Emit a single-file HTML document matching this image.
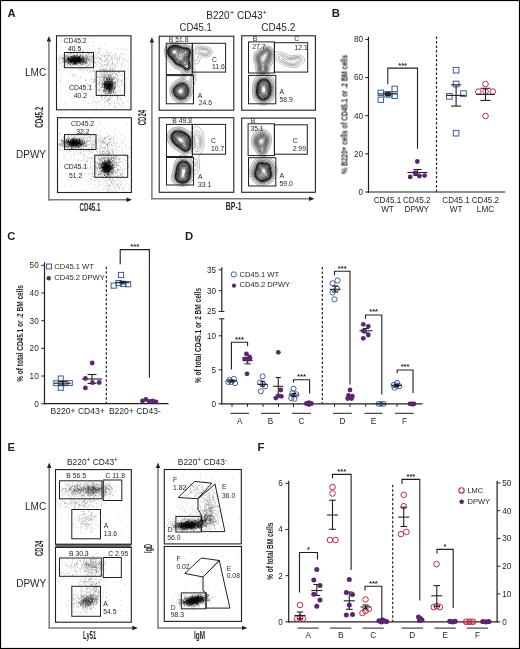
<!DOCTYPE html>
<html><head><meta charset="utf-8"><style>
html,body{margin:0;padding:0;background:#fff;}
svg{display:block;will-change:transform;}
text{font-family:"Liberation Sans", sans-serif;fill:#231f20;}
</style></head><body>
<svg width="520" height="649" viewBox="0 0 520 649"><rect x="0.5" y="0.5" width="519" height="648" fill="#fff" stroke="#000" stroke-width="1.2"/><text x="7.5" y="17.2" font-size="11.3" font-weight="bold" fill="#000">A</text><text x="331.8" y="17.0" font-size="11.3" font-weight="bold" fill="#000">B</text><text x="7.3" y="240" font-size="11.3" font-weight="bold" fill="#000">C</text><text x="185" y="240" font-size="11.3" font-weight="bold" fill="#000">D</text><text x="7.5" y="451.3" font-size="11.3" font-weight="bold" fill="#000">E</text><text x="257.4" y="451.2" font-size="11.3" font-weight="bold" fill="#000">F</text><line x1="48.9" y1="39.5" x2="48.9" y2="200.5" stroke="#7a7a7a" stroke-width="1.5"/><polygon points="46.699999999999996,41.5 48.9,36.0 51.1,41.5" fill="#231f20"/><line x1="48.15" y1="199.8" x2="128.5" y2="199.8" stroke="#7a7a7a" stroke-width="1.5"/><polygon points="126.5,197.60000000000002 132.0,199.8 126.5,202.0" fill="#231f20"/><path d="M95.0 74.2h0.55M89.5 57.5h0.55M85.9 56.1h0.55M96.2 88.8h0.55M85.2 61.3h0.55M104.8 75.0h0.55M97.1 57.0h0.55M94.4 79.7h0.55M68.1 63.6h0.55M58.2 66.7h0.55M69.7 73.8h0.55M98.1 67.4h0.55M94.0 71.6h0.55M64.4 63.3h0.55M75.4 58.7h0.55M116.2 58.7h0.55M94.3 82.4h0.55M83.3 68.4h0.55M97.2 70.9h0.55M70.5 71.1h0.55M122.2 48.3h0.55M112.2 71.7h0.55M82.2 98.0h0.55M110.2 53.2h0.55M96.5 78.1h0.55M91.2 79.6h0.55M93.7 79.3h0.55M123.8 60.5h0.55M99.1 63.5h0.55M97.5 53.4h0.55M83.4 67.3h0.55M113.0 86.0h0.55M68.5 58.9h0.55M107.9 42.1h0.55M85.7 68.6h0.55M120.1 79.7h0.55M88.5 64.8h0.55M90.0 91.3h0.55M86.4 65.7h0.55M102.1 68.3h0.55M91.1 54.4h0.55M94.8 63.8h0.55M118.3 79.1h0.55M94.5 79.4h0.55M88.2 84.7h0.55M94.9 78.2h0.55M69.2 74.9h0.55M61.2 41.5h0.55M88.9 57.4h0.55M98.3 101.4h0.55M78.4 61.3h0.55M99.1 76.9h0.55M91.5 67.1h0.55M109.0 77.3h0.55M74.3 68.9h0.55M95.7 55.2h0.55M100.2 58.0h0.55M114.4 72.7h0.55M96.8 61.7h0.55M92.6 42.0h0.55M72.4 75.1h0.55M60.1 80.6h0.55M78.1 80.9h0.55M97.6 48.5h0.55M120.0 90.2h0.55M93.7 66.2h0.55M91.8 56.3h0.55M117.0 62.4h0.55M94.0 58.9h0.55M82.5 52.1h0.55M120.1 67.8h0.55M114.3 70.2h0.55M81.1 65.4h0.55M83.8 70.1h0.55M87.5 65.8h0.55M67.4 58.7h0.55M128.1 60.6h0.55M73.9 74.7h0.55M123.1 49.6h0.55M90.8 61.2h0.55M59.8 80.3h0.55M94.5 71.0h0.55M80.0 76.4h0.55M84.2 68.0h0.55M72.8 53.0h0.55M121.7 62.9h0.55M100.8 69.5h0.55M86.2 62.9h0.55M107.6 65.8h0.55M92.0 70.3h0.55M118.5 79.5h0.55M102.7 62.1h0.55M67.4 83.3h0.55M114.3 68.0h0.55M105.8 80.9h0.55M111.6 82.9h0.55M85.9 91.2h0.55M70.1 82.1h0.55M104.9 82.2h0.55M72.1 46.4h0.55M111.3 55.8h0.55M94.8 81.8h0.55M62.1 40.5h0.55M100.2 70.6h0.55M90.1 70.5h0.55M77.8 48.8h0.55M91.7 56.4h0.55M62.1 77.1h0.55M93.8 75.7h0.55M75.2 60.8h0.55M75.0 57.6h0.55M98.9 59.0h0.55M102.1 74.8h0.55M112.8 68.7h0.55M94.7 49.7h0.55M85.8 80.4h0.55M93.4 71.1h0.55M89.2 86.2h0.55M94.6 39.2h0.55M81.2 42.4h0.55M121.7 70.7h0.55M71.5 56.8h0.55M117.6 72.2h0.55M96.0 69.3h0.55M95.8 81.3h0.55M106.1 73.0h0.55M74.1 77.2h0.55M81.3 85.3h0.55M69.6 68.1h0.55M94.9 51.5h0.55M129.4 90.4h0.55M85.7 80.8h0.55M100.0 69.1h0.55M96.7 54.9h0.55M89.6 67.5h0.55M118.8 74.7h0.55M94.9 91.4h0.55M83.9 64.5h0.55M58.7 92.0h0.55M114.3 82.8h0.55M108.4 71.5h0.55M99.3 66.5h0.55M90.9 70.8h0.55M125.2 77.8h0.55M93.8 61.9h0.55M82.3 92.4h0.55M105.1 70.9h0.55M88.1 54.5h0.55M93.7 82.2h0.55M87.1 66.8h0.55M90.6 71.5h0.55M63.1 66.7h0.55M77.9 82.4h0.55M79.6 78.1h0.55M125.5 65.6h0.55M83.0 72.7h0.55M95.0 56.1h0.55M104.2 98.2h0.55M89.8 67.2h0.55M74.1 74.5h0.55M70.1 54.5h0.55M120.6 57.3h0.55M116.6 91.3h0.55M100.2 77.7h0.55M83.1 51.1h0.55M95.8 90.7h0.55M114.2 56.8h0.55M77.9 62.9h0.55M100.8 67.1h0.55M99.3 74.2h0.55M89.0 69.4h0.55M99.1 68.8h0.55M105.1 96.2h0.55M106.8 70.8h0.55M61.3 75.4h0.55M112.1 79.9h0.55M92.0 46.1h0.55M87.6 60.5h0.55M107.7 101.6h0.55M99.3 59.1h0.55M71.6 69.2h0.55M91.5 53.9h0.55M97.3 53.9h0.55M117.2 84.9h0.55M116.7 63.4h0.55M105.3 68.2h0.55M87.2 65.3h0.55M69.0 49.8h0.55M110.9 67.3h0.55M99.3 84.0h0.55M60.3 59.0h0.55M98.5 75.5h0.55M87.5 84.4h0.55M99.2 53.0h0.55M76.4 81.3h0.55M104.3 43.4h0.55M122.0 78.4h0.55M121.9 64.6h0.55M89.1 54.2h0.55M126.8 60.9h0.55M98.3 46.6h0.55M87.3 83.8h0.55M70.0 85.0h0.55M101.7 55.4h0.55M85.0 63.6h0.55M94.0 62.5h0.55M78.5 65.7h0.55M74.5 51.9h0.55M94.0 82.4h0.55M64.4 70.0h0.55M82.0 56.3h0.55M112.1 62.7h0.55M125.0 59.1h0.55M102.7 66.8h0.55M79.9 78.2h0.55M91.9 78.4h0.55M94.1 54.8h0.55M93.0 70.7h0.55M114.2 57.3h0.55M94.2 45.9h0.55M108.0 54.9h0.55M58.9 69.2h0.55M117.1 48.7h0.55M73.2 59.6h0.55M72.4 75.3h0.55M78.9 59.9h0.55M106.7 59.4h0.55M103.7 56.4h0.55M70.8 44.3h0.55M99.9 69.6h0.55M98.2 70.7h0.55M63.9 55.8h0.55M68.3 80.5h0.55M111.4 56.5h0.55M67.2 65.0h0.55M105.5 54.9h0.55M115.8 54.9h0.55M89.3 48.9h0.55M75.5 89.4h0.55M111.4 64.4h0.55M77.6 43.5h0.55M87.1 69.6h0.55M93.3 68.7h0.55M72.6 69.1h0.55M94.2 88.1h0.55M79.7 69.1h0.55M69.5 55.5h0.55M77.2 53.7h0.55M86.5 59.4h0.55M81.5 58.9h0.55M67.8 54.3h0.55M74.7 56.7h0.55M81.3 60.0h0.55M58.9 60.4h0.55M59.2 56.3h0.55M73.9 47.5h0.55M79.3 60.9h0.55M75.8 57.5h0.55M72.8 54.1h0.55M74.2 56.7h0.55M79.3 52.8h0.55M81.3 60.9h0.55M76.0 57.4h0.55M85.7 50.0h0.55M84.4 61.5h0.55M82.0 62.3h0.55M68.8 58.4h0.55M86.9 62.6h0.55M80.9 50.9h0.55M85.5 67.0h0.55M92.1 61.4h0.55M75.9 44.8h0.55M83.3 51.0h0.55M59.8 56.2h0.55M95.8 57.8h0.55M81.8 70.5h0.55M100.3 59.4h0.55M74.6 52.4h0.55M68.3 62.6h0.55M83.5 60.7h0.55M91.9 55.4h0.55M77.2 64.4h0.55M86.2 66.4h0.55M83.6 58.1h0.55M83.1 54.0h0.55M77.2 61.9h0.55M69.6 54.8h0.55M90.6 62.3h0.55M69.6 59.9h0.55M88.6 43.4h0.55M76.3 63.3h0.55M87.5 70.2h0.55M93.9 61.9h0.55M82.2 64.7h0.55M70.4 59.8h0.55M90.7 71.7h0.55M75.8 59.7h0.55M80.8 68.1h0.55M77.6 68.8h0.55M64.5 58.9h0.55M75.2 64.7h0.55M92.6 50.9h0.55M65.2 62.0h0.55M68.8 50.9h0.55M92.5 63.0h0.55M84.9 57.1h0.55M92.4 58.6h0.55M93.4 54.5h0.55M66.0 61.2h0.55M68.2 64.1h0.55M81.6 54.5h0.55M79.0 57.9h0.55M90.8 56.2h0.55M71.9 67.3h0.55M109.3 72.0h0.55M78.9 61.3h0.55M99.5 59.3h0.55M64.3 60.7h0.55M84.3 55.0h0.55M87.3 55.4h0.55M76.0 61.3h0.55M86.7 58.0h0.55M85.0 54.7h0.55M72.9 53.9h0.55M93.8 59.8h0.55M67.6 57.9h0.55M74.9 64.2h0.55M72.7 75.2h0.55M91.4 59.3h0.55M88.0 72.3h0.55M74.7 57.8h0.55M95.0 63.0h0.55M87.4 57.0h0.55M104.9 70.3h0.55M85.9 64.1h0.55M75.3 62.6h0.55M87.6 58.0h0.55M67.6 58.0h0.55M69.5 58.0h0.55M81.5 66.7h0.55M105.7 60.1h0.55M61.1 57.0h0.55M79.1 48.0h0.55M82.8 50.9h0.55M82.2 59.3h0.55M73.6 59.6h0.55M70.4 56.3h0.55M103.8 71.9h0.55M96.5 64.2h0.55M68.5 68.7h0.55M77.2 59.6h0.55M73.9 60.6h0.55M71.9 59.5h0.55M62.8 57.8h0.55M109.9 59.6h0.55M74.7 63.2h0.55M87.9 53.3h0.55M75.1 65.5h0.55M81.8 60.7h0.55M99.8 55.9h0.55M79.2 56.9h0.55M98.9 48.3h0.55M68.6 56.8h0.55M87.3 63.6h0.55M97.5 50.6h0.55M88.5 58.2h0.55M68.7 63.2h0.55M65.1 47.5h0.55M72.8 51.0h0.55M68.9 62.2h0.55M82.4 69.5h0.55M75.2 50.8h0.55M67.4 54.5h0.55M61.0 62.6h0.55M69.0 48.1h0.55M87.8 59.3h0.55M83.0 60.6h0.55M86.8 60.2h0.55M95.3 62.5h0.55M83.5 62.5h0.55M57.6 59.0h0.55M74.4 61.2h0.55M59.0 69.8h0.55M79.5 52.7h0.55M76.7 55.7h0.55M79.3 56.2h0.55M85.7 55.7h0.55M77.5 65.9h0.55M114.0 54.0h0.55M71.5 55.0h0.55M89.0 53.1h0.55M71.2 59.8h0.55M64.3 54.3h0.55M71.3 47.4h0.55M57.8 57.5h0.55M80.1 58.9h0.55M89.2 63.3h0.55M76.9 54.7h0.55M86.8 56.5h0.55M61.6 55.2h0.55M98.3 61.3h0.55M94.2 57.1h0.55M91.1 56.4h0.55M75.8 74.9h0.55M88.7 57.0h0.55M76.8 62.0h0.55M94.9 57.1h0.55M78.2 60.7h0.55M96.4 61.9h0.55M89.4 53.4h0.55M90.2 72.6h0.55M88.8 61.5h0.55M80.2 70.7h0.55M65.0 59.3h0.55M84.4 64.5h0.55M71.9 61.8h0.55M74.1 60.7h0.55M76.2 53.2h0.55M77.7 65.3h0.55M64.5 58.6h0.55M87.3 53.6h0.55M80.6 53.6h0.55M93.9 73.9h0.55M106.3 58.7h0.55M88.4 60.7h0.55M79.4 69.3h0.55M59.5 66.3h0.55M77.3 68.5h0.55M80.6 56.0h0.55M81.9 64.4h0.55M78.5 62.9h0.55M70.7 47.2h0.55M117.9 63.5h0.55M109.6 60.3h0.55M119.4 57.7h0.55M100.2 59.1h0.55M121.1 53.1h0.55M121.1 56.8h0.55M95.9 66.3h0.55M106.9 53.5h0.55M104.1 64.7h0.55M121.1 57.9h0.55M112.5 63.6h0.55M100.9 61.8h0.55M107.6 57.3h0.55M102.6 60.3h0.55M108.3 57.2h0.55M103.3 65.6h0.55M110.4 64.4h0.55M121.2 62.9h0.55M116.9 58.4h0.55M128.4 68.5h0.55M86.5 55.2h0.55M115.3 63.9h0.55M116.1 59.6h0.55M113.0 63.3h0.55M107.1 65.1h0.55M83.1 63.2h0.55M96.6 64.8h0.55M105.5 55.6h0.55M112.1 55.4h0.55M98.0 52.2h0.55M107.7 62.5h0.55M119.3 59.3h0.55M119.5 60.1h0.55M107.0 62.9h0.55M119.6 58.3h0.55M105.3 59.2h0.55M108.9 55.5h0.55M119.3 58.0h0.55M113.1 55.9h0.55M111.9 62.0h0.55M103.4 70.1h0.55M112.1 68.9h0.55M118.6 56.7h0.55M103.8 62.2h0.55M108.7 60.2h0.55M104.9 51.0h0.55M105.5 48.9h0.55M112.1 56.4h0.55M100.1 58.9h0.55M111.0 52.8h0.55M88.8 54.7h0.55M85.5 55.2h0.55M125.5 54.7h0.55M115.2 53.1h0.55M111.3 58.4h0.55M107.3 62.8h0.55M127.3 61.0h0.55M109.4 55.1h0.55M114.4 58.8h0.55M117.2 59.8h0.55M127.1 50.1h0.55M104.7 64.4h0.55M104.1 56.0h0.55M105.1 53.1h0.55M109.3 72.2h0.55M120.6 54.5h0.55M98.4 58.0h0.55M119.0 55.9h0.55M100.4 64.4h0.55M117.5 58.1h0.55M95.7 52.3h0.55M100.3 48.8h0.55M116.2 56.8h0.55M113.3 69.3h0.55M120.9 54.2h0.55M117.6 65.8h0.55M99.8 55.2h0.55M106.8 52.0h0.55M124.2 48.0h0.55M95.8 58.7h0.55M105.5 60.8h0.55M111.0 58.9h0.55M120.5 49.3h0.55M108.0 56.4h0.55M109.5 61.1h0.55M98.0 56.8h0.55M116.7 61.7h0.55M100.5 70.2h0.55M111.3 72.5h0.55M116.6 61.1h0.55M105.7 57.3h0.55M105.7 57.2h0.55M116.2 58.0h0.55M103.1 54.0h0.55M107.5 55.5h0.55M106.0 65.2h0.55M112.0 62.5h0.55M111.9 60.3h0.55M106.6 58.5h0.55M116.4 54.6h0.55M122.7 60.2h0.55M99.8 57.6h0.55M100.6 60.8h0.55M100.1 65.7h0.55M99.4 48.6h0.55M100.0 50.0h0.55M107.6 65.3h0.55M115.1 53.3h0.55M99.6 68.9h0.55M111.5 60.0h0.55M119.6 72.3h0.55M122.3 60.7h0.55M111.9 63.1h0.55M101.3 54.7h0.55M108.6 55.3h0.55M107.3 60.5h0.55M106.7 59.2h0.55M112.8 65.2h0.55M102.6 55.9h0.55M90.0 55.4h0.55M113.9 60.2h0.55M96.8 58.1h0.55M108.3 62.5h0.55M101.5 58.7h0.55M88.0 54.2h0.55M125.8 49.1h0.55M104.3 61.1h0.55M103.9 56.0h0.55M107.3 60.0h0.55M107.1 50.6h0.55M106.4 55.7h0.55M102.0 61.1h0.55M115.0 64.5h0.55M102.5 64.6h0.55M120.9 65.7h0.55M123.3 59.3h0.55M106.1 64.1h0.55M93.0 61.0h0.55M102.2 58.2h0.55M88.8 55.5h0.55M107.8 64.4h0.55M118.9 59.6h0.55M105.9 55.8h0.55M112.4 58.8h0.55M114.7 68.8h0.55M107.6 52.5h0.55M98.5 52.7h0.55M94.8 66.5h0.55M110.5 52.4h0.55M115.2 66.3h0.55M104.0 56.6h0.55M104.3 61.4h0.55M115.0 65.9h0.55M121.3 65.9h0.55M123.0 63.3h0.55M91.2 59.3h0.55M111.5 58.1h0.55M117.1 84.4h0.55M98.7 102.4h0.55M114.7 90.2h0.55M117.3 98.6h0.55M111.4 63.4h0.55M101.2 83.4h0.55M98.2 90.0h0.55M119.9 83.2h0.55M96.7 108.3h0.55M103.5 75.7h0.55M110.4 92.3h0.55M100.9 95.9h0.55M103.1 78.8h0.55M109.8 95.7h0.55M101.7 91.3h0.55M100.9 101.8h0.55M107.5 86.7h0.55M115.2 96.9h0.55M120.7 91.3h0.55M102.0 82.6h0.55M113.1 93.8h0.55M122.0 92.2h0.55M118.6 103.2h0.55M109.6 73.1h0.55M96.2 73.6h0.55M123.9 79.5h0.55M120.3 93.9h0.55M125.2 98.0h0.55M107.0 86.0h0.55M108.9 89.8h0.55M102.7 87.7h0.55M124.1 71.0h0.55M110.6 78.9h0.55M109.9 96.4h0.55M107.4 95.7h0.55M92.1 99.1h0.55M102.0 94.2h0.55M109.8 62.1h0.55M100.4 90.2h0.55M123.5 90.9h0.55M110.6 73.9h0.55M122.3 106.1h0.55M108.3 85.8h0.55M91.8 96.8h0.55M120.6 93.4h0.55M98.1 101.4h0.55M95.7 85.9h0.55M110.8 96.8h0.55M112.2 91.9h0.55M100.4 75.1h0.55M108.6 80.9h0.55M94.9 75.3h0.55M103.1 69.5h0.55M94.5 71.6h0.55M109.8 92.1h0.55M128.1 73.0h0.55M101.2 97.1h0.55M105.8 84.7h0.55M125.1 84.6h0.55M96.4 74.8h0.55M111.4 91.1h0.55M94.3 78.1h0.55M113.3 93.8h0.55M101.6 94.2h0.55M113.7 70.2h0.55M104.9 92.2h0.55M102.3 66.6h0.55M105.2 95.5h0.55M123.8 66.1h0.55M117.6 100.3h0.55M117.8 89.5h0.55M96.4 94.3h0.55M100.8 62.8h0.55M126.2 78.9h0.55M122.7 103.9h0.55M123.5 87.8h0.55M96.0 86.2h0.55M86.0 71.0h0.55M108.9 78.1h0.55M106.4 86.9h0.55M127.3 101.0h0.55M107.6 100.1h0.55M100.2 84.6h0.55M117.1 75.6h0.55M105.2 74.8h0.55M109.2 104.3h0.55M100.5 90.3h0.55M99.0 76.5h0.55M95.6 102.5h0.55M100.8 95.0h0.55M104.7 96.0h0.55M110.9 90.8h0.55M114.1 82.2h0.55M104.0 70.8h0.55M103.6 73.8h0.55M106.6 78.4h0.55M109.0 92.5h0.55M93.8 79.9h0.55M98.6 95.5h0.55M125.1 96.5h0.55M104.5 102.7h0.55M92.9 103.0h0.55M101.4 60.2h0.55M97.7 89.7h0.55M105.9 89.0h0.55M93.2 81.2h0.55M112.7 90.2h0.55M120.0 88.8h0.55M110.6 68.8h0.55M95.5 101.3h0.55M98.6 93.3h0.55M107.4 77.6h0.55M104.5 82.9h0.55M103.1 95.5h0.55M114.5 82.2h0.55M98.9 90.8h0.55M107.0 98.3h0.55M107.7 86.3h0.55M99.4 78.9h0.55M98.0 84.0h0.55M103.7 95.4h0.55M104.0 86.0h0.55M95.8 104.4h0.55M113.1 105.9h0.55M116.0 102.9h0.55M105.5 95.2h0.55M119.8 105.0h0.55M112.2 95.7h0.55M120.8 81.3h0.55M112.2 79.1h0.55M101.1 81.7h0.55M106.5 89.5h0.55M112.6 73.5h0.55M128.3 99.8h0.55M115.4 84.3h0.55M107.1 93.6h0.55M112.2 70.8h0.55M89.1 98.2h0.55M111.8 86.9h0.55M122.1 75.9h0.55M109.7 103.0h0.55M106.0 83.7h0.55M109.2 83.4h0.55M123.9 78.7h0.55M117.0 75.1h0.55M114.9 86.9h0.55M81.4 87.9h0.55M97.0 83.4h0.55M123.8 76.5h0.55M97.1 102.8h0.55M109.2 103.8h0.55M111.3 78.9h0.55M107.3 100.6h0.55M117.7 88.0h0.55M108.5 86.8h0.55M102.1 107.9h0.55M108.1 76.4h0.55M103.1 95.5h0.55M114.6 86.6h0.55M101.1 88.2h0.55M90.8 74.6h0.55M116.2 83.1h0.55M111.9 100.5h0.55M114.7 88.2h0.55M129.9 94.9h0.55M104.4 95.5h0.55M112.2 79.2h0.55M108.8 86.3h0.55M87.8 86.2h0.55M105.1 83.5h0.55M91.1 84.4h0.55M107.6 89.0h0.55M96.3 94.5h0.55M95.5 85.7h0.55M121.4 80.9h0.55M102.7 99.0h0.55M104.1 84.9h0.55M110.3 98.8h0.55M85.4 79.5h0.55M97.7 76.9h0.55M99.2 79.4h0.55M111.1 78.9h0.55M109.3 92.1h0.55M100.5 89.3h0.55M124.8 91.3h0.55M101.5 87.3h0.55M98.6 90.8h0.55M116.8 79.6h0.55M105.9 99.4h0.55M102.9 89.9h0.55M103.6 97.8h0.55M108.7 99.4h0.55M107.5 101.2h0.55M117.2 102.9h0.55M128.5 103.1h0.55M123.6 103.4h0.55M116.8 94.8h0.55M111.0 101.7h0.55M110.1 91.2h0.55M119.0 100.1h0.55M108.5 100.7h0.55M110.2 104.0h0.55M101.8 97.3h0.55M114.3 102.7h0.55M109.0 99.1h0.55M105.3 101.7h0.55M121.4 96.7h0.55M124.2 106.2h0.55M108.4 105.9h0.55M100.3 93.3h0.55M101.7 100.0h0.55M109.4 99.4h0.55M112.8 91.3h0.55M116.0 94.9h0.55M106.7 99.9h0.55M102.8 95.1h0.55M104.0 101.9h0.55M116.7 104.8h0.55M104.0 98.0h0.55M104.6 104.2h0.55M95.7 108.2h0.55M108.1 98.1h0.55M114.7 107.2h0.55M114.7 107.3h0.55M113.1 108.1h0.55M122.0 101.5h0.55M123.5 102.8h0.55M112.7 97.4h0.55M109.7 105.9h0.55M101.5 105.2h0.55M114.8 103.4h0.55M94.3 101.5h0.55M117.2 98.2h0.55M112.7 90.1h0.55M117.4 98.7h0.55M119.0 92.8h0.55M117.5 100.8h0.55M118.5 97.4h0.55M105.4 98.5h0.55M109.8 96.9h0.55M106.4 93.4h0.55M121.4 107.5h0.55M118.6 107.8h0.55M105.1 101.2h0.55M100.9 94.9h0.55M119.8 98.6h0.55M106.9 106.0h0.55M126.4 104.4h0.55M102.3 103.9h0.55M123.0 99.5h0.55M105.8 107.1h0.55M113.1 96.5h0.55M109.0 98.2h0.55M114.4 102.5h0.55M121.2 105.5h0.55M99.5 104.0h0.55M119.2 104.3h0.55M120.2 99.3h0.55M104.4 106.7h0.55M103.5 91.2h0.55M120.2 98.4h0.55M109.6 95.0h0.55M101.4 96.2h0.55M109.1 103.8h0.55M93.6 105.8h0.55M102.5 96.7h0.55M114.5 55.6h0.55M57.8 74.2h0.55M126.7 86.7h0.55M74.9 42.2h0.55M78.3 107.0h0.55M118.5 72.7h0.55M123.1 54.0h0.55M111.4 92.1h0.55M81.3 96.2h0.55M91.0 82.5h0.55M118.7 103.6h0.55M83.1 42.4h0.55M116.5 74.8h0.55M114.8 90.8h0.55M91.4 103.6h0.55M123.3 83.3h0.55M85.1 80.4h0.55M112.4 64.5h0.55M104.2 78.1h0.55M81.2 76.9h0.55M96.1 102.8h0.55M101.6 97.0h0.55M96.5 90.4h0.55M64.7 104.2h0.55M128.5 92.8h0.55M59.3 70.1h0.55M126.8 91.4h0.55M96.1 57.7h0.55M65.9 70.4h0.55M117.6 96.8h0.55M88.8 38.4h0.55M109.6 57.3h0.55M118.1 71.9h0.55M96.6 98.8h0.55M60.2 55.8h0.55M117.8 96.7h0.55M108.2 53.9h0.55M124.3 58.2h0.55M76.6 76.8h0.55M115.0 84.2h0.55M121.5 100.9h0.55M83.0 100.9h0.55M87.1 54.3h0.55M81.4 91.0h0.55M73.8 64.4h0.55M81.2 93.2h0.55M64.6 102.2h0.55M113.5 71.3h0.55M88.3 103.6h0.55M98.8 45.2h0.55M77.7 48.1h0.55M83.3 92.4h0.55M112.6 58.4h0.55M91.5 79.1h0.55M100.9 72.6h0.55M88.0 46.6h0.55M98.0 91.6h0.55M123.4 90.7h0.55" stroke="#000" stroke-width="0.55" stroke-opacity="0.5" fill="none"/><path d="M79.6 59.7h0.55M79.4 60.9h0.55M88.3 59.9h0.55M93.8 57.4h0.55M82.6 57.0h0.55M91.5 59.0h0.55M76.5 62.8h0.55M87.0 56.7h0.55M74.2 55.8h0.55M78.1 59.7h0.55M74.2 57.9h0.55M73.9 57.8h0.55M81.2 64.5h0.55M61.6 59.7h0.55M73.7 61.5h0.55M69.4 59.6h0.55M68.7 62.1h0.55M77.8 59.5h0.55M80.0 59.3h0.55M64.6 61.8h0.55M79.3 59.5h0.55M84.9 63.7h0.55M68.3 57.7h0.55M89.4 64.3h0.55M71.1 56.5h0.55M71.9 58.5h0.55M64.3 60.1h0.55M66.8 56.4h0.55M84.3 58.0h0.55M76.4 61.9h0.55M83.5 59.0h0.55M77.4 57.5h0.55M91.0 61.9h0.55M68.2 60.0h0.55M82.7 61.4h0.55M91.6 64.1h0.55M72.7 59.7h0.55M66.7 60.7h0.55M78.2 68.1h0.55M77.8 53.7h0.55M71.6 60.3h0.55M67.0 57.4h0.55M74.1 61.0h0.55M75.7 57.3h0.55M83.3 58.4h0.55M73.0 55.9h0.55M70.7 62.0h0.55M64.1 59.8h0.55M82.7 58.9h0.55M78.9 56.6h0.55M87.5 63.3h0.55M78.9 54.7h0.55M68.6 62.9h0.55M90.7 60.9h0.55M87.0 58.2h0.55M75.5 60.0h0.55M80.4 55.4h0.55M84.5 64.0h0.55M67.8 55.9h0.55M79.8 58.0h0.55M58.0 62.4h0.55M78.2 58.6h0.55M93.9 60.4h0.55M71.0 60.3h0.55M68.7 57.7h0.55M80.1 58.3h0.55M73.4 65.0h0.55M83.9 62.4h0.55M81.2 61.5h0.55M88.7 59.9h0.55M91.8 57.1h0.55M75.0 55.9h0.55M74.2 61.6h0.55M88.6 58.0h0.55M77.0 58.9h0.55M71.1 56.4h0.55M77.5 54.8h0.55M77.9 60.1h0.55M71.7 57.0h0.55M65.9 65.6h0.55M66.3 64.7h0.55M81.8 58.9h0.55M67.7 63.1h0.55M90.8 57.2h0.55M74.6 63.2h0.55M79.7 66.0h0.55M72.4 61.6h0.55M67.0 66.3h0.55M71.2 53.4h0.55M76.0 59.6h0.55M92.3 59.0h0.55M76.9 61.8h0.55M89.7 59.8h0.55M85.3 61.6h0.55M74.6 60.2h0.55M77.2 57.3h0.55M86.7 55.8h0.55M86.4 62.9h0.55M76.3 57.7h0.55M75.2 61.4h0.55M82.9 60.9h0.55M84.9 58.3h0.55M78.9 55.3h0.55M83.1 60.5h0.55M73.7 63.5h0.55M82.5 51.6h0.55M77.3 55.6h0.55M85.5 67.5h0.55M72.9 60.2h0.55M75.0 61.1h0.55M82.2 63.9h0.55M69.1 64.7h0.55M69.5 60.8h0.55M86.3 62.1h0.55M69.5 57.9h0.55M73.3 59.8h0.55M86.2 56.1h0.55M80.7 61.8h0.55M81.5 61.4h0.55M89.1 61.5h0.55M83.9 61.7h0.55M91.3 54.3h0.55M87.3 59.2h0.55M74.8 57.1h0.55M62.1 58.9h0.55M71.5 61.5h0.55M65.2 64.3h0.55M79.2 59.3h0.55M71.3 57.6h0.55M68.0 58.4h0.55M77.0 59.5h0.55M65.7 59.2h0.55M69.9 60.5h0.55M91.9 61.9h0.55M74.5 55.1h0.55M65.7 54.9h0.55M82.8 57.7h0.55M77.5 58.1h0.55M77.7 64.2h0.55M71.5 59.0h0.55M70.5 62.6h0.55M68.8 56.6h0.55M65.9 55.8h0.55M80.8 67.7h0.55M69.0 62.9h0.55M79.0 56.7h0.55M74.8 59.3h0.55M71.5 65.8h0.55M61.8 61.1h0.55M79.7 58.3h0.55M78.2 62.6h0.55M78.2 61.3h0.55M82.5 53.9h0.55M88.8 66.8h0.55M84.8 63.0h0.55M65.7 59.6h0.55M70.5 58.2h0.55M84.7 57.6h0.55M76.0 54.3h0.55M75.7 60.3h0.55M71.4 57.8h0.55M92.1 56.4h0.55M68.6 57.6h0.55M86.6 66.3h0.55M79.7 57.8h0.55M73.6 63.2h0.55M69.7 64.4h0.55M88.3 60.2h0.55M82.2 62.2h0.55M89.4 56.8h0.55M86.4 58.9h0.55M70.9 60.3h0.55M75.3 57.0h0.55M64.2 57.2h0.55M88.6 65.9h0.55M82.2 63.6h0.55M72.9 59.8h0.55M79.3 56.8h0.55M69.1 60.3h0.55M74.4 56.8h0.55M80.1 59.2h0.55M85.2 60.0h0.55M74.6 60.4h0.55M75.6 58.0h0.55M73.8 62.2h0.55M82.2 63.9h0.55M63.5 58.8h0.55M73.7 60.5h0.55M73.4 58.5h0.55M83.3 60.5h0.55M67.7 64.0h0.55M85.0 58.3h0.55M83.7 57.8h0.55M86.0 59.3h0.55M70.6 58.9h0.55M70.9 60.6h0.55M78.4 60.1h0.55M72.5 49.0h0.55M77.7 54.3h0.55M79.0 63.4h0.55M79.2 58.8h0.55M75.6 59.6h0.55M72.6 58.2h0.55M69.6 63.6h0.55M76.9 62.9h0.55M75.0 60.2h0.55M75.6 61.4h0.55M83.6 60.7h0.55M71.6 57.7h0.55M90.3 59.2h0.55M74.7 64.4h0.55M85.7 61.6h0.55M73.8 67.1h0.55M80.1 61.6h0.55M75.6 55.8h0.55M66.3 61.2h0.55M80.1 59.3h0.55M67.6 55.7h0.55M74.4 55.6h0.55M84.2 63.5h0.55M99.6 62.6h0.55M72.3 57.4h0.55M75.6 62.9h0.55M81.9 61.8h0.55M78.7 62.0h0.55M88.6 56.8h0.55M73.3 55.8h0.55M89.9 63.9h0.55M83.0 56.4h0.55M78.4 59.3h0.55M77.6 59.4h0.55M81.2 58.8h0.55M83.8 60.7h0.55M74.7 59.7h0.55M73.5 62.4h0.55M74.8 60.9h0.55M73.9 55.5h0.55M84.2 56.8h0.55M82.4 61.3h0.55M63.8 57.2h0.55M72.9 57.5h0.55M67.5 62.2h0.55M75.1 61.2h0.55M73.6 60.9h0.55M71.0 59.9h0.55M81.7 60.1h0.55M73.3 56.7h0.55M78.3 61.0h0.55M74.9 57.7h0.55M81.3 67.4h0.55M74.6 61.0h0.55M80.0 52.3h0.55M78.0 57.9h0.55M88.1 59.2h0.55M70.8 59.3h0.55M78.3 58.3h0.55M76.6 55.9h0.55M75.2 62.3h0.55M92.8 62.1h0.55M79.2 63.6h0.55M85.2 65.0h0.55M85.7 59.6h0.55M79.1 60.5h0.55M79.4 60.6h0.55M70.7 53.7h0.55M71.6 53.9h0.55M77.5 60.0h0.55M63.6 62.1h0.55M83.9 60.3h0.55M90.3 65.6h0.55M67.4 63.1h0.55M80.5 61.3h0.55M84.5 57.8h0.55M72.3 57.5h0.55M71.0 59.7h0.55M65.4 56.9h0.55M81.6 59.8h0.55M80.1 54.3h0.55M70.7 58.3h0.55M77.3 58.2h0.55M84.5 59.8h0.55M77.1 60.0h0.55M82.7 58.6h0.55M86.0 61.4h0.55M78.2 60.1h0.55M81.2 63.0h0.55M84.6 61.1h0.55M84.0 60.4h0.55M87.0 59.9h0.55M60.4 64.0h0.55M77.9 56.5h0.55M75.4 57.3h0.55M93.8 61.5h0.55M64.5 61.6h0.55M73.8 65.8h0.55M68.6 53.3h0.55M77.5 59.0h0.55M73.7 53.6h0.55M80.4 65.0h0.55M61.7 63.5h0.55M72.5 67.0h0.55M80.5 59.4h0.55M85.8 61.6h0.55M72.3 62.1h0.55M72.9 54.6h0.55M93.3 59.0h0.55M72.1 61.0h0.55M64.5 55.9h0.55M73.0 58.4h0.55M77.6 63.4h0.55M73.2 61.5h0.55M81.8 56.7h0.55M78.8 57.2h0.55M85.5 61.4h0.55M77.1 56.0h0.55M77.9 57.7h0.55M82.6 59.6h0.55M70.5 62.8h0.55M82.8 58.2h0.55M86.3 59.1h0.55M74.5 60.4h0.55M71.0 58.7h0.55M75.7 64.6h0.55M89.0 59.2h0.55M89.9 59.9h0.55M80.0 62.7h0.55M79.3 67.2h0.55M78.9 56.4h0.55M87.4 58.8h0.55M74.6 51.0h0.55M85.0 62.5h0.55M83.4 62.9h0.55M90.5 59.9h0.55M84.5 57.8h0.55M74.2 63.2h0.55M80.1 56.0h0.55M79.9 59.5h0.55M70.5 61.3h0.55M73.8 55.3h0.55M68.1 65.3h0.55M64.9 60.7h0.55M81.9 61.9h0.55M67.2 59.0h0.55M78.1 62.4h0.55M71.8 56.5h0.55M85.0 63.3h0.55M80.0 58.2h0.55M80.3 60.3h0.55M83.7 56.3h0.55M77.9 59.5h0.55M68.1 60.6h0.55M77.3 58.8h0.55M80.2 55.7h0.55M76.6 61.3h0.55M79.3 63.2h0.55M67.4 55.5h0.55M78.9 61.4h0.55M94.0 61.8h0.55M70.0 62.4h0.55M70.2 55.5h0.55M97.9 61.0h0.55M82.7 61.7h0.55M91.5 60.9h0.55M86.7 56.9h0.55M65.9 64.3h0.55M88.8 61.5h0.55M78.8 60.5h0.55M71.5 64.6h0.55M82.3 61.5h0.55M80.0 63.1h0.55M81.0 62.2h0.55M67.6 61.5h0.55M94.5 58.4h0.55M76.0 62.7h0.55M84.7 61.9h0.55M64.1 61.5h0.55M67.5 57.5h0.55M81.4 59.1h0.55M83.5 69.4h0.55M83.2 62.2h0.55M69.8 58.1h0.55M68.5 58.4h0.55M68.3 58.0h0.55M75.3 57.0h0.55M65.6 55.9h0.55M80.6 60.2h0.55M85.2 63.1h0.55M74.3 62.0h0.55M65.5 66.8h0.55M86.6 59.4h0.55M67.7 61.1h0.55M62.0 57.7h0.55M83.0 60.2h0.55M73.1 62.9h0.55M68.7 60.9h0.55M73.0 57.5h0.55M80.7 57.0h0.55M92.2 58.2h0.55M92.9 56.7h0.55M81.8 56.4h0.55M66.3 60.5h0.55M82.4 56.2h0.55M86.5 57.6h0.55M78.0 61.1h0.55M81.8 54.6h0.55M89.9 61.7h0.55M73.6 56.9h0.55M63.4 55.9h0.55M81.4 59.0h0.55M67.9 58.4h0.55M89.5 59.0h0.55M72.3 64.1h0.55M80.7 60.1h0.55M72.1 55.3h0.55M67.6 58.6h0.55M75.2 61.1h0.55M81.4 60.7h0.55M78.8 57.0h0.55M59.8 58.4h0.55M69.4 58.0h0.55M74.8 56.3h0.55M68.1 59.7h0.55M77.9 58.0h0.55M81.0 59.3h0.55M68.8 60.1h0.55M92.1 58.0h0.55M86.3 64.1h0.55M89.0 57.5h0.55M93.1 60.3h0.55M75.0 59.3h0.55M81.8 60.2h0.55M75.6 63.9h0.55M71.2 56.9h0.55M83.3 62.1h0.55M85.8 56.8h0.55M85.7 61.4h0.55M91.1 56.3h0.55M78.7 59.2h0.55M64.3 57.9h0.55M86.0 58.6h0.55M71.2 62.6h0.55M84.9 63.0h0.55M70.7 59.8h0.55M85.2 58.0h0.55M71.0 62.5h0.55M89.5 56.5h0.55M68.9 59.6h0.55M81.9 59.6h0.55M71.4 60.5h0.55M69.3 59.9h0.55M71.9 68.0h0.55M83.5 57.5h0.55M69.0 58.7h0.55M63.8 57.8h0.55M71.1 62.7h0.55M73.6 57.6h0.55M66.3 56.5h0.55M76.5 59.4h0.55M86.1 58.1h0.55M85.5 60.8h0.55M77.0 54.0h0.55M66.7 62.2h0.55M88.2 60.6h0.55M83.1 58.8h0.55M74.0 58.0h0.55M84.8 61.0h0.55M75.1 59.0h0.55M81.5 61.0h0.55M70.3 65.1h0.55M79.1 60.0h0.55M88.8 63.1h0.55M76.3 61.6h0.55M68.4 58.1h0.55M58.9 63.7h0.55M61.8 62.0h0.55M70.4 57.1h0.55M75.4 60.8h0.55M81.9 65.3h0.55M79.9 62.6h0.55M72.2 62.1h0.55M78.2 58.6h0.55M76.2 59.8h0.55M78.5 61.2h0.55M72.9 57.8h0.55M83.0 54.9h0.55M72.1 64.7h0.55M82.5 55.0h0.55M97.8 52.2h0.55M88.5 64.7h0.55M84.3 59.3h0.55M79.9 57.3h0.55M83.5 56.6h0.55M74.8 63.0h0.55M68.1 58.9h0.55M78.3 56.0h0.55M86.3 61.0h0.55M64.9 59.9h0.55M104.2 78.6h0.55M103.9 84.5h0.55M103.9 90.8h0.55M108.2 90.9h0.55M105.0 90.0h0.55M101.0 80.5h0.55M114.6 88.0h0.55M116.9 98.8h0.55M107.1 85.7h0.55M108.3 86.7h0.55M114.6 94.2h0.55M104.0 78.1h0.55M110.5 93.6h0.55M116.2 82.4h0.55M106.7 81.3h0.55M95.7 80.8h0.55M100.6 90.0h0.55M103.7 80.0h0.55M108.1 89.1h0.55M97.6 84.1h0.55M98.9 83.4h0.55M110.9 86.2h0.55M121.8 83.9h0.55M112.4 87.7h0.55M107.2 85.0h0.55M115.7 90.8h0.55M115.4 74.9h0.55M114.7 87.6h0.55M100.4 87.3h0.55M120.4 75.8h0.55M99.3 85.8h0.55M106.1 86.4h0.55M93.6 71.1h0.55M110.3 72.8h0.55M106.9 83.7h0.55M112.4 86.0h0.55M106.5 69.3h0.55M100.5 78.2h0.55M107.7 80.2h0.55M99.0 82.1h0.55M121.6 80.6h0.55M97.5 76.6h0.55M112.4 85.9h0.55M101.2 87.2h0.55M103.4 91.0h0.55M104.5 76.1h0.55M113.1 83.2h0.55M108.4 88.4h0.55M109.0 90.5h0.55M99.4 90.3h0.55M113.5 73.0h0.55M106.5 74.3h0.55M105.3 83.3h0.55M117.6 80.8h0.55M114.2 66.3h0.55M108.7 100.1h0.55M113.2 83.9h0.55M100.8 96.8h0.55M107.3 84.6h0.55M109.5 87.9h0.55M105.8 88.6h0.55M104.1 84.3h0.55M107.6 79.3h0.55M100.9 83.0h0.55M107.6 95.0h0.55M115.7 74.3h0.55M111.8 78.8h0.55M110.1 83.9h0.55M104.8 85.2h0.55M121.7 84.3h0.55M108.9 68.3h0.55M101.7 87.0h0.55M122.5 74.4h0.55M122.0 81.4h0.55M109.0 87.8h0.55M112.6 87.3h0.55M111.3 92.3h0.55M109.6 85.0h0.55M113.8 93.5h0.55M104.4 77.0h0.55M104.5 86.3h0.55M102.3 81.4h0.55M111.3 82.2h0.55M108.6 91.0h0.55M108.0 98.5h0.55M115.0 106.4h0.55M105.3 87.5h0.55M107.5 64.2h0.55M121.0 85.2h0.55M120.9 74.3h0.55M113.2 82.2h0.55M109.4 66.2h0.55M112.9 81.6h0.55M101.1 84.6h0.55M113.0 90.6h0.55M115.1 88.2h0.55M108.4 91.7h0.55M99.5 74.5h0.55M113.1 93.4h0.55M105.7 84.7h0.55M108.7 84.2h0.55M104.0 81.6h0.55M110.0 99.2h0.55M100.0 79.8h0.55M113.2 78.9h0.55M107.1 89.3h0.55M106.5 84.4h0.55M117.0 76.2h0.55M124.6 86.6h0.55M107.6 78.7h0.55M106.9 90.2h0.55M102.3 74.3h0.55M110.7 84.7h0.55M115.0 83.3h0.55M110.6 90.9h0.55M106.9 84.2h0.55M114.5 87.9h0.55M111.4 84.4h0.55M99.3 81.7h0.55M113.5 77.0h0.55M118.8 87.1h0.55M114.1 84.4h0.55M115.0 93.3h0.55M107.3 79.7h0.55M102.1 84.9h0.55M115.2 87.3h0.55M121.3 80.6h0.55M107.2 82.0h0.55M103.9 82.3h0.55M108.6 86.9h0.55M112.4 95.6h0.55M107.1 87.8h0.55M107.9 74.1h0.55M114.7 78.0h0.55M119.3 83.8h0.55M113.9 89.1h0.55M109.9 85.6h0.55M114.5 88.6h0.55M111.7 79.0h0.55M107.9 102.3h0.55M104.0 82.2h0.55M116.2 73.9h0.55M110.4 84.4h0.55M124.8 96.9h0.55M115.4 77.8h0.55M111.1 88.4h0.55M108.4 87.4h0.55M112.5 95.1h0.55M116.6 86.4h0.55M111.5 90.3h0.55M119.9 86.3h0.55M107.9 87.6h0.55M106.3 78.0h0.55M109.2 76.7h0.55M95.2 85.8h0.55M112.7 84.1h0.55M102.3 85.2h0.55M104.0 92.9h0.55M101.5 75.4h0.55M114.9 83.9h0.55M109.9 92.2h0.55M104.2 75.7h0.55M107.4 77.7h0.55M109.2 71.6h0.55M107.5 88.5h0.55M102.4 87.2h0.55M104.4 73.8h0.55M115.2 92.1h0.55M116.3 80.8h0.55M118.3 81.7h0.55M105.6 87.4h0.55M103.5 89.6h0.55M99.1 77.5h0.55M108.2 85.8h0.55M105.8 83.5h0.55M105.7 94.1h0.55M116.6 78.9h0.55M110.7 93.9h0.55M104.6 71.8h0.55M108.6 88.3h0.55M99.6 94.9h0.55M104.4 88.7h0.55M108.0 93.3h0.55M104.3 91.2h0.55M101.3 74.1h0.55M101.8 79.8h0.55M117.2 92.4h0.55M101.8 85.9h0.55M104.0 83.2h0.55M110.6 94.2h0.55M105.9 87.4h0.55M103.5 69.9h0.55M110.9 76.2h0.55M103.3 84.7h0.55M118.7 81.3h0.55M102.5 77.3h0.55M104.0 82.4h0.55M112.0 81.0h0.55M96.9 96.1h0.55M108.8 83.9h0.55M107.3 83.4h0.55M115.0 81.6h0.55M107.7 80.7h0.55M109.2 84.0h0.55M115.0 82.8h0.55M109.6 83.9h0.55M102.0 83.6h0.55M101.7 78.2h0.55M103.9 85.3h0.55M110.0 76.6h0.55M97.1 87.7h0.55M108.7 95.8h0.55M115.4 83.3h0.55M104.6 84.5h0.55M101.5 99.4h0.55M114.0 83.3h0.55M107.8 76.5h0.55M124.1 86.7h0.55M108.2 77.8h0.55M109.0 88.6h0.55M111.2 75.6h0.55M111.4 84.8h0.55M115.1 91.9h0.55M110.5 86.9h0.55M107.6 76.3h0.55M105.9 85.5h0.55M103.1 84.7h0.55M122.5 94.7h0.55M111.1 81.3h0.55M116.7 82.4h0.55M109.0 87.0h0.55M109.3 82.4h0.55M112.9 77.0h0.55M112.0 79.0h0.55M115.6 84.9h0.55M115.1 83.9h0.55M112.5 77.5h0.55M109.8 82.4h0.55M114.6 84.5h0.55M110.6 69.9h0.55M116.3 73.5h0.55M102.0 70.2h0.55M119.2 72.3h0.55M109.2 75.0h0.55M96.8 80.2h0.55M112.8 81.6h0.55M114.6 82.7h0.55M108.5 81.5h0.55M110.7 81.3h0.55M110.9 97.3h0.55M104.5 85.4h0.55M118.0 78.7h0.55M102.6 76.2h0.55M105.7 83.3h0.55M93.1 97.7h0.55M113.1 86.5h0.55M104.3 76.2h0.55M119.1 87.0h0.55M98.2 77.6h0.55M118.4 90.8h0.55M94.1 81.7h0.55M107.2 94.2h0.55M108.2 91.9h0.55M105.6 81.4h0.55M117.8 94.3h0.55M102.4 69.0h0.55M106.1 96.4h0.55M108.5 74.5h0.55M107.9 83.2h0.55M106.5 80.6h0.55M110.7 80.8h0.55M106.6 78.3h0.55M117.0 83.0h0.55M107.8 86.6h0.55M111.1 87.8h0.55M111.8 91.6h0.55M117.2 96.6h0.55M105.8 83.7h0.55M111.9 90.2h0.55M98.9 83.3h0.55M110.8 71.2h0.55M113.7 89.4h0.55M115.2 75.0h0.55M111.0 80.3h0.55M103.3 86.9h0.55M95.0 79.9h0.55M96.8 77.6h0.55M108.9 87.1h0.55M110.8 90.4h0.55M110.8 79.6h0.55M112.5 81.3h0.55M102.1 86.2h0.55M108.9 84.0h0.55M114.3 81.8h0.55M106.1 96.0h0.55M93.9 81.5h0.55M105.7 83.1h0.55M110.4 68.9h0.55M103.7 88.1h0.55M102.2 81.4h0.55M98.6 89.3h0.55M121.2 81.8h0.55M111.5 84.4h0.55M100.9 83.0h0.55M111.1 83.8h0.55M110.7 76.8h0.55M115.5 92.7h0.55M102.2 72.9h0.55M115.5 72.7h0.55M113.1 88.3h0.55M100.9 77.9h0.55M109.2 84.5h0.55M109.4 78.0h0.55M110.0 88.5h0.55M94.8 76.7h0.55M109.6 82.2h0.55M105.7 82.2h0.55M113.2 79.2h0.55M109.3 83.6h0.55M104.5 77.2h0.55M102.0 85.1h0.55M106.4 75.2h0.55M109.7 92.4h0.55M107.6 94.2h0.55M99.5 81.8h0.55M117.8 80.0h0.55M113.3 86.3h0.55M108.4 88.9h0.55M109.3 82.6h0.55M111.5 88.7h0.55M109.5 87.4h0.55M106.8 78.6h0.55M115.0 77.4h0.55M107.1 69.3h0.55M106.3 100.7h0.55M108.4 76.1h0.55M107.5 93.0h0.55M109.1 88.3h0.55M129.0 81.4h0.55M105.0 84.5h0.55M111.0 80.6h0.55M113.5 86.9h0.55M99.2 85.0h0.55M106.5 87.7h0.55M98.9 82.0h0.55M103.8 80.0h0.55M99.1 83.7h0.55M109.3 84.4h0.55M104.4 76.2h0.55M114.4 78.0h0.55M106.6 61.4h0.55M106.3 65.7h0.55M105.5 78.2h0.55M104.6 74.7h0.55M111.7 83.7h0.55M102.7 79.6h0.55M112.3 68.5h0.55M107.0 73.0h0.55M103.0 75.7h0.55M108.1 77.9h0.55M105.3 76.4h0.55M105.2 76.6h0.55M112.5 78.8h0.55M110.1 78.6h0.55M97.2 77.2h0.55M106.9 78.2h0.55M106.9 74.5h0.55M105.8 67.0h0.55M113.7 77.3h0.55M104.4 70.9h0.55M104.5 81.3h0.55M108.2 84.4h0.55M111.9 69.6h0.55M102.3 82.5h0.55M106.9 81.8h0.55M106.5 81.4h0.55M110.0 66.1h0.55M116.4 78.6h0.55M110.8 82.6h0.55M105.9 72.8h0.55M104.7 72.5h0.55M97.8 72.6h0.55M107.9 74.9h0.55M111.0 86.8h0.55M110.3 71.6h0.55M105.6 67.9h0.55M113.7 64.7h0.55M103.3 77.0h0.55M111.8 73.7h0.55M109.5 76.5h0.55M105.5 69.7h0.55M111.7 74.5h0.55M103.5 69.9h0.55M104.3 79.7h0.55M109.0 79.4h0.55M115.0 78.4h0.55M111.1 77.4h0.55M105.2 69.4h0.55M114.1 77.2h0.55M117.3 81.0h0.55M108.8 75.6h0.55M108.1 79.0h0.55M103.8 73.7h0.55M103.7 79.0h0.55M102.3 76.6h0.55M103.9 79.5h0.55M101.6 78.2h0.55M112.7 71.8h0.55M108.3 70.0h0.55M98.8 71.6h0.55M109.7 75.5h0.55M110.3 68.5h0.55M104.0 70.0h0.55M105.3 74.0h0.55M101.8 85.5h0.55M112.0 77.7h0.55M101.1 64.1h0.55M106.1 76.8h0.55M112.6 75.9h0.55M103.7 72.1h0.55M108.8 60.4h0.55M109.3 69.4h0.55M102.5 75.2h0.55M112.3 82.6h0.55M103.3 78.2h0.55M105.8 72.0h0.55M103.5 71.9h0.55M108.9 76.2h0.55M106.0 75.8h0.55M108.8 80.5h0.55M105.4 60.3h0.55M111.9 73.7h0.55M107.0 72.5h0.55M110.7 70.7h0.55M105.6 71.8h0.55M110.2 70.3h0.55M101.3 71.3h0.55M105.2 77.1h0.55M109.5 75.8h0.55M112.2 80.0h0.55M107.3 71.1h0.55M114.7 67.5h0.55M113.6 76.2h0.55M99.8 72.4h0.55M108.4 81.7h0.55M108.2 74.7h0.55M110.1 77.2h0.55M112.3 66.0h0.55M106.1 71.4h0.55M111.7 82.6h0.55M100.6 72.3h0.55M110.2 74.8h0.55M103.0 73.6h0.55M103.0 70.0h0.55M111.3 75.1h0.55M105.1 79.1h0.55M110.2 75.2h0.55M107.4 71.4h0.55M108.8 84.6h0.55M106.3 78.4h0.55M101.1 74.2h0.55M112.8 73.9h0.55M112.8 84.5h0.55M108.2 77.4h0.55M107.4 71.0h0.55M104.9 77.1h0.55M104.1 78.7h0.55M104.0 65.1h0.55M102.5 65.7h0.55M107.2 79.7h0.55" stroke="#000" stroke-width="0.55" stroke-opacity="0.6" fill="none"/><path d="M76.1 62.3h0.6M81.3 59.0h0.6M81.6 60.8h0.6M75.0 60.9h0.6M67.9 58.4h0.6M74.5 61.2h0.6M73.1 59.7h0.6M79.8 62.8h0.6M78.8 62.5h0.6M73.0 59.4h0.6M76.6 59.4h0.6M72.5 63.3h0.6M74.0 58.1h0.6M77.4 63.7h0.6M75.4 62.5h0.6M72.8 59.0h0.6M71.6 59.7h0.6M84.2 57.7h0.6M83.2 58.0h0.6M73.8 61.7h0.6M78.2 60.6h0.6M66.8 60.7h0.6M69.9 65.1h0.6M73.9 60.4h0.6M69.3 59.0h0.6M68.5 62.0h0.6M73.7 61.1h0.6M71.6 59.0h0.6M81.4 58.1h0.6M66.0 60.8h0.6M69.3 59.1h0.6M79.6 58.4h0.6M79.4 58.6h0.6M82.5 62.7h0.6M72.6 59.6h0.6M70.8 60.4h0.6M80.7 57.1h0.6M79.6 57.4h0.6M70.7 56.4h0.6M85.5 60.1h0.6M76.2 58.6h0.6M80.3 55.8h0.6M75.1 64.4h0.6M73.1 60.0h0.6M78.4 58.4h0.6M75.1 61.9h0.6M76.0 60.7h0.6M73.3 60.6h0.6M75.3 62.9h0.6M78.6 59.5h0.6M62.8 61.4h0.6M78.8 58.2h0.6M65.0 57.7h0.6M79.6 57.9h0.6M72.7 60.4h0.6M81.1 60.0h0.6M74.5 58.9h0.6M83.2 62.1h0.6M74.5 57.2h0.6M71.0 61.2h0.6M71.4 61.8h0.6M76.8 60.6h0.6M78.3 61.0h0.6M70.7 59.3h0.6M86.7 57.6h0.6M72.6 62.1h0.6M74.2 58.4h0.6M68.4 61.1h0.6M80.1 62.8h0.6M75.3 62.1h0.6M69.8 60.3h0.6M71.6 60.3h0.6M78.8 62.1h0.6M70.1 62.5h0.6M72.6 57.9h0.6M74.1 57.1h0.6M75.0 60.6h0.6M74.0 61.1h0.6M73.4 60.0h0.6M67.8 60.1h0.6M70.7 59.1h0.6M74.5 60.4h0.6M66.8 56.9h0.6M73.5 60.9h0.6M76.8 61.8h0.6M81.5 61.0h0.6M74.9 57.9h0.6M70.3 59.1h0.6M76.3 60.4h0.6M75.0 59.7h0.6M78.2 60.4h0.6M76.5 60.6h0.6M72.3 57.9h0.6M77.5 60.8h0.6M73.9 59.2h0.6M86.4 58.5h0.6M73.9 60.5h0.6M69.2 60.2h0.6M84.0 61.9h0.6M78.2 61.2h0.6M75.6 61.9h0.6M74.2 59.2h0.6M75.5 61.8h0.6M76.7 61.3h0.6M64.9 62.4h0.6M86.7 62.7h0.6M73.4 58.3h0.6M76.4 58.0h0.6M78.6 58.9h0.6M79.8 62.7h0.6M64.8 60.6h0.6M71.5 57.2h0.6M71.9 59.6h0.6M80.2 57.0h0.6M80.3 64.0h0.6M78.0 61.1h0.6M74.9 57.6h0.6M77.7 60.8h0.6M78.7 65.1h0.6M78.6 60.9h0.6M82.8 57.3h0.6M69.3 59.2h0.6M71.7 61.4h0.6M73.4 63.5h0.6M82.6 61.5h0.6M73.1 61.2h0.6M79.1 57.9h0.6M76.7 61.4h0.6M76.1 63.1h0.6M81.1 58.3h0.6M75.6 58.3h0.6M77.9 58.3h0.6M79.6 60.8h0.6M79.9 59.7h0.6M67.7 63.5h0.6M74.1 62.8h0.6M77.2 61.3h0.6M84.1 60.7h0.6M82.0 57.0h0.6M79.4 59.5h0.6M74.3 60.0h0.6M76.7 63.3h0.6M65.7 60.1h0.6M71.4 62.3h0.6M72.9 60.9h0.6M73.0 61.3h0.6M80.1 59.2h0.6M75.2 57.2h0.6M76.5 61.7h0.6M72.2 62.2h0.6M64.6 56.3h0.6M68.1 59.0h0.6M75.1 59.8h0.6M74.7 61.4h0.6M72.6 57.5h0.6M68.8 64.2h0.6M63.2 59.6h0.6M82.3 61.0h0.6M70.9 60.0h0.6M79.3 62.4h0.6M70.5 61.5h0.6M76.3 62.2h0.6M82.0 59.3h0.6M67.8 60.8h0.6M83.9 61.4h0.6M76.2 64.8h0.6M69.8 61.8h0.6M72.1 60.1h0.6M75.4 63.0h0.6M70.3 58.9h0.6M67.0 61.0h0.6M72.7 60.8h0.6M69.6 59.3h0.6M80.2 59.7h0.6M78.1 61.1h0.6M73.2 56.9h0.6M79.9 60.3h0.6M79.9 56.0h0.6M66.7 55.7h0.6M70.6 62.1h0.6M77.8 59.9h0.6M75.7 61.5h0.6M73.5 60.8h0.6M75.7 55.6h0.6M73.1 62.7h0.6M73.0 59.7h0.6M72.0 59.0h0.6M80.6 59.5h0.6M69.9 53.8h0.6M72.1 56.1h0.6M65.9 61.6h0.6M78.5 56.2h0.6M79.3 60.9h0.6M71.1 61.5h0.6M66.9 57.6h0.6M67.8 57.8h0.6M79.4 57.3h0.6M69.2 58.1h0.6M76.0 59.3h0.6M79.3 58.6h0.6M68.6 59.0h0.6M75.2 58.1h0.6M76.4 63.6h0.6M72.1 60.1h0.6M81.7 58.7h0.6M70.7 57.8h0.6M76.9 61.0h0.6M74.2 60.1h0.6M81.3 61.7h0.6M67.9 59.9h0.6M75.4 61.4h0.6M73.8 58.7h0.6M72.6 56.4h0.6M74.7 58.8h0.6M77.2 57.9h0.6M72.7 58.0h0.6M69.5 61.3h0.6M72.5 60.8h0.6M69.2 60.1h0.6M66.4 59.0h0.6M72.3 61.1h0.6M75.7 59.6h0.6M79.0 60.3h0.6M77.5 61.4h0.6M74.5 59.3h0.6M76.4 59.1h0.6M76.7 62.1h0.6M79.0 59.1h0.6M68.4 59.8h0.6M74.1 62.1h0.6M72.9 59.5h0.6M78.4 59.0h0.6M74.0 63.3h0.6M82.2 61.2h0.6M76.1 58.0h0.6M77.6 60.0h0.6M75.9 58.9h0.6M74.7 59.5h0.6M76.3 62.8h0.6M76.6 56.6h0.6M69.9 56.7h0.6M70.8 61.0h0.6M76.8 58.7h0.6M76.1 58.4h0.6M67.7 57.1h0.6M70.5 62.7h0.6M68.1 62.4h0.6M81.4 59.5h0.6M74.5 58.7h0.6M74.6 61.2h0.6M74.8 61.9h0.6M80.7 60.6h0.6M76.4 59.8h0.6M76.5 57.7h0.6M76.8 60.3h0.6M70.4 64.2h0.6M69.9 58.2h0.6M76.1 56.0h0.6M70.8 56.9h0.6M69.9 59.6h0.6M76.3 62.1h0.6M78.8 62.3h0.6M77.7 59.0h0.6M80.3 58.9h0.6M71.7 62.9h0.6M78.7 60.3h0.6M78.5 61.6h0.6M67.9 59.7h0.6M68.8 60.1h0.6M71.4 62.6h0.6M77.3 58.3h0.6M74.6 57.5h0.6M74.9 61.0h0.6M76.0 56.0h0.6M73.0 60.9h0.6M76.2 62.2h0.6M68.3 60.9h0.6M71.5 60.3h0.6M76.7 61.3h0.6M71.8 60.3h0.6M68.9 57.1h0.6M77.5 59.8h0.6M66.6 58.2h0.6M74.8 63.0h0.6M79.9 61.5h0.6M65.8 59.7h0.6M77.1 60.7h0.6M76.8 59.4h0.6M83.5 62.8h0.6M74.2 57.9h0.6M85.0 58.8h0.6M80.7 63.7h0.6M70.0 60.5h0.6M73.0 60.9h0.6M76.3 63.8h0.6M77.7 59.9h0.6M80.3 59.3h0.6M72.9 64.4h0.6M70.6 58.9h0.6M74.9 57.8h0.6M64.2 62.0h0.6M70.8 58.8h0.6M72.8 57.9h0.6M69.3 60.2h0.6M86.7 61.4h0.6M78.4 56.9h0.6M74.6 57.5h0.6M78.6 59.4h0.6M74.9 59.7h0.6M71.8 56.8h0.6M77.6 57.1h0.6M68.8 59.3h0.6M71.2 60.4h0.6M79.8 60.4h0.6M75.7 59.9h0.6M79.0 56.2h0.6M76.5 58.0h0.6M68.5 59.9h0.6M72.8 61.0h0.6M80.2 55.2h0.6M74.3 63.8h0.6M79.0 62.8h0.6M75.2 57.0h0.6M69.1 61.3h0.6M79.5 58.4h0.6M73.4 60.4h0.6M66.0 59.2h0.6M82.8 64.3h0.6M74.2 63.5h0.6M72.1 58.3h0.6M63.5 61.8h0.6M72.8 64.6h0.6M76.4 60.3h0.6M65.7 62.9h0.6M72.9 59.6h0.6M63.7 61.7h0.6M79.7 58.7h0.6M75.2 60.7h0.6M79.5 60.1h0.6M83.3 59.4h0.6M71.7 59.0h0.6M62.0 58.3h0.6M79.8 60.4h0.6M70.6 60.6h0.6M64.6 59.3h0.6M77.3 61.3h0.6M70.9 61.7h0.6M84.1 59.0h0.6M78.4 56.8h0.6M64.9 61.1h0.6M74.9 60.3h0.6M71.8 59.3h0.6M78.8 63.3h0.6M73.7 56.6h0.6M81.1 61.1h0.6M78.2 60.3h0.6M86.4 60.0h0.6M77.3 56.2h0.6M71.8 58.5h0.6M74.6 60.6h0.6M71.0 63.4h0.6M69.4 59.0h0.6M75.9 57.4h0.6M77.6 61.2h0.6M73.3 63.7h0.6M75.2 60.5h0.6M69.9 56.5h0.6M71.6 59.3h0.6M72.5 61.4h0.6M62.8 57.6h0.6M65.6 62.6h0.6M71.9 58.9h0.6M69.2 61.7h0.6M72.7 60.3h0.6M64.6 62.2h0.6M76.7 61.0h0.6M80.9 59.5h0.6M73.9 61.3h0.6M76.9 59.4h0.6M75.0 58.9h0.6M78.3 61.8h0.6M74.8 63.7h0.6M67.1 59.4h0.6M83.3 59.1h0.6M66.7 62.7h0.6M77.5 57.5h0.6M78.6 57.9h0.6M68.0 59.6h0.6M72.4 57.7h0.6M72.9 57.9h0.6M75.1 59.9h0.6M78.5 59.0h0.6M68.1 57.3h0.6M73.5 63.0h0.6M79.0 58.6h0.6M79.5 57.6h0.6M79.8 59.1h0.6M78.6 61.2h0.6M73.4 60.6h0.6M69.4 59.8h0.6M80.2 68.1h0.6M78.3 60.1h0.6M69.7 62.0h0.6M66.5 58.3h0.6M76.6 57.5h0.6M82.5 62.1h0.6M71.9 58.8h0.6M68.2 57.1h0.6M77.0 61.2h0.6M76.5 60.4h0.6M72.0 60.6h0.6M67.4 59.9h0.6M82.2 62.6h0.6M72.4 59.2h0.6M81.7 63.5h0.6M67.3 59.1h0.6M75.9 62.4h0.6M70.6 61.2h0.6M73.3 64.7h0.6M76.9 59.6h0.6M73.1 62.0h0.6M78.2 57.7h0.6M75.9 57.2h0.6M71.0 57.3h0.6M68.1 58.5h0.6M69.9 61.0h0.6M78.8 59.4h0.6M69.2 61.5h0.6M64.6 56.0h0.6M78.4 61.2h0.6M79.7 59.5h0.6M68.4 58.9h0.6M77.6 58.4h0.6M71.3 57.1h0.6M68.9 61.6h0.6M77.1 57.6h0.6M69.4 58.8h0.6M77.5 57.6h0.6M73.9 55.6h0.6M68.5 60.8h0.6M79.3 57.6h0.6M70.9 61.5h0.6M72.8 58.8h0.6M77.4 60.3h0.6M80.4 61.5h0.6M71.9 59.7h0.6M74.5 57.2h0.6M69.9 61.9h0.6M66.8 61.9h0.6M76.2 59.6h0.6M77.5 60.9h0.6M80.9 59.1h0.6M73.6 59.4h0.6M84.2 61.8h0.6M70.2 59.2h0.6M71.2 59.9h0.6M75.9 64.5h0.6M65.6 62.0h0.6M77.0 58.5h0.6M74.0 58.9h0.6M75.1 61.9h0.6M67.2 62.6h0.6M72.9 62.9h0.6M76.9 62.4h0.6M77.6 62.1h0.6M75.1 58.3h0.6M78.2 61.4h0.6M85.3 55.9h0.6M73.8 62.1h0.6M68.5 59.5h0.6M85.4 62.8h0.6M70.4 62.8h0.6M80.8 61.5h0.6M76.7 60.4h0.6M70.5 58.9h0.6M78.5 60.2h0.6M84.1 59.3h0.6M62.8 59.3h0.6M76.2 60.7h0.6M75.2 58.3h0.6M82.3 58.6h0.6M78.4 59.4h0.6M68.9 62.8h0.6M62.3 58.2h0.6M77.0 59.2h0.6M78.6 59.7h0.6M72.6 64.3h0.6M73.8 59.6h0.6M69.5 58.5h0.6M78.1 61.1h0.6M74.9 58.6h0.6M78.3 56.5h0.6M73.2 59.5h0.6M70.7 60.3h0.6M71.6 58.4h0.6M83.9 61.4h0.6M80.9 60.1h0.6M79.8 61.5h0.6M81.0 64.7h0.6M73.8 60.5h0.6M74.7 52.9h0.6M68.0 60.0h0.6M78.1 58.8h0.6M80.6 62.6h0.6M72.9 62.8h0.6M83.7 60.9h0.6M70.1 62.9h0.6M74.2 59.2h0.6M75.6 58.9h0.6M80.4 61.6h0.6M81.1 61.2h0.6M71.0 59.7h0.6M79.4 59.2h0.6M89.6 59.5h0.6M72.1 62.3h0.6M78.7 59.9h0.6M73.8 60.9h0.6M79.2 61.5h0.6M73.5 60.9h0.6M79.2 61.5h0.6M59.6 58.2h0.6M71.1 59.5h0.6M75.9 61.8h0.6M78.1 59.7h0.6M75.1 63.5h0.6M71.9 60.6h0.6M82.8 60.7h0.6M64.8 60.7h0.6M73.1 59.8h0.6M80.3 60.9h0.6M73.7 61.8h0.6M77.2 60.2h0.6M76.5 60.5h0.6M73.3 59.1h0.6M75.1 58.1h0.6M68.7 62.6h0.6M73.8 60.0h0.6M74.3 60.0h0.6M75.1 60.1h0.6M71.0 61.9h0.6M71.5 62.1h0.6M65.4 57.9h0.6M80.0 59.7h0.6M71.6 60.8h0.6M69.8 60.2h0.6M63.9 59.1h0.6M71.8 61.1h0.6M79.4 58.3h0.6M83.0 58.8h0.6M64.7 55.2h0.6M82.7 59.8h0.6M71.8 58.5h0.6M69.5 62.7h0.6M74.6 63.6h0.6M74.0 55.3h0.6M79.2 59.3h0.6M73.8 63.1h0.6M73.7 62.3h0.6M75.0 58.5h0.6M77.5 58.8h0.6M81.1 61.9h0.6M75.3 61.2h0.6M77.8 59.4h0.6M79.5 59.5h0.6M78.1 58.1h0.6M75.5 60.8h0.6M71.1 59.2h0.6M72.3 61.5h0.6M71.4 60.9h0.6M82.6 60.7h0.6M67.0 60.3h0.6M80.2 59.4h0.6M80.6 61.2h0.6M77.1 59.5h0.6M72.5 59.5h0.6M75.4 61.1h0.6M77.1 59.4h0.6M75.4 60.8h0.6M66.9 58.5h0.6M71.1 59.6h0.6M73.7 59.5h0.6M70.7 61.4h0.6M76.5 56.7h0.6M75.1 57.8h0.6M83.6 59.1h0.6M73.1 60.2h0.6M74.1 59.9h0.6M82.8 60.5h0.6M79.3 62.3h0.6M70.2 63.4h0.6M78.5 61.9h0.6M70.8 61.7h0.6M77.2 59.0h0.6M86.5 61.2h0.6M73.9 60.4h0.6M79.6 62.3h0.6M78.0 62.5h0.6M82.4 57.6h0.6M72.7 58.2h0.6M75.6 62.9h0.6M78.4 57.9h0.6M73.6 62.1h0.6M72.4 59.8h0.6M76.6 56.4h0.6M79.0 60.7h0.6M77.9 58.1h0.6M71.3 58.8h0.6M76.4 60.2h0.6M75.7 63.6h0.6M81.6 58.6h0.6M71.8 63.5h0.6M73.5 62.8h0.6M83.1 59.0h0.6M73.8 60.2h0.6M70.8 58.1h0.6M73.1 61.7h0.6M72.9 59.6h0.6M72.8 57.3h0.6M82.5 55.4h0.6M71.8 61.2h0.6M68.1 61.2h0.6M81.4 58.3h0.6M76.1 57.8h0.6M77.6 60.2h0.6M76.2 62.8h0.6M77.5 62.7h0.6M78.3 57.6h0.6M76.4 61.0h0.6M67.9 62.7h0.6M75.4 60.8h0.6M70.6 60.2h0.6M76.6 59.4h0.6M75.5 55.8h0.6M81.9 57.8h0.6M64.2 58.1h0.6M70.9 61.1h0.6M70.5 60.6h0.6M70.3 64.5h0.6M77.8 63.9h0.6M70.0 61.4h0.6M70.3 61.2h0.6M78.5 56.8h0.6M69.4 57.7h0.6M67.6 58.6h0.6M70.3 57.1h0.6M75.6 61.1h0.6M68.5 58.9h0.6M75.1 59.6h0.6M71.6 61.6h0.6M79.3 61.4h0.6M74.0 64.0h0.6M83.8 59.2h0.6M74.5 62.4h0.6M71.1 60.8h0.6M75.3 58.6h0.6M73.9 56.9h0.6M72.3 56.0h0.6M86.4 63.0h0.6M81.2 60.6h0.6M80.0 62.6h0.6M80.1 61.9h0.6M70.5 60.9h0.6M72.4 57.7h0.6M69.3 60.9h0.6M80.3 57.3h0.6M83.8 62.9h0.6M73.1 59.1h0.6M74.7 62.0h0.6M73.1 57.8h0.6M76.7 55.9h0.6M75.7 62.3h0.6M76.5 61.6h0.6M77.5 61.5h0.6M75.7 58.3h0.6M73.9 59.9h0.6M81.3 63.3h0.6M77.1 58.5h0.6M71.4 59.6h0.6M81.9 60.7h0.6M74.7 58.5h0.6M79.4 60.6h0.6M74.7 60.2h0.6M83.4 59.7h0.6M83.4 62.5h0.6M75.3 61.8h0.6M74.4 58.3h0.6M73.7 58.2h0.6M77.6 60.0h0.6M77.8 61.7h0.6M59.4 60.6h0.6M66.0 60.3h0.6M70.6 60.2h0.6M81.8 56.6h0.6M76.0 59.8h0.6M65.5 61.3h0.6M75.2 59.0h0.6M71.4 66.4h0.6M73.0 56.4h0.6M70.3 59.3h0.6M73.1 59.8h0.6M110.0 81.8h0.6M104.7 83.8h0.6M107.4 82.6h0.6M109.9 88.5h0.6M108.6 84.3h0.6M114.2 86.3h0.6M109.8 83.3h0.6M105.8 88.0h0.6M109.0 86.2h0.6M110.1 83.9h0.6M111.7 89.1h0.6M109.0 84.8h0.6M105.4 93.7h0.6M111.0 86.3h0.6M110.3 86.0h0.6M110.6 86.1h0.6M107.9 90.0h0.6M108.3 86.2h0.6M108.4 84.1h0.6M110.6 81.5h0.6M113.3 91.5h0.6M105.8 90.0h0.6M106.5 90.8h0.6M113.7 85.3h0.6M110.9 81.7h0.6M108.1 86.5h0.6M109.7 82.4h0.6M111.4 83.9h0.6M104.6 89.8h0.6M107.6 83.7h0.6M105.4 81.4h0.6M107.9 85.8h0.6M107.0 79.7h0.6M105.1 87.3h0.6M112.9 82.3h0.6M104.0 90.1h0.6M109.6 80.8h0.6M107.8 81.3h0.6M110.1 83.9h0.6M102.3 76.6h0.6M111.3 81.2h0.6M103.7 85.0h0.6M110.5 87.2h0.6M107.6 84.6h0.6M111.9 87.0h0.6M110.0 86.0h0.6M107.4 85.3h0.6M109.2 82.3h0.6M107.8 84.4h0.6M109.9 88.8h0.6M104.1 88.5h0.6M106.8 87.5h0.6M106.1 82.7h0.6M110.8 89.7h0.6M105.3 83.0h0.6M107.2 85.5h0.6M104.4 91.3h0.6M107.8 79.1h0.6M108.9 85.5h0.6M114.3 88.1h0.6M107.0 84.3h0.6M109.2 79.3h0.6M107.8 88.5h0.6M108.6 89.6h0.6M109.4 90.8h0.6M106.7 81.8h0.6M103.6 80.1h0.6M110.9 86.4h0.6M108.3 92.3h0.6M105.4 84.7h0.6M109.6 89.0h0.6M110.4 83.4h0.6M103.3 87.5h0.6M108.9 88.1h0.6M107.3 84.1h0.6M112.8 91.6h0.6M105.3 91.9h0.6M111.0 83.2h0.6M106.5 81.3h0.6M113.7 79.2h0.6M109.8 89.2h0.6M107.3 86.3h0.6M110.2 84.1h0.6M111.9 83.0h0.6M106.1 83.8h0.6M108.1 90.0h0.6M107.3 87.4h0.6M110.0 77.6h0.6M111.5 80.8h0.6M103.3 80.1h0.6M109.7 86.6h0.6M105.1 85.9h0.6M104.4 88.6h0.6M106.3 83.9h0.6M110.9 84.2h0.6M110.1 83.3h0.6M103.7 87.9h0.6M107.4 81.4h0.6M109.4 83.4h0.6M110.5 78.7h0.6M108.0 88.1h0.6M108.5 80.7h0.6M110.1 83.6h0.6M110.5 85.2h0.6M112.5 84.0h0.6M105.7 77.4h0.6M104.3 87.2h0.6M105.1 88.1h0.6M105.9 85.8h0.6M109.0 84.0h0.6M107.4 85.1h0.6M108.5 93.0h0.6M111.1 82.1h0.6M111.9 88.4h0.6M105.9 91.8h0.6M111.7 89.2h0.6M109.2 85.5h0.6M106.9 75.0h0.6M103.5 91.8h0.6M109.3 83.6h0.6M113.1 87.5h0.6M108.6 79.3h0.6M104.8 88.5h0.6M113.8 85.4h0.6M110.0 90.1h0.6M108.1 76.4h0.6M107.6 86.9h0.6M117.1 85.3h0.6M105.8 84.7h0.6M107.6 86.4h0.6M108.3 84.4h0.6M109.2 88.2h0.6M108.1 81.3h0.6M107.2 87.2h0.6M110.7 89.5h0.6M109.4 82.0h0.6M112.9 92.4h0.6M111.0 85.3h0.6M104.4 83.1h0.6M109.2 87.4h0.6M108.4 87.3h0.6M107.1 86.6h0.6M110.8 87.2h0.6M110.8 85.3h0.6M106.3 79.3h0.6M113.4 90.6h0.6M108.2 86.4h0.6M109.5 81.1h0.6M104.4 88.2h0.6M109.9 87.5h0.6M105.3 87.0h0.6M104.3 87.4h0.6M108.9 90.7h0.6M112.3 81.4h0.6M106.7 89.5h0.6M105.7 93.2h0.6M111.8 86.6h0.6M111.3 77.6h0.6M108.5 85.3h0.6M109.4 81.7h0.6M105.8 81.6h0.6M105.1 83.9h0.6M104.8 91.0h0.6M107.6 82.9h0.6M110.7 85.5h0.6M107.7 88.4h0.6M108.6 84.2h0.6M110.5 88.4h0.6M102.7 83.7h0.6M111.2 93.0h0.6M109.5 86.4h0.6M105.7 83.7h0.6M107.9 84.3h0.6M104.4 83.3h0.6M110.1 84.4h0.6M108.6 83.8h0.6M107.9 78.3h0.6M105.1 85.1h0.6M109.7 79.4h0.6M109.9 82.7h0.6M110.2 84.0h0.6M104.3 84.3h0.6M107.6 85.2h0.6M107.2 87.8h0.6M110.9 84.1h0.6M110.6 89.6h0.6M109.8 89.1h0.6M111.0 88.2h0.6M108.7 86.9h0.6M115.2 86.0h0.6M107.8 85.5h0.6M108.4 84.2h0.6M105.3 86.4h0.6M109.3 78.6h0.6M109.2 79.9h0.6M111.7 86.0h0.6M109.5 91.3h0.6M105.2 83.6h0.6M108.6 82.7h0.6M108.7 78.3h0.6M110.3 85.5h0.6M108.8 84.3h0.6M107.2 82.9h0.6M108.8 79.3h0.6M109.0 90.9h0.6M105.8 86.8h0.6M106.4 90.5h0.6M108.8 88.3h0.6M111.4 82.1h0.6M109.0 85.6h0.6M108.4 87.1h0.6M109.8 84.2h0.6M108.7 84.1h0.6M104.3 83.2h0.6M107.1 83.1h0.6M111.8 85.6h0.6M108.9 79.6h0.6M105.6 77.8h0.6M102.2 83.7h0.6M108.9 79.0h0.6M108.2 85.8h0.6M114.5 82.7h0.6M106.1 84.9h0.6M110.2 91.4h0.6M111.8 84.2h0.6M110.3 86.0h0.6M105.6 86.3h0.6M108.9 88.9h0.6M106.4 82.0h0.6M107.5 88.8h0.6M110.3 85.7h0.6M104.2 85.9h0.6M111.1 87.7h0.6M113.0 88.5h0.6M110.7 86.8h0.6M107.7 91.1h0.6M113.4 91.6h0.6M113.7 88.2h0.6M106.0 88.5h0.6M109.4 89.5h0.6M108.9 86.9h0.6M110.0 90.3h0.6M109.9 83.1h0.6M106.5 88.1h0.6M107.4 84.0h0.6M109.5 83.4h0.6M113.8 89.1h0.6M111.4 89.7h0.6M112.2 89.5h0.6M110.4 84.2h0.6M108.1 86.6h0.6M107.1 83.9h0.6M105.0 84.6h0.6M108.4 87.3h0.6M109.4 85.9h0.6M106.8 88.0h0.6M104.0 85.1h0.6M103.1 77.7h0.6M103.4 90.9h0.6M112.6 87.2h0.6M113.1 83.9h0.6M111.1 92.0h0.6M110.2 93.8h0.6M110.0 83.0h0.6M104.9 84.0h0.6M115.0 81.0h0.6M108.4 83.6h0.6M108.9 83.2h0.6M107.4 84.7h0.6M104.6 81.3h0.6M109.4 82.9h0.6M111.5 92.8h0.6M109.9 91.9h0.6M104.8 85.2h0.6M102.5 85.6h0.6M113.1 84.5h0.6M111.7 86.7h0.6M104.7 84.2h0.6M107.4 83.9h0.6M114.1 89.8h0.6M107.6 83.0h0.6M107.6 85.1h0.6M108.8 81.2h0.6M109.6 86.9h0.6M108.3 81.4h0.6M111.1 79.5h0.6M107.8 82.0h0.6M106.9 84.0h0.6M103.6 81.9h0.6M109.3 91.7h0.6M114.5 86.5h0.6M110.1 85.3h0.6M111.9 85.7h0.6M109.5 87.4h0.6M109.4 84.7h0.6M102.8 89.7h0.6M107.4 85.2h0.6M103.1 84.6h0.6M106.2 88.2h0.6M107.2 84.8h0.6M107.3 79.8h0.6M106.0 79.2h0.6M108.6 84.5h0.6M108.2 85.8h0.6M109.8 93.1h0.6M106.9 81.3h0.6M108.1 83.3h0.6M106.2 83.5h0.6M108.7 91.4h0.6M107.9 84.4h0.6M112.5 84.9h0.6M111.7 87.3h0.6M109.5 74.7h0.6M114.1 89.3h0.6M103.8 85.7h0.6M106.9 87.7h0.6M106.9 79.4h0.6M112.0 89.3h0.6M105.7 88.1h0.6M105.3 94.4h0.6M104.6 85.4h0.6M109.9 90.2h0.6M108.9 88.7h0.6M109.1 85.4h0.6M111.4 79.0h0.6M107.5 88.8h0.6M109.5 85.6h0.6M109.8 91.1h0.6M107.2 85.8h0.6M106.9 80.4h0.6M107.9 85.9h0.6M110.7 85.9h0.6M109.4 87.2h0.6M109.1 88.0h0.6M109.9 85.5h0.6M112.1 79.6h0.6M111.0 81.1h0.6M111.7 85.7h0.6M106.0 85.8h0.6M109.2 89.4h0.6M108.9 86.1h0.6M110.9 89.2h0.6M104.3 86.5h0.6M108.9 84.3h0.6M109.7 92.0h0.6M112.0 85.4h0.6M108.6 85.3h0.6M104.5 86.2h0.6M109.8 89.0h0.6M105.5 84.7h0.6M112.6 86.4h0.6M105.7 83.4h0.6M104.2 87.2h0.6M107.4 77.9h0.6M107.9 83.3h0.6M109.6 83.8h0.6M107.0 84.9h0.6M110.4 84.1h0.6M111.2 89.1h0.6M99.4 88.1h0.6M107.8 82.2h0.6M104.1 86.4h0.6M109.5 90.7h0.6M109.1 83.5h0.6M106.5 84.5h0.6M107.4 87.5h0.6M106.9 80.8h0.6M105.6 85.3h0.6M105.6 90.1h0.6M111.2 91.9h0.6M109.0 82.4h0.6M108.1 89.9h0.6M109.0 81.5h0.6M104.5 92.7h0.6M108.7 87.7h0.6M107.6 85.3h0.6M111.6 84.6h0.6M105.9 87.8h0.6M105.1 91.2h0.6M109.2 88.1h0.6M109.7 89.9h0.6M108.6 89.4h0.6M109.7 89.2h0.6M106.8 93.3h0.6M110.0 89.9h0.6M107.1 86.4h0.6M104.6 87.3h0.6M110.7 81.0h0.6M112.7 80.3h0.6M109.4 84.8h0.6M109.9 86.0h0.6M107.7 84.8h0.6M111.6 85.3h0.6M112.3 89.7h0.6M108.1 87.0h0.6M110.5 79.9h0.6M107.6 88.7h0.6M112.3 88.6h0.6M111.7 86.1h0.6M103.9 86.8h0.6M107.6 84.1h0.6M106.3 87.6h0.6M106.0 84.2h0.6M108.9 85.6h0.6M110.9 89.2h0.6M109.4 86.3h0.6M109.0 86.1h0.6M101.8 91.2h0.6M109.6 85.2h0.6M105.7 89.7h0.6M111.1 87.0h0.6M103.4 84.2h0.6M105.4 84.5h0.6M106.3 88.0h0.6M109.1 92.0h0.6M107.3 83.0h0.6M109.8 81.9h0.6M108.1 91.0h0.6M106.1 89.0h0.6M115.2 86.8h0.6M112.2 80.9h0.6M103.5 89.9h0.6M106.0 80.7h0.6M107.5 89.2h0.6M110.7 85.2h0.6M109.3 86.2h0.6M111.9 84.6h0.6M113.4 83.0h0.6M106.5 84.6h0.6M110.0 88.0h0.6M109.3 78.8h0.6M106.4 81.0h0.6M106.3 88.5h0.6M107.6 87.0h0.6M108.4 92.5h0.6M105.6 81.6h0.6M109.1 82.6h0.6M111.4 85.7h0.6M109.1 86.3h0.6M108.3 86.9h0.6M110.9 86.8h0.6M107.2 88.5h0.6M106.4 79.5h0.6M101.7 86.7h0.6M109.9 84.1h0.6M105.5 83.7h0.6M112.6 91.9h0.6M112.4 84.8h0.6M105.5 90.3h0.6M106.0 95.1h0.6M105.6 84.8h0.6M105.0 86.0h0.6M111.7 85.7h0.6M107.9 86.4h0.6M106.1 91.1h0.6M107.8 89.1h0.6M108.7 86.4h0.6M108.5 86.1h0.6M107.1 82.9h0.6M108.3 87.2h0.6M106.7 81.6h0.6M108.5 83.2h0.6M108.9 86.3h0.6M108.7 83.4h0.6M100.5 80.9h0.6M104.0 85.5h0.6M105.2 82.3h0.6M105.2 87.8h0.6M107.2 86.6h0.6M104.2 81.3h0.6M109.7 87.2h0.6M113.7 88.3h0.6M109.4 86.5h0.6M108.9 85.2h0.6M106.1 84.4h0.6M103.3 92.5h0.6M109.8 86.5h0.6M105.9 86.1h0.6M107.2 84.9h0.6M108.4 81.8h0.6M107.0 84.1h0.6M105.6 87.9h0.6M106.8 87.1h0.6M108.7 87.0h0.6M105.8 86.3h0.6M106.1 82.8h0.6M110.6 86.1h0.6M107.1 89.3h0.6M104.0 85.8h0.6M106.1 77.7h0.6M104.1 83.1h0.6M110.0 79.3h0.6M103.8 82.7h0.6M108.9 93.6h0.6M110.4 84.3h0.6M112.9 82.8h0.6M104.8 80.1h0.6M106.3 85.0h0.6M104.0 90.3h0.6M109.1 82.9h0.6M111.2 87.4h0.6M114.6 86.6h0.6M108.9 83.7h0.6M107.5 88.4h0.6M107.1 84.4h0.6M105.3 83.1h0.6M104.1 83.4h0.6M104.0 86.7h0.6M113.1 92.6h0.6M107.8 89.2h0.6M111.8 83.3h0.6M109.9 86.0h0.6M111.4 82.8h0.6M108.7 82.6h0.6M106.5 79.3h0.6M107.1 87.1h0.6M110.6 83.8h0.6M111.8 85.1h0.6M109.9 76.9h0.6M104.1 87.1h0.6M110.8 80.8h0.6M106.6 81.6h0.6M107.4 87.4h0.6M105.9 87.0h0.6M111.4 86.4h0.6M102.2 86.4h0.6M108.5 87.6h0.6M112.2 82.2h0.6M113.6 79.2h0.6M112.7 83.1h0.6M104.6 85.2h0.6M109.3 85.6h0.6M111.3 87.2h0.6M109.7 82.2h0.6M107.6 87.9h0.6M105.7 82.0h0.6M110.6 87.9h0.6M104.6 82.4h0.6M104.0 89.6h0.6M106.1 85.9h0.6M108.7 79.2h0.6M112.4 84.6h0.6M107.8 93.2h0.6M111.3 88.9h0.6M105.9 83.5h0.6M107.3 90.9h0.6M107.5 85.2h0.6M106.7 84.8h0.6M111.8 87.9h0.6M104.5 84.0h0.6M104.2 85.5h0.6M111.8 83.1h0.6M109.4 93.4h0.6M110.5 81.6h0.6M106.4 77.5h0.6M110.4 90.6h0.6M103.7 80.5h0.6M108.2 88.3h0.6M109.5 83.2h0.6M103.0 83.3h0.6M106.5 88.1h0.6M104.6 81.8h0.6M106.1 86.2h0.6M107.6 87.5h0.6M107.3 89.1h0.6M102.9 83.0h0.6M110.4 81.5h0.6M104.9 95.9h0.6M109.3 81.7h0.6M106.5 87.0h0.6M103.9 85.6h0.6M110.9 84.3h0.6M107.9 91.0h0.6M109.6 84.4h0.6M109.7 89.2h0.6M109.3 82.7h0.6M106.4 88.7h0.6M109.8 80.7h0.6M111.0 86.6h0.6M106.6 85.6h0.6M105.5 83.8h0.6M106.8 82.0h0.6M111.5 83.6h0.6M108.2 81.0h0.6M112.5 83.3h0.6M107.3 86.2h0.6M108.5 88.2h0.6M112.6 83.7h0.6M113.2 87.8h0.6M110.5 89.4h0.6M105.3 85.8h0.6M108.6 87.8h0.6M108.3 87.7h0.6M105.6 82.9h0.6M112.0 87.8h0.6M109.6 84.3h0.6M106.1 90.2h0.6M105.3 84.2h0.6M109.1 89.4h0.6M103.8 83.7h0.6" stroke="#000" stroke-width="0.6" stroke-opacity="0.85" fill="none"/><path d="M90.6 168.3h0.55M88.3 148.5h0.55M106.9 137.3h0.55M95.2 162.8h0.55M78.7 142.9h0.55M99.1 153.1h0.55M89.5 157.3h0.55M98.6 141.6h0.55M81.0 160.7h0.55M116.5 173.3h0.55M77.4 169.7h0.55M109.3 154.1h0.55M104.0 166.0h0.55M129.8 139.8h0.55M106.2 152.6h0.55M90.2 170.4h0.55M110.6 140.4h0.55M88.7 157.7h0.55M66.3 166.5h0.55M92.9 156.8h0.55M101.0 179.6h0.55M95.1 149.6h0.55M128.8 147.6h0.55M84.0 135.3h0.55M115.8 158.3h0.55M103.7 156.9h0.55M91.7 143.7h0.55M78.9 160.6h0.55M96.9 177.2h0.55M79.4 147.8h0.55M74.2 173.7h0.55M70.0 165.3h0.55M122.9 152.7h0.55M108.8 125.1h0.55M86.8 131.6h0.55M97.8 154.7h0.55M79.2 167.7h0.55M101.5 147.4h0.55M84.3 134.3h0.55M90.8 184.0h0.55M80.4 160.5h0.55M83.6 165.8h0.55M103.2 151.4h0.55M59.2 147.5h0.55M118.2 151.3h0.55M106.9 148.0h0.55M100.8 146.6h0.55M87.2 158.7h0.55M82.8 159.4h0.55M90.5 122.0h0.55M91.7 146.4h0.55M78.0 160.2h0.55M84.9 162.1h0.55M116.1 156.7h0.55M63.9 144.6h0.55M112.6 151.1h0.55M78.6 153.4h0.55M104.5 158.3h0.55M107.3 143.3h0.55M89.1 151.2h0.55M94.1 125.7h0.55M89.9 136.1h0.55M122.1 176.2h0.55M127.8 165.9h0.55M85.0 168.0h0.55M90.6 163.2h0.55M76.8 146.6h0.55M103.8 179.3h0.55M94.1 185.9h0.55M94.1 141.6h0.55M91.9 147.4h0.55M93.3 168.1h0.55M113.2 158.4h0.55M94.7 156.4h0.55M97.2 162.7h0.55M94.8 161.7h0.55M68.8 165.8h0.55M129.2 157.3h0.55M66.7 173.5h0.55M90.4 163.2h0.55M102.3 172.0h0.55M107.0 156.5h0.55M98.3 164.2h0.55M74.4 146.3h0.55M104.0 128.4h0.55M99.7 148.2h0.55M68.5 163.9h0.55M92.7 158.5h0.55M107.4 147.5h0.55M111.1 172.1h0.55M102.6 173.3h0.55M82.4 167.5h0.55M100.1 141.2h0.55M93.2 147.5h0.55M83.8 156.0h0.55M115.8 150.4h0.55M97.2 134.5h0.55M96.9 170.8h0.55M110.8 161.4h0.55M84.3 141.3h0.55M92.9 136.3h0.55M70.3 167.9h0.55M76.6 179.7h0.55M66.5 160.8h0.55M71.6 157.3h0.55M74.2 155.4h0.55M91.7 148.6h0.55M104.9 175.8h0.55M83.1 167.1h0.55M96.4 154.4h0.55M81.3 129.7h0.55M88.6 151.7h0.55M130.3 172.8h0.55M86.0 161.5h0.55M127.8 157.2h0.55M98.9 161.8h0.55M65.0 143.6h0.55M101.4 162.4h0.55M76.6 150.3h0.55M92.3 152.7h0.55M108.5 156.3h0.55M98.0 135.2h0.55M73.9 159.3h0.55M63.1 158.6h0.55M81.6 143.5h0.55M107.6 145.4h0.55M77.7 145.4h0.55M89.9 168.0h0.55M87.3 120.4h0.55M120.9 139.6h0.55M93.4 135.7h0.55M72.8 147.8h0.55M111.6 166.4h0.55M82.7 161.7h0.55M87.1 156.2h0.55M97.6 163.3h0.55M82.3 152.8h0.55M98.8 155.9h0.55M78.6 178.6h0.55M85.3 165.2h0.55M98.5 171.6h0.55M90.2 137.5h0.55M97.0 186.0h0.55M104.5 137.5h0.55M85.2 173.2h0.55M66.5 152.1h0.55M88.6 184.7h0.55M88.6 172.9h0.55M80.9 143.4h0.55M114.4 163.2h0.55M60.1 163.5h0.55M107.2 146.0h0.55M98.8 158.3h0.55M84.7 146.4h0.55M81.0 150.8h0.55M68.0 154.0h0.55M64.7 155.6h0.55M92.7 140.1h0.55M111.3 181.5h0.55M120.7 135.5h0.55M119.6 157.6h0.55M93.3 146.3h0.55M94.2 173.8h0.55M105.1 148.8h0.55M81.0 148.7h0.55M106.0 180.5h0.55M73.3 154.5h0.55M86.7 144.1h0.55M102.2 162.2h0.55M66.2 140.1h0.55M118.0 158.9h0.55M104.7 147.6h0.55M86.8 160.9h0.55M84.5 139.1h0.55M94.3 167.1h0.55M73.9 169.2h0.55M108.2 142.5h0.55M94.5 153.9h0.55M106.9 163.8h0.55M68.5 135.8h0.55M114.7 156.1h0.55M102.6 159.2h0.55M124.7 137.8h0.55M115.9 143.2h0.55M108.7 173.1h0.55M66.9 160.1h0.55M88.8 150.5h0.55M95.2 140.0h0.55M75.3 163.6h0.55M111.0 146.7h0.55M65.5 186.6h0.55M116.1 159.5h0.55M74.0 146.5h0.55M99.1 141.2h0.55M126.0 156.4h0.55M102.1 140.3h0.55M76.4 143.6h0.55M99.8 150.9h0.55M88.6 158.9h0.55M98.8 175.0h0.55M90.4 140.5h0.55M94.1 174.7h0.55M83.4 155.2h0.55M87.3 160.1h0.55M99.4 143.3h0.55M89.8 167.5h0.55M115.9 167.2h0.55M111.3 149.9h0.55M87.2 167.3h0.55M71.3 153.7h0.55M80.4 137.9h0.55M105.7 144.4h0.55M87.1 151.0h0.55M79.9 174.1h0.55M84.6 157.2h0.55M68.7 148.0h0.55M88.0 150.3h0.55M82.9 156.5h0.55M125.0 152.7h0.55M91.6 149.2h0.55M105.3 164.2h0.55M80.4 152.5h0.55M98.5 156.2h0.55M77.5 143.8h0.55M104.5 158.9h0.55M119.3 145.7h0.55M79.9 134.3h0.55M88.0 136.3h0.55M59.4 140.9h0.55M109.1 139.2h0.55M59.2 145.5h0.55M79.7 152.6h0.55M59.2 133.4h0.55M72.2 145.0h0.55M81.5 149.2h0.55M74.8 147.8h0.55M83.1 140.3h0.55M62.6 148.0h0.55M89.6 158.8h0.55M74.1 152.4h0.55M60.0 139.6h0.55M67.3 140.1h0.55M64.6 139.6h0.55M75.8 140.2h0.55M85.6 142.3h0.55M76.6 151.5h0.55M80.9 143.7h0.55M76.3 143.2h0.55M84.5 138.1h0.55M92.3 152.1h0.55M92.4 139.9h0.55M78.7 147.7h0.55M74.1 141.0h0.55M97.5 138.9h0.55M91.2 148.1h0.55M58.4 144.5h0.55M68.9 137.3h0.55M82.3 140.5h0.55M80.3 136.6h0.55M72.2 141.2h0.55M82.6 143.7h0.55M63.8 142.2h0.55M85.7 153.6h0.55M64.4 146.5h0.55M105.6 143.2h0.55M96.7 127.6h0.55M96.5 142.8h0.55M91.0 149.9h0.55M93.0 142.6h0.55M66.3 140.1h0.55M76.1 145.2h0.55M70.0 143.1h0.55M88.6 144.7h0.55M108.1 155.5h0.55M60.8 139.5h0.55M58.6 136.0h0.55M84.1 137.0h0.55M62.2 141.2h0.55M87.6 140.7h0.55M71.7 148.2h0.55M83.1 145.5h0.55M89.6 136.9h0.55M79.6 139.1h0.55M90.7 147.6h0.55M62.2 150.7h0.55M60.5 149.7h0.55M79.4 137.7h0.55M61.2 141.0h0.55M76.3 138.6h0.55M84.3 134.6h0.55M76.5 142.8h0.55M59.2 128.1h0.55M68.1 141.5h0.55M89.0 140.0h0.55M96.9 151.3h0.55M91.6 150.6h0.55M81.4 139.5h0.55M85.5 148.5h0.55M79.9 141.4h0.55M81.4 135.1h0.55M78.0 147.1h0.55M75.1 147.5h0.55M87.0 134.1h0.55M72.4 145.7h0.55M89.2 151.2h0.55M86.5 150.1h0.55M99.9 137.3h0.55M71.4 136.6h0.55M87.9 135.0h0.55M92.9 148.4h0.55M83.3 130.0h0.55M67.2 147.3h0.55M75.1 148.1h0.55M80.5 144.4h0.55M70.5 142.8h0.55M74.7 147.1h0.55M74.1 148.9h0.55M74.2 149.5h0.55M77.7 147.9h0.55M97.2 139.5h0.55M77.7 141.8h0.55M79.4 133.2h0.55M74.2 141.3h0.55M65.7 141.7h0.55M82.7 154.0h0.55M64.5 135.9h0.55M80.4 132.9h0.55M79.7 138.6h0.55M71.9 144.3h0.55M77.2 153.8h0.55M85.3 135.1h0.55M90.1 134.9h0.55M77.7 135.4h0.55M65.1 150.6h0.55M68.8 139.0h0.55M68.7 140.9h0.55M96.4 135.8h0.55M59.4 146.2h0.55M92.1 142.8h0.55M69.8 138.6h0.55M63.8 139.3h0.55M78.3 150.1h0.55M89.8 139.4h0.55M66.3 146.9h0.55M71.9 136.1h0.55M62.6 144.8h0.55M67.3 143.2h0.55M72.0 141.1h0.55M71.2 138.7h0.55M62.6 149.5h0.55M79.0 142.0h0.55M89.9 138.4h0.55M84.8 142.8h0.55M63.8 147.1h0.55M63.9 145.0h0.55M95.1 145.9h0.55M67.7 142.4h0.55M70.9 135.6h0.55M60.7 142.8h0.55M83.4 132.1h0.55M74.9 145.5h0.55M77.4 136.6h0.55M90.2 135.3h0.55M84.8 152.0h0.55M80.1 143.8h0.55M65.2 140.6h0.55M83.2 138.5h0.55M63.0 139.7h0.55M75.6 142.8h0.55M74.3 142.9h0.55M84.2 150.8h0.55M79.8 148.0h0.55M84.6 150.0h0.55M74.9 144.9h0.55M81.3 139.9h0.55M92.2 146.1h0.55M89.1 140.1h0.55M89.8 136.2h0.55M81.0 127.0h0.55M61.8 146.7h0.55M69.4 143.4h0.55M83.8 142.3h0.55M81.3 144.3h0.55M95.0 143.7h0.55M93.2 145.7h0.55M69.8 146.0h0.55M77.2 146.0h0.55M84.7 141.1h0.55M80.4 153.9h0.55M71.3 143.8h0.55M68.0 138.7h0.55M74.6 133.9h0.55M74.2 149.0h0.55M77.3 143.3h0.55M84.8 146.6h0.55M59.1 149.5h0.55M62.3 143.6h0.55M110.6 142.9h0.55M98.4 140.4h0.55M84.0 142.7h0.55M81.3 137.4h0.55M63.1 144.4h0.55M87.1 137.4h0.55M110.8 138.5h0.55M94.4 136.1h0.55M105.5 139.7h0.55M105.5 140.6h0.55M123.8 139.4h0.55M82.9 142.1h0.55M103.9 142.3h0.55M86.7 147.0h0.55M103.6 141.3h0.55M86.9 143.8h0.55M103.2 148.1h0.55M99.5 135.5h0.55M105.3 137.1h0.55M108.4 136.2h0.55M102.5 140.4h0.55M103.6 139.0h0.55M95.2 141.2h0.55M97.7 142.3h0.55M101.0 130.6h0.55M103.3 148.3h0.55M107.2 144.4h0.55M108.8 139.2h0.55M89.7 145.4h0.55M115.2 144.3h0.55M108.5 143.4h0.55M103.6 142.8h0.55M104.1 143.1h0.55M93.9 138.5h0.55M110.0 139.9h0.55M78.2 142.1h0.55M79.6 150.7h0.55M111.6 144.8h0.55M96.9 136.1h0.55M101.7 141.6h0.55M95.8 142.3h0.55M111.2 144.4h0.55M93.0 131.1h0.55M104.0 138.4h0.55M108.7 149.4h0.55M121.3 142.9h0.55M115.7 149.4h0.55M104.5 142.9h0.55M113.0 141.4h0.55M98.8 138.0h0.55M104.1 138.6h0.55M112.5 140.0h0.55M119.5 147.4h0.55M91.0 146.8h0.55M99.9 148.1h0.55M109.5 141.4h0.55M111.2 138.9h0.55M107.6 143.5h0.55M102.6 143.5h0.55M93.7 144.3h0.55M91.5 144.6h0.55M109.1 145.0h0.55M98.4 156.1h0.55M101.9 142.4h0.55M96.4 148.5h0.55M99.3 146.4h0.55M94.4 143.2h0.55M100.4 146.1h0.55M101.3 137.6h0.55M109.1 136.0h0.55M94.4 145.4h0.55M84.8 145.3h0.55M100.2 137.4h0.55M107.0 144.7h0.55M98.3 140.9h0.55M112.8 145.3h0.55M103.9 138.1h0.55M94.6 139.0h0.55M111.6 144.5h0.55M107.7 148.4h0.55M101.4 140.0h0.55M100.6 150.8h0.55M83.2 143.2h0.55M109.2 142.1h0.55M128.9 147.4h0.55M112.7 137.6h0.55M109.8 140.1h0.55M105.1 142.8h0.55M99.7 144.8h0.55M121.6 146.8h0.55M107.0 132.8h0.55M116.0 147.0h0.55M102.8 139.7h0.55M111.6 138.1h0.55M113.1 136.8h0.55M95.3 142.0h0.55M89.8 141.9h0.55M110.3 135.7h0.55M114.4 139.3h0.55M110.5 142.9h0.55M100.2 139.5h0.55M87.2 138.7h0.55M96.9 149.7h0.55M115.4 135.5h0.55M113.2 143.0h0.55M101.0 144.1h0.55M113.1 139.3h0.55M102.1 142.7h0.55M94.8 142.8h0.55M104.1 138.8h0.55M96.3 143.4h0.55M114.0 143.5h0.55M96.1 145.5h0.55M106.7 144.8h0.55M116.9 137.8h0.55M103.5 139.2h0.55M96.0 151.4h0.55M114.6 133.7h0.55M109.4 139.4h0.55M116.8 142.4h0.55M103.2 142.7h0.55M108.9 142.1h0.55M102.7 141.3h0.55M110.2 136.7h0.55M105.0 141.4h0.55M100.0 145.4h0.55M91.7 140.3h0.55M96.2 144.5h0.55M100.2 142.2h0.55M108.9 134.5h0.55M109.6 138.5h0.55M102.4 141.5h0.55M113.3 145.4h0.55M123.1 142.8h0.55M100.1 139.7h0.55M111.7 149.5h0.55M108.5 139.3h0.55M107.8 143.2h0.55M105.3 138.5h0.55M78.9 139.5h0.55M115.8 143.0h0.55M82.3 142.0h0.55M86.0 151.3h0.55M107.0 136.4h0.55M113.2 138.3h0.55M110.8 142.1h0.55M92.9 145.1h0.55M91.2 148.3h0.55M105.6 137.2h0.55M86.4 149.5h0.55M119.9 136.1h0.55M121.9 142.8h0.55M102.7 141.6h0.55M102.2 148.7h0.55M106.5 133.4h0.55M126.5 146.1h0.55M93.8 140.3h0.55M95.7 142.2h0.55M109.1 143.1h0.55M98.9 138.3h0.55M113.7 141.5h0.55M128.1 138.2h0.55M113.1 142.2h0.55M97.2 148.4h0.55M106.3 137.8h0.55M103.7 177.5h0.55M94.4 180.9h0.55M114.0 165.4h0.55M120.9 184.3h0.55M113.2 169.6h0.55M126.0 182.0h0.55M97.5 166.1h0.55M104.8 164.2h0.55M91.6 176.4h0.55M107.9 168.9h0.55M121.5 162.7h0.55M106.4 170.6h0.55M102.5 167.0h0.55M114.9 167.9h0.55M120.7 161.0h0.55M109.1 154.6h0.55M105.8 161.4h0.55M121.1 175.0h0.55M112.3 185.3h0.55M121.9 174.8h0.55M99.9 154.4h0.55M106.7 164.7h0.55M100.3 165.3h0.55M89.9 182.0h0.55M95.2 161.7h0.55M112.9 152.7h0.55M116.5 176.8h0.55M103.8 157.8h0.55M102.1 150.5h0.55M121.4 168.5h0.55M99.4 159.4h0.55M113.0 182.2h0.55M93.8 162.6h0.55M88.7 174.4h0.55M108.6 189.4h0.55M105.7 163.9h0.55M99.6 176.1h0.55M90.1 175.1h0.55M109.6 163.2h0.55M97.6 178.0h0.55M126.4 163.8h0.55M112.5 184.5h0.55M100.5 165.6h0.55M94.3 166.6h0.55M106.1 164.0h0.55M99.3 153.0h0.55M93.0 158.7h0.55M113.7 163.2h0.55M98.1 174.2h0.55M112.9 160.8h0.55M100.5 174.3h0.55M110.8 160.1h0.55M109.5 167.7h0.55M118.7 159.7h0.55M116.2 172.1h0.55M96.4 178.0h0.55M116.5 155.4h0.55M127.8 157.1h0.55M97.4 164.9h0.55M115.1 173.6h0.55M106.0 181.0h0.55M111.3 181.3h0.55M79.9 163.7h0.55M95.7 168.9h0.55M108.0 156.2h0.55M94.8 165.5h0.55M104.9 143.0h0.55M117.3 168.3h0.55M106.9 170.9h0.55M96.2 167.5h0.55M118.0 178.4h0.55M111.9 165.3h0.55M98.3 180.8h0.55M112.6 163.9h0.55M83.9 159.6h0.55M86.4 180.1h0.55M109.0 160.8h0.55M120.0 154.9h0.55M105.6 156.0h0.55M88.5 169.7h0.55M107.5 164.3h0.55M109.2 178.1h0.55M91.3 149.7h0.55M127.3 170.7h0.55M124.3 170.3h0.55M123.0 162.0h0.55M112.4 183.3h0.55M118.1 163.5h0.55M116.7 161.4h0.55M91.5 173.2h0.55M122.2 176.4h0.55M93.3 176.6h0.55M114.4 163.5h0.55M80.0 178.0h0.55M116.6 172.9h0.55M88.1 153.2h0.55M118.0 176.0h0.55M112.4 165.6h0.55M111.3 162.6h0.55M103.6 159.4h0.55M109.8 163.8h0.55M117.4 175.2h0.55M98.1 186.3h0.55M94.7 172.5h0.55M118.9 180.8h0.55M82.8 178.0h0.55M120.4 182.3h0.55M82.6 161.3h0.55M105.9 163.6h0.55M121.7 161.2h0.55M120.5 173.6h0.55M91.0 158.1h0.55M101.8 169.0h0.55M117.9 166.2h0.55M117.0 152.3h0.55M73.5 164.6h0.55M112.0 164.4h0.55M95.9 172.2h0.55M128.3 167.0h0.55M99.0 159.5h0.55M128.6 167.6h0.55M113.7 180.2h0.55M118.8 158.8h0.55M117.5 176.4h0.55M112.4 178.1h0.55M100.8 167.3h0.55M101.2 175.6h0.55M99.8 171.9h0.55M95.0 166.8h0.55M103.0 166.9h0.55M108.5 166.2h0.55M104.6 147.3h0.55M119.2 161.8h0.55M104.3 159.7h0.55M118.0 159.0h0.55M112.5 179.8h0.55M125.1 179.9h0.55M113.8 156.0h0.55M121.2 179.9h0.55M116.2 176.0h0.55M107.9 162.9h0.55M118.9 180.8h0.55M95.6 177.2h0.55M109.8 176.9h0.55M110.1 179.2h0.55M118.3 176.9h0.55M92.0 176.3h0.55M107.7 156.9h0.55M114.9 154.5h0.55M117.0 185.0h0.55M101.7 177.3h0.55M112.1 174.6h0.55M92.4 174.2h0.55M108.7 175.5h0.55M107.3 179.1h0.55M110.2 175.0h0.55M122.2 170.0h0.55M118.1 170.5h0.55M113.0 163.0h0.55M115.7 180.4h0.55M106.4 176.1h0.55M112.0 157.4h0.55M111.2 181.3h0.55M102.1 150.7h0.55M109.6 162.0h0.55M127.9 167.9h0.55M107.3 162.1h0.55M110.1 162.8h0.55M97.6 167.7h0.55M98.6 181.3h0.55M94.8 167.6h0.55M99.9 154.8h0.55M125.4 147.7h0.55M123.1 154.5h0.55M108.4 190.6h0.55M84.4 154.9h0.55M121.5 170.1h0.55M101.5 168.0h0.55M97.0 169.6h0.55M123.5 164.6h0.55M108.9 180.2h0.55M128.8 162.6h0.55M110.6 162.8h0.55M100.4 164.4h0.55M100.6 151.4h0.55M85.9 161.2h0.55M108.8 180.3h0.55M101.7 166.7h0.55M114.5 175.6h0.55M106.2 167.8h0.55M127.6 165.1h0.55M102.1 152.4h0.55M112.1 165.8h0.55M128.0 165.1h0.55M116.1 177.5h0.55M125.1 155.5h0.55M124.2 168.5h0.55M106.3 165.3h0.55M103.1 165.0h0.55M82.3 173.3h0.55M108.1 159.0h0.55M106.7 190.8h0.55M111.5 164.6h0.55M125.8 160.6h0.55M105.7 162.9h0.55M104.8 175.5h0.55M113.6 161.2h0.55M106.0 169.2h0.55M103.0 168.0h0.55M99.6 161.2h0.55M107.8 158.3h0.55M111.8 166.4h0.55M97.5 162.4h0.55M102.2 166.8h0.55M108.6 166.3h0.55M98.0 182.3h0.55M117.0 169.4h0.55M119.7 187.7h0.55M110.2 186.6h0.55M120.3 184.2h0.55M115.6 191.4h0.55M122.0 189.3h0.55M124.5 187.3h0.55M116.1 183.1h0.55M108.5 186.1h0.55M106.2 186.3h0.55M109.2 188.8h0.55M111.2 183.2h0.55M109.9 185.6h0.55M108.3 190.7h0.55M117.4 186.8h0.55M103.0 188.6h0.55M102.3 187.0h0.55M112.6 183.3h0.55M105.8 182.8h0.55M128.1 184.9h0.55M110.6 190.8h0.55M115.5 191.2h0.55M102.7 180.9h0.55M110.0 186.9h0.55M119.9 180.4h0.55M114.4 186.0h0.55M117.4 187.0h0.55M108.1 182.0h0.55M93.4 190.9h0.55M100.9 184.2h0.55M125.0 184.1h0.55M116.9 185.1h0.55M117.6 186.3h0.55M110.2 179.7h0.55M109.7 188.7h0.55M103.6 189.9h0.55M107.3 189.3h0.55M99.4 184.1h0.55M113.0 188.1h0.55M111.8 185.7h0.55M107.5 184.0h0.55M114.6 188.8h0.55M117.1 190.9h0.55M121.3 177.5h0.55M108.2 185.4h0.55M107.3 191.2h0.55M118.0 185.6h0.55M109.5 184.6h0.55M119.2 188.4h0.55M123.1 187.9h0.55M118.0 183.5h0.55M105.0 186.1h0.55M91.9 188.1h0.55M119.7 186.5h0.55M110.5 191.3h0.55M111.9 190.8h0.55M129.0 189.6h0.55M119.4 188.5h0.55M114.1 187.5h0.55M112.7 191.3h0.55M99.9 184.9h0.55M117.2 182.1h0.55M111.4 182.8h0.55M115.6 190.3h0.55M123.3 188.5h0.55M106.7 187.3h0.55M95.8 187.9h0.55M98.2 189.6h0.55M115.6 188.5h0.55M119.0 188.0h0.55M107.3 187.8h0.55M121.4 185.6h0.55M112.4 180.3h0.55M121.1 183.7h0.55M106.5 184.0h0.55M105.6 184.9h0.55M122.0 189.9h0.55M105.4 188.4h0.55M101.4 179.3h0.55M115.8 184.5h0.55M93.9 184.4h0.55M60.5 143.7h0.55M80.4 150.7h0.55M121.8 150.5h0.55M103.7 182.5h0.55M100.6 136.0h0.55M58.8 150.6h0.55M89.1 173.9h0.55M66.5 147.0h0.55M86.1 181.7h0.55M86.2 157.9h0.55M88.9 125.1h0.55M80.9 145.1h0.55M115.2 128.6h0.55M91.7 150.6h0.55M124.6 144.9h0.55M82.9 143.1h0.55M68.1 179.7h0.55M83.7 184.8h0.55M121.9 174.2h0.55M84.0 175.0h0.55M118.1 184.5h0.55M108.7 186.3h0.55M76.6 130.7h0.55M71.6 184.8h0.55M65.8 129.7h0.55M90.7 138.0h0.55M108.8 176.9h0.55M79.2 128.4h0.55M128.0 189.8h0.55M58.6 187.4h0.55M70.1 165.3h0.55M64.8 158.1h0.55M125.6 157.9h0.55M87.2 161.6h0.55M78.7 159.1h0.55M60.5 161.2h0.55M73.7 168.6h0.55M85.8 189.2h0.55M126.7 123.9h0.55M129.0 135.2h0.55M99.0 122.7h0.55M59.9 132.8h0.55M65.2 185.2h0.55M103.0 141.3h0.55M96.4 162.7h0.55M124.0 141.1h0.55M124.3 191.6h0.55M69.3 132.1h0.55M104.3 147.2h0.55M117.1 145.4h0.55M114.6 133.7h0.55M99.4 123.2h0.55M95.4 146.9h0.55M99.7 132.8h0.55M88.0 119.5h0.55M99.3 184.0h0.55" stroke="#000" stroke-width="0.55" stroke-opacity="0.5" fill="none"/><path d="M80.6 143.3h0.55M63.8 140.7h0.55M85.8 146.3h0.55M73.8 142.6h0.55M73.7 143.1h0.55M62.2 145.6h0.55M70.0 143.4h0.55M85.2 136.6h0.55M86.6 144.4h0.55M69.4 138.5h0.55M83.9 143.7h0.55M79.5 142.2h0.55M68.9 145.5h0.55M67.7 145.6h0.55M62.2 140.3h0.55M63.9 146.8h0.55M61.6 139.7h0.55M80.0 143.7h0.55M91.8 148.3h0.55M79.7 145.0h0.55M61.0 140.5h0.55M72.5 142.5h0.55M64.5 140.3h0.55M68.5 146.0h0.55M78.3 142.0h0.55M72.9 143.8h0.55M69.7 142.2h0.55M61.8 144.9h0.55M82.4 144.0h0.55M78.7 144.0h0.55M90.6 143.6h0.55M64.9 140.0h0.55M80.4 146.1h0.55M80.9 145.4h0.55M76.4 138.7h0.55M69.6 137.8h0.55M72.0 139.1h0.55M75.7 142.5h0.55M60.0 145.1h0.55M80.8 139.0h0.55M76.1 145.1h0.55M72.7 145.4h0.55M76.4 146.1h0.55M76.4 142.5h0.55M78.9 145.2h0.55M76.9 141.7h0.55M68.9 141.9h0.55M70.5 143.6h0.55M76.2 142.7h0.55M74.9 143.5h0.55M87.0 146.4h0.55M70.5 144.2h0.55M72.4 142.7h0.55M73.0 141.2h0.55M64.4 135.8h0.55M76.4 146.4h0.55M67.9 144.4h0.55M71.9 143.8h0.55M68.6 142.3h0.55M74.0 136.1h0.55M76.5 142.5h0.55M74.6 143.5h0.55M77.6 141.7h0.55M66.5 141.6h0.55M71.5 149.4h0.55M89.1 141.5h0.55M71.6 143.9h0.55M79.2 140.9h0.55M67.1 148.5h0.55M83.0 138.4h0.55M61.1 140.5h0.55M76.5 144.5h0.55M72.1 138.2h0.55M76.5 144.7h0.55M74.8 141.5h0.55M79.2 142.8h0.55M66.1 143.2h0.55M64.7 145.7h0.55M78.4 140.0h0.55M76.4 146.6h0.55M87.6 138.4h0.55M73.5 138.8h0.55M74.2 135.9h0.55M62.1 141.3h0.55M75.8 144.0h0.55M78.1 146.3h0.55M80.2 145.1h0.55M67.1 142.5h0.55M99.6 149.6h0.55M81.2 145.1h0.55M82.5 141.7h0.55M90.1 141.8h0.55M74.1 149.3h0.55M58.5 144.0h0.55M61.2 141.0h0.55M74.0 141.9h0.55M76.1 140.6h0.55M73.9 139.4h0.55M71.7 138.8h0.55M79.9 139.1h0.55M80.2 141.7h0.55M72.4 146.4h0.55M75.6 137.3h0.55M78.7 134.3h0.55M76.9 141.7h0.55M63.7 143.1h0.55M72.3 148.9h0.55M71.3 148.7h0.55M85.7 141.1h0.55M68.3 146.8h0.55M73.7 143.4h0.55M72.7 139.3h0.55M71.8 140.1h0.55M62.6 142.0h0.55M88.9 147.7h0.55M74.3 143.3h0.55M78.8 147.0h0.55M77.3 141.5h0.55M71.7 146.3h0.55M95.5 141.0h0.55M58.5 145.3h0.55M74.2 143.3h0.55M84.6 143.1h0.55M64.2 137.1h0.55M74.4 139.5h0.55M77.1 139.1h0.55M72.0 138.5h0.55M71.9 141.6h0.55M79.5 146.9h0.55M73.3 140.3h0.55M90.4 144.0h0.55M79.6 144.7h0.55M86.4 145.9h0.55M80.2 145.2h0.55M67.9 141.1h0.55M73.9 143.2h0.55M74.9 143.8h0.55M75.0 141.6h0.55M61.8 145.4h0.55M79.5 140.3h0.55M78.8 144.1h0.55M75.4 137.4h0.55M65.2 141.1h0.55M87.7 140.4h0.55M72.0 139.6h0.55M70.9 143.9h0.55M80.1 143.0h0.55M70.0 145.8h0.55M82.5 136.6h0.55M73.5 146.2h0.55M69.4 142.0h0.55M82.4 142.1h0.55M65.2 140.9h0.55M64.2 144.6h0.55M61.0 145.9h0.55M61.6 143.1h0.55M63.1 142.0h0.55M83.0 146.3h0.55M85.2 142.7h0.55M75.6 143.6h0.55M79.7 141.7h0.55M83.6 143.9h0.55M83.9 144.4h0.55M80.2 140.7h0.55M71.5 139.0h0.55M72.4 142.4h0.55M81.5 139.1h0.55M100.7 142.6h0.55M84.9 146.0h0.55M86.6 135.6h0.55M80.9 140.2h0.55M71.1 143.6h0.55M59.9 143.5h0.55M69.6 140.7h0.55M80.4 153.4h0.55M77.5 144.6h0.55M74.4 140.7h0.55M76.8 147.5h0.55M76.3 145.6h0.55M73.0 150.5h0.55M61.6 144.7h0.55M79.1 143.7h0.55M65.8 139.5h0.55M72.9 143.2h0.55M65.0 139.7h0.55M79.2 146.0h0.55M70.2 140.8h0.55M68.9 150.3h0.55M78.6 142.7h0.55M82.8 149.8h0.55M84.1 138.6h0.55M74.0 141.7h0.55M72.0 139.2h0.55M71.6 139.6h0.55M77.4 143.0h0.55M63.4 137.8h0.55M70.8 144.8h0.55M78.7 142.7h0.55M68.8 141.9h0.55M64.9 141.6h0.55M69.4 151.0h0.55M80.3 142.3h0.55M74.3 142.5h0.55M76.2 141.7h0.55M74.5 146.0h0.55M81.3 143.8h0.55M85.4 143.6h0.55M66.8 137.6h0.55M69.1 142.7h0.55M77.9 146.1h0.55M70.1 140.5h0.55M80.9 146.4h0.55M70.8 143.9h0.55M85.7 143.8h0.55M74.2 136.6h0.55M85.3 144.8h0.55M75.7 141.5h0.55M64.7 142.6h0.55M73.8 146.2h0.55M65.0 147.2h0.55M75.0 146.5h0.55M66.9 143.9h0.55M84.5 143.2h0.55M62.9 141.9h0.55M79.0 138.7h0.55M63.1 143.6h0.55M67.1 144.9h0.55M65.3 137.4h0.55M68.5 147.4h0.55M67.8 142.9h0.55M76.7 140.0h0.55M83.4 143.4h0.55M78.3 137.8h0.55M60.7 134.6h0.55M73.2 142.2h0.55M80.5 147.3h0.55M72.7 142.1h0.55M78.3 147.5h0.55M68.1 144.8h0.55M72.7 141.9h0.55M81.2 140.5h0.55M66.1 144.9h0.55M74.5 142.1h0.55M73.6 144.4h0.55M71.7 145.2h0.55M78.0 147.3h0.55M84.8 145.5h0.55M73.1 143.2h0.55M70.0 151.5h0.55M72.9 144.6h0.55M85.6 138.8h0.55M68.1 141.7h0.55M66.8 139.1h0.55M70.6 146.8h0.55M80.5 143.0h0.55M75.0 137.9h0.55M80.3 144.2h0.55M66.1 143.5h0.55M73.2 141.3h0.55M66.8 140.9h0.55M67.2 144.3h0.55M77.7 143.9h0.55M73.3 141.7h0.55M91.1 137.3h0.55M84.3 144.0h0.55M75.3 141.4h0.55M73.0 139.4h0.55M63.7 142.6h0.55M61.5 145.4h0.55M83.7 132.6h0.55M62.3 143.7h0.55M76.5 143.2h0.55M78.1 145.2h0.55M81.7 148.3h0.55M75.0 145.5h0.55M61.8 142.5h0.55M65.0 147.1h0.55M93.5 144.5h0.55M64.4 142.6h0.55M75.0 143.5h0.55M83.5 145.8h0.55M70.8 141.2h0.55M86.1 142.1h0.55M63.8 139.0h0.55M75.3 145.7h0.55M86.8 142.4h0.55M71.1 147.8h0.55M71.2 147.3h0.55M76.7 143.6h0.55M72.9 143.8h0.55M71.1 140.9h0.55M73.7 141.0h0.55M77.3 143.2h0.55M72.7 142.3h0.55M73.0 148.1h0.55M74.7 141.1h0.55M72.5 144.9h0.55M73.2 142.5h0.55M72.8 143.4h0.55M77.9 144.3h0.55M61.7 139.7h0.55M83.7 146.8h0.55M76.0 146.4h0.55M74.5 142.6h0.55M62.5 140.6h0.55M70.1 145.7h0.55M88.1 141.5h0.55M77.8 143.8h0.55M68.6 137.8h0.55M68.8 138.6h0.55M72.3 142.5h0.55M73.4 142.4h0.55M78.7 140.1h0.55M81.9 137.9h0.55M75.3 144.1h0.55M68.5 138.1h0.55M79.9 140.9h0.55M81.0 145.2h0.55M74.7 142.9h0.55M82.7 144.0h0.55M67.3 143.4h0.55M79.2 143.5h0.55M76.3 142.5h0.55M73.8 140.1h0.55M63.4 146.3h0.55M69.7 143.6h0.55M62.8 143.4h0.55M68.2 151.8h0.55M66.7 140.0h0.55M82.3 146.3h0.55M81.8 139.3h0.55M80.2 141.3h0.55M66.8 141.9h0.55M71.1 138.8h0.55M92.6 141.6h0.55M68.8 145.5h0.55M74.2 146.9h0.55M72.6 144.0h0.55M75.5 143.4h0.55M73.1 142.6h0.55M88.1 140.9h0.55M70.4 141.9h0.55M79.3 144.1h0.55M82.2 138.9h0.55M76.8 142.4h0.55M72.5 143.4h0.55M59.1 143.7h0.55M75.9 138.7h0.55M74.0 147.5h0.55M71.7 144.7h0.55M73.0 140.5h0.55M67.5 141.7h0.55M85.1 145.3h0.55M69.2 145.9h0.55M73.8 140.9h0.55M78.2 140.2h0.55M62.3 146.8h0.55M60.3 144.5h0.55M62.7 142.8h0.55M73.2 141.6h0.55M74.5 140.3h0.55M74.2 145.9h0.55M69.1 143.7h0.55M65.7 144.1h0.55M79.8 150.3h0.55M81.9 144.2h0.55M85.9 140.0h0.55M83.3 141.3h0.55M69.9 146.2h0.55M76.7 146.9h0.55M63.4 143.7h0.55M70.7 142.1h0.55M59.8 145.7h0.55M76.5 140.0h0.55M64.2 140.4h0.55M85.8 142.6h0.55M72.2 144.4h0.55M74.9 143.6h0.55M80.7 143.9h0.55M81.8 139.4h0.55M75.4 141.9h0.55M75.7 142.8h0.55M69.9 141.9h0.55M82.3 141.3h0.55M65.1 144.7h0.55M82.6 142.2h0.55M75.9 140.5h0.55M73.3 146.2h0.55M81.2 143.4h0.55M72.8 138.2h0.55M77.4 144.3h0.55M83.2 148.9h0.55M77.9 145.8h0.55M66.2 146.5h0.55M81.8 147.0h0.55M80.3 144.3h0.55M86.6 141.1h0.55M80.0 146.2h0.55M68.9 139.6h0.55M78.4 143.4h0.55M79.8 144.9h0.55M69.1 144.0h0.55M83.9 142.0h0.55M72.8 139.7h0.55M81.4 148.7h0.55M64.4 145.3h0.55M82.1 141.4h0.55M72.2 140.0h0.55M69.0 143.5h0.55M80.2 143.4h0.55M81.8 143.6h0.55M66.0 147.3h0.55M84.4 141.0h0.55M89.0 144.4h0.55M76.2 148.7h0.55M80.7 142.3h0.55M67.8 147.5h0.55M79.0 139.3h0.55M70.0 145.5h0.55M89.1 137.2h0.55M77.1 142.0h0.55M61.6 142.6h0.55M62.7 141.5h0.55M87.8 144.6h0.55M81.3 144.8h0.55M78.0 145.9h0.55M66.1 142.0h0.55M81.9 141.0h0.55M71.8 146.6h0.55M87.2 141.3h0.55M68.9 144.8h0.55M77.4 141.1h0.55M79.9 144.7h0.55M75.9 151.7h0.55M85.9 145.5h0.55M83.3 151.8h0.55M83.9 141.0h0.55M77.8 143.3h0.55M70.9 143.9h0.55M108.5 166.9h0.55M103.5 173.0h0.55M95.9 172.9h0.55M106.9 169.2h0.55M90.5 178.8h0.55M95.0 161.4h0.55M111.2 163.1h0.55M104.0 152.0h0.55M103.8 168.8h0.55M111.4 165.3h0.55M108.3 170.3h0.55M102.2 162.2h0.55M120.2 161.5h0.55M115.3 167.8h0.55M116.9 162.9h0.55M110.4 169.6h0.55M105.3 169.4h0.55M101.5 166.8h0.55M104.1 172.5h0.55M106.2 157.8h0.55M104.3 166.6h0.55M100.6 176.4h0.55M109.6 173.1h0.55M101.6 164.6h0.55M113.7 157.5h0.55M109.3 167.9h0.55M103.4 167.9h0.55M99.4 168.9h0.55M98.5 158.6h0.55M116.4 162.5h0.55M92.3 174.0h0.55M101.5 143.1h0.55M106.4 173.7h0.55M109.2 179.1h0.55M106.0 171.4h0.55M99.9 168.4h0.55M117.4 170.8h0.55M107.9 153.7h0.55M104.2 158.5h0.55M112.2 162.2h0.55M109.3 160.4h0.55M119.8 159.3h0.55M107.8 185.4h0.55M108.3 161.3h0.55M111.1 174.2h0.55M112.8 153.8h0.55M108.3 152.7h0.55M119.9 167.8h0.55M103.7 172.0h0.55M110.2 159.2h0.55M118.0 165.7h0.55M94.7 177.0h0.55M117.4 176.0h0.55M110.6 161.2h0.55M113.3 180.2h0.55M112.5 178.4h0.55M101.5 174.4h0.55M113.3 157.0h0.55M95.6 162.4h0.55M107.4 170.5h0.55M105.3 166.9h0.55M106.1 168.0h0.55M110.9 170.8h0.55M106.5 169.2h0.55M103.7 172.9h0.55M103.4 178.8h0.55M106.7 169.3h0.55M101.6 165.0h0.55M108.0 167.5h0.55M102.6 159.3h0.55M107.2 168.4h0.55M110.7 176.0h0.55M104.7 153.5h0.55M105.9 154.5h0.55M97.9 174.5h0.55M110.8 162.9h0.55M102.5 166.8h0.55M94.7 170.7h0.55M104.5 180.2h0.55M99.5 174.4h0.55M102.1 174.5h0.55M100.1 172.5h0.55M103.8 161.6h0.55M105.8 170.7h0.55M109.7 178.4h0.55M112.6 149.0h0.55M104.1 153.5h0.55M104.2 171.7h0.55M97.6 159.2h0.55M107.9 165.4h0.55M117.9 169.6h0.55M110.6 179.6h0.55M103.4 167.4h0.55M100.0 169.2h0.55M114.1 176.9h0.55M106.6 162.4h0.55M101.6 157.7h0.55M107.8 176.9h0.55M90.4 152.2h0.55M116.7 156.2h0.55M109.2 158.6h0.55M112.4 172.9h0.55M108.1 173.2h0.55M107.3 171.4h0.55M119.7 175.1h0.55M102.3 161.8h0.55M105.3 165.8h0.55M107.5 163.2h0.55M111.5 167.7h0.55M109.5 167.5h0.55M111.3 159.1h0.55M118.0 169.9h0.55M110.1 171.8h0.55M114.6 172.6h0.55M108.7 166.2h0.55M95.5 169.0h0.55M104.8 165.3h0.55M123.8 154.5h0.55M107.4 176.0h0.55M113.7 176.2h0.55M98.2 160.8h0.55M111.4 165.5h0.55M119.0 169.1h0.55M108.4 170.6h0.55M105.1 168.4h0.55M102.3 167.3h0.55M103.7 169.4h0.55M97.2 157.1h0.55M110.3 169.2h0.55M100.3 166.0h0.55M99.7 181.9h0.55M96.2 179.6h0.55M101.3 170.5h0.55M105.3 164.9h0.55M113.7 173.3h0.55M105.1 161.2h0.55M121.6 177.4h0.55M108.1 165.5h0.55M109.2 168.2h0.55M115.5 160.9h0.55M107.3 162.1h0.55M116.3 180.2h0.55M106.5 171.4h0.55M117.0 165.5h0.55M100.6 174.9h0.55M110.7 166.2h0.55M117.4 169.3h0.55M94.7 170.1h0.55M106.7 180.8h0.55M107.0 166.2h0.55M110.2 169.4h0.55M97.3 168.5h0.55M104.8 177.5h0.55M123.9 159.8h0.55M100.4 161.7h0.55M102.5 162.8h0.55M107.5 175.3h0.55M98.0 156.9h0.55M94.3 175.4h0.55M116.4 156.9h0.55M95.7 168.6h0.55M114.8 174.8h0.55M108.5 172.4h0.55M109.4 163.8h0.55M120.5 167.6h0.55M99.4 164.4h0.55M96.4 167.8h0.55M114.8 158.8h0.55M115.1 182.3h0.55M109.8 159.6h0.55M101.2 165.3h0.55M98.2 158.9h0.55M105.3 166.4h0.55M111.4 159.3h0.55M120.3 175.1h0.55M113.4 163.1h0.55M119.3 165.3h0.55M119.9 175.2h0.55M100.9 164.5h0.55M120.3 174.7h0.55M106.1 169.1h0.55M108.6 162.3h0.55M105.8 163.0h0.55M104.2 170.9h0.55M100.5 172.8h0.55M107.9 173.0h0.55M113.4 176.4h0.55M111.6 172.6h0.55M105.9 171.7h0.55M100.9 165.9h0.55M112.4 167.3h0.55M110.3 160.3h0.55M116.8 163.6h0.55M109.9 167.5h0.55M113.7 165.0h0.55M100.2 154.4h0.55M105.0 159.3h0.55M110.9 177.8h0.55M91.6 158.6h0.55M109.3 176.3h0.55M109.3 169.9h0.55M110.7 171.7h0.55M118.7 172.0h0.55M98.5 164.3h0.55M108.6 162.0h0.55M105.3 164.0h0.55M102.2 172.5h0.55M104.4 160.0h0.55M102.1 167.9h0.55M122.0 169.5h0.55M117.6 171.1h0.55M92.0 170.3h0.55M101.2 158.1h0.55M99.6 180.2h0.55M96.0 163.3h0.55M115.3 172.3h0.55M95.1 166.9h0.55M103.5 166.3h0.55M112.4 163.6h0.55M104.9 177.9h0.55M94.2 165.0h0.55M110.5 158.9h0.55M102.7 158.4h0.55M108.2 163.3h0.55M112.7 174.8h0.55M107.5 165.0h0.55M109.0 168.0h0.55M98.6 175.2h0.55M108.7 173.2h0.55M97.5 173.8h0.55M122.0 172.0h0.55M96.9 167.9h0.55M106.7 169.2h0.55M105.5 171.1h0.55M103.8 169.2h0.55M102.3 168.3h0.55M114.1 164.2h0.55M111.8 161.4h0.55M104.5 165.9h0.55M115.9 162.2h0.55M115.7 157.3h0.55M106.0 174.1h0.55M112.0 160.5h0.55M98.5 173.8h0.55M98.2 171.7h0.55M103.4 167.5h0.55M123.5 178.6h0.55M113.0 157.9h0.55M109.4 168.0h0.55M106.4 177.0h0.55M94.9 169.8h0.55M108.0 162.3h0.55M119.3 158.6h0.55M107.3 168.1h0.55M91.6 157.5h0.55M100.2 173.2h0.55M113.8 171.8h0.55M108.8 152.0h0.55M108.6 163.9h0.55M115.4 177.1h0.55M122.9 172.6h0.55M112.8 160.3h0.55M107.6 158.8h0.55M113.4 159.1h0.55M105.5 161.7h0.55M103.7 170.8h0.55M103.0 169.1h0.55M99.9 177.4h0.55M102.5 174.7h0.55M122.2 150.2h0.55M100.0 166.1h0.55M115.3 164.1h0.55M109.7 162.3h0.55M111.0 158.9h0.55M113.0 146.3h0.55M93.6 180.5h0.55M108.2 161.1h0.55M122.7 175.0h0.55M115.0 164.5h0.55M111.4 171.1h0.55M95.2 171.7h0.55M105.7 176.7h0.55M116.3 162.9h0.55M102.7 168.9h0.55M111.7 164.6h0.55M106.2 171.9h0.55M110.0 175.8h0.55M108.7 161.2h0.55M94.4 173.3h0.55M104.6 165.0h0.55M104.9 156.2h0.55M104.2 148.9h0.55M104.1 161.1h0.55M120.1 170.7h0.55M105.4 168.6h0.55M112.2 162.1h0.55M105.3 164.9h0.55M124.8 168.0h0.55M92.9 173.2h0.55M125.5 160.6h0.55M114.1 163.4h0.55M105.0 158.6h0.55M99.4 152.0h0.55M115.2 159.2h0.55M109.6 169.8h0.55M102.3 167.8h0.55M106.3 163.9h0.55M107.3 167.8h0.55M99.6 158.1h0.55M100.8 168.3h0.55M116.9 178.0h0.55M109.2 174.3h0.55M107.8 175.4h0.55M107.8 170.3h0.55M104.9 167.4h0.55M120.6 158.8h0.55M106.9 163.1h0.55M113.8 180.5h0.55M104.7 147.4h0.55M111.4 171.9h0.55M94.7 165.7h0.55M106.4 150.7h0.55M111.8 170.6h0.55M108.6 159.7h0.55M101.7 162.8h0.55M110.4 160.3h0.55M117.5 170.1h0.55M91.1 179.6h0.55M108.0 163.4h0.55M107.6 154.1h0.55M108.2 149.5h0.55M99.4 177.2h0.55M116.0 164.9h0.55M99.8 174.1h0.55M106.5 168.9h0.55M111.4 159.5h0.55M112.6 151.9h0.55M117.5 155.9h0.55M102.3 162.5h0.55M112.1 172.7h0.55M109.4 171.3h0.55M110.2 166.8h0.55M92.9 150.5h0.55M90.0 166.9h0.55M105.1 166.3h0.55M108.4 165.6h0.55M99.5 156.3h0.55M92.9 176.1h0.55M113.4 157.4h0.55M104.8 170.5h0.55M118.4 162.9h0.55M108.0 175.7h0.55M94.1 161.9h0.55M106.5 162.0h0.55M122.2 173.6h0.55M108.2 160.2h0.55M113.1 171.9h0.55M103.0 164.0h0.55M96.0 166.7h0.55M113.1 174.5h0.55M111.0 173.2h0.55M102.4 163.8h0.55M115.5 170.5h0.55M100.9 170.9h0.55M112.8 172.4h0.55M107.5 163.4h0.55M109.6 179.6h0.55M107.8 162.3h0.55M109.2 158.2h0.55M108.4 165.0h0.55M113.7 167.9h0.55M114.3 184.0h0.55M105.1 161.1h0.55M110.0 166.5h0.55M107.7 162.8h0.55M110.7 167.7h0.55M90.9 165.4h0.55M109.1 175.8h0.55M102.5 161.3h0.55M115.0 162.7h0.55M107.4 170.6h0.55M112.0 167.2h0.55M98.6 174.5h0.55M103.5 163.4h0.55M121.3 173.5h0.55M98.9 163.6h0.55M104.9 161.7h0.55M92.7 173.0h0.55M112.3 168.9h0.55M103.7 168.7h0.55M111.3 159.6h0.55M104.2 163.1h0.55M111.7 169.0h0.55M97.2 162.7h0.55M119.5 160.1h0.55M107.7 162.6h0.55M115.7 166.7h0.55M103.5 158.6h0.55M104.8 173.1h0.55M111.5 157.5h0.55M117.9 165.3h0.55M99.0 168.0h0.55M102.1 162.9h0.55M102.0 166.4h0.55M103.0 154.7h0.55M110.4 163.3h0.55M115.3 171.0h0.55M111.1 168.4h0.55M116.0 164.7h0.55M99.4 169.6h0.55M86.9 164.4h0.55M108.1 164.1h0.55M115.7 172.2h0.55M107.4 164.2h0.55M114.5 162.2h0.55M103.6 172.5h0.55M110.9 181.8h0.55M105.0 153.5h0.55M111.3 176.2h0.55M105.4 178.3h0.55M119.4 162.2h0.55M103.1 158.0h0.55M110.5 172.2h0.55M110.9 158.1h0.55M101.0 156.7h0.55M94.9 157.3h0.55M95.1 165.7h0.55M109.6 171.5h0.55M106.4 162.2h0.55M106.5 171.1h0.55M104.4 167.4h0.55M104.3 163.2h0.55M106.8 159.0h0.55M114.1 155.7h0.55M109.8 157.2h0.55M117.4 173.3h0.55M100.7 163.8h0.55M98.4 166.6h0.55M109.5 185.4h0.55M96.7 175.9h0.55M102.3 169.0h0.55M112.8 170.9h0.55M109.5 165.6h0.55M106.4 168.1h0.55M115.1 156.4h0.55M103.0 158.0h0.55M99.6 161.3h0.55M114.4 182.4h0.55M116.3 158.5h0.55M102.3 155.4h0.55M112.2 157.3h0.55M110.6 158.0h0.55M98.9 154.2h0.55M106.6 144.8h0.55M112.2 158.0h0.55M107.3 153.2h0.55M111.4 156.3h0.55M102.5 154.6h0.55M108.7 160.6h0.55M101.8 157.0h0.55M99.9 155.0h0.55M106.0 144.7h0.55M109.3 152.8h0.55M106.9 162.4h0.55M104.6 164.2h0.55M101.8 158.9h0.55M105.7 155.6h0.55M109.4 153.9h0.55M107.5 145.3h0.55M107.5 150.8h0.55M105.5 157.0h0.55M102.3 153.1h0.55M104.2 157.8h0.55M101.1 157.3h0.55M102.8 162.0h0.55M105.2 160.9h0.55M106.4 157.8h0.55M107.0 158.5h0.55M109.8 161.5h0.55M113.9 158.5h0.55M112.3 151.4h0.55M100.9 155.4h0.55M106.2 157.5h0.55M105.0 163.7h0.55M108.0 155.3h0.55M109.1 145.2h0.55M112.8 149.9h0.55M107.0 163.5h0.55M107.7 146.9h0.55M110.0 155.9h0.55M102.1 153.5h0.55M103.2 154.3h0.55M104.1 164.1h0.55M106.8 151.7h0.55M105.2 148.6h0.55M105.0 154.3h0.55M112.1 153.7h0.55M101.5 157.2h0.55M110.1 152.8h0.55M107.3 151.7h0.55M109.2 154.9h0.55M106.4 154.1h0.55M108.5 150.6h0.55M114.1 150.2h0.55M106.1 154.9h0.55M106.7 159.0h0.55M106.8 155.5h0.55M103.2 151.3h0.55M111.6 151.4h0.55M105.3 151.8h0.55M109.9 152.7h0.55M103.2 165.1h0.55M107.5 157.8h0.55M109.1 153.4h0.55M110.4 148.5h0.55M102.9 156.1h0.55M110.5 163.2h0.55M101.0 161.0h0.55M104.9 153.6h0.55M112.5 158.2h0.55M107.1 145.2h0.55M111.1 154.4h0.55M101.8 154.8h0.55M102.8 154.0h0.55M107.2 151.0h0.55M108.1 152.5h0.55M116.5 147.2h0.55M109.9 161.4h0.55M98.2 148.4h0.55M106.0 150.6h0.55M112.3 166.4h0.55M111.9 152.3h0.55M107.1 161.3h0.55M108.3 161.2h0.55M102.2 151.7h0.55M111.1 154.4h0.55M100.4 148.1h0.55M95.9 157.8h0.55M105.2 164.3h0.55M114.6 158.7h0.55M102.7 147.6h0.55M105.8 166.5h0.55M107.9 154.3h0.55M112.4 160.4h0.55M105.6 155.6h0.55M108.2 154.8h0.55M107.6 161.7h0.55M103.5 164.3h0.55M114.2 157.7h0.55M108.4 161.6h0.55M104.1 150.5h0.55M108.3 154.2h0.55M101.0 153.7h0.55M109.1 151.2h0.55M101.3 159.3h0.55M100.2 153.1h0.55M121.5 152.1h0.55M105.6 155.3h0.55M102.1 152.0h0.55M106.8 145.5h0.55M113.0 153.6h0.55M108.8 146.6h0.55M99.0 161.9h0.55M100.4 158.4h0.55M113.0 157.7h0.55M108.2 155.0h0.55M108.2 151.5h0.55M106.3 160.8h0.55M108.6 154.3h0.55" stroke="#000" stroke-width="0.55" stroke-opacity="0.6" fill="none"/><path d="M77.9 139.7h0.6M74.3 141.6h0.6M76.3 145.1h0.6M75.5 145.6h0.6M69.3 142.2h0.6M69.3 143.1h0.6M74.5 142.6h0.6M68.3 142.8h0.6M71.9 144.2h0.6M72.7 145.4h0.6M75.1 139.2h0.6M73.2 140.1h0.6M78.6 145.9h0.6M73.9 143.9h0.6M67.2 138.4h0.6M71.4 142.5h0.6M66.9 143.2h0.6M75.5 144.3h0.6M81.3 144.7h0.6M72.3 143.2h0.6M76.8 140.9h0.6M80.3 144.8h0.6M72.9 141.7h0.6M91.9 144.7h0.6M78.4 146.7h0.6M78.6 143.4h0.6M77.3 141.1h0.6M77.4 139.9h0.6M76.0 144.2h0.6M66.7 146.9h0.6M68.6 145.2h0.6M71.5 143.7h0.6M70.9 148.1h0.6M78.9 146.7h0.6M77.7 144.5h0.6M74.8 142.5h0.6M76.9 143.4h0.6M73.4 140.2h0.6M72.6 144.3h0.6M71.9 143.8h0.6M73.4 140.9h0.6M69.8 141.5h0.6M72.7 142.5h0.6M79.4 140.8h0.6M64.5 144.5h0.6M72.0 142.8h0.6M86.1 146.1h0.6M76.9 145.0h0.6M74.7 145.0h0.6M71.2 141.6h0.6M71.9 146.3h0.6M81.5 141.8h0.6M79.6 142.7h0.6M79.2 142.4h0.6M78.7 142.8h0.6M72.8 143.0h0.6M74.9 141.9h0.6M67.7 146.5h0.6M72.3 139.3h0.6M63.4 137.3h0.6M71.3 145.9h0.6M66.4 142.4h0.6M65.5 145.3h0.6M75.9 143.7h0.6M80.6 146.5h0.6M79.0 141.9h0.6M67.9 140.9h0.6M65.9 146.8h0.6M73.3 143.3h0.6M75.1 147.2h0.6M71.5 145.5h0.6M75.6 142.8h0.6M65.1 145.0h0.6M70.7 142.1h0.6M75.3 143.3h0.6M79.5 141.7h0.6M75.0 143.7h0.6M74.3 144.5h0.6M73.0 145.6h0.6M70.8 140.1h0.6M74.0 145.5h0.6M71.8 141.8h0.6M72.6 143.4h0.6M73.4 143.7h0.6M66.1 146.2h0.6M77.0 141.3h0.6M80.7 144.0h0.6M81.2 140.7h0.6M82.1 143.2h0.6M64.5 144.6h0.6M72.8 141.0h0.6M73.2 139.1h0.6M77.0 142.6h0.6M72.9 146.0h0.6M74.4 141.7h0.6M69.7 143.0h0.6M79.2 141.9h0.6M69.3 145.0h0.6M74.5 143.0h0.6M84.1 140.6h0.6M75.1 139.4h0.6M72.8 144.3h0.6M79.5 140.5h0.6M78.2 144.7h0.6M73.6 148.2h0.6M74.2 141.3h0.6M76.2 139.2h0.6M81.6 145.1h0.6M72.3 144.3h0.6M76.7 147.1h0.6M71.3 140.4h0.6M64.6 142.5h0.6M66.8 142.7h0.6M76.1 142.2h0.6M69.7 145.5h0.6M73.2 143.6h0.6M78.7 140.4h0.6M69.8 148.2h0.6M73.4 140.9h0.6M73.0 141.9h0.6M68.4 142.2h0.6M74.1 143.1h0.6M76.7 139.5h0.6M67.1 144.7h0.6M72.1 145.6h0.6M75.6 140.2h0.6M76.7 141.0h0.6M75.4 145.6h0.6M84.2 142.9h0.6M77.5 143.7h0.6M77.9 137.8h0.6M72.3 143.7h0.6M76.4 141.5h0.6M78.1 145.4h0.6M74.5 142.6h0.6M72.5 143.4h0.6M79.8 146.2h0.6M72.0 141.2h0.6M70.4 145.1h0.6M75.2 143.7h0.6M76.5 143.9h0.6M73.6 140.9h0.6M71.3 143.3h0.6M76.0 142.3h0.6M72.2 145.9h0.6M72.0 143.5h0.6M72.7 141.3h0.6M67.0 142.0h0.6M70.3 144.8h0.6M68.8 142.2h0.6M77.3 142.9h0.6M76.5 144.8h0.6M66.4 142.2h0.6M69.7 145.8h0.6M73.6 144.1h0.6M82.2 142.4h0.6M74.5 143.9h0.6M72.9 145.6h0.6M78.0 145.1h0.6M74.4 142.4h0.6M72.5 142.3h0.6M66.5 143.8h0.6M78.0 143.1h0.6M71.9 143.2h0.6M75.2 143.7h0.6M82.6 141.3h0.6M75.9 144.5h0.6M74.5 142.6h0.6M69.4 141.9h0.6M77.5 146.0h0.6M71.1 144.0h0.6M76.6 145.1h0.6M75.3 144.0h0.6M78.4 140.7h0.6M74.4 139.5h0.6M65.0 141.4h0.6M67.0 144.1h0.6M78.8 142.5h0.6M73.5 142.6h0.6M73.0 143.3h0.6M75.8 142.1h0.6M70.5 142.0h0.6M77.9 142.2h0.6M80.9 142.6h0.6M80.5 140.7h0.6M70.9 144.0h0.6M76.4 142.8h0.6M83.6 143.2h0.6M75.5 141.9h0.6M81.8 144.8h0.6M76.1 139.8h0.6M75.8 142.1h0.6M76.0 144.9h0.6M70.7 143.5h0.6M78.2 143.4h0.6M72.6 140.9h0.6M71.1 140.5h0.6M78.7 143.3h0.6M68.5 143.1h0.6M68.2 136.5h0.6M79.7 145.4h0.6M67.3 141.6h0.6M75.1 142.3h0.6M70.2 142.0h0.6M73.0 142.0h0.6M75.1 142.6h0.6M70.6 143.1h0.6M66.5 146.0h0.6M66.1 142.9h0.6M75.7 143.9h0.6M75.3 145.6h0.6M68.9 142.9h0.6M74.8 142.1h0.6M71.4 145.6h0.6M70.8 142.1h0.6M72.9 142.6h0.6M74.9 142.6h0.6M75.8 143.3h0.6M76.3 145.8h0.6M70.2 146.4h0.6M72.1 144.4h0.6M74.9 142.5h0.6M65.1 146.3h0.6M70.6 141.5h0.6M79.0 143.2h0.6M82.8 146.4h0.6M77.4 143.6h0.6M77.6 140.4h0.6M74.9 143.3h0.6M71.9 143.6h0.6M67.4 144.8h0.6M80.0 140.5h0.6M74.8 146.1h0.6M76.0 141.0h0.6M69.6 144.7h0.6M82.5 140.9h0.6M74.3 141.5h0.6M72.8 143.7h0.6M73.9 141.7h0.6M83.7 142.7h0.6M73.3 145.2h0.6M74.1 142.6h0.6M78.4 141.0h0.6M77.5 145.1h0.6M77.1 142.7h0.6M74.1 139.6h0.6M73.5 143.6h0.6M78.0 143.3h0.6M72.3 141.4h0.6M73.9 143.3h0.6M79.6 143.1h0.6M71.8 142.8h0.6M71.9 142.6h0.6M64.0 139.9h0.6M68.6 144.0h0.6M73.7 143.3h0.6M79.4 141.0h0.6M79.3 143.8h0.6M70.8 146.0h0.6M67.6 140.8h0.6M73.1 143.8h0.6M73.2 138.8h0.6M72.7 142.9h0.6M85.7 145.8h0.6M74.6 140.9h0.6M75.6 140.7h0.6M75.0 143.8h0.6M72.3 143.5h0.6M72.6 141.9h0.6M81.0 144.2h0.6M72.7 141.5h0.6M74.9 144.2h0.6M77.9 145.9h0.6M76.2 140.8h0.6M83.3 145.3h0.6M77.8 145.7h0.6M67.3 142.3h0.6M71.7 145.4h0.6M68.7 142.4h0.6M81.0 144.3h0.6M72.3 146.7h0.6M68.0 143.9h0.6M73.0 144.0h0.6M72.8 141.4h0.6M75.0 140.4h0.6M76.5 142.4h0.6M78.2 142.1h0.6M71.0 143.8h0.6M79.7 138.9h0.6M74.6 144.3h0.6M67.6 141.3h0.6M77.0 141.4h0.6M71.2 146.4h0.6M69.8 141.3h0.6M63.6 140.9h0.6M68.5 146.4h0.6M79.6 140.5h0.6M83.0 144.5h0.6M73.2 144.6h0.6M75.8 141.5h0.6M66.1 141.2h0.6M74.0 142.3h0.6M70.7 144.9h0.6M69.2 144.8h0.6M71.9 143.2h0.6M69.0 143.0h0.6M70.5 139.6h0.6M73.9 142.9h0.6M77.8 143.6h0.6M69.4 141.8h0.6M62.8 140.8h0.6M79.9 146.0h0.6M77.5 143.6h0.6M76.7 144.0h0.6M66.2 141.3h0.6M79.4 145.3h0.6M75.1 142.4h0.6M72.3 141.9h0.6M69.8 139.2h0.6M74.7 142.1h0.6M73.1 146.4h0.6M76.7 141.6h0.6M76.7 140.0h0.6M78.8 143.5h0.6M73.1 144.1h0.6M80.6 142.1h0.6M69.5 147.2h0.6M74.1 146.0h0.6M71.0 143.8h0.6M71.1 144.3h0.6M72.8 141.7h0.6M81.1 143.7h0.6M64.8 142.5h0.6M69.8 140.6h0.6M71.4 142.1h0.6M74.2 141.4h0.6M65.5 141.9h0.6M78.0 140.3h0.6M76.8 143.9h0.6M72.0 143.6h0.6M70.6 142.2h0.6M69.4 143.9h0.6M80.3 141.7h0.6M79.5 138.8h0.6M70.0 141.0h0.6M81.9 141.8h0.6M77.6 138.9h0.6M74.5 144.1h0.6M73.8 137.6h0.6M74.8 144.6h0.6M80.0 143.8h0.6M66.3 142.6h0.6M78.1 141.4h0.6M76.6 142.0h0.6M74.4 144.5h0.6M70.8 148.7h0.6M74.7 143.7h0.6M70.6 143.1h0.6M72.8 140.1h0.6M67.0 143.6h0.6M73.6 137.8h0.6M64.2 142.4h0.6M73.7 144.2h0.6M68.3 144.2h0.6M72.6 142.0h0.6M73.3 145.0h0.6M76.6 144.8h0.6M70.8 142.4h0.6M68.7 141.9h0.6M72.2 142.1h0.6M77.3 143.9h0.6M77.5 143.3h0.6M78.9 143.2h0.6M78.4 144.0h0.6M77.4 142.9h0.6M68.3 140.1h0.6M83.0 143.8h0.6M76.0 142.7h0.6M71.9 148.7h0.6M68.8 142.9h0.6M73.8 140.7h0.6M68.2 141.6h0.6M72.4 142.0h0.6M77.7 140.6h0.6M75.9 145.9h0.6M78.1 140.7h0.6M60.4 144.7h0.6M76.3 141.8h0.6M79.9 142.2h0.6M74.5 140.9h0.6M75.5 142.1h0.6M71.7 145.2h0.6M75.0 140.0h0.6M77.2 144.7h0.6M70.2 142.2h0.6M74.2 142.5h0.6M74.6 144.3h0.6M71.7 147.2h0.6M70.7 141.9h0.6M83.1 147.8h0.6M74.2 142.6h0.6M69.1 145.3h0.6M74.8 141.3h0.6M75.9 145.7h0.6M77.2 147.4h0.6M79.3 143.9h0.6M73.8 144.1h0.6M79.6 144.7h0.6M78.9 143.4h0.6M77.5 145.4h0.6M73.2 140.4h0.6M81.9 144.2h0.6M72.0 143.5h0.6M72.9 139.6h0.6M73.2 140.2h0.6M74.9 142.8h0.6M79.2 142.8h0.6M75.7 142.4h0.6M72.3 140.2h0.6M78.6 143.3h0.6M71.3 143.4h0.6M72.1 141.6h0.6M75.1 145.4h0.6M72.8 140.2h0.6M71.2 146.6h0.6M70.3 145.4h0.6M72.9 144.5h0.6M73.5 139.8h0.6M72.1 147.2h0.6M73.4 144.1h0.6M72.5 142.7h0.6M75.5 143.9h0.6M84.2 143.0h0.6M73.2 141.7h0.6M68.0 139.8h0.6M77.1 139.3h0.6M80.5 144.7h0.6M72.7 140.7h0.6M74.1 143.0h0.6M79.2 141.5h0.6M72.3 142.9h0.6M72.7 141.8h0.6M66.1 139.7h0.6M70.9 142.6h0.6M78.6 147.6h0.6M81.9 143.8h0.6M82.7 142.8h0.6M71.6 147.6h0.6M69.1 142.2h0.6M72.8 145.9h0.6M71.3 144.6h0.6M72.1 140.6h0.6M75.1 143.3h0.6M68.7 141.3h0.6M70.4 144.9h0.6M76.1 143.5h0.6M76.3 142.1h0.6M76.2 141.8h0.6M67.9 141.6h0.6M75.0 143.2h0.6M78.9 139.6h0.6M73.0 143.8h0.6M69.6 143.5h0.6M72.1 140.8h0.6M79.2 140.2h0.6M78.6 142.2h0.6M69.7 141.2h0.6M70.6 141.3h0.6M75.3 139.3h0.6M79.7 144.7h0.6M80.4 141.1h0.6M63.4 141.8h0.6M73.3 143.6h0.6M71.7 142.8h0.6M74.7 139.9h0.6M82.3 140.8h0.6M75.3 145.2h0.6M70.4 143.0h0.6M81.6 142.5h0.6M78.9 143.6h0.6M75.1 144.5h0.6M73.0 142.6h0.6M78.5 143.5h0.6M76.3 140.6h0.6M74.1 145.4h0.6M78.2 143.7h0.6M71.7 141.8h0.6M76.1 145.9h0.6M74.3 145.6h0.6M72.7 145.4h0.6M69.5 143.4h0.6M69.2 144.3h0.6M76.7 141.1h0.6M70.6 142.1h0.6M67.2 141.2h0.6M70.1 144.6h0.6M80.4 142.1h0.6M72.7 143.5h0.6M71.7 142.5h0.6M77.9 143.5h0.6M73.7 141.9h0.6M80.8 141.8h0.6M74.6 141.0h0.6M71.3 143.2h0.6M72.3 144.1h0.6M74.4 140.3h0.6M63.5 145.0h0.6M71.4 146.0h0.6M74.1 141.5h0.6M76.6 142.5h0.6M74.1 141.2h0.6M77.0 145.2h0.6M71.7 146.6h0.6M71.5 143.5h0.6M66.5 139.2h0.6M83.7 145.9h0.6M79.3 139.6h0.6M75.1 143.9h0.6M74.4 143.6h0.6M69.8 142.7h0.6M68.8 142.3h0.6M75.8 141.5h0.6M72.8 142.2h0.6M74.1 144.9h0.6M75.1 143.8h0.6M67.4 142.3h0.6M77.8 141.3h0.6M72.1 141.1h0.6M80.2 142.1h0.6M70.7 144.3h0.6M79.1 144.0h0.6M78.6 143.4h0.6M73.5 142.1h0.6M71.7 141.8h0.6M75.7 142.8h0.6M74.4 144.2h0.6M73.8 140.3h0.6M70.4 140.8h0.6M65.3 143.2h0.6M68.5 140.5h0.6M69.1 144.8h0.6M72.6 145.0h0.6M73.6 142.1h0.6M76.6 144.2h0.6M74.6 140.9h0.6M71.9 140.7h0.6M72.8 143.2h0.6M80.8 145.8h0.6M77.1 144.9h0.6M75.1 148.5h0.6M81.0 148.3h0.6M75.8 143.8h0.6M78.9 143.4h0.6M75.4 141.0h0.6M78.3 143.3h0.6M77.7 142.6h0.6M65.8 144.0h0.6M79.4 140.4h0.6M69.5 142.4h0.6M72.9 139.6h0.6M82.1 145.0h0.6M71.2 139.4h0.6M75.7 147.0h0.6M77.8 145.3h0.6M69.7 143.5h0.6M67.1 147.0h0.6M76.6 138.8h0.6M65.5 144.0h0.6M74.6 142.4h0.6M76.8 147.0h0.6M75.7 139.4h0.6M73.3 140.4h0.6M70.3 143.6h0.6M73.2 140.9h0.6M73.9 141.4h0.6M76.4 142.5h0.6M75.8 142.5h0.6M77.4 142.7h0.6M73.9 141.9h0.6M74.6 139.4h0.6M86.2 141.6h0.6M74.4 142.0h0.6M71.7 143.8h0.6M71.6 142.1h0.6M67.6 141.1h0.6M68.6 146.6h0.6M67.8 140.8h0.6M74.8 145.8h0.6M66.1 139.9h0.6M74.5 143.6h0.6M67.4 139.4h0.6M69.5 144.5h0.6M73.7 144.5h0.6M73.4 142.9h0.6M76.7 142.7h0.6M75.0 141.1h0.6M71.2 143.9h0.6M72.8 141.5h0.6M76.9 144.1h0.6M73.9 141.4h0.6M78.0 148.0h0.6M70.1 139.9h0.6M70.3 141.1h0.6M68.1 140.6h0.6M77.8 144.7h0.6M80.7 144.4h0.6M71.7 145.1h0.6M71.1 142.3h0.6M68.5 145.4h0.6M78.5 142.0h0.6M72.5 143.0h0.6M74.8 144.6h0.6M74.2 143.7h0.6M67.0 142.3h0.6M65.6 146.5h0.6M80.3 144.4h0.6M79.0 147.0h0.6M78.2 139.8h0.6M72.9 138.2h0.6M70.1 140.5h0.6M73.8 143.7h0.6M69.6 142.4h0.6M75.1 142.6h0.6M73.0 138.1h0.6M71.8 144.5h0.6M75.0 140.0h0.6M72.6 143.5h0.6M69.4 144.3h0.6M70.2 142.3h0.6M73.3 147.4h0.6M72.4 141.8h0.6M77.1 142.0h0.6M74.7 138.4h0.6M75.2 142.9h0.6M67.9 145.6h0.6M72.7 142.5h0.6M67.8 139.7h0.6M71.2 139.9h0.6M76.1 144.7h0.6M70.9 139.7h0.6M72.0 140.8h0.6M74.6 143.3h0.6M71.9 143.1h0.6M78.6 146.3h0.6M71.4 144.4h0.6M72.7 140.8h0.6M79.7 143.7h0.6M74.5 143.6h0.6M73.1 140.8h0.6M82.0 144.7h0.6M109.5 168.3h0.6M105.7 171.9h0.6M105.3 169.4h0.6M105.6 169.6h0.6M105.2 175.9h0.6M107.8 169.2h0.6M109.4 166.2h0.6M105.0 167.1h0.6M104.0 167.4h0.6M108.4 171.5h0.6M102.0 170.8h0.6M103.9 168.3h0.6M110.4 167.7h0.6M105.8 168.3h0.6M109.6 171.3h0.6M100.4 173.8h0.6M105.0 168.5h0.6M106.7 164.3h0.6M99.2 163.3h0.6M105.5 164.2h0.6M104.1 173.9h0.6M100.0 163.3h0.6M105.6 166.1h0.6M101.7 167.9h0.6M99.1 164.7h0.6M101.3 167.9h0.6M110.1 157.7h0.6M107.5 169.1h0.6M103.1 168.6h0.6M103.0 171.1h0.6M107.1 174.0h0.6M109.1 160.9h0.6M105.6 174.3h0.6M105.7 171.1h0.6M98.1 165.2h0.6M104.9 171.7h0.6M102.7 168.7h0.6M109.9 164.2h0.6M105.1 166.0h0.6M107.0 162.9h0.6M104.9 170.1h0.6M102.5 166.7h0.6M104.4 172.3h0.6M111.8 166.8h0.6M101.4 166.6h0.6M105.2 164.1h0.6M107.1 173.6h0.6M109.0 166.6h0.6M104.0 172.0h0.6M109.1 172.4h0.6M98.8 169.0h0.6M110.9 168.1h0.6M113.8 166.4h0.6M103.1 167.7h0.6M107.4 169.5h0.6M105.7 170.3h0.6M104.6 172.0h0.6M102.4 167.9h0.6M107.1 164.6h0.6M105.0 165.1h0.6M107.2 166.7h0.6M108.9 170.1h0.6M107.1 171.0h0.6M101.3 165.5h0.6M103.9 166.2h0.6M111.7 161.0h0.6M107.6 160.9h0.6M105.7 169.4h0.6M106.5 176.6h0.6M112.1 164.7h0.6M101.8 164.6h0.6M104.3 163.9h0.6M107.5 167.6h0.6M107.6 162.0h0.6M104.1 175.3h0.6M108.7 167.0h0.6M104.3 171.7h0.6M103.2 164.0h0.6M109.3 171.3h0.6M99.5 159.7h0.6M101.6 163.0h0.6M107.1 168.9h0.6M109.0 174.4h0.6M110.3 167.9h0.6M101.9 164.3h0.6M109.5 167.5h0.6M109.3 161.7h0.6M104.8 170.5h0.6M105.5 168.0h0.6M109.1 167.7h0.6M109.8 164.6h0.6M109.4 170.5h0.6M100.4 160.4h0.6M104.5 169.9h0.6M103.9 165.0h0.6M105.5 162.7h0.6M104.3 164.9h0.6M102.6 169.1h0.6M99.2 171.4h0.6M102.0 176.3h0.6M109.4 169.5h0.6M108.8 167.4h0.6M100.7 167.0h0.6M110.2 168.6h0.6M100.9 165.5h0.6M107.5 165.3h0.6M110.0 168.5h0.6M108.1 169.4h0.6M113.7 160.3h0.6M109.2 167.6h0.6M105.9 166.2h0.6M111.6 167.6h0.6M108.4 172.8h0.6M105.1 174.5h0.6M104.9 169.3h0.6M106.6 172.1h0.6M112.1 170.9h0.6M113.5 160.0h0.6M105.4 168.6h0.6M105.5 160.6h0.6M106.7 159.2h0.6M112.4 166.8h0.6M110.0 166.3h0.6M113.2 171.6h0.6M108.9 166.6h0.6M102.8 162.0h0.6M106.4 166.5h0.6M105.1 163.1h0.6M105.0 170.0h0.6M103.6 166.9h0.6M112.3 172.4h0.6M106.1 168.2h0.6M108.0 173.4h0.6M102.1 165.1h0.6M113.7 165.4h0.6M116.0 165.3h0.6M105.8 167.5h0.6M105.7 172.2h0.6M103.1 168.8h0.6M104.1 163.0h0.6M104.3 168.3h0.6M108.0 160.4h0.6M105.6 166.9h0.6M99.1 165.3h0.6M104.9 173.2h0.6M111.1 169.4h0.6M107.2 171.5h0.6M107.5 167.5h0.6M108.4 170.7h0.6M108.0 165.9h0.6M108.8 168.8h0.6M111.0 168.2h0.6M109.4 168.2h0.6M104.6 167.7h0.6M106.0 164.1h0.6M110.7 169.4h0.6M104.8 167.2h0.6M110.7 165.7h0.6M104.9 167.9h0.6M102.2 170.2h0.6M106.4 167.9h0.6M102.7 167.0h0.6M112.0 171.0h0.6M106.9 162.7h0.6M113.9 169.8h0.6M103.4 166.0h0.6M113.1 167.5h0.6M107.4 167.7h0.6M99.5 173.9h0.6M109.5 159.7h0.6M101.9 170.3h0.6M106.6 169.4h0.6M103.9 168.3h0.6M103.6 165.9h0.6M105.7 167.7h0.6M108.6 173.5h0.6M107.9 161.9h0.6M107.4 172.6h0.6M106.4 171.4h0.6M103.4 170.0h0.6M102.0 170.3h0.6M101.5 172.1h0.6M108.2 159.9h0.6M106.9 166.9h0.6M106.4 169.0h0.6M107.2 164.3h0.6M108.1 168.7h0.6M104.1 174.6h0.6M108.3 167.7h0.6M102.6 165.9h0.6M110.0 165.5h0.6M108.5 166.5h0.6M108.0 164.9h0.6M103.7 165.1h0.6M106.7 167.9h0.6M101.2 172.8h0.6M111.8 169.3h0.6M105.2 172.4h0.6M104.9 165.1h0.6M107.1 168.6h0.6M108.5 168.8h0.6M102.8 163.7h0.6M102.1 163.1h0.6M107.5 167.1h0.6M108.3 176.6h0.6M111.2 167.6h0.6M107.6 164.9h0.6M109.1 171.0h0.6M105.4 168.9h0.6M106.0 163.0h0.6M108.8 165.4h0.6M108.3 167.0h0.6M109.7 161.7h0.6M101.4 164.4h0.6M104.4 162.6h0.6M108.8 171.5h0.6M106.8 163.3h0.6M101.4 167.1h0.6M99.8 163.9h0.6M97.8 164.4h0.6M103.4 164.6h0.6M103.8 164.6h0.6M105.4 171.6h0.6M109.0 168.4h0.6M108.7 170.7h0.6M102.9 165.5h0.6M105.0 164.7h0.6M106.2 167.5h0.6M106.2 171.4h0.6M109.9 173.9h0.6M109.3 165.8h0.6M111.0 157.2h0.6M107.8 169.0h0.6M114.8 161.5h0.6M106.0 166.6h0.6M105.9 171.5h0.6M108.7 164.5h0.6M108.9 163.9h0.6M110.2 168.0h0.6M110.6 163.2h0.6M113.0 168.6h0.6M112.6 165.2h0.6M109.1 170.0h0.6M108.3 164.9h0.6M103.8 169.9h0.6M104.0 163.4h0.6M107.0 172.7h0.6M107.4 170.9h0.6M107.2 167.9h0.6M110.5 166.0h0.6M107.2 168.1h0.6M107.5 162.5h0.6M104.9 165.1h0.6M102.9 171.2h0.6M108.6 166.8h0.6M104.8 171.6h0.6M107.4 168.6h0.6M99.5 163.5h0.6M108.5 160.6h0.6M102.1 167.9h0.6M105.2 165.2h0.6M106.4 166.2h0.6M103.9 175.4h0.6M104.0 168.0h0.6M103.6 165.2h0.6M104.7 166.7h0.6M107.2 168.7h0.6M112.8 164.3h0.6M107.7 163.3h0.6M104.2 175.3h0.6M111.1 172.2h0.6M100.5 168.7h0.6M106.8 172.6h0.6M110.7 165.5h0.6M110.0 164.9h0.6M108.2 165.5h0.6M105.2 163.6h0.6M104.2 164.2h0.6M105.9 168.2h0.6M110.7 168.2h0.6M100.4 167.1h0.6M106.8 166.5h0.6M109.9 171.1h0.6M105.8 170.9h0.6M101.8 169.8h0.6M107.9 172.1h0.6M105.3 169.3h0.6M104.3 167.7h0.6M102.2 169.5h0.6M108.3 171.0h0.6M106.4 174.7h0.6M107.1 167.2h0.6M106.1 167.6h0.6M102.9 163.6h0.6M105.5 165.5h0.6M102.7 163.3h0.6M108.9 166.5h0.6M108.7 166.8h0.6M109.0 171.0h0.6M105.2 166.0h0.6M104.3 160.8h0.6M102.9 169.2h0.6M111.2 172.3h0.6M109.5 166.2h0.6M103.1 162.4h0.6M106.5 166.2h0.6M103.7 166.8h0.6M107.5 174.5h0.6M108.7 168.5h0.6M105.7 168.1h0.6M101.1 165.5h0.6M103.5 172.8h0.6M103.9 161.6h0.6M113.0 161.8h0.6M111.1 168.8h0.6M108.4 172.7h0.6M104.1 169.5h0.6M104.5 167.2h0.6M104.2 167.7h0.6M109.0 172.0h0.6M101.0 167.1h0.6M109.4 169.9h0.6M102.4 167.3h0.6M109.9 169.0h0.6M108.3 160.7h0.6M106.8 161.0h0.6M106.8 173.7h0.6M105.5 169.2h0.6M114.2 167.5h0.6M105.5 172.3h0.6M106.6 166.1h0.6M107.2 175.3h0.6M105.3 171.5h0.6M110.8 163.0h0.6M103.9 167.2h0.6M104.3 165.0h0.6M101.5 165.3h0.6M107.7 171.8h0.6M105.4 171.0h0.6M107.0 168.7h0.6M109.2 171.7h0.6M104.4 168.8h0.6M103.9 163.2h0.6M104.7 165.2h0.6M111.9 163.1h0.6M99.9 168.5h0.6M102.1 163.6h0.6M110.0 168.3h0.6M108.5 164.0h0.6M110.2 166.5h0.6M107.5 172.4h0.6M106.5 170.1h0.6M102.7 166.2h0.6M106.3 168.7h0.6M106.3 166.1h0.6M103.1 166.8h0.6M110.2 165.6h0.6M111.0 166.7h0.6M102.1 163.4h0.6M109.0 168.0h0.6M108.5 165.2h0.6M110.0 170.8h0.6M106.3 167.1h0.6M106.6 161.6h0.6M111.1 168.5h0.6M103.8 163.0h0.6M109.4 163.9h0.6M103.0 158.5h0.6M108.6 174.8h0.6M106.3 162.8h0.6M108.3 170.5h0.6M103.9 166.7h0.6M106.5 170.4h0.6M107.8 170.4h0.6M111.2 165.8h0.6M107.9 165.7h0.6M105.8 165.3h0.6M104.4 166.6h0.6M110.7 168.3h0.6M111.1 174.1h0.6M111.2 166.9h0.6M112.3 169.0h0.6M111.3 163.1h0.6M110.2 165.4h0.6M109.4 165.9h0.6M100.4 166.5h0.6M105.7 164.1h0.6M99.3 167.6h0.6M104.1 163.3h0.6M107.2 166.8h0.6M101.6 164.6h0.6M105.4 168.6h0.6M104.8 170.6h0.6M103.6 169.8h0.6M106.8 168.4h0.6M103.5 169.1h0.6M103.8 167.1h0.6M108.5 166.9h0.6M106.6 178.0h0.6M106.9 170.0h0.6M108.0 171.5h0.6M107.6 171.2h0.6M110.9 176.0h0.6M107.5 161.5h0.6M99.4 167.8h0.6M105.0 164.5h0.6M106.9 164.9h0.6M108.9 161.2h0.6M107.6 170.2h0.6M106.5 166.4h0.6M110.2 165.9h0.6M112.9 169.3h0.6M111.2 166.2h0.6M106.0 165.5h0.6M108.2 163.8h0.6M108.5 167.3h0.6M106.3 172.8h0.6M109.4 168.9h0.6M104.8 167.3h0.6M108.1 168.8h0.6M109.2 170.3h0.6M107.9 165.2h0.6M105.0 171.8h0.6M104.5 168.8h0.6M112.1 168.1h0.6M103.4 168.1h0.6M107.2 168.7h0.6M102.1 171.4h0.6M106.3 164.3h0.6M110.2 162.1h0.6M103.9 160.4h0.6M104.4 162.3h0.6M108.5 170.3h0.6M108.5 170.8h0.6M107.5 160.4h0.6M104.9 161.0h0.6M104.8 166.1h0.6M103.9 169.3h0.6M108.4 173.6h0.6M109.0 171.7h0.6M106.4 170.7h0.6M103.1 174.4h0.6M106.5 169.1h0.6M107.5 166.7h0.6M109.3 164.9h0.6M106.8 170.3h0.6M103.2 170.1h0.6M104.7 161.2h0.6M114.5 166.7h0.6M109.8 166.7h0.6M113.3 170.5h0.6M108.6 167.9h0.6M103.8 166.9h0.6M104.0 164.0h0.6M107.4 172.5h0.6M106.6 167.0h0.6M106.4 165.6h0.6M108.6 167.4h0.6M101.3 170.7h0.6M110.9 168.3h0.6M105.7 164.0h0.6M110.1 168.1h0.6M105.8 169.6h0.6M109.9 169.3h0.6M112.5 168.9h0.6M103.2 169.0h0.6M106.1 164.8h0.6M108.5 166.8h0.6M112.0 168.8h0.6M111.3 170.4h0.6M105.2 164.9h0.6M106.8 169.9h0.6M107.3 169.7h0.6M112.0 165.4h0.6M101.6 171.5h0.6M106.6 165.4h0.6M106.3 169.9h0.6M109.2 162.8h0.6M110.4 166.8h0.6M109.8 168.6h0.6M109.4 170.5h0.6M109.8 165.8h0.6M102.6 168.3h0.6M105.5 166.2h0.6M108.8 169.2h0.6M108.9 163.7h0.6M103.2 167.3h0.6M104.1 170.5h0.6M109.0 163.4h0.6M104.5 170.7h0.6M109.8 171.3h0.6M113.0 165.8h0.6M107.3 167.4h0.6M108.6 159.2h0.6M108.0 165.4h0.6M110.3 161.6h0.6M112.6 172.7h0.6M108.5 157.3h0.6M96.9 168.8h0.6M106.3 165.0h0.6M103.9 172.6h0.6M106.4 168.3h0.6M105.3 168.9h0.6M109.7 170.7h0.6M110.2 162.9h0.6M105.7 165.0h0.6M106.9 171.6h0.6M109.1 169.6h0.6M104.9 169.7h0.6M108.8 164.3h0.6M107.8 170.3h0.6M109.4 167.0h0.6M102.3 167.6h0.6M108.3 168.6h0.6M103.8 170.4h0.6M107.7 165.1h0.6M106.5 166.1h0.6M107.9 171.0h0.6M107.6 174.1h0.6M110.1 173.7h0.6M106.8 176.6h0.6M110.9 167.4h0.6M105.2 165.9h0.6M107.9 168.6h0.6M107.5 162.9h0.6M106.7 166.7h0.6M106.1 168.4h0.6M108.3 171.5h0.6M107.0 167.1h0.6M109.3 171.4h0.6M106.3 172.2h0.6M113.2 168.3h0.6M112.1 167.7h0.6M105.4 170.8h0.6M108.8 163.0h0.6M104.6 165.4h0.6M110.6 161.8h0.6M106.9 168.2h0.6M107.6 169.2h0.6M108.5 168.2h0.6M98.6 166.9h0.6M108.2 170.4h0.6M111.9 167.9h0.6M97.6 163.0h0.6M108.2 173.0h0.6M105.5 162.2h0.6M103.0 170.0h0.6M113.6 169.8h0.6M106.7 172.7h0.6M103.8 169.0h0.6M105.8 168.3h0.6M102.6 164.4h0.6M107.1 174.6h0.6M105.5 164.3h0.6M112.0 173.0h0.6M107.5 165.7h0.6M105.7 171.0h0.6M103.7 163.8h0.6M104.4 167.9h0.6M106.1 163.4h0.6M109.0 171.1h0.6M112.9 167.1h0.6M106.6 165.1h0.6M109.3 163.1h0.6M101.5 167.4h0.6M112.5 165.0h0.6M107.2 170.4h0.6M101.7 170.9h0.6M102.6 165.0h0.6M105.6 165.0h0.6M110.0 169.7h0.6M115.3 171.2h0.6M106.7 166.1h0.6M104.2 169.6h0.6M108.1 166.8h0.6M108.3 164.8h0.6M103.3 172.1h0.6M107.1 159.9h0.6M107.3 164.2h0.6M107.8 166.3h0.6M109.4 171.8h0.6M103.1 166.6h0.6M99.9 159.2h0.6M107.1 165.0h0.6M104.9 165.4h0.6M101.5 162.2h0.6M108.7 161.8h0.6M108.9 160.9h0.6M108.4 164.6h0.6M109.1 168.5h0.6M104.1 171.8h0.6M105.2 164.3h0.6M108.7 164.9h0.6M106.6 167.2h0.6M105.1 169.0h0.6M100.7 171.4h0.6M108.1 168.4h0.6M104.3 164.9h0.6M105.5 170.7h0.6M102.2 160.8h0.6M103.7 171.0h0.6M110.9 172.1h0.6M108.2 166.8h0.6M105.2 164.6h0.6M108.4 165.1h0.6M106.1 163.0h0.6M108.1 167.7h0.6M100.8 160.1h0.6M105.8 164.4h0.6M107.1 168.0h0.6M108.6 174.5h0.6M104.9 169.5h0.6M108.7 170.2h0.6M106.1 169.8h0.6M111.3 169.6h0.6M99.6 164.7h0.6M108.8 170.3h0.6M105.0 166.7h0.6M105.0 177.0h0.6M104.9 163.2h0.6M104.5 169.2h0.6M107.4 166.1h0.6M106.9 166.0h0.6M103.1 167.3h0.6M102.8 167.7h0.6M103.5 170.7h0.6M100.7 166.6h0.6M102.5 165.9h0.6M106.1 172.6h0.6M100.9 169.2h0.6M105.9 163.1h0.6M110.1 162.7h0.6M106.9 166.0h0.6M106.0 168.5h0.6M104.3 170.1h0.6M110.2 168.7h0.6M106.8 168.2h0.6M106.6 166.3h0.6M105.6 169.8h0.6M106.9 161.6h0.6M107.9 166.9h0.6M111.4 167.6h0.6M103.4 163.3h0.6M103.2 169.7h0.6M106.4 168.5h0.6M108.5 160.6h0.6M107.1 172.1h0.6M108.9 162.6h0.6M106.0 163.8h0.6M104.0 168.8h0.6M106.0 161.6h0.6M103.7 167.3h0.6M108.7 164.7h0.6M104.9 167.1h0.6M106.9 165.3h0.6M105.9 167.7h0.6M105.2 162.6h0.6M106.6 165.2h0.6M109.4 171.3h0.6M106.7 169.6h0.6M107.4 166.3h0.6M105.3 165.8h0.6M106.2 164.5h0.6M112.1 167.1h0.6M105.2 169.3h0.6M104.9 170.0h0.6M108.8 170.8h0.6M103.0 177.2h0.6M106.0 167.1h0.6M108.6 168.4h0.6M104.1 164.1h0.6M109.4 168.4h0.6M101.6 163.6h0.6M109.0 171.3h0.6M103.4 171.1h0.6M107.1 166.7h0.6M106.0 168.9h0.6M109.5 167.2h0.6M104.7 165.9h0.6M104.8 165.9h0.6M105.7 167.8h0.6M110.8 165.9h0.6M105.4 168.4h0.6M104.7 171.6h0.6M106.1 167.4h0.6M105.2 165.4h0.6M102.0 167.7h0.6M107.2 166.1h0.6M107.3 168.3h0.6M108.4 175.2h0.6M106.0 166.9h0.6M107.7 167.4h0.6M111.0 166.4h0.6M108.3 163.7h0.6M102.9 169.1h0.6M108.1 169.5h0.6M113.5 165.2h0.6M105.4 169.7h0.6M104.1 165.8h0.6M106.6 168.2h0.6M103.2 162.7h0.6M105.2 165.0h0.6M104.3 166.2h0.6M109.3 169.5h0.6M99.7 167.6h0.6M108.1 166.8h0.6M107.2 167.1h0.6M101.8 167.7h0.6M108.3 158.9h0.6M107.6 165.6h0.6M105.9 166.4h0.6M102.7 171.9h0.6M103.1 167.3h0.6M107.8 167.6h0.6M106.8 169.5h0.6M107.1 162.8h0.6M109.4 170.3h0.6M108.1 174.5h0.6M104.8 164.0h0.6M109.6 167.6h0.6M109.2 163.6h0.6M103.7 169.5h0.6M104.1 169.4h0.6M105.5 167.4h0.6M102.8 168.2h0.6M99.8 169.1h0.6M104.7 166.0h0.6M108.0 172.6h0.6M103.7 165.7h0.6M104.5 167.5h0.6M97.9 174.8h0.6M98.9 167.6h0.6M103.9 170.8h0.6M104.7 172.7h0.6M107.0 171.0h0.6M106.4 171.3h0.6M104.2 157.5h0.6M109.3 162.2h0.6M106.4 169.2h0.6M107.0 168.9h0.6M112.3 165.5h0.6M105.8 168.2h0.6M104.5 162.5h0.6M105.8 167.4h0.6M106.2 165.8h0.6M106.4 163.6h0.6M103.8 162.2h0.6M109.0 164.9h0.6M106.6 169.0h0.6M105.2 163.5h0.6M110.2 170.0h0.6M105.1 162.5h0.6M107.4 167.7h0.6M108.4 167.4h0.6M111.1 162.6h0.6M106.6 163.6h0.6M109.9 169.1h0.6M109.0 170.4h0.6M105.9 171.6h0.6M111.1 169.9h0.6M102.1 164.9h0.6M110.7 164.0h0.6M105.3 171.5h0.6M107.9 168.2h0.6M100.7 170.9h0.6M105.6 165.5h0.6M106.7 168.5h0.6M107.3 166.4h0.6M115.8 158.8h0.6M109.1 170.2h0.6M107.7 165.2h0.6M112.0 174.3h0.6M102.6 167.7h0.6M105.5 168.0h0.6M102.5 170.3h0.6M107.3 166.8h0.6M109.7 165.9h0.6M102.7 163.6h0.6M109.0 166.3h0.6M104.6 166.4h0.6M107.1 170.1h0.6M106.8 165.7h0.6M108.3 166.6h0.6M104.0 167.9h0.6M105.2 165.8h0.6M107.6 168.7h0.6M105.9 164.7h0.6M109.8 168.5h0.6M112.4 168.3h0.6M108.7 167.5h0.6M103.4 166.3h0.6M107.9 167.8h0.6M106.9 168.5h0.6M103.9 166.3h0.6M107.9 166.4h0.6M96.4 170.6h0.6M109.8 169.5h0.6M107.6 171.7h0.6M105.1 169.7h0.6M108.1 167.1h0.6" stroke="#000" stroke-width="0.6" stroke-opacity="0.85" fill="none"/><rect x="56.5" y="35.8" width="74.50" height="74.00" fill="none" stroke="#231f20" stroke-width="1.1"/><rect x="57.5" y="117.7" width="73.90" height="74.80" fill="none" stroke="#231f20" stroke-width="1.1"/><rect x="64.4" y="52.5" width="29.10" height="15.20" fill="none" stroke="#231f20" stroke-width="1.0"/><rect x="96.2" y="71.2" width="28.40" height="24.20" fill="none" stroke="#231f20" stroke-width="1.0"/><rect x="64.5" y="134.6" width="31.50" height="14.90" fill="none" stroke="#231f20" stroke-width="1.0"/><rect x="94.8" y="155.2" width="32.90" height="22.10" fill="none" stroke="#231f20" stroke-width="1.0"/><text x="63.6" y="42.8" font-size="6.8">CD45.2</text><text x="68.1" y="51.2" font-size="6.8">40.5</text><text x="69" y="90.4" font-size="6.8">CD45.1</text><text x="73.8" y="98.2" font-size="6.8">40.2</text><text x="71.1" y="126" font-size="6.8">CD45.2</text><text x="76.3" y="134.0" font-size="6.8">32.2</text><text x="63.9" y="169" font-size="6.8">CD45.1</text><text x="69.1" y="177.7" font-size="6.8">51.2</text><text x="25" y="75.6" font-size="10">LMC</text><text x="16" y="158.2" font-size="10">DPWY</text><text transform="translate(43.4 127.8) rotate(-90)" x="0" y="0" font-size="10.3" font-weight="bold" textLength="21" lengthAdjust="spacingAndGlyphs">CD45.2</text><text x="79.6" y="211.3" font-size="10.3" font-weight="bold" textLength="20.8" lengthAdjust="spacingAndGlyphs">CD45.1</text><text x="206.3" y="18.7" font-size="10">B220<tspan font-size="7.8" dy="-3.6">+</tspan><tspan dy="3.6"> CD43</tspan><tspan font-size="7.8" dy="-3.6">+</tspan></text><text x="179.6" y="31.3" font-size="10" textLength="32.2" lengthAdjust="spacingAndGlyphs">CD45.1</text><text x="261.3" y="31.3" font-size="10" textLength="34" lengthAdjust="spacingAndGlyphs">CD45.2</text><line x1="151.9" y1="40.5" x2="151.9" y2="199" stroke="#7a7a7a" stroke-width="1.5"/><polygon points="149.70000000000002,42.5 151.9,37.0 154.1,42.5" fill="#231f20"/><line x1="151.15" y1="198.8" x2="311" y2="198.8" stroke="#7a7a7a" stroke-width="1.5"/><polygon points="309,196.60000000000002 314.5,198.8 309,201.0" fill="#231f20"/><text transform="translate(146.4 125.3) rotate(-90)" x="0" y="0" font-size="10.3" font-weight="bold" textLength="15.4" lengthAdjust="spacingAndGlyphs">CD24</text><text x="225.8" y="209.8" font-size="10.3" font-weight="bold" textLength="15.8" lengthAdjust="spacingAndGlyphs">BP-1</text><clipPath id="cp1"><rect x="159.2" y="36.2" width="74.60" height="74.00"/></clipPath><g clip-path="url(#cp1)"><path d="M196.4 64.0 194.9 63.8 193.7 63.1 192.7 62.0 192.1 60.5 191.8 58.7 191.7 55.2 190.9 52.2 190.8 51.2 191.1 49.7 191.9 48.5 193.4 47.3 195.2 46.5 197.7 45.9 199.9 45.8 202.9 46.1 206.9 46.8 208.9 47.6 210.6 48.7 211.8 50.2 212.3 51.7 212.3 52.5 212.0 53.5 211.1 55.0 209.7 56.1 207.7 56.9 205.7 57.1 202.2 56.8 201.2 57.0 200.7 57.4 200.4 57.8 199.5 61.0 198.8 62.5 197.7 63.5 196.4 64.0Z" fill="none" fill-rule="nonzero" stroke="#8c8c8c" stroke-width="0.56"/><path d="M196.4 60.7 195.7 60.9 194.8 60.5 194.2 59.5 193.9 58.5 193.9 55.0 193.4 52.5 193.4 51.5 193.7 50.2 194.8 49.0 196.2 48.1 197.9 47.6 199.7 47.4 201.7 47.5 205.2 47.9 206.9 48.3 208.7 49.1 209.9 50.2 210.4 51.2 210.5 52.5 210.1 53.7 209.2 54.7 207.9 55.4 206.2 55.8 204.7 55.7 201.2 55.0 200.2 55.1 199.4 55.3 198.9 55.7 198.5 56.2 197.5 59.5 197.1 60.2 196.4 60.7Z" fill="none" fill-rule="nonzero" stroke="#797979" stroke-width="0.56"/><path d="M206.9 54.7 205.9 54.9 204.9 54.8 201.7 53.9 200.4 53.7 197.4 53.9 196.7 53.9 196.0 53.5 195.6 52.7 195.4 51.7 195.5 51.0 195.9 50.2 196.7 49.5 197.7 49.0 198.7 48.8 200.2 48.6 203.9 48.7 206.4 49.1 207.4 49.5 208.4 50.3 209.0 51.0 209.3 52.0 209.2 53.0 208.7 53.7 207.9 54.3 206.9 54.7Z" fill="none" fill-rule="nonzero" stroke="#6e6e6e" stroke-width="0.56"/><path d="M206.4 54.0 205.4 54.1 204.4 53.9 200.9 52.5 198.4 52.0 197.9 51.7 197.8 51.5 197.9 51.0 198.7 50.3 199.9 49.9 204.2 49.6 206.2 49.9 206.9 50.2 207.6 50.7 208.0 51.2 208.2 52.0 208.1 52.7 207.8 53.2 207.2 53.7 206.4 54.0Z" fill="none" fill-rule="nonzero" stroke="#787878" stroke-width="0.56"/><path d="M205.7 53.2 204.4 53.0 203.4 52.5 202.8 52.0 202.6 51.5 202.7 51.2 203.4 50.7 204.4 50.5 205.4 50.6 206.4 51.0 207.0 51.7 207.0 52.5 206.6 53.0 205.7 53.2Z" fill="none" fill-rule="nonzero" stroke="#aaaaaa" stroke-width="0.56"/></g><clipPath id="cp2"><rect x="159.2" y="36.2" width="74.60" height="74.00"/></clipPath><g clip-path="url(#cp2)"><path d="M188.9 89.2 187.2 89.3 185.2 88.9 183.4 88.1 182.1 87.2 180.9 86.0 180.0 84.5 179.5 83.0 179.3 81.2 179.5 79.7 179.8 78.0 182.5 68.7 183.3 66.7 184.2 65.2 185.4 64.1 186.9 63.4 188.4 63.1 189.7 63.2 190.9 63.8 192.2 64.9 193.3 66.5 194.6 68.7 195.4 70.7 195.8 73.0 196.0 75.2 195.9 77.7 195.5 80.2 194.8 82.7 193.8 85.2 192.9 86.7 191.7 88.0 190.4 88.8 188.9 89.2Z" fill="none" fill-rule="nonzero" stroke="#8c8c8c" stroke-width="0.58"/><path d="M188.7 87.0 187.4 87.1 185.9 87.0 184.4 86.6 183.2 85.8 182.3 85.0 181.5 83.7 181.1 82.5 181.0 81.2 181.0 80.0 181.3 78.5 184.5 68.7 185.2 67.5 186.0 66.7 186.9 66.1 188.2 65.9 189.2 66.0 190.2 66.5 191.2 67.3 192.3 68.7 193.2 70.2 193.8 71.7 194.2 73.5 194.4 75.0 194.3 76.7 193.9 78.7 193.1 81.7 192.3 83.7 191.6 85.0 190.7 85.9 189.7 86.6 188.7 87.0Z" fill="none" fill-rule="nonzero" stroke="#737373" stroke-width="0.58"/><path d="M187.4 85.7 186.4 85.7 185.4 85.5 184.4 85.1 183.6 84.5 182.9 83.7 182.4 82.7 182.2 81.7 182.1 80.5 182.6 78.5 185.5 70.0 186.2 69.0 186.7 68.4 187.4 68.0 188.4 67.9 189.2 68.1 190.2 68.7 191.2 69.7 192.0 70.7 192.6 72.0 193.0 73.2 193.2 74.5 193.2 75.7 192.9 77.2 192.5 78.7 191.5 82.0 190.8 83.5 190.2 84.3 189.4 85.0 188.4 85.5 187.4 85.7Z" fill="none" fill-rule="nonzero" stroke="#646464" stroke-width="0.58"/><path d="M187.4 84.5 186.7 84.5 185.9 84.5 185.2 84.2 184.4 83.7 183.8 83.0 183.4 82.2 183.2 81.5 183.2 80.5 183.5 79.0 185.0 75.5 186.4 71.3 186.9 70.5 187.4 70.0 188.4 69.7 189.2 69.9 189.9 70.3 191.1 71.7 191.9 73.5 192.1 75.5 191.6 77.7 189.9 82.4 188.9 83.7 188.2 84.2 187.4 84.5Z" fill="none" fill-rule="nonzero" stroke="#6e6e6e" stroke-width="0.58"/><path d="M186.7 83.2 185.7 83.0 184.9 82.5 184.4 81.5 184.4 80.2 184.8 79.0 186.3 76.2 187.5 73.0 188.2 72.2 188.9 72.0 189.7 72.4 190.4 73.5 190.7 74.7 190.6 76.0 189.3 80.5 188.8 81.7 187.9 82.8 187.4 83.0 186.7 83.2Z" fill="none" fill-rule="nonzero" stroke="#a0a0a0" stroke-width="0.58"/></g><clipPath id="cp3"><rect x="159.2" y="36.2" width="74.60" height="74.00"/></clipPath><g clip-path="url(#cp3)"><path d="M182.2 102.7 179.9 102.9 177.9 102.6 176.2 101.8 174.7 100.7 172.9 98.7 171.2 96.2 170.3 94.2 169.9 91.7 169.9 89.5 170.3 87.5 171.0 85.7 172.1 84.2 174.2 82.1 176.4 80.4 178.4 79.4 180.4 79.0 182.7 79.1 185.2 79.8 187.2 80.7 188.9 82.1 190.1 83.5 191.2 85.5 192.0 88.2 192.4 90.5 192.3 92.7 191.8 95.0 190.8 97.2 189.7 98.9 188.4 100.1 186.7 101.2 184.7 102.1 182.2 102.7Z" fill="#e6e6e6" fill-rule="nonzero" stroke="#8c8c8c" stroke-width="0.70"/><path d="M181.2 101.2 179.4 101.1 177.7 100.6 176.2 99.7 174.7 98.3 173.0 96.2 172.0 94.5 171.4 92.5 171.3 90.5 171.5 88.7 172.1 87.2 173.0 85.7 174.4 84.2 176.4 82.6 178.2 81.6 179.9 81.0 181.9 80.8 183.9 81.1 185.7 81.8 187.2 82.7 188.4 84.0 189.4 85.5 190.2 87.5 190.7 89.7 190.8 91.7 190.5 93.5 190.0 95.2 189.0 97.0 187.9 98.3 186.7 99.3 184.9 100.3 183.2 100.9 181.2 101.2Z" fill="#d9d9d9" fill-rule="nonzero" stroke="#777777" stroke-width="0.70"/><path d="M182.7 100.0 180.9 100.2 179.4 100.0 177.9 99.5 176.4 98.5 174.7 96.8 173.4 95.0 172.6 93.2 172.2 91.5 172.3 90.0 172.6 88.5 173.3 87.2 174.2 86.0 175.9 84.4 177.9 83.0 179.4 82.4 181.2 82.0 182.9 82.0 184.4 82.4 185.9 83.1 187.0 84.0 188.0 85.2 188.8 86.7 189.4 88.5 189.7 90.2 189.7 92.0 189.5 93.5 188.9 95.0 188.1 96.5 187.0 97.7 185.8 98.7 184.2 99.5 182.7 100.0Z" fill="#cfcfcf" fill-rule="nonzero" stroke="#626262" stroke-width="0.70"/><path d="M182.4 99.2 180.9 99.4 179.4 99.2 177.9 98.6 176.7 97.7 175.2 96.2 173.9 94.5 173.2 93.0 172.9 91.2 173.1 89.7 173.5 88.5 174.2 87.2 175.2 86.1 176.9 84.7 178.7 83.6 180.2 83.1 181.7 82.8 183.2 82.9 184.4 83.3 185.7 83.9 186.7 84.8 187.6 86.0 188.3 87.5 188.7 89.0 188.9 90.7 188.8 92.2 188.5 93.7 188.0 95.0 187.3 96.2 186.4 97.2 185.2 98.1 183.9 98.8 182.4 99.2Z" fill="none" fill-rule="nonzero" stroke="#4d4d4d" stroke-width="0.70"/><path d="M182.7 98.5 181.2 98.7 179.9 98.6 178.4 98.0 177.2 97.2 175.8 96.0 174.6 94.5 173.9 93.0 173.6 91.5 173.6 90.2 174.0 89.0 174.7 87.7 175.5 86.7 176.9 85.5 178.7 84.4 180.2 83.8 181.7 83.5 182.9 83.6 184.2 83.9 185.2 84.5 186.2 85.3 186.9 86.2 187.5 87.5 188.0 89.0 188.2 90.5 188.1 92.0 187.9 93.2 187.5 94.5 186.8 95.7 185.9 96.7 184.9 97.5 183.9 98.0 182.7 98.5Z" fill="none" fill-rule="nonzero" stroke="#1a1a1a" stroke-width="1.15"/><path d="M182.2 98.0 180.9 98.0 179.7 97.9 178.4 97.3 177.2 96.5 175.9 95.3 175.0 94.0 174.4 92.7 174.1 91.2 174.3 90.0 174.6 89.0 175.2 88.0 176.2 86.9 177.7 85.7 179.2 84.9 180.7 84.4 181.9 84.2 183.2 84.3 184.2 84.6 185.2 85.2 185.9 86.0 186.6 87.0 187.1 88.2 187.4 89.5 187.5 91.0 187.4 92.2 187.2 93.5 186.8 94.5 186.2 95.5 185.4 96.3 184.4 97.1 183.4 97.6 182.2 98.0Z" fill="none" fill-rule="nonzero" stroke="#282828" stroke-width="0.70"/><path d="M181.4 97.5 180.2 97.4 178.9 96.9 177.7 96.2 176.7 95.3 175.8 94.2 175.1 93.0 174.8 92.0 174.7 90.7 174.9 89.7 175.4 88.7 176.1 87.7 177.2 86.7 178.7 85.8 179.9 85.2 181.2 84.9 182.4 84.8 183.4 85.0 184.4 85.5 185.2 86.1 185.9 87.0 186.4 88.0 186.8 89.2 186.9 90.5 186.9 91.7 186.7 93.0 186.3 94.0 185.8 95.0 185.2 95.7 184.3 96.5 183.4 97.0 182.4 97.3 181.4 97.5Z" fill="none" fill-rule="nonzero" stroke="#282828" stroke-width="0.70"/><path d="M182.4 96.7 181.4 96.9 180.2 96.8 178.9 96.3 177.9 95.7 176.8 94.7 176.0 93.7 175.5 92.7 175.2 91.5 175.2 90.5 175.6 89.5 176.2 88.5 176.9 87.7 177.9 86.8 179.2 86.1 180.4 85.6 181.7 85.4 182.7 85.4 183.4 85.6 184.2 86.0 184.9 86.7 185.9 88.2 186.2 89.2 186.3 90.5 186.1 92.7 185.4 94.5 184.2 95.8 183.4 96.3 182.4 96.7Z" fill="none" fill-rule="nonzero" stroke="#282828" stroke-width="0.70"/><path d="M181.9 96.3 180.9 96.3 179.9 96.2 178.9 95.7 177.9 95.1 177.0 94.2 176.3 93.2 175.9 92.2 175.7 91.2 175.8 90.2 176.1 89.5 176.7 88.6 177.4 87.8 178.4 87.1 179.7 86.5 180.9 86.1 181.9 86.0 183.4 86.3 184.1 86.7 184.7 87.3 185.2 88.1 185.5 89.0 185.7 91.0 185.4 93.0 184.7 94.5 183.4 95.6 181.9 96.3Z" fill="none" fill-rule="nonzero" stroke="#282828" stroke-width="0.70"/><path d="M181.4 95.7 180.4 95.7 179.4 95.4 178.4 94.8 177.7 94.2 176.6 92.7 176.3 92.0 176.2 91.0 176.4 90.2 176.7 89.5 177.9 88.1 179.9 86.9 180.9 86.6 181.9 86.6 183.3 87.0 183.9 87.4 184.4 88.0 185.0 89.5 185.1 91.2 184.8 93.0 183.9 94.4 182.7 95.4 181.4 95.7Z" fill="#e6e6e6" fill-rule="nonzero" stroke="#323232" stroke-width="0.70"/><path d="M181.9 95.0 181.2 95.1 180.4 95.1 179.4 94.8 178.7 94.3 177.9 93.7 177.3 93.0 177.0 92.2 176.8 91.5 176.8 90.7 177.1 90.0 177.9 88.8 179.4 87.8 181.2 87.2 182.4 87.3 183.4 87.9 184.2 89.0 184.5 90.2 184.4 91.7 183.9 93.2 183.2 94.3 181.9 95.0Z" fill="none" fill-rule="nonzero" stroke="#424242" stroke-width="0.70"/><path d="M181.9 94.2 180.7 94.4 179.9 94.3 179.2 94.0 178.0 93.0 177.4 91.7 177.5 90.5 178.1 89.5 179.2 88.6 180.7 88.0 181.7 87.9 182.7 88.3 183.3 89.0 183.7 90.0 183.8 91.5 183.4 92.6 182.7 93.7 181.9 94.2Z" fill="#f6f6f6" fill-rule="nonzero" stroke="#535353" stroke-width="0.70"/><path d="M181.4 93.5 180.4 93.6 179.3 93.2 178.5 92.5 178.1 91.5 178.3 90.5 178.8 89.7 179.7 89.1 180.7 88.8 181.4 88.8 182.2 89.1 182.7 89.7 182.9 90.5 182.9 91.5 182.7 92.3 182.2 93.0 181.4 93.5Z" fill="none" fill-rule="nonzero" stroke="#646464" stroke-width="0.70"/></g><clipPath id="cp4"><rect x="159.2" y="36.2" width="74.60" height="74.00"/></clipPath><g clip-path="url(#cp4)"><path d="M187.9 74.5 186.4 74.3 184.9 73.8 183.7 73.1 180.1 70.5 175.7 68.4 173.9 67.3 172.0 65.5 166.8 59.2 165.8 57.5 165.0 55.2 164.5 52.7 164.3 50.2 164.6 48.5 165.3 47.0 166.3 45.7 167.7 44.5 169.9 43.3 172.2 42.6 174.4 42.4 177.2 42.7 182.9 44.0 186.9 44.8 188.7 45.4 189.9 45.9 190.9 46.6 191.8 47.5 192.6 48.5 193.4 50.0 193.8 52.0 193.5 57.5 194.2 63.7 194.0 66.2 193.7 67.7 193.1 69.2 192.3 71.0 191.3 72.5 190.4 73.4 189.7 73.9 188.9 74.3 187.9 74.5Z" fill="#e6e6e6" fill-rule="nonzero" stroke="#8c8c8c" stroke-width="0.70"/><path d="M188.2 72.5 186.7 72.6 185.2 72.0 183.9 71.2 180.9 68.7 176.7 66.7 175.2 65.8 173.4 64.3 171.0 61.2 168.2 58.0 167.2 56.5 166.5 54.7 166.0 52.7 165.9 50.7 166.1 49.2 166.6 48.0 167.3 47.0 168.4 45.9 170.2 44.9 172.2 44.2 174.2 43.9 176.4 44.0 178.2 44.4 182.4 45.6 186.2 46.2 187.7 46.5 189.7 47.5 190.6 48.2 191.2 49.0 192.0 50.5 192.2 52.0 192.1 53.5 191.5 56.7 191.4 58.2 191.6 60.2 192.3 64.0 192.3 66.2 191.8 68.2 190.7 70.5 189.4 71.8 188.2 72.5Z" fill="#d9d9d9" fill-rule="nonzero" stroke="#777777" stroke-width="0.70"/><path d="M187.7 71.2 186.7 71.2 185.4 70.8 184.4 70.1 182.5 68.2 181.5 67.5 177.4 65.8 175.7 64.7 174.4 63.5 171.9 60.4 168.8 57.0 168.0 55.7 167.4 54.2 167.0 52.7 166.9 51.0 167.0 49.7 167.5 48.5 168.2 47.5 169.1 46.7 170.7 45.7 172.4 45.1 174.2 44.9 176.2 44.9 178.2 45.3 182.2 46.6 185.9 47.1 187.4 47.5 189.2 48.3 190.3 49.5 191.0 50.7 191.2 52.0 191.1 53.5 190.2 56.7 190.1 58.5 190.2 60.7 191.0 64.5 191.0 66.5 190.6 68.2 189.8 69.7 188.8 70.7 187.7 71.2Z" fill="#cfcfcf" fill-rule="nonzero" stroke="#626262" stroke-width="0.70"/><path d="M187.4 70.0 186.7 70.0 185.7 69.7 184.8 69.0 183.1 67.2 182.2 66.6 178.2 65.1 176.2 64.0 174.9 62.7 172.4 59.5 169.4 56.5 168.6 55.2 168.0 54.0 167.7 52.7 167.6 51.2 167.8 50.0 168.2 49.0 168.9 48.0 169.7 47.2 171.2 46.3 172.7 45.8 174.4 45.6 176.2 45.6 178.2 46.1 182.2 47.5 186.9 48.2 188.4 48.8 189.4 49.7 190.0 50.7 190.3 52.0 190.2 53.5 189.2 57.0 189.0 59.0 189.0 61.0 189.9 64.7 189.9 66.5 189.6 67.7 189.1 68.7 188.4 69.5 187.4 70.0Z" fill="none" fill-rule="nonzero" stroke="#1a1a1a" stroke-width="1.15"/><path d="M187.4 68.5 186.7 68.6 185.9 68.3 183.9 66.4 182.9 65.7 178.7 64.4 176.9 63.5 175.5 62.2 173.0 59.0 169.9 56.1 169.2 55.0 168.7 54.0 168.3 52.7 168.2 51.5 168.3 50.5 168.7 49.5 169.2 48.6 169.9 47.8 171.2 47.0 172.7 46.4 174.2 46.2 175.9 46.2 177.9 46.6 181.9 48.2 186.7 48.9 187.9 49.4 188.8 50.2 189.4 51.5 189.5 52.7 188.2 57.2 187.9 60.7 188.0 62.2 188.7 65.0 188.8 66.2 188.7 67.0 188.3 67.7 187.9 68.2 187.4 68.5Z" fill="none" fill-rule="nonzero" stroke="#1a1a1a" stroke-width="1.15"/><path d="M186.2 65.3 183.9 64.6 180.7 64.2 179.2 63.8 177.7 63.1 176.3 62.0 173.7 58.7 170.4 55.8 169.4 54.2 168.8 52.5 168.8 51.0 169.2 49.7 170.1 48.5 171.2 47.6 172.7 47.0 174.2 46.7 175.7 46.7 177.9 47.2 181.7 49.0 182.9 49.2 186.2 49.5 187.2 49.9 188.0 50.5 188.6 51.5 188.7 52.7 187.3 57.5 186.6 62.2 186.4 65.0 186.2 65.3Z" fill="none" fill-rule="nonzero" stroke="#282828" stroke-width="0.70"/><path d="M183.4 63.2 181.9 63.4 180.4 63.3 179.2 63.1 177.9 62.5 176.7 61.4 174.1 58.2 171.7 56.2 170.7 55.3 170.1 54.5 169.6 53.5 169.3 51.7 169.4 50.7 169.7 50.0 170.1 49.2 170.7 48.6 171.9 47.8 173.2 47.3 174.4 47.1 175.9 47.2 177.9 47.8 181.7 49.9 182.7 50.1 185.9 50.3 186.9 50.7 187.4 51.2 187.8 52.0 187.8 53.0 186.7 56.2 185.7 60.6 185.3 61.7 184.8 62.5 184.2 62.9 183.4 63.2Z" fill="none" fill-rule="nonzero" stroke="#282828" stroke-width="0.70"/><path d="M182.2 62.5 181.2 62.6 180.2 62.6 179.2 62.3 178.2 61.8 177.0 60.7 174.8 58.0 171.9 55.8 170.9 54.7 170.0 53.2 169.8 52.2 169.8 51.5 170.2 50.0 171.2 48.8 172.2 48.2 173.4 47.7 174.7 47.6 176.2 47.7 177.2 48.0 178.2 48.5 180.9 50.5 181.7 50.9 182.7 51.2 185.3 51.2 185.9 51.4 186.4 51.8 186.8 52.5 186.7 53.2 185.9 55.7 184.9 60.0 184.4 61.0 183.8 61.7 183.0 62.2 182.2 62.5Z" fill="none" fill-rule="nonzero" stroke="#282828" stroke-width="0.70"/><path d="M181.7 61.7 180.9 61.8 179.9 61.8 178.4 61.1 177.5 60.2 175.4 57.5 172.4 55.5 171.3 54.5 170.5 53.2 170.2 51.7 170.3 51.0 170.6 50.2 171.4 49.2 172.4 48.5 173.7 48.1 175.2 48.0 176.4 48.2 177.5 48.7 178.6 49.5 180.7 51.8 181.4 52.4 182.4 52.7 184.2 52.9 184.7 53.2 184.9 53.7 184.9 54.5 184.6 57.7 184.2 59.2 183.7 60.2 183.2 60.9 182.4 61.4 181.7 61.7Z" fill="none" fill-rule="nonzero" stroke="#282828" stroke-width="0.70"/><path d="M181.4 60.8 180.2 60.9 178.9 60.4 178.2 59.7 176.8 57.7 176.2 57.0 172.9 55.3 171.7 54.2 170.9 53.0 170.7 51.7 171.0 50.5 171.8 49.5 172.9 48.8 174.2 48.5 175.7 48.5 176.9 49.0 177.9 49.7 178.6 50.5 180.3 53.7 180.9 54.2 182.4 55.0 182.9 55.4 183.3 56.2 183.5 57.0 183.3 58.7 182.7 60.0 182.1 60.5 181.4 60.8Z" fill="#e6e6e6" fill-rule="nonzero" stroke="#323232" stroke-width="0.70"/><path d="M181.2 59.5 180.7 59.7 180.2 59.7 179.7 59.5 179.2 59.1 178.6 58.2 178.1 56.5 177.9 56.2 173.9 55.2 172.9 54.7 172.1 54.0 171.4 53.0 171.2 52.0 171.4 51.0 172.0 50.0 173.2 49.2 174.7 48.9 176.2 49.2 177.4 50.0 178.1 51.0 178.4 52.0 178.5 55.2 178.6 55.7 180.9 56.5 181.6 57.0 181.9 57.5 182.0 58.0 181.9 58.7 181.2 59.5Z" fill="none" fill-rule="nonzero" stroke="#424242" stroke-width="0.70"/><path d="M175.7 54.7 174.7 54.7 173.4 54.3 172.6 53.7 172.0 53.0 171.7 52.0 171.8 51.2 172.3 50.5 172.9 49.9 174.2 49.4 175.4 49.5 176.4 50.0 177.2 50.8 177.4 51.5 177.5 52.2 177.3 53.5 176.7 54.3 175.7 54.7Z" fill="#f6f6f6" fill-rule="nonzero" stroke="#535353" stroke-width="0.70"/><path d="M175.4 53.8 174.7 53.9 173.9 53.8 173.2 53.4 172.7 52.9 172.4 52.2 172.4 51.5 172.7 50.9 173.2 50.4 173.9 50.1 174.9 50.0 175.7 50.3 176.4 51.0 176.6 51.7 176.5 52.7 176.0 53.5 175.4 53.8Z" fill="none" fill-rule="nonzero" stroke="#646464" stroke-width="0.70"/></g><clipPath id="cp5"><rect x="241.7" y="35.8" width="73.70" height="74.40"/></clipPath><g clip-path="url(#cp5)"><path d="M295.7 67.3 294.2 67.5 292.7 67.5 289.2 66.9 286.9 66.2 284.2 65.2 280.2 63.2 278.4 62.0 276.7 60.6 275.3 59.3 274.3 58.0 273.6 56.8 273.3 55.8 273.3 54.8 273.7 53.8 274.4 53.0 275.7 52.3 277.2 52.0 278.9 52.0 281.4 52.4 283.7 53.0 285.4 53.7 288.8 55.3 290.4 55.8 292.2 55.8 296.2 55.1 298.2 55.1 300.4 55.4 302.4 56.3 303.9 57.5 304.7 58.8 304.8 59.5 304.8 60.3 304.3 61.5 303.0 63.0 299.4 65.7 297.7 66.7 295.7 67.3Z" fill="none" fill-rule="nonzero" stroke="#8c8c8c" stroke-width="0.56"/><path d="M294.9 65.8 292.4 66.0 289.7 65.5 285.9 64.2 281.7 62.2 279.2 60.4 277.1 58.3 276.5 57.3 276.3 56.5 276.3 55.8 276.5 55.3 276.9 54.8 277.9 54.3 278.9 54.1 280.2 54.2 281.9 54.4 283.4 54.8 287.8 56.8 289.7 57.3 291.9 57.3 295.9 56.6 297.7 56.4 299.7 56.8 301.2 57.5 302.0 58.3 302.4 59.3 302.4 60.3 301.9 61.3 300.9 62.3 297.7 64.7 296.2 65.4 294.9 65.8Z" fill="none" fill-rule="nonzero" stroke="#797979" stroke-width="0.56"/><path d="M294.4 64.8 292.4 65.0 290.2 64.6 288.1 63.8 282.7 61.3 280.8 60.0 279.5 58.8 278.9 57.5 278.8 57.0 279.0 56.5 279.4 56.1 280.2 55.9 282.2 56.0 283.9 56.5 287.2 58.0 289.2 58.5 291.9 58.4 295.7 57.6 297.2 57.4 298.7 57.6 300.0 58.3 300.5 58.8 300.8 59.5 300.7 60.3 300.2 61.0 299.4 61.8 296.7 63.8 295.7 64.4 294.4 64.8Z" fill="none" fill-rule="nonzero" stroke="#6e6e6e" stroke-width="0.56"/><path d="M293.4 64.1 291.4 64.0 289.2 63.2 285.9 61.2 283.0 59.8 282.1 59.0 281.9 58.3 282.2 58.0 283.2 58.0 286.2 59.4 287.7 59.6 291.7 59.3 296.7 58.4 297.9 58.5 298.9 59.0 299.2 59.5 299.2 60.0 298.5 61.0 295.6 63.3 294.6 63.8 293.4 64.1Z" fill="none" fill-rule="nonzero" stroke="#787878" stroke-width="0.56"/><path d="M293.4 63.1 292.2 63.2 290.9 62.8 289.8 62.0 289.6 61.5 289.6 61.3 289.8 61.0 290.4 60.7 292.2 60.2 295.4 59.8 296.2 59.8 296.7 60.0 296.8 60.3 296.6 60.8 295.7 61.8 294.7 62.6 293.4 63.1Z" fill="none" fill-rule="nonzero" stroke="#aaaaaa" stroke-width="0.56"/></g><clipPath id="cp6"><rect x="241.7" y="35.8" width="73.70" height="74.40"/></clipPath><g clip-path="url(#cp6)"><path d="M264.2 105.1 262.9 105.1 261.7 105.0 259.4 104.2 257.2 102.6 255.0 100.3 253.7 98.3 252.9 96.0 252.4 93.3 252.2 89.8 252.4 86.5 253.0 83.3 254.0 80.3 255.4 77.8 257.2 75.8 259.4 74.1 261.7 73.1 262.9 72.8 264.2 72.7 266.4 73.0 268.4 73.8 270.2 75.1 271.8 77.0 273.7 80.0 274.7 82.5 275.3 85.3 275.6 88.8 275.3 92.0 274.8 94.8 273.9 97.5 272.8 99.5 271.0 101.5 268.7 103.3 266.4 104.5 264.2 105.1Z" fill="#e6e6e6" fill-rule="nonzero" stroke="#8c8c8c" stroke-width="0.70"/><path d="M264.2 103.1 262.2 103.1 260.2 102.5 258.2 101.1 256.4 99.3 255.2 97.5 254.5 95.8 254.1 93.5 253.9 90.8 254.1 87.3 254.6 84.3 255.4 81.8 256.6 79.5 258.2 77.7 260.2 76.3 262.4 75.4 264.4 75.1 266.2 75.4 267.9 76.2 269.3 77.3 270.8 79.0 272.2 81.3 273.1 83.5 273.6 85.8 273.7 88.3 273.6 91.0 273.1 94.0 272.4 96.3 271.5 98.0 270.2 99.7 268.4 101.1 266.2 102.4 264.2 103.1Z" fill="#d9d9d9" fill-rule="nonzero" stroke="#777777" stroke-width="0.70"/><path d="M263.7 101.8 261.9 101.7 260.4 101.2 258.7 100.0 257.1 98.3 256.1 96.8 255.4 95.0 255.1 93.0 255.0 90.8 255.3 87.3 255.8 84.5 256.5 82.3 257.4 80.5 258.7 79.1 260.4 77.8 262.4 77.0 264.4 76.7 265.9 76.9 267.4 77.6 268.9 78.8 270.2 80.5 271.4 82.5 272.1 84.5 272.5 86.5 272.6 88.8 272.3 91.5 271.9 94.0 271.3 96.0 270.4 97.5 269.2 99.0 267.4 100.3 265.4 101.4 263.7 101.8Z" fill="#cfcfcf" fill-rule="nonzero" stroke="#626262" stroke-width="0.70"/><path d="M264.4 100.6 262.9 100.8 261.4 100.5 259.9 99.8 258.4 98.5 257.3 97.0 256.5 95.5 256.0 93.8 255.9 91.8 256.0 88.8 256.4 85.8 257.0 83.5 257.8 81.8 258.9 80.3 260.4 79.1 262.4 78.3 264.2 78.0 265.7 78.2 266.9 78.7 268.2 79.7 269.3 81.0 270.4 82.8 271.1 84.5 271.5 86.3 271.6 88.3 271.5 90.8 271.2 93.3 270.7 95.0 270.0 96.5 268.9 97.9 267.7 99.0 266.2 99.9 264.4 100.6Z" fill="none" fill-rule="nonzero" stroke="#4d4d4d" stroke-width="0.70"/><path d="M263.7 99.8 262.2 99.8 260.9 99.3 259.4 98.3 258.2 97.0 257.5 95.8 256.9 94.3 256.6 92.8 256.6 90.8 256.9 87.8 257.3 85.3 257.9 83.5 258.7 82.0 259.8 80.8 261.2 79.8 262.9 79.2 264.4 79.1 265.7 79.3 266.9 80.0 268.1 81.0 269.2 82.5 270.0 84.0 270.5 85.8 270.8 87.5 270.8 89.5 270.7 91.8 270.3 93.8 269.8 95.3 269.0 96.5 267.9 97.8 266.7 98.7 265.2 99.4 263.7 99.8Z" fill="none" fill-rule="nonzero" stroke="#1a1a1a" stroke-width="1.15"/><path d="M264.2 98.9 262.9 99.0 261.7 98.7 260.4 98.1 259.3 97.0 258.3 95.8 257.7 94.5 257.4 93.0 257.2 91.5 257.4 89.0 257.8 86.3 258.2 84.5 258.9 83.0 259.9 81.8 260.9 81.0 262.4 80.3 263.9 80.1 265.2 80.2 266.2 80.7 267.2 81.4 268.2 82.6 269.1 84.0 269.7 85.5 270.0 87.3 270.1 89.0 270.1 91.0 269.8 92.8 269.4 94.3 268.8 95.5 267.9 96.7 266.9 97.6 265.7 98.3 264.2 98.9Z" fill="none" fill-rule="nonzero" stroke="#1a1a1a" stroke-width="1.15"/><path d="M263.9 98.1 262.7 98.1 261.7 97.8 260.7 97.3 259.6 96.3 258.8 95.3 258.3 94.0 258.0 92.8 257.9 91.3 258.0 89.0 258.3 86.8 258.7 85.0 259.3 83.8 260.2 82.6 261.2 81.8 262.4 81.2 263.7 81.0 264.9 81.1 265.9 81.6 266.9 82.3 267.7 83.3 268.4 84.6 269.0 86.0 269.4 87.8 269.5 89.5 269.4 91.3 269.2 92.8 268.8 94.0 268.2 95.3 267.4 96.3 266.4 97.1 265.2 97.7 263.9 98.1Z" fill="none" fill-rule="nonzero" stroke="#282828" stroke-width="0.70"/><path d="M264.7 97.1 263.4 97.3 262.4 97.2 261.4 96.8 260.4 96.1 259.7 95.3 259.1 94.3 258.7 93.1 258.5 91.8 258.5 89.8 258.7 87.8 259.0 86.0 259.6 84.5 260.3 83.5 261.2 82.7 262.2 82.1 263.4 81.9 264.4 81.9 265.4 82.3 266.2 82.8 266.9 83.6 267.7 84.7 268.3 86.0 268.6 87.3 268.9 88.8 268.8 91.8 268.5 93.0 268.1 94.3 267.4 95.3 266.7 96.0 265.7 96.7 264.7 97.1Z" fill="none" fill-rule="nonzero" stroke="#282828" stroke-width="0.70"/><path d="M264.7 96.3 263.7 96.5 262.7 96.3 261.7 96.0 260.9 95.5 260.2 94.7 259.7 93.8 259.3 92.8 259.1 91.5 259.0 89.8 259.2 88.0 259.5 86.5 259.9 85.3 260.5 84.3 261.3 83.5 262.2 83.0 263.2 82.7 264.2 82.8 264.9 83.0 265.7 83.5 266.4 84.2 267.1 85.0 267.7 86.3 268.3 88.8 268.3 91.5 268.0 92.8 267.6 93.8 267.2 94.5 266.4 95.4 265.7 95.9 264.7 96.3Z" fill="none" fill-rule="nonzero" stroke="#282828" stroke-width="0.70"/><path d="M264.2 95.6 263.2 95.6 262.4 95.4 261.7 95.0 260.9 94.3 260.0 92.8 259.6 90.8 259.7 88.0 260.0 86.8 260.4 85.6 261.0 84.8 261.7 84.1 262.4 83.7 263.2 83.5 263.9 83.6 264.7 83.8 265.4 84.3 266.2 85.0 266.8 86.0 267.3 87.0 267.7 89.3 267.7 91.5 267.4 92.6 267.0 93.5 266.5 94.3 265.9 94.9 265.2 95.3 264.2 95.6Z" fill="#e6e6e6" fill-rule="nonzero" stroke="#323232" stroke-width="0.70"/><path d="M264.7 94.6 263.9 94.8 263.2 94.7 261.9 94.0 260.8 92.8 260.2 91.0 260.2 88.8 260.7 86.5 261.2 85.6 261.7 85.1 262.2 84.7 262.9 84.4 264.2 84.5 265.4 85.3 266.4 86.8 267.1 88.8 267.2 90.8 266.8 92.5 265.9 93.9 265.4 94.3 264.7 94.6Z" fill="none" fill-rule="nonzero" stroke="#424242" stroke-width="0.70"/><path d="M264.2 93.8 262.9 93.6 261.9 93.0 261.2 91.8 260.8 90.3 260.8 88.5 261.3 86.8 262.2 85.7 263.2 85.3 264.2 85.4 265.3 86.3 266.0 87.5 266.5 89.3 266.5 91.0 266.1 92.3 265.3 93.3 264.2 93.8Z" fill="#f6f6f6" fill-rule="nonzero" stroke="#535353" stroke-width="0.70"/><path d="M264.4 92.6 263.4 92.7 262.7 92.3 261.9 91.5 261.5 90.3 261.5 89.0 261.7 87.8 262.3 86.8 263.2 86.3 263.9 86.4 264.7 86.9 265.3 87.8 265.7 89.0 265.8 90.3 265.6 91.3 265.2 92.1 264.4 92.6Z" fill="none" fill-rule="nonzero" stroke="#646464" stroke-width="0.70"/></g><clipPath id="cp7"><rect x="241.7" y="35.8" width="73.70" height="74.40"/></clipPath><g clip-path="url(#cp7)"><path d="M262.4 77.8 260.7 77.6 259.2 76.7 257.8 75.3 256.6 73.0 255.9 70.5 255.4 65.7 254.0 61.5 253.6 59.8 253.4 57.8 253.6 55.8 254.2 54.0 255.1 52.3 256.4 50.8 258.2 49.5 261.7 47.4 263.9 46.4 266.2 46.0 268.4 46.1 269.9 46.6 271.4 47.5 272.4 48.8 273.1 50.3 273.4 51.8 273.6 53.8 273.6 58.3 273.3 60.5 272.5 63.0 270.2 67.2 269.8 68.5 269.0 72.0 268.6 73.3 267.9 74.5 266.9 75.8 265.4 76.9 263.9 77.6 262.4 77.8Z" fill="#e6e6e6" fill-rule="nonzero" stroke="#8c8c8c" stroke-width="0.62"/><path d="M263.7 76.1 262.9 76.2 261.9 76.2 260.4 75.7 259.1 74.5 258.0 72.8 257.6 71.5 257.3 70.3 256.9 65.3 255.5 61.0 255.2 59.5 255.0 58.0 255.1 56.5 255.5 55.0 256.2 53.5 257.3 52.3 258.7 51.1 262.2 48.9 264.2 47.9 266.2 47.4 267.9 47.4 269.2 47.8 270.4 48.5 271.3 49.5 271.9 50.8 272.2 52.0 272.3 53.8 271.9 59.0 271.6 60.5 271.1 61.8 268.9 66.3 268.6 67.5 268.1 70.8 267.4 72.8 266.8 73.8 265.9 74.8 264.9 75.5 263.7 76.1Z" fill="#d9d9d9" fill-rule="nonzero" stroke="#7d7d7d" stroke-width="0.62"/><path d="M263.7 75.1 262.2 75.2 261.4 75.0 260.7 74.7 259.5 73.5 258.7 72.0 258.1 69.8 257.9 65.0 256.5 61.0 256.1 59.3 256.0 58.0 256.1 56.8 256.4 55.5 257.0 54.3 257.9 53.1 259.2 52.1 262.7 49.7 264.2 48.9 265.9 48.3 267.7 48.3 268.7 48.6 269.7 49.1 270.6 50.0 271.1 51.0 271.4 52.3 271.5 53.5 271.1 57.8 270.3 60.8 268.4 64.5 268.0 65.8 267.7 67.0 267.4 70.3 266.9 72.0 266.3 73.0 265.4 74.0 264.7 74.6 263.7 75.1Z" fill="#cfcfcf" fill-rule="nonzero" stroke="#6e6e6e" stroke-width="0.62"/><path d="M263.2 74.3 261.9 74.3 260.9 73.8 259.9 72.8 259.2 71.3 258.7 69.3 258.6 65.0 257.0 59.8 256.8 58.3 256.9 56.8 257.3 55.5 257.8 54.5 258.7 53.6 259.9 52.5 263.2 50.3 264.7 49.4 266.2 49.0 267.7 49.0 268.7 49.3 269.4 49.8 270.1 50.5 270.6 51.5 270.8 52.5 270.8 53.8 270.4 57.3 269.6 60.3 267.2 65.3 267.0 66.5 266.9 69.8 266.4 71.5 265.9 72.5 264.9 73.5 264.2 74.0 263.2 74.3Z" fill="none" fill-rule="nonzero" stroke="#5f5f5f" stroke-width="0.62"/><path d="M263.4 73.6 262.2 73.6 261.2 73.1 260.2 72.0 259.6 70.8 259.3 68.8 259.3 65.0 259.0 63.8 257.7 60.0 257.4 58.5 257.5 57.0 257.8 56.0 258.4 55.0 259.2 54.1 260.2 53.2 263.4 50.8 264.7 50.1 266.2 49.6 267.4 49.6 268.2 49.8 268.9 50.2 269.5 50.8 269.9 51.5 270.3 53.3 270.1 55.5 269.6 57.8 269.1 59.5 267.0 63.8 266.6 65.0 266.4 66.3 266.4 69.3 266.0 71.0 265.5 72.0 264.9 72.7 264.2 73.3 263.4 73.6Z" fill="none" fill-rule="nonzero" stroke="#505050" stroke-width="0.62"/><path d="M263.4 72.9 262.4 72.9 261.4 72.4 260.7 71.6 260.1 70.5 259.8 68.8 260.0 65.8 259.9 64.8 258.2 60.0 258.0 58.5 258.1 57.3 258.5 56.0 259.4 54.8 260.4 53.8 263.2 51.7 264.4 50.8 265.4 50.3 266.4 50.1 267.4 50.1 268.2 50.4 268.7 50.7 269.5 51.8 269.8 53.3 269.6 55.3 269.1 57.5 268.5 59.3 266.4 63.5 265.9 64.8 265.7 66.0 265.9 69.0 265.6 70.5 265.3 71.3 264.8 72.0 264.2 72.5 263.4 72.9Z" fill="none" fill-rule="nonzero" stroke="#505050" stroke-width="0.62"/><path d="M263.7 72.1 262.7 72.2 261.9 72.0 261.2 71.3 260.6 70.0 260.3 68.5 260.6 65.8 260.6 64.8 258.8 60.3 258.6 58.8 258.7 57.5 259.0 56.5 259.4 55.8 260.0 55.0 261.1 54.0 263.9 51.8 264.9 51.1 266.2 50.7 267.2 50.6 268.2 51.0 269.0 52.0 269.3 53.3 269.2 54.9 268.8 56.8 268.1 58.8 265.6 63.5 265.2 64.8 265.1 66.0 265.4 68.8 265.2 70.3 264.6 71.3 263.7 72.1Z" fill="none" fill-rule="nonzero" stroke="#505050" stroke-width="0.62"/><path d="M263.4 71.4 262.7 71.5 262.2 71.3 261.5 70.5 261.1 69.8 260.9 68.3 261.4 65.8 261.4 64.8 261.1 64.0 259.9 61.8 259.4 60.5 259.2 59.0 259.2 57.8 259.6 56.5 260.3 55.5 263.7 52.6 264.8 51.8 265.7 51.3 266.4 51.2 267.2 51.2 267.9 51.6 268.6 52.5 268.8 53.5 268.7 55.0 268.2 57.0 267.4 59.0 264.4 64.5 264.2 65.5 264.8 68.0 264.8 69.3 264.4 70.5 263.9 71.1 263.4 71.4Z" fill="none" fill-rule="nonzero" stroke="#505050" stroke-width="0.62"/><path d="M262.9 64.1 262.4 64.0 261.7 63.4 260.9 62.4 260.2 61.1 259.9 60.0 259.7 59.0 259.7 58.0 259.9 57.3 260.4 56.3 261.1 55.5 264.4 52.7 265.9 51.8 266.7 51.8 267.2 51.9 267.9 52.5 268.3 53.5 268.2 55.0 267.6 57.0 266.6 59.3 265.2 61.8 263.9 63.4 262.9 64.1ZM263.2 70.6 262.7 70.6 262.2 70.3 261.7 69.5 261.6 68.8 261.7 67.8 261.9 67.0 262.2 66.6 262.7 66.2 263.2 66.4 263.7 67.0 264.2 68.5 264.2 69.3 263.9 69.9 263.7 70.3 263.2 70.6Z" fill="none" fill-rule="nonzero" stroke="#646464" stroke-width="0.62"/><path d="M263.2 62.6 262.7 62.7 261.9 62.4 261.4 61.9 260.8 61.0 260.4 60.1 260.3 59.3 260.3 58.3 260.5 57.5 260.8 56.8 261.4 56.0 264.4 53.4 265.7 52.6 266.4 52.5 266.9 52.5 267.5 53.0 267.7 54.0 267.6 55.3 267.0 57.0 266.1 59.0 264.9 61.0 263.9 62.2 263.2 62.6Z" fill="#e6e6e6" fill-rule="nonzero" stroke="#787878" stroke-width="0.62"/><path d="M262.9 61.6 262.4 61.6 261.9 61.3 261.2 60.3 260.9 58.8 261.2 57.5 262.2 56.2 264.4 54.2 265.7 53.5 266.4 53.5 266.9 54.0 266.9 54.8 266.7 56.0 266.1 57.5 265.3 59.3 264.4 60.5 263.7 61.3 262.9 61.6Z" fill="none" fill-rule="nonzero" stroke="#8c8c8c" stroke-width="0.62"/></g><clipPath id="cp8"><rect x="159.2" y="117.7" width="74.60" height="74.60"/></clipPath><g clip-path="url(#cp8)"><path d="M195.9 174.0 195.2 174.2 194.2 174.0 193.2 173.4 192.4 172.7 191.7 171.7 191.2 170.7 190.7 169.4 190.4 167.9 190.2 164.9 190.5 161.9 191.2 159.4 192.6 155.7 192.8 154.4 192.5 152.9 191.1 148.9 190.4 146.2 190.0 143.4 189.9 140.2 190.1 137.4 190.5 134.7 191.1 132.7 191.9 130.7 192.9 129.1 194.2 127.8 195.7 126.8 196.9 126.6 198.2 126.8 199.7 127.8 201.2 129.6 202.5 131.7 203.2 133.7 203.7 135.9 204.0 138.4 204.1 141.4 203.7 145.7 203.4 147.7 202.9 149.4 201.8 151.7 199.4 155.2 198.9 156.4 198.9 157.9 199.5 161.9 199.7 164.4 199.6 166.9 199.2 169.2 198.6 170.9 197.8 172.4 196.9 173.4 195.9 174.0Z" fill="none" fill-rule="nonzero" stroke="#8c8c8c" stroke-width="0.56"/><path d="M197.7 151.5 196.7 151.6 195.7 151.2 194.7 150.4 193.9 149.2 193.1 147.7 192.5 145.9 192.1 143.9 191.8 141.7 191.8 139.4 192.0 137.4 192.3 135.7 192.9 133.9 193.6 132.7 194.4 131.7 195.4 131.0 196.4 130.7 197.4 130.8 198.4 131.3 199.4 132.2 200.4 133.5 201.1 134.7 201.6 136.2 202.0 137.9 202.2 139.9 202.1 143.9 201.8 145.7 201.3 147.4 200.6 148.9 199.7 150.2 198.7 151.0 197.7 151.5ZM195.2 170.2 194.4 170.2 193.9 170.0 192.9 168.9 192.3 167.2 192.0 164.9 192.3 162.4 193.1 160.4 193.7 159.5 194.2 159.0 194.7 158.7 195.2 158.6 195.7 158.7 196.2 159.1 197.1 160.4 197.6 162.2 197.8 164.4 197.6 166.7 197.0 168.4 196.2 169.6 195.2 170.2Z" fill="none" fill-rule="nonzero" stroke="#797979" stroke-width="0.56"/><path d="M197.7 148.7 196.9 148.7 196.2 148.5 195.4 147.9 194.7 146.9 193.7 144.7 193.2 141.7 193.2 138.4 193.8 135.9 194.3 134.9 194.9 134.1 195.7 133.6 196.4 133.4 197.2 133.5 197.9 133.8 198.7 134.4 199.4 135.3 200.0 136.2 200.5 137.4 201.0 140.2 201.0 143.2 200.7 144.7 200.3 145.9 199.8 146.9 199.2 147.8 198.4 148.4 197.7 148.7ZM194.9 166.5 194.4 166.3 194.2 166.0 193.9 164.7 193.9 163.8 194.2 163.1 194.4 162.7 194.9 162.4 195.4 162.6 195.7 163.1 195.9 164.4 195.7 165.7 195.4 166.2 194.9 166.5Z" fill="none" fill-rule="nonzero" stroke="#6e6e6e" stroke-width="0.56"/><path d="M197.9 146.5 197.4 146.6 196.7 146.4 195.7 145.6 194.8 143.9 194.3 141.9 194.2 139.7 194.6 137.7 194.9 136.8 195.4 136.2 195.9 135.7 196.4 135.6 196.9 135.6 197.7 135.8 198.7 136.7 199.5 138.2 199.9 139.9 200.0 141.9 199.7 144.1 198.9 145.6 198.4 146.2 197.9 146.5Z" fill="none" fill-rule="nonzero" stroke="#787878" stroke-width="0.56"/><path d="M197.7 144.3 196.9 144.3 196.4 143.9 195.8 142.9 195.5 141.7 195.4 140.2 195.6 138.9 196.0 138.2 196.7 137.7 197.4 137.9 198.1 138.4 198.6 139.4 198.9 140.4 198.9 141.7 198.7 142.9 198.2 143.9 197.7 144.3Z" fill="none" fill-rule="nonzero" stroke="#aaaaaa" stroke-width="0.56"/></g><clipPath id="cp9"><rect x="159.2" y="117.7" width="74.60" height="74.60"/></clipPath><g clip-path="url(#cp9)"><path d="M183.2 186.2 181.2 186.1 178.9 185.6 176.7 184.7 174.7 183.6 173.2 182.3 172.2 180.9 171.5 179.4 171.2 177.7 171.5 175.7 172.9 170.9 173.9 164.7 174.6 162.4 175.4 160.7 177.0 158.2 178.9 156.3 180.9 155.3 181.9 155.0 183.2 154.8 185.2 155.2 187.2 156.1 189.2 157.8 191.1 160.2 192.4 162.4 193.2 164.7 193.6 167.2 193.8 170.4 193.7 175.4 193.5 177.4 193.0 179.4 192.1 181.2 190.3 183.2 187.9 184.8 185.7 185.8 183.2 186.2Z" fill="#e6e6e6" fill-rule="nonzero" stroke="#8c8c8c" stroke-width="0.70"/><path d="M182.9 184.7 181.2 184.6 179.2 184.1 177.4 183.4 175.9 182.4 174.7 181.2 173.8 179.9 173.3 178.7 173.2 177.2 173.3 175.7 174.4 171.4 175.3 165.9 175.8 164.2 176.6 162.4 178.0 160.2 179.7 158.6 181.4 157.6 183.2 157.4 184.9 157.7 186.7 158.6 188.4 160.1 190.0 161.9 191.1 163.7 191.8 165.7 192.2 167.7 192.3 170.2 191.8 177.2 191.3 178.9 190.6 180.4 189.1 182.2 187.2 183.5 185.2 184.4 182.9 184.7Z" fill="#d9d9d9" fill-rule="nonzero" stroke="#777777" stroke-width="0.70"/><path d="M183.7 183.7 182.2 183.8 180.4 183.5 178.7 182.9 177.2 182.0 176.0 180.9 175.1 179.7 174.6 178.4 174.4 177.2 174.5 175.7 175.3 171.9 176.0 167.4 176.5 165.7 177.1 164.2 178.3 162.2 179.7 160.7 181.2 159.7 182.9 159.2 184.4 159.4 185.9 160.1 187.4 161.1 188.9 162.6 189.9 163.9 190.6 165.4 191.1 167.2 191.3 169.2 191.3 171.7 190.8 176.4 190.4 178.2 189.8 179.7 188.7 181.2 187.2 182.4 185.4 183.3 183.7 183.7Z" fill="#cfcfcf" fill-rule="nonzero" stroke="#626262" stroke-width="0.70"/><path d="M183.7 183.0 182.2 183.1 180.7 182.8 179.2 182.3 177.9 181.6 176.9 180.7 176.0 179.4 175.5 178.2 175.3 176.9 175.4 175.4 176.7 168.2 177.1 166.7 177.7 165.2 178.8 163.4 180.2 162.0 181.7 161.1 183.2 160.8 184.4 161.0 185.9 161.6 187.2 162.3 188.4 163.5 189.3 164.7 190.0 166.2 190.4 167.7 190.6 169.4 190.5 171.7 190.0 176.2 189.6 177.9 189.1 179.2 188.2 180.6 186.9 181.7 185.4 182.5 183.7 183.0Z" fill="none" fill-rule="nonzero" stroke="#1a1a1a" stroke-width="1.15"/><path d="M184.2 182.3 182.9 182.4 181.4 182.4 179.9 181.9 178.7 181.3 177.7 180.4 176.9 179.4 176.3 178.2 176.1 176.9 176.2 175.4 177.3 168.9 177.6 167.4 178.2 166.0 179.2 164.4 180.4 163.2 181.7 162.5 183.2 162.1 184.4 162.2 185.7 162.6 186.9 163.3 187.9 164.1 188.8 165.2 189.4 166.4 189.8 167.7 190.0 169.2 189.9 171.4 189.3 175.7 189.0 177.4 188.6 178.7 187.8 179.9 186.8 180.9 185.7 181.7 184.2 182.3Z" fill="none" fill-rule="nonzero" stroke="#1a1a1a" stroke-width="1.15"/><path d="M183.9 181.7 182.7 181.9 181.4 181.8 180.2 181.4 178.9 180.7 178.1 179.9 177.4 178.9 177.0 177.9 176.8 176.7 176.9 175.2 177.8 169.4 178.1 167.9 178.7 166.6 179.6 165.2 180.7 164.1 181.9 163.5 183.4 163.2 184.7 163.3 185.7 163.6 186.7 164.1 187.7 164.9 188.4 165.9 188.9 166.9 189.3 168.2 189.4 169.7 189.3 171.7 188.7 175.4 188.4 177.2 188.0 178.4 187.2 179.7 186.4 180.5 185.2 181.3 183.9 181.7Z" fill="none" fill-rule="nonzero" stroke="#282828" stroke-width="0.70"/><path d="M183.9 181.2 182.9 181.4 181.7 181.3 180.4 180.9 179.4 180.4 178.7 179.7 177.9 178.7 177.6 177.7 177.4 176.4 177.5 174.9 178.3 169.7 178.6 168.4 179.1 167.2 179.9 165.9 180.9 165.0 182.2 164.3 183.7 164.0 184.7 164.1 185.7 164.4 186.7 165.0 187.4 165.6 188.0 166.4 188.5 167.4 188.8 168.4 188.9 169.7 188.8 171.7 188.2 175.4 187.4 178.2 186.9 179.2 186.0 180.2 184.9 180.8 183.9 181.2Z" fill="none" fill-rule="nonzero" stroke="#282828" stroke-width="0.70"/><path d="M183.7 180.7 182.7 180.9 181.7 180.8 180.7 180.5 179.7 179.9 178.9 179.2 178.4 178.2 178.1 177.2 178.0 176.2 178.8 169.9 179.1 168.7 179.6 167.4 180.4 166.3 181.4 165.5 182.7 164.9 183.9 164.8 184.9 164.9 185.7 165.2 186.4 165.6 187.2 166.3 187.7 167.0 188.1 167.9 188.3 168.9 188.4 170.2 188.2 171.9 187.6 175.4 186.9 177.9 186.4 178.9 185.7 179.7 184.7 180.4 183.7 180.7Z" fill="none" fill-rule="nonzero" stroke="#282828" stroke-width="0.70"/><path d="M183.4 180.3 182.4 180.3 181.4 180.2 180.4 179.7 179.7 179.2 179.1 178.4 178.8 177.7 178.6 176.7 178.6 175.7 179.3 170.2 179.6 168.9 180.0 167.9 180.7 166.9 181.7 166.1 182.9 165.6 184.2 165.5 185.7 165.9 186.4 166.4 186.9 167.0 187.7 168.4 187.9 170.4 187.1 175.4 186.4 177.7 185.9 178.7 185.2 179.4 184.4 179.9 183.4 180.3Z" fill="none" fill-rule="nonzero" stroke="#282828" stroke-width="0.70"/><path d="M183.2 179.7 182.2 179.8 181.4 179.6 180.7 179.2 180.1 178.7 179.5 177.9 179.3 177.2 179.1 175.2 179.8 170.4 180.4 168.4 181.1 167.4 181.9 166.7 182.9 166.3 184.2 166.2 184.9 166.3 185.7 166.6 186.7 167.6 187.2 168.9 187.4 170.7 186.5 175.4 185.9 177.4 185.4 178.3 184.9 178.9 184.1 179.4 183.2 179.7Z" fill="#e6e6e6" fill-rule="nonzero" stroke="#323232" stroke-width="0.70"/><path d="M182.7 179.2 181.7 179.0 181.0 178.7 180.4 178.2 179.9 177.3 179.7 175.7 180.1 172.2 180.5 169.7 181.3 168.2 181.9 167.5 182.7 167.1 183.4 166.9 184.2 166.9 185.4 167.3 186.3 168.2 186.8 169.4 186.8 171.2 185.9 175.7 185.3 177.4 184.8 178.2 184.2 178.7 183.4 179.1 182.7 179.2Z" fill="none" fill-rule="nonzero" stroke="#424242" stroke-width="0.70"/><path d="M182.9 178.5 182.2 178.5 181.4 178.1 180.9 177.7 180.6 176.9 180.4 175.4 180.6 172.2 181.0 170.2 181.7 168.8 182.2 168.2 182.9 167.8 184.2 167.6 185.2 168.0 185.8 168.7 186.2 169.8 186.2 171.2 185.4 174.8 184.9 176.7 184.5 177.4 184.0 177.9 182.9 178.5Z" fill="#f6f6f6" fill-rule="nonzero" stroke="#535353" stroke-width="0.70"/><path d="M182.9 177.5 182.4 177.5 181.9 177.3 181.4 176.7 181.2 176.2 181.1 174.9 181.4 171.9 181.6 170.4 182.2 169.3 182.9 168.7 183.9 168.4 184.7 168.7 185.2 169.2 185.5 169.9 185.5 171.2 185.2 172.9 184.2 176.2 183.7 177.0 182.9 177.5Z" fill="none" fill-rule="nonzero" stroke="#646464" stroke-width="0.70"/></g><clipPath id="cp10"><rect x="159.2" y="117.7" width="74.60" height="74.60"/></clipPath><g clip-path="url(#cp10)"><path d="M187.2 154.0 185.2 154.0 183.2 153.6 181.2 152.8 178.9 151.5 174.9 149.1 172.7 147.4 170.6 145.4 168.9 143.2 167.8 141.2 167.3 139.4 167.0 137.7 167.2 135.7 167.8 133.4 168.6 131.7 169.7 130.2 171.2 128.9 172.2 128.4 173.7 127.8 176.7 127.1 179.4 127.0 182.2 127.6 184.7 128.6 187.4 130.3 190.8 132.9 191.8 133.9 192.7 135.2 193.8 137.4 194.8 141.2 195.1 143.7 194.8 145.7 194.4 146.9 193.6 148.4 191.2 151.7 190.2 152.7 189.2 153.3 188.2 153.8 187.2 154.0Z" fill="#e6e6e6" fill-rule="nonzero" stroke="#8c8c8c" stroke-width="0.70"/><path d="M186.7 152.7 185.4 152.7 183.9 152.4 182.4 151.8 181.2 151.1 173.7 145.9 172.0 144.2 170.5 142.2 169.6 140.4 169.2 138.9 169.0 137.4 169.2 135.7 169.7 133.9 170.4 132.4 171.4 131.2 172.7 130.2 174.7 129.3 177.2 128.8 179.7 128.9 181.9 129.3 184.4 130.4 186.9 132.0 189.6 134.2 191.2 136.2 192.3 138.4 192.8 140.9 193.0 143.4 192.7 145.7 191.6 148.4 190.2 150.8 188.7 152.1 187.7 152.5 186.7 152.7Z" fill="#d9d9d9" fill-rule="nonzero" stroke="#777777" stroke-width="0.70"/><path d="M187.2 151.7 186.2 151.9 184.9 151.8 183.7 151.4 182.4 150.8 174.7 145.2 173.2 143.7 172.0 142.2 171.1 140.7 170.6 139.4 170.3 137.9 170.3 136.4 170.6 134.9 171.3 133.4 172.2 132.2 173.2 131.4 174.9 130.5 177.2 130.0 179.4 130.0 181.7 130.5 183.9 131.4 186.2 132.8 188.5 134.7 190.1 136.4 191.0 138.2 191.6 140.4 191.7 142.7 191.5 145.2 190.8 147.7 189.8 149.7 188.7 150.9 187.2 151.7Z" fill="#cfcfcf" fill-rule="nonzero" stroke="#626262" stroke-width="0.70"/><path d="M186.9 151.0 185.9 151.2 184.9 151.1 183.9 150.8 182.7 150.1 179.4 147.6 175.4 144.7 174.2 143.4 172.9 141.9 172.0 140.4 171.6 139.2 171.3 137.9 171.3 136.7 171.5 135.4 172.0 134.2 172.7 133.1 173.7 132.2 175.2 131.4 177.2 131.0 179.4 131.0 181.4 131.4 183.4 132.2 185.7 133.5 187.8 135.2 189.2 136.7 190.1 138.4 190.6 140.4 190.7 142.7 190.4 145.4 189.9 147.7 189.2 149.2 188.2 150.4 186.9 151.0Z" fill="none" fill-rule="nonzero" stroke="#1a1a1a" stroke-width="1.15"/><path d="M186.4 150.5 185.7 150.5 184.7 150.4 182.9 149.6 179.9 147.1 175.9 144.2 174.7 142.9 173.7 141.7 172.9 140.4 172.4 139.2 172.1 137.9 172.1 136.7 172.3 135.4 172.8 134.4 173.4 133.5 174.2 132.8 175.7 132.1 177.4 131.8 179.4 131.8 181.4 132.2 183.4 133.0 185.4 134.2 187.3 135.7 188.6 137.2 189.5 138.9 189.8 140.7 189.8 142.7 189.4 146.4 189.0 147.9 188.4 149.2 187.4 150.1 186.4 150.5Z" fill="none" fill-rule="nonzero" stroke="#1a1a1a" stroke-width="1.15"/><path d="M186.7 149.7 185.9 149.9 185.2 149.9 184.4 149.7 183.4 149.2 180.4 146.7 176.7 143.9 175.4 142.8 174.5 141.7 173.8 140.7 173.2 139.4 172.9 138.2 172.8 137.2 173.0 135.9 173.4 134.9 173.9 134.1 174.7 133.4 175.9 132.8 177.4 132.5 179.2 132.5 181.2 132.9 182.9 133.6 184.9 134.7 186.7 136.1 187.9 137.4 188.7 138.9 189.1 140.4 189.1 141.9 188.8 145.7 188.6 147.2 188.2 148.2 187.5 149.2 186.7 149.7Z" fill="none" fill-rule="nonzero" stroke="#282828" stroke-width="0.70"/><path d="M185.9 149.2 184.7 149.1 183.4 148.5 180.7 146.2 176.9 143.5 175.0 141.4 174.4 140.4 173.8 139.2 173.6 138.2 173.5 137.2 173.6 136.2 173.9 135.4 174.4 134.6 175.2 134.0 176.3 133.4 177.7 133.2 179.4 133.2 181.2 133.6 182.9 134.3 184.7 135.3 186.2 136.5 187.3 137.7 188.1 139.2 188.4 140.7 188.1 146.2 187.8 147.4 187.4 148.2 186.7 148.9 185.9 149.2Z" fill="none" fill-rule="nonzero" stroke="#282828" stroke-width="0.70"/><path d="M185.9 148.5 184.9 148.5 183.7 148.0 181.2 145.9 177.7 143.4 176.6 142.4 175.7 141.4 174.6 139.4 174.2 137.7 174.2 136.7 174.5 135.9 174.9 135.2 175.4 134.7 176.4 134.1 177.7 133.9 179.2 133.9 180.9 134.2 182.7 134.9 184.2 135.8 185.7 136.9 186.6 137.9 187.2 138.9 187.5 139.9 187.6 142.2 187.4 145.9 187.2 146.9 186.7 147.9 185.9 148.5Z" fill="none" fill-rule="nonzero" stroke="#282828" stroke-width="0.70"/><path d="M185.2 147.7 184.7 147.6 183.9 147.3 178.7 143.6 177.3 142.4 176.1 141.2 175.2 139.4 174.8 137.7 174.9 136.9 175.1 136.2 176.0 135.2 176.9 134.7 178.2 134.5 179.4 134.6 180.9 134.9 182.3 135.4 183.7 136.2 185.0 137.2 185.9 138.2 186.6 139.4 186.9 140.7 186.7 145.4 186.5 146.4 186.2 147.2 185.7 147.6 185.2 147.7Z" fill="none" fill-rule="nonzero" stroke="#282828" stroke-width="0.70"/><path d="M184.9 146.5 184.4 146.5 183.7 146.2 179.7 143.7 178.0 142.4 176.8 141.2 175.9 139.7 175.5 138.2 175.5 137.4 175.7 136.8 176.4 135.8 177.2 135.4 178.2 135.2 179.4 135.2 180.7 135.5 181.9 136.0 183.3 136.7 184.4 137.6 185.2 138.4 186.0 139.9 186.2 141.7 185.8 145.4 185.4 146.2 184.9 146.5Z" fill="#e6e6e6" fill-rule="nonzero" stroke="#323232" stroke-width="0.70"/><path d="M184.2 145.0 183.7 145.0 182.9 144.8 180.4 143.6 178.7 142.4 177.4 141.2 176.6 139.9 176.2 138.4 176.3 137.2 176.9 136.4 177.7 136.0 178.4 135.9 179.4 135.9 180.4 136.1 182.4 137.0 183.5 137.7 184.3 138.4 185.2 139.9 185.4 141.4 185.3 142.7 185.0 143.9 184.7 144.6 184.2 145.0Z" fill="none" fill-rule="nonzero" stroke="#424242" stroke-width="0.70"/><path d="M183.2 143.7 181.9 143.6 180.4 142.9 179.0 141.9 177.9 141.0 177.3 139.9 176.9 138.9 177.0 137.9 177.4 137.1 177.9 136.8 178.7 136.6 180.2 136.7 181.9 137.5 183.5 138.7 184.0 139.4 184.4 140.2 184.5 141.7 184.4 142.4 184.1 143.2 183.7 143.6 183.2 143.7Z" fill="#f6f6f6" fill-rule="nonzero" stroke="#535353" stroke-width="0.70"/><path d="M182.7 142.5 181.9 142.6 180.9 142.4 179.7 141.7 178.8 140.9 178.2 140.2 177.8 139.2 177.8 138.4 178.2 137.8 178.9 137.4 180.2 137.5 181.4 138.1 182.6 138.9 183.3 139.9 183.5 140.9 183.3 141.9 182.7 142.5Z" fill="none" fill-rule="nonzero" stroke="#646464" stroke-width="0.70"/></g><clipPath id="cp11"><rect x="241.7" y="118.1" width="73.70" height="74.20"/></clipPath><g clip-path="url(#cp11)"><path d="M264.2 185.2 261.4 185.3 260.2 185.2 258.7 184.8 256.4 183.8 253.9 181.8 251.9 179.6 250.7 177.6 250.1 175.1 249.8 171.8 249.9 169.3 250.5 167.3 253.3 161.8 254.4 160.2 255.9 158.9 257.9 157.9 261.2 156.9 263.7 156.5 265.7 156.7 267.7 157.4 271.2 159.2 273.1 160.6 274.6 162.6 276.3 166.1 277.1 168.3 277.3 170.1 277.2 171.6 276.7 173.1 274.5 178.8 274.0 179.8 273.3 180.8 271.9 182.0 270.2 183.0 266.7 184.5 264.2 185.2Z" fill="#e6e6e6" fill-rule="nonzero" stroke="#8c8c8c" stroke-width="0.70"/><path d="M263.9 183.6 261.7 183.8 259.7 183.4 257.9 182.7 255.9 181.3 254.0 179.3 252.7 177.3 251.9 175.1 251.6 172.8 251.7 170.8 252.1 169.1 254.7 163.3 255.7 161.8 256.9 160.7 258.4 159.9 260.7 159.2 262.9 158.9 264.9 159.0 267.4 159.7 269.7 160.6 271.4 161.7 272.7 163.1 273.6 164.8 274.7 167.8 275.0 169.8 274.8 171.8 273.6 176.3 272.9 178.1 272.2 179.3 270.9 180.5 269.4 181.5 266.2 182.9 263.9 183.6Z" fill="#d9d9d9" fill-rule="nonzero" stroke="#777777" stroke-width="0.70"/><path d="M263.7 182.6 261.9 182.8 260.2 182.5 258.7 181.9 257.2 180.9 255.5 179.3 254.1 177.6 253.3 175.8 252.9 174.1 252.8 172.1 253.1 170.3 256.0 163.6 256.9 162.3 257.9 161.6 259.2 161.0 260.7 160.6 262.9 160.5 265.9 160.9 268.2 161.4 269.9 162.2 271.2 163.3 272.0 164.6 272.7 166.3 273.1 168.6 273.3 171.1 272.9 174.3 272.4 176.6 271.6 178.3 270.4 179.6 268.9 180.6 265.9 182.0 263.7 182.6Z" fill="#cfcfcf" fill-rule="nonzero" stroke="#626262" stroke-width="0.70"/><path d="M263.4 181.9 261.9 182.0 260.4 181.7 259.2 181.2 257.7 180.3 256.2 178.8 255.0 177.3 254.3 175.8 253.9 174.3 253.8 172.6 254.1 171.1 256.7 164.4 257.4 163.3 258.2 162.6 259.2 162.1 260.4 161.8 261.7 161.7 263.4 161.8 266.9 162.4 268.7 162.9 269.8 163.6 270.6 164.6 271.1 165.6 271.5 167.1 272.0 171.8 272.1 173.6 271.9 175.6 271.2 177.3 270.2 178.7 268.7 179.8 265.7 181.2 263.4 181.9Z" fill="none" fill-rule="nonzero" stroke="#4d4d4d" stroke-width="0.70"/><path d="M263.7 181.1 262.2 181.3 260.9 181.1 259.7 180.7 258.4 179.9 257.2 178.8 255.9 177.3 255.2 176.1 254.8 174.6 254.7 173.1 254.9 171.8 257.3 165.1 257.7 164.3 258.4 163.5 259.4 163.0 260.4 162.7 261.7 162.6 262.9 162.7 266.4 163.4 267.9 163.8 268.8 164.3 269.5 165.1 269.9 165.9 270.3 167.1 271.3 173.6 271.2 175.3 270.7 176.8 269.8 178.1 268.4 179.2 266.2 180.3 263.7 181.1Z" fill="none" fill-rule="nonzero" stroke="#1a1a1a" stroke-width="1.15"/><path d="M263.7 180.4 262.4 180.6 261.2 180.4 260.1 180.1 258.9 179.4 257.7 178.4 256.8 177.3 256.1 176.1 255.7 174.8 255.6 173.8 255.7 172.6 257.8 165.8 258.2 165.0 258.8 164.3 259.5 163.8 260.4 163.5 262.2 163.4 264.9 164.0 266.9 164.5 268.2 165.3 268.7 165.9 269.1 166.8 270.5 172.6 270.6 174.1 270.5 175.3 270.1 176.6 269.4 177.6 268.6 178.3 267.4 179.1 265.4 179.9 263.7 180.4Z" fill="none" fill-rule="nonzero" stroke="#1a1a1a" stroke-width="1.15"/><path d="M263.9 179.6 262.7 179.8 261.7 179.8 260.7 179.6 259.7 179.1 258.7 178.3 257.7 177.3 256.9 176.1 256.6 175.1 256.5 174.1 256.6 173.1 257.4 170.3 258.2 166.6 258.7 165.6 259.2 165.0 259.9 164.5 260.7 164.2 262.2 164.2 264.2 164.5 266.2 165.2 267.4 166.0 268.0 166.6 268.4 167.6 269.8 172.6 270.0 173.8 269.9 175.1 269.7 176.1 269.1 177.1 268.3 177.8 267.2 178.5 265.7 179.1 263.9 179.6Z" fill="none" fill-rule="nonzero" stroke="#282828" stroke-width="0.70"/><path d="M264.2 178.9 262.9 179.0 261.9 179.0 261.1 178.8 260.2 178.5 259.3 177.8 258.6 177.1 257.9 176.2 257.6 175.3 257.5 174.6 257.6 173.6 258.8 167.1 259.2 166.2 259.7 165.6 260.2 165.2 260.9 164.9 262.2 164.8 263.9 165.1 265.4 165.6 266.7 166.4 267.4 167.1 267.9 168.1 269.2 172.6 269.4 173.8 269.3 175.1 269.0 176.1 268.5 176.8 267.7 177.6 266.9 178.0 264.2 178.9Z" fill="none" fill-rule="nonzero" stroke="#282828" stroke-width="0.70"/><path d="M263.7 178.1 261.9 178.0 260.4 177.4 259.3 176.3 258.8 175.1 258.7 173.8 259.0 169.1 259.3 167.8 259.5 167.1 260.0 166.3 260.7 165.8 261.4 165.5 262.7 165.5 264.2 165.8 265.4 166.3 266.4 167.1 267.0 167.8 267.5 168.8 268.7 173.1 268.8 174.1 268.7 175.1 268.4 175.8 267.9 176.6 267.2 177.1 266.2 177.6 263.7 178.1Z" fill="none" fill-rule="nonzero" stroke="#282828" stroke-width="0.70"/><path d="M264.9 177.1 263.2 177.1 261.8 176.6 260.8 175.8 260.1 174.6 259.7 171.3 259.8 168.6 259.9 167.8 260.3 167.1 260.8 166.6 261.4 166.3 262.2 166.1 263.2 166.1 264.2 166.4 265.2 166.9 265.9 167.4 266.5 168.1 267.4 170.1 268.2 173.3 268.2 174.3 268.0 175.1 267.6 175.8 266.9 176.5 265.9 176.9 264.9 177.1Z" fill="#e6e6e6" fill-rule="nonzero" stroke="#323232" stroke-width="0.70"/><path d="M265.7 176.1 264.2 176.1 262.9 175.7 261.7 174.6 261.0 173.3 260.4 171.1 260.3 169.1 260.7 167.8 261.1 167.3 261.7 166.9 262.9 166.7 264.4 167.1 265.7 168.0 266.5 169.3 267.3 172.1 267.5 174.1 267.3 174.8 266.9 175.4 266.4 175.8 265.7 176.1Z" fill="none" fill-rule="nonzero" stroke="#424242" stroke-width="0.70"/><path d="M265.2 175.1 264.2 175.0 262.9 174.3 262.1 173.3 261.4 172.1 261.0 170.6 261.0 169.1 261.4 168.1 262.2 167.5 263.4 167.4 264.5 167.8 265.4 168.6 266.1 169.8 266.7 171.8 266.7 173.6 266.5 174.3 266.2 174.7 265.7 175.0 265.2 175.1Z" fill="#f6f6f6" fill-rule="nonzero" stroke="#535353" stroke-width="0.70"/><path d="M265.2 173.7 264.4 173.8 263.4 173.4 262.7 172.7 262.1 171.8 261.8 170.8 261.7 169.8 261.9 168.9 262.4 168.4 263.2 168.2 264.2 168.5 264.9 169.1 265.4 169.8 265.9 171.1 266.0 172.3 265.7 173.3 265.2 173.7Z" fill="none" fill-rule="nonzero" stroke="#646464" stroke-width="0.70"/></g><clipPath id="cp12"><rect x="241.7" y="118.1" width="73.70" height="74.20"/></clipPath><g clip-path="url(#cp12)"><path d="M263.2 156.7 261.7 156.8 260.4 156.5 259.2 155.8 257.9 154.6 253.0 147.8 252.1 145.8 251.6 143.3 251.5 140.6 251.8 138.1 252.3 136.1 253.3 134.1 254.7 132.1 256.4 130.4 258.4 129.2 260.2 128.8 261.9 128.8 263.7 129.3 265.9 130.3 267.9 131.7 269.3 133.1 270.3 134.6 271.0 136.3 271.4 138.1 271.4 140.3 271.1 143.3 270.5 145.8 269.8 147.8 267.5 152.6 266.5 154.3 265.7 155.2 264.9 155.9 264.2 156.3 263.2 156.7Z" fill="#e6e6e6" fill-rule="nonzero" stroke="#8c8c8c" stroke-width="0.64"/><path d="M262.2 155.4 261.2 155.2 260.2 154.8 259.3 154.1 258.5 153.1 256.7 150.0 254.2 146.3 253.5 144.6 253.1 142.3 253.2 140.3 253.5 138.3 254.1 136.6 255.1 134.8 256.2 133.3 257.7 132.1 259.2 131.3 260.7 130.9 262.2 131.0 263.9 131.5 265.7 132.4 267.2 133.4 268.3 134.6 269.0 135.8 269.5 137.3 269.8 138.8 269.6 141.6 269.0 144.6 268.4 146.6 266.2 152.1 265.4 153.6 264.4 154.5 263.4 155.1 262.2 155.4Z" fill="#d9d9d9" fill-rule="nonzero" stroke="#7a7a7a" stroke-width="0.64"/><path d="M262.2 154.4 261.4 154.3 260.5 153.8 259.9 153.3 259.2 152.5 257.6 149.3 255.0 145.6 254.4 143.8 254.2 142.1 254.2 140.3 254.6 138.6 255.2 137.1 256.1 135.6 257.2 134.3 258.4 133.2 259.7 132.6 261.2 132.4 262.4 132.4 263.9 132.8 265.4 133.6 266.5 134.3 267.4 135.3 268.1 136.3 268.5 137.6 268.7 139.1 268.6 141.3 268.1 143.8 265.3 151.8 264.7 153.0 263.9 153.7 263.2 154.1 262.2 154.4Z" fill="#cfcfcf" fill-rule="nonzero" stroke="#696969" stroke-width="0.64"/><path d="M262.7 153.4 261.9 153.4 261.2 153.2 260.4 152.7 259.9 152.1 258.3 148.8 256.3 146.1 255.7 145.1 255.2 143.6 254.9 142.1 255.0 140.6 255.3 139.1 255.9 137.6 256.7 136.3 257.7 135.2 258.9 134.3 260.2 133.7 261.4 133.5 262.7 133.6 263.9 133.9 264.9 134.4 265.9 135.1 266.7 135.8 267.3 136.8 267.7 137.8 267.9 139.1 267.9 140.8 267.5 143.1 266.9 144.8 265.7 147.9 264.8 151.1 263.9 152.6 263.4 153.1 262.7 153.4Z" fill="none" fill-rule="nonzero" stroke="#575757" stroke-width="0.64"/><path d="M262.7 152.4 262.2 152.5 261.4 152.4 260.9 152.0 260.4 151.4 258.9 148.3 257.0 145.8 256.4 144.8 255.9 143.6 255.6 142.1 255.7 140.8 256.0 139.3 256.5 138.1 257.2 137.0 258.2 136.0 259.2 135.2 260.4 134.6 261.7 134.4 262.7 134.5 263.7 134.7 264.7 135.2 265.6 135.8 266.3 136.6 266.8 137.6 267.2 139.6 267.1 141.3 266.8 143.1 265.0 147.6 264.2 150.6 263.5 151.8 262.7 152.4Z" fill="none" fill-rule="nonzero" stroke="#464646" stroke-width="0.64"/><path d="M262.7 151.1 261.9 151.3 261.2 150.8 259.8 148.1 257.1 144.8 256.5 143.6 256.2 142.1 256.3 140.8 256.6 139.6 257.0 138.6 257.7 137.6 258.4 136.8 259.4 136.0 260.4 135.5 261.7 135.3 263.4 135.5 264.4 135.8 265.1 136.3 265.7 137.0 266.2 137.8 266.6 139.6 266.5 141.3 266.1 143.3 264.1 147.6 263.3 150.3 262.7 151.1Z" fill="none" fill-rule="nonzero" stroke="#464646" stroke-width="0.64"/><path d="M262.2 148.5 261.7 148.5 261.2 148.2 258.0 145.1 257.4 144.3 257.0 143.3 256.8 141.6 256.9 140.6 257.2 139.6 257.7 138.6 258.4 137.7 259.2 137.0 260.2 136.4 261.2 136.1 262.2 136.0 263.8 136.3 264.4 136.7 265.1 137.3 265.8 138.6 266.1 140.3 265.8 142.1 265.1 144.1 263.7 146.5 262.7 148.0 262.2 148.5Z" fill="none" fill-rule="nonzero" stroke="#464646" stroke-width="0.64"/><path d="M262.2 146.6 261.4 146.7 260.7 146.5 258.9 145.2 258.2 144.4 257.8 143.6 257.5 142.8 257.3 141.8 257.6 140.1 258.1 139.1 258.7 138.3 259.4 137.6 260.2 137.2 260.9 136.9 261.9 136.7 263.2 136.9 264.4 137.6 265.2 138.8 265.5 140.3 265.3 142.1 264.6 143.8 263.4 145.6 262.2 146.6Z" fill="none" fill-rule="nonzero" stroke="#464646" stroke-width="0.64"/><path d="M261.9 145.6 261.4 145.7 260.7 145.6 259.9 145.2 259.2 144.6 258.2 143.2 257.9 141.6 258.2 140.1 259.2 138.7 259.9 138.1 260.7 137.7 262.2 137.4 263.2 137.6 264.2 138.4 264.7 139.3 264.9 140.8 264.7 142.3 264.0 143.8 262.9 145.1 261.9 145.6Z" fill="none" fill-rule="nonzero" stroke="#5a5a5a" stroke-width="0.64"/><path d="M261.4 144.9 260.2 144.6 259.2 143.7 258.6 142.6 258.5 141.3 258.9 140.1 259.7 139.0 260.9 138.3 262.2 138.1 263.2 138.5 263.9 139.1 264.3 140.1 264.3 141.3 263.9 142.7 263.2 143.8 262.4 144.5 261.4 144.9Z" fill="#e6e6e6" fill-rule="nonzero" stroke="#6e6e6e" stroke-width="0.64"/><path d="M261.9 143.9 260.9 144.0 260.2 143.7 259.4 142.9 259.1 141.8 259.3 140.8 259.8 139.8 260.7 139.2 261.7 138.9 262.4 139.0 263.0 139.3 263.4 139.9 263.7 140.8 263.6 141.8 263.2 142.8 262.7 143.4 261.9 143.9Z" fill="none" fill-rule="nonzero" stroke="#828282" stroke-width="0.64"/></g><rect x="159.2" y="36.2" width="74.60" height="74.00" fill="none" stroke="#231f20" stroke-width="1.1"/><rect x="241.7" y="35.8" width="73.70" height="74.40" fill="none" stroke="#231f20" stroke-width="1.1"/><rect x="159.2" y="117.7" width="74.60" height="74.60" fill="none" stroke="#231f20" stroke-width="1.1"/><rect x="241.7" y="118.1" width="73.70" height="74.20" fill="none" stroke="#231f20" stroke-width="1.1"/><rect x="166.3" y="43.3" width="26.00" height="31.30" fill="none" stroke="#231f20" stroke-width="1.0"/><rect x="192.3" y="43.3" width="33.30" height="28.80" fill="none" stroke="#231f20" stroke-width="1.0"/><rect x="166.3" y="75.6" width="27.20" height="28.20" fill="none" stroke="#231f20" stroke-width="1.0"/><text x="168.8" y="41.7" font-size="6.8">B 51.8</text><text x="212" y="62" font-size="6.8">C</text><text x="212" y="69.4" font-size="6.8">11.6</text><text x="197.7" y="97.7" font-size="6.8">A</text><text x="198.7" y="104.9" font-size="6.8">24.6</text><rect x="248.5" y="41.9" width="25.90" height="31.10" fill="none" stroke="#231f20" stroke-width="1.0"/><rect x="274.4" y="42.7" width="33.30" height="29.40" fill="none" stroke="#231f20" stroke-width="1.0"/><rect x="248.5" y="75.4" width="27.30" height="28.40" fill="none" stroke="#231f20" stroke-width="1.0"/><text x="252.7" y="40.8" font-size="6.8">B</text><text x="252.3" y="49" font-size="6.8">27.7</text><text x="294.2" y="41.3" font-size="6.8">C</text><text x="294.6" y="49.6" font-size="6.8">12.1</text><text x="279.6" y="94.2" font-size="6.8">A</text><text x="279.6" y="101.9" font-size="6.8">58.9</text><rect x="166.5" y="124.4" width="25.80" height="32.10" fill="none" stroke="#231f20" stroke-width="1.0"/><rect x="192.3" y="124.4" width="33.30" height="29.80" fill="none" stroke="#231f20" stroke-width="1.0"/><rect x="166.5" y="157.5" width="27.00" height="27.50" fill="none" stroke="#231f20" stroke-width="1.0"/><text x="172.3" y="123.1" font-size="6.8">B 49.8</text><text x="211" y="142.7" font-size="6.8">C</text><text x="211" y="150.8" font-size="6.8">10.7</text><text x="198" y="179.2" font-size="6.8">A</text><text x="198" y="186.5" font-size="6.8">33.1</text><rect x="248.1" y="123.8" width="26.30" height="31.80" fill="none" stroke="#231f20" stroke-width="1.0"/><rect x="274.4" y="124.8" width="32.90" height="29.40" fill="none" stroke="#231f20" stroke-width="1.0"/><rect x="248.5" y="157.7" width="27.30" height="28.30" fill="none" stroke="#231f20" stroke-width="1.0"/><text x="250.8" y="122.5" font-size="6.8">B</text><text x="250.4" y="130.8" font-size="6.8">35.1</text><text x="292.7" y="142.7" font-size="6.8">C</text><text x="292.7" y="150.8" font-size="6.8">2.99</text><text x="279.6" y="177.7" font-size="6.8">A</text><text x="279.6" y="185.6" font-size="6.8">59.0</text><line x1="368.5" y1="36.8" x2="368.5" y2="192.6" stroke="#231f20" stroke-width="1.2"/><line x1="367.9" y1="192" x2="505" y2="192" stroke="#231f20" stroke-width="1.2"/><line x1="365.3" y1="192.0" x2="368.5" y2="192.0" stroke="#231f20" stroke-width="1.0"/><text x="363.0" y="194.9" font-size="8.2" text-anchor="end">0</text><line x1="365.3" y1="153.85" x2="368.5" y2="153.85" stroke="#231f20" stroke-width="1.0"/><text x="363.0" y="156.75" font-size="8.2" text-anchor="end">20</text><line x1="365.3" y1="115.7" x2="368.5" y2="115.7" stroke="#231f20" stroke-width="1.0"/><text x="363.0" y="118.60000000000001" font-size="8.2" text-anchor="end">40</text><line x1="365.3" y1="77.55" x2="368.5" y2="77.55" stroke="#231f20" stroke-width="1.0"/><text x="363.0" y="80.45" font-size="8.2" text-anchor="end">60</text><line x1="365.3" y1="39.400000000000006" x2="368.5" y2="39.400000000000006" stroke="#231f20" stroke-width="1.0"/><text x="363.0" y="42.300000000000004" font-size="8.2" text-anchor="end">80</text><text transform="translate(347.4 173.5) rotate(-90)" x="0" y="0" font-size="9.9" font-weight="bold" textLength="118.5" lengthAdjust="spacingAndGlyphs">% B220+ cells of CD45.1 or .2 BM cells</text><line x1="436.5" y1="36.5" x2="436.5" y2="192" stroke="#231f20" stroke-width="1.2" stroke-dasharray="2.4 2.1"/><polyline points="387.8,84.3 387.8,68.1 417.5,68.1 417.5,148.7" fill="none" stroke="#231f20" stroke-width="1.1"/><text x="402.65" y="67.5" font-size="7.6" text-anchor="middle" font-weight="bold">***</text><rect x="378.10" y="90.10" width="5.4" height="5.4" fill="none" stroke="#3d5d9c" stroke-width="1.0"/><rect x="378.10" y="97.00" width="5.4" height="5.4" fill="none" stroke="#3d5d9c" stroke-width="1.0"/><rect x="383.90" y="91.60" width="5.4" height="5.4" fill="none" stroke="#3d5d9c" stroke-width="1.0"/><rect x="386.60" y="91.60" width="5.4" height="5.4" fill="none" stroke="#3d5d9c" stroke-width="1.0"/><rect x="392.00" y="86.20" width="5.4" height="5.4" fill="none" stroke="#3d5d9c" stroke-width="1.0"/><rect x="392.00" y="93.10" width="5.4" height="5.4" fill="none" stroke="#3d5d9c" stroke-width="1.0"/><rect x="385" y="92.3" width="6" height="3.6" fill="#333"/><line x1="378.3" y1="93.9" x2="397.3" y2="93.9" stroke="#231f20" stroke-width="1.1"/><line x1="387.8" y1="92.8" x2="387.8" y2="95.2" stroke="#231f20" stroke-width="1.1"/><line x1="385.3" y1="92.8" x2="390.3" y2="92.8" stroke="#231f20" stroke-width="1.1"/><line x1="385.3" y1="95.2" x2="390.3" y2="95.2" stroke="#231f20" stroke-width="1.1"/><line x1="407.5" y1="172.5" x2="427.5" y2="172.5" stroke="#231f20" stroke-width="1.1"/><line x1="417.5" y1="169.5" x2="417.5" y2="175.5" stroke="#231f20" stroke-width="1.1"/><line x1="413.5" y1="169.5" x2="421.5" y2="169.5" stroke="#231f20" stroke-width="1.1"/><line x1="413.5" y1="175.5" x2="421.5" y2="175.5" stroke="#231f20" stroke-width="1.1"/><circle cx="410.20" cy="176.90" r="2.4" fill="#5a2670"/><circle cx="415.00" cy="173.00" r="2.4" fill="#5a2670"/><circle cx="419.40" cy="176.00" r="2.4" fill="#5a2670"/><circle cx="424.60" cy="175.60" r="2.4" fill="#5a2670"/><circle cx="417.30" cy="161.50" r="2.4" fill="#5a2670"/><rect x="453.30" y="67.40" width="5.6" height="5.6" fill="none" stroke="#3d5d9c" stroke-width="1.0"/><rect x="453.30" y="81.20" width="5.6" height="5.6" fill="none" stroke="#3d5d9c" stroke-width="1.0"/><rect x="446.50" y="93.60" width="5.6" height="5.6" fill="none" stroke="#3d5d9c" stroke-width="1.0"/><rect x="460.70" y="90.80" width="5.6" height="5.6" fill="none" stroke="#3d5d9c" stroke-width="1.0"/><rect x="453.30" y="130.40" width="5.6" height="5.6" fill="none" stroke="#3d5d9c" stroke-width="1.0"/><line x1="446.6" y1="95.4" x2="465.6" y2="95.4" stroke="#231f20" stroke-width="1.1"/><line x1="456.1" y1="84.8" x2="456.1" y2="106.1" stroke="#231f20" stroke-width="1.1"/><line x1="451.1" y1="84.8" x2="461.1" y2="84.8" stroke="#231f20" stroke-width="1.1"/><line x1="451.1" y1="106.1" x2="461.1" y2="106.1" stroke="#231f20" stroke-width="1.1"/><circle cx="485.50" cy="84.00" r="2.8" fill="none" stroke="#c22a4a" stroke-width="1.0"/><circle cx="478.30" cy="91.60" r="2.8" fill="none" stroke="#c22a4a" stroke-width="1.0"/><circle cx="485.50" cy="91.60" r="2.8" fill="none" stroke="#c22a4a" stroke-width="1.0"/><circle cx="492.80" cy="91.60" r="2.8" fill="none" stroke="#c22a4a" stroke-width="1.0"/><circle cx="485.50" cy="116.00" r="2.8" fill="none" stroke="#c22a4a" stroke-width="1.0"/><line x1="476.2" y1="94.4" x2="494.8" y2="94.4" stroke="#231f20" stroke-width="1.1"/><line x1="485.5" y1="88.3" x2="485.5" y2="100.4" stroke="#231f20" stroke-width="1.1"/><line x1="480.5" y1="88.3" x2="490.5" y2="88.3" stroke="#231f20" stroke-width="1.1"/><line x1="480.5" y1="100.4" x2="490.5" y2="100.4" stroke="#231f20" stroke-width="1.1"/><text x="373.7" y="202.6" font-size="8.2" textLength="27.5" lengthAdjust="spacingAndGlyphs">CD45.1</text><text x="403" y="202.6" font-size="8.2" textLength="27.5" lengthAdjust="spacingAndGlyphs">CD45.2</text><text x="387.5" y="211.8" font-size="8.2" text-anchor="middle">WT</text><text x="416.8" y="211.8" font-size="8.2" text-anchor="middle">DPWY</text><text x="442.3" y="202.6" font-size="8.2" textLength="27.4" lengthAdjust="spacingAndGlyphs">CD45.1</text><text x="471.8" y="202.6" font-size="8.2" textLength="27.2" lengthAdjust="spacingAndGlyphs">CD45.2</text><text x="456.1" y="211.8" font-size="8.2" text-anchor="middle">WT</text><text x="485.5" y="211.8" font-size="8.2" text-anchor="middle">LMC</text><line x1="44.5" y1="262.4" x2="44.5" y2="404.3" stroke="#231f20" stroke-width="1.2"/><line x1="43.9" y1="403.7" x2="168.5" y2="403.7" stroke="#231f20" stroke-width="1.2"/><line x1="41.3" y1="403.7" x2="44.5" y2="403.7" stroke="#231f20" stroke-width="1.0"/><text x="38.7" y="406.59999999999997" font-size="8.2" text-anchor="end">0</text><line x1="41.3" y1="376.02" x2="44.5" y2="376.02" stroke="#231f20" stroke-width="1.0"/><text x="38.7" y="378.91999999999996" font-size="8.2" text-anchor="end">10</text><line x1="41.3" y1="348.34000000000003" x2="44.5" y2="348.34000000000003" stroke="#231f20" stroke-width="1.0"/><text x="38.7" y="351.24" font-size="8.2" text-anchor="end">20</text><line x1="41.3" y1="320.66" x2="44.5" y2="320.66" stroke="#231f20" stroke-width="1.0"/><text x="38.7" y="323.56" font-size="8.2" text-anchor="end">30</text><line x1="41.3" y1="292.98" x2="44.5" y2="292.98" stroke="#231f20" stroke-width="1.0"/><text x="38.7" y="295.88" font-size="8.2" text-anchor="end">40</text><line x1="41.3" y1="265.3" x2="44.5" y2="265.3" stroke="#231f20" stroke-width="1.0"/><text x="38.7" y="268.2" font-size="8.2" text-anchor="end">50</text><text transform="translate(23.0 381.7) rotate(-90)" x="0" y="0" font-size="9.9" font-weight="bold" textLength="96.5" lengthAdjust="spacingAndGlyphs">% of total CD45.1 or .2 BM cells</text><line x1="106.3" y1="266.8" x2="106.3" y2="403.7" stroke="#231f20" stroke-width="1.2" stroke-dasharray="2.4 2.1"/><rect x="46.55" y="264.05" width="4.9" height="4.9" fill="none" stroke="#3d5d9c" stroke-width="1.0"/><text x="54.2" y="268.9" font-size="7.6">CD45.1 WT</text><circle cx="48.70" cy="278.20" r="2.2" fill="#5a2670"/><text x="54.2" y="280.3" font-size="7.6">CD45.2 DPWY</text><rect x="58.30" y="376.00" width="5.0" height="5.0" fill="none" stroke="#3d5d9c" stroke-width="1.0"/><rect x="53.70" y="380.70" width="5.0" height="5.0" fill="none" stroke="#3d5d9c" stroke-width="1.0"/><rect x="58.30" y="380.70" width="5.0" height="5.0" fill="none" stroke="#3d5d9c" stroke-width="1.0"/><rect x="62.90" y="380.70" width="5.0" height="5.0" fill="none" stroke="#3d5d9c" stroke-width="1.0"/><rect x="67.30" y="380.50" width="5.0" height="5.0" fill="none" stroke="#3d5d9c" stroke-width="1.0"/><rect x="58.30" y="385.30" width="5.0" height="5.0" fill="none" stroke="#3d5d9c" stroke-width="1.0"/><line x1="54.0" y1="383.2" x2="71.0" y2="383.2" stroke="#231f20" stroke-width="1.1"/><line x1="62.5" y1="381.5" x2="62.5" y2="385" stroke="#231f20" stroke-width="1.1"/><line x1="58.5" y1="381.5" x2="66.5" y2="381.5" stroke="#231f20" stroke-width="1.1"/><line x1="58.5" y1="385" x2="66.5" y2="385" stroke="#231f20" stroke-width="1.1"/><line x1="82" y1="379" x2="102" y2="379" stroke="#231f20" stroke-width="1.1"/><line x1="92" y1="374.5" x2="92" y2="383.5" stroke="#231f20" stroke-width="1.1"/><line x1="87.5" y1="374.5" x2="96.5" y2="374.5" stroke="#231f20" stroke-width="1.1"/><line x1="87.5" y1="383.5" x2="96.5" y2="383.5" stroke="#231f20" stroke-width="1.1"/><circle cx="92.20" cy="363.00" r="2.4" fill="#5a2670"/><circle cx="85.40" cy="378.50" r="2.4" fill="#5a2670"/><circle cx="99.20" cy="382.50" r="2.4" fill="#5a2670"/><circle cx="85.40" cy="387.90" r="2.4" fill="#5a2670"/><circle cx="92.50" cy="382.70" r="2.4" fill="#5a2670"/><rect x="118.40" y="272.40" width="5.2" height="5.2" fill="none" stroke="#3d5d9c" stroke-width="1.0"/><rect x="111.10" y="283.00" width="5.2" height="5.2" fill="none" stroke="#3d5d9c" stroke-width="1.0"/><rect x="116.00" y="280.50" width="5.2" height="5.2" fill="none" stroke="#3d5d9c" stroke-width="1.0"/><rect x="120.90" y="281.30" width="5.2" height="5.2" fill="none" stroke="#3d5d9c" stroke-width="1.0"/><rect x="125.50" y="281.60" width="5.2" height="5.2" fill="none" stroke="#3d5d9c" stroke-width="1.0"/><line x1="115.5" y1="282.6" x2="129.5" y2="282.6" stroke="#231f20" stroke-width="1.1"/><line x1="122.5" y1="281.5" x2="122.5" y2="283.8" stroke="#231f20" stroke-width="1.1"/><line x1="119.5" y1="281.5" x2="125.5" y2="281.5" stroke="#231f20" stroke-width="1.1"/><line x1="119.5" y1="283.8" x2="125.5" y2="283.8" stroke="#231f20" stroke-width="1.1"/><circle cx="142.50" cy="401.00" r="2.4" fill="#5a2670"/><circle cx="145.80" cy="399.30" r="2.4" fill="#5a2670"/><circle cx="149.20" cy="401.50" r="2.4" fill="#5a2670"/><circle cx="152.70" cy="400.80" r="2.4" fill="#5a2670"/><circle cx="156.00" cy="402.00" r="2.4" fill="#5a2670"/><polyline points="120.2,264.3 120.2,249.6 149.4,249.6 149.4,377.8" fill="none" stroke="#231f20" stroke-width="1.1"/><text x="134.8" y="249.0" font-size="7.6" text-anchor="middle" font-weight="bold">***</text><text x="50.5" y="413.7" font-size="8.3" textLength="54.3" lengthAdjust="spacingAndGlyphs">B220+ CD43+</text><text x="108.9" y="413.7" font-size="8.3" textLength="52.0" lengthAdjust="spacingAndGlyphs">B220+ CD43-</text><line x1="221.8" y1="267.2" x2="221.8" y2="311.5" stroke="#231f20" stroke-width="1.2"/><line x1="219.0" y1="311.5" x2="224.4" y2="311.5" stroke="#231f20" stroke-width="1.0"/><line x1="221.8" y1="318.8" x2="221.8" y2="404.4" stroke="#231f20" stroke-width="1.2"/><line x1="219.0" y1="318.8" x2="224.4" y2="318.8" stroke="#231f20" stroke-width="1.0"/><line x1="221.20000000000002" y1="403.8" x2="422.5" y2="403.8" stroke="#231f20" stroke-width="1.2"/><line x1="218.60000000000002" y1="403.8" x2="221.8" y2="403.8" stroke="#231f20" stroke-width="1.0"/><text x="216.0" y="406.7" font-size="8.2" text-anchor="end">0</text><line x1="218.60000000000002" y1="369.8" x2="221.8" y2="369.8" stroke="#231f20" stroke-width="1.0"/><text x="216.0" y="372.7" font-size="8.2" text-anchor="end">5</text><line x1="218.60000000000002" y1="335.8" x2="221.8" y2="335.8" stroke="#231f20" stroke-width="1.0"/><text x="216.0" y="338.7" font-size="8.2" text-anchor="end">10</text><line x1="218.60000000000002" y1="311.5" x2="221.8" y2="311.5" stroke="#231f20" stroke-width="1.0"/><text x="216.0" y="314.4" font-size="8.2" text-anchor="end">25</text><line x1="218.60000000000002" y1="290.65" x2="221.8" y2="290.65" stroke="#231f20" stroke-width="1.0"/><text x="216.0" y="293.54999999999995" font-size="8.2" text-anchor="end">30</text><line x1="218.60000000000002" y1="269.8" x2="221.8" y2="269.8" stroke="#231f20" stroke-width="1.0"/><text x="216.0" y="272.7" font-size="8.2" text-anchor="end">35</text><text transform="translate(200.6 383) rotate(-90)" x="0" y="0" font-size="9.9" font-weight="bold" textLength="95" lengthAdjust="spacingAndGlyphs">% of total CD45.1 or 2 BM cells</text><line x1="322.3" y1="267" x2="322.3" y2="403.8" stroke="#231f20" stroke-width="1.2" stroke-dasharray="2.4 2.1"/><circle cx="233.80" cy="274.40" r="2.6" fill="none" stroke="#3d5d9c" stroke-width="1.0"/><text x="239.5" y="276.5" font-size="7.6">CD45.1 WT</text><circle cx="234.00" cy="285.70" r="2.1" fill="#5a2670"/><text x="239.5" y="287.3" font-size="7.6">CD45.2 DPWY</text><line x1="232" y1="403.8" x2="232" y2="406.8" stroke="#231f20" stroke-width="1.0"/><line x1="247.5" y1="403.8" x2="247.5" y2="406.8" stroke="#231f20" stroke-width="1.0"/><line x1="263" y1="403.8" x2="263" y2="406.8" stroke="#231f20" stroke-width="1.0"/><line x1="278.5" y1="403.8" x2="278.5" y2="406.8" stroke="#231f20" stroke-width="1.0"/><line x1="293.5" y1="403.8" x2="293.5" y2="406.8" stroke="#231f20" stroke-width="1.0"/><line x1="309" y1="403.8" x2="309" y2="406.8" stroke="#231f20" stroke-width="1.0"/><line x1="334.5" y1="403.8" x2="334.5" y2="406.8" stroke="#231f20" stroke-width="1.0"/><line x1="350" y1="403.8" x2="350" y2="406.8" stroke="#231f20" stroke-width="1.0"/><line x1="365.7" y1="403.8" x2="365.7" y2="406.8" stroke="#231f20" stroke-width="1.0"/><line x1="381.3" y1="403.8" x2="381.3" y2="406.8" stroke="#231f20" stroke-width="1.0"/><line x1="397" y1="403.8" x2="397" y2="406.8" stroke="#231f20" stroke-width="1.0"/><line x1="412.6" y1="403.8" x2="412.6" y2="406.8" stroke="#231f20" stroke-width="1.0"/><line x1="230.5" y1="413.3" x2="249" y2="413.3" stroke="#231f20" stroke-width="1.0"/><text x="239.75" y="424.0" font-size="8.2" text-anchor="middle">A</text><line x1="261" y1="413.3" x2="280" y2="413.3" stroke="#231f20" stroke-width="1.0"/><text x="270.5" y="424.0" font-size="8.2" text-anchor="middle">B</text><line x1="292" y1="413.3" x2="311" y2="413.3" stroke="#231f20" stroke-width="1.0"/><text x="301.5" y="424.0" font-size="8.2" text-anchor="middle">C</text><line x1="333" y1="413.3" x2="351.8" y2="413.3" stroke="#231f20" stroke-width="1.0"/><text x="342.4" y="424.0" font-size="8.2" text-anchor="middle">D</text><line x1="364.5" y1="413.3" x2="382.5" y2="413.3" stroke="#231f20" stroke-width="1.0"/><text x="373.5" y="424.0" font-size="8.2" text-anchor="middle">E</text><line x1="395" y1="413.3" x2="413.8" y2="413.3" stroke="#231f20" stroke-width="1.0"/><text x="404.4" y="424.0" font-size="8.2" text-anchor="middle">F</text><circle cx="229.50" cy="380.00" r="2.6" fill="none" stroke="#3d5d9c" stroke-width="1.0"/><circle cx="233.90" cy="378.80" r="2.6" fill="none" stroke="#3d5d9c" stroke-width="1.0"/><circle cx="228.30" cy="381.90" r="2.6" fill="none" stroke="#3d5d9c" stroke-width="1.0"/><circle cx="231.40" cy="381.90" r="2.6" fill="none" stroke="#3d5d9c" stroke-width="1.0"/><circle cx="235.10" cy="383.10" r="2.6" fill="none" stroke="#3d5d9c" stroke-width="1.0"/><line x1="227" y1="381" x2="237" y2="381" stroke="#231f20" stroke-width="1.1"/><line x1="232" y1="380" x2="232" y2="382" stroke="#231f20" stroke-width="1.1"/><line x1="229.5" y1="380" x2="234.5" y2="380" stroke="#231f20" stroke-width="1.1"/><line x1="229.5" y1="382" x2="234.5" y2="382" stroke="#231f20" stroke-width="1.1"/><line x1="242.6" y1="360.6" x2="252.6" y2="360.6" stroke="#231f20" stroke-width="1.1"/><line x1="247.6" y1="357.5" x2="247.6" y2="363.8" stroke="#231f20" stroke-width="1.1"/><line x1="244.5" y1="357.5" x2="250.7" y2="357.5" stroke="#231f20" stroke-width="1.1"/><line x1="244.5" y1="363.8" x2="250.7" y2="363.8" stroke="#231f20" stroke-width="1.1"/><circle cx="246.40" cy="353.80" r="2.4" fill="#5a2670"/><circle cx="249.50" cy="356.90" r="2.4" fill="#5a2670"/><circle cx="244.50" cy="358.80" r="2.4" fill="#5a2670"/><circle cx="247.60" cy="359.40" r="2.4" fill="#5a2670"/><circle cx="250.00" cy="358.50" r="2.4" fill="#5a2670"/><circle cx="247.00" cy="373.80" r="2.4" fill="#5a2670"/><polyline points="231.4,369.4 231.4,342.3 247.6,342.3 247.6,346.3" fill="none" stroke="#231f20" stroke-width="1.1"/><text x="239.5" y="341.7" font-size="7.6" text-anchor="middle" font-weight="bold">***</text><circle cx="262.60" cy="376.30" r="2.6" fill="none" stroke="#3d5d9c" stroke-width="1.0"/><circle cx="260.10" cy="382.50" r="2.6" fill="none" stroke="#3d5d9c" stroke-width="1.0"/><circle cx="265.10" cy="386.30" r="2.6" fill="none" stroke="#3d5d9c" stroke-width="1.0"/><circle cx="260.80" cy="391.30" r="2.6" fill="none" stroke="#3d5d9c" stroke-width="1.0"/><circle cx="263.00" cy="384.00" r="2.6" fill="none" stroke="#3d5d9c" stroke-width="1.0"/><line x1="257.6" y1="384.4" x2="267.6" y2="384.4" stroke="#231f20" stroke-width="1.1"/><line x1="262.6" y1="381.3" x2="262.6" y2="386.3" stroke="#231f20" stroke-width="1.1"/><line x1="260.40000000000003" y1="381.3" x2="264.8" y2="381.3" stroke="#231f20" stroke-width="1.1"/><line x1="260.40000000000003" y1="386.3" x2="264.8" y2="386.3" stroke="#231f20" stroke-width="1.1"/><line x1="273.3" y1="386.3" x2="283.3" y2="386.3" stroke="#231f20" stroke-width="1.1"/><line x1="278.3" y1="377.5" x2="278.3" y2="395" stroke="#231f20" stroke-width="1.1"/><line x1="275.8" y1="377.5" x2="280.8" y2="377.5" stroke="#231f20" stroke-width="1.1"/><line x1="275.8" y1="395" x2="280.8" y2="395" stroke="#231f20" stroke-width="1.1"/><circle cx="278.30" cy="352.30" r="2.4" fill="#5a2670"/><circle cx="280.80" cy="390.00" r="2.4" fill="#5a2670"/><circle cx="281.40" cy="396.30" r="2.4" fill="#5a2670"/><circle cx="275.80" cy="398.10" r="2.4" fill="#5a2670"/><circle cx="278.50" cy="396.00" r="2.4" fill="#5a2670"/><circle cx="293.50" cy="388.80" r="2.6" fill="none" stroke="#3d5d9c" stroke-width="1.0"/><circle cx="292.50" cy="393.10" r="2.6" fill="none" stroke="#3d5d9c" stroke-width="1.0"/><circle cx="296.30" cy="394.40" r="2.6" fill="none" stroke="#3d5d9c" stroke-width="1.0"/><circle cx="291.30" cy="398.10" r="2.6" fill="none" stroke="#3d5d9c" stroke-width="1.0"/><circle cx="294.40" cy="398.80" r="2.6" fill="none" stroke="#3d5d9c" stroke-width="1.0"/><line x1="288.8" y1="395" x2="298.8" y2="395" stroke="#231f20" stroke-width="1.1"/><line x1="293.8" y1="393.5" x2="293.8" y2="396.5" stroke="#231f20" stroke-width="1.1"/><line x1="291.3" y1="393.5" x2="296.3" y2="393.5" stroke="#231f20" stroke-width="1.1"/><line x1="291.3" y1="396.5" x2="296.3" y2="396.5" stroke="#231f20" stroke-width="1.1"/><circle cx="306.50" cy="403.40" r="2.5" fill="#5a2670"/><circle cx="308.80" cy="404.20" r="2.5" fill="#5a2670"/><circle cx="311.20" cy="403.40" r="2.5" fill="#5a2670"/><circle cx="309.00" cy="402.80" r="2.5" fill="#5a2670"/><polyline points="293.5,382.5 293.5,379.8 309.6,379.8 309.6,393.5" fill="none" stroke="#231f20" stroke-width="1.1"/><text x="301.55" y="379.2" font-size="7.6" text-anchor="middle" font-weight="bold">***</text><circle cx="337.50" cy="280.50" r="2.6" fill="none" stroke="#3d5d9c" stroke-width="1.0"/><circle cx="332.50" cy="283.30" r="2.6" fill="none" stroke="#3d5d9c" stroke-width="1.0"/><circle cx="337.00" cy="288.70" r="2.6" fill="none" stroke="#3d5d9c" stroke-width="1.0"/><circle cx="332.50" cy="292.50" r="2.6" fill="none" stroke="#3d5d9c" stroke-width="1.0"/><circle cx="334.50" cy="299.30" r="2.6" fill="none" stroke="#3d5d9c" stroke-width="1.0"/><line x1="329.5" y1="289.3" x2="340.5" y2="289.3" stroke="#231f20" stroke-width="1.1"/><line x1="335" y1="286" x2="335" y2="292" stroke="#231f20" stroke-width="1.1"/><line x1="332" y1="286" x2="338" y2="286" stroke="#231f20" stroke-width="1.1"/><line x1="332" y1="292" x2="338" y2="292" stroke="#231f20" stroke-width="1.1"/><circle cx="350.00" cy="390.00" r="2.4" fill="#5a2670"/><circle cx="348.50" cy="395.40" r="2.4" fill="#5a2670"/><circle cx="352.30" cy="396.20" r="2.4" fill="#5a2670"/><circle cx="347.70" cy="398.50" r="2.4" fill="#5a2670"/><circle cx="351.50" cy="398.50" r="2.4" fill="#5a2670"/><polyline points="334.5,275 334.5,271.3 350,271.3 350,384.6" fill="none" stroke="#231f20" stroke-width="1.1"/><text x="342.25" y="270.7" font-size="7.6" text-anchor="middle" font-weight="bold">***</text><line x1="359.5" y1="330.8" x2="372.5" y2="330.8" stroke="#231f20" stroke-width="1.1"/><line x1="366" y1="328.5" x2="366" y2="333" stroke="#231f20" stroke-width="1.1"/><line x1="363" y1="328.5" x2="369" y2="328.5" stroke="#231f20" stroke-width="1.1"/><line x1="363" y1="333" x2="369" y2="333" stroke="#231f20" stroke-width="1.1"/><circle cx="363.30" cy="324.30" r="2.4" fill="#5a2670"/><circle cx="368.30" cy="326.30" r="2.4" fill="#5a2670"/><circle cx="363.30" cy="330.80" r="2.4" fill="#5a2670"/><circle cx="368.30" cy="335.00" r="2.4" fill="#5a2670"/><circle cx="363.30" cy="338.30" r="2.4" fill="#5a2670"/><circle cx="378.50" cy="403.80" r="2.4" fill="none" stroke="#3d5d9c" stroke-width="1.0"/><circle cx="381.00" cy="403.80" r="2.4" fill="none" stroke="#3d5d9c" stroke-width="1.0"/><circle cx="383.70" cy="403.80" r="2.4" fill="none" stroke="#3d5d9c" stroke-width="1.0"/><line x1="375.5" y1="403.8" x2="386.5" y2="403.8" stroke="#231f20" stroke-width="1.0"/><polyline points="365.5,318.7 365.5,315 381.8,315 381.8,394.6" fill="none" stroke="#231f20" stroke-width="1.1"/><text x="373.65" y="314.4" font-size="7.6" text-anchor="middle" font-weight="bold">***</text><circle cx="397.00" cy="383.00" r="2.6" fill="none" stroke="#3d5d9c" stroke-width="1.0"/><circle cx="394.60" cy="387.70" r="2.6" fill="none" stroke="#3d5d9c" stroke-width="1.0"/><circle cx="399.20" cy="386.20" r="2.6" fill="none" stroke="#3d5d9c" stroke-width="1.0"/><circle cx="396.50" cy="385.50" r="2.6" fill="none" stroke="#3d5d9c" stroke-width="1.0"/><circle cx="393.80" cy="385.00" r="2.6" fill="none" stroke="#3d5d9c" stroke-width="1.0"/><line x1="391.5" y1="385.4" x2="401.5" y2="385.4" stroke="#231f20" stroke-width="1.1"/><line x1="396.5" y1="384.5" x2="396.5" y2="386.5" stroke="#231f20" stroke-width="1.1"/><line x1="394.0" y1="384.5" x2="399.0" y2="384.5" stroke="#231f20" stroke-width="1.1"/><line x1="394.0" y1="386.5" x2="399.0" y2="386.5" stroke="#231f20" stroke-width="1.1"/><circle cx="410.00" cy="403.80" r="2.4" fill="#5a2670"/><circle cx="412.00" cy="403.80" r="2.4" fill="#5a2670"/><circle cx="414.00" cy="403.80" r="2.4" fill="#5a2670"/><polyline points="397.2,373 397.2,370 413,370 413,393" fill="none" stroke="#231f20" stroke-width="1.1"/><text x="405.1" y="369.4" font-size="7.6" text-anchor="middle" font-weight="bold">***</text><line x1="49.2" y1="466" x2="49.2" y2="628.2" stroke="#7a7a7a" stroke-width="1.5"/><polygon points="47.0,468 49.2,462.5 51.400000000000006,468" fill="#231f20"/><line x1="48.45" y1="628" x2="134.3" y2="628" stroke="#7a7a7a" stroke-width="1.5"/><polygon points="132.3,625.8 137.8,628 132.3,630.2" fill="#231f20"/><rect x="55.5" y="544.2" width="75.8" height="3.2" fill="#6a6a6a"/><text x="67" y="465.1" font-size="8.4">B220<tspan font-size="6.5" dy="-3">+</tspan><tspan dy="3"> CD43</tspan><tspan font-size="6.5" dy="-3">+</tspan></text><text x="25" y="510.2" font-size="10">LMC</text><text x="16.2" y="587.2" font-size="10">DPWY</text><text transform="translate(43.1 556.1) rotate(-90)" x="0" y="0" font-size="10.3" font-weight="bold" textLength="15.5" lengthAdjust="spacingAndGlyphs">CD24</text><text x="83.0" y="639.3" font-size="10.3" font-weight="bold" textLength="13.2" lengthAdjust="spacingAndGlyphs">Ly51</text><path d="M76.2 486.8h0.55M89.9 485.0h0.55M88.4 484.5h0.55M89.8 489.5h0.55M81.9 486.3h0.55M82.4 481.9h0.55M83.6 489.8h0.55M100.5 487.7h0.55M85.9 494.1h0.55M106.1 487.8h0.55M98.8 493.4h0.55M93.2 486.1h0.55M77.9 491.4h0.55M112.4 488.8h0.55M104.3 495.8h0.55M74.6 487.4h0.55M103.7 492.7h0.55M93.6 489.4h0.55M94.4 487.3h0.55M114.2 485.6h0.55M68.8 489.9h0.55M103.0 487.8h0.55M87.2 486.0h0.55M87.0 486.0h0.55M77.2 484.5h0.55M82.0 495.7h0.55M87.2 490.1h0.55M111.4 487.3h0.55M77.3 491.2h0.55M74.8 490.6h0.55M100.0 485.8h0.55M82.3 495.1h0.55M76.6 487.1h0.55M90.3 488.4h0.55M78.8 494.8h0.55M81.6 490.5h0.55M83.4 488.7h0.55M73.3 492.6h0.55M83.2 493.7h0.55M75.5 487.8h0.55M92.8 489.8h0.55M80.8 489.0h0.55M74.1 489.6h0.55M59.7 490.0h0.55M102.1 492.4h0.55M96.8 488.0h0.55M93.0 488.1h0.55M86.8 489.1h0.55M92.6 492.3h0.55M77.7 491.8h0.55M92.9 481.9h0.55M69.1 489.6h0.55M80.8 489.4h0.55M81.0 494.5h0.55M67.7 484.8h0.55M77.4 484.8h0.55M81.7 489.3h0.55M73.6 490.7h0.55M101.7 493.1h0.55M109.0 493.3h0.55M87.5 495.4h0.55M95.3 495.8h0.55M85.8 482.4h0.55M75.5 490.1h0.55M93.7 488.8h0.55M98.5 485.6h0.55M80.4 492.8h0.55M88.4 489.8h0.55M102.8 493.2h0.55M79.5 490.1h0.55M69.9 489.4h0.55M92.1 483.6h0.55M104.5 496.2h0.55M93.2 492.6h0.55M103.9 488.9h0.55M99.0 490.8h0.55M71.8 486.5h0.55M82.0 493.1h0.55M89.0 492.8h0.55M83.0 485.2h0.55M109.9 498.7h0.55M92.1 488.8h0.55M100.6 485.8h0.55M85.8 484.7h0.55M93.1 490.3h0.55M83.8 487.3h0.55M71.9 486.7h0.55M101.1 488.3h0.55M101.4 486.6h0.55M87.2 488.0h0.55M85.3 492.1h0.55M66.3 492.0h0.55M95.4 489.5h0.55M88.8 488.8h0.55M95.4 489.7h0.55M79.1 490.0h0.55M98.1 490.8h0.55M88.3 490.2h0.55M82.8 488.0h0.55M68.1 488.9h0.55M98.4 488.2h0.55M78.5 492.5h0.55M89.8 490.0h0.55M93.0 491.9h0.55M87.6 486.7h0.55M106.4 489.7h0.55M79.9 490.1h0.55M100.6 484.8h0.55M101.8 489.1h0.55M109.1 491.7h0.55M86.9 493.7h0.55M101.4 488.3h0.55M90.5 487.8h0.55M97.7 484.8h0.55M86.2 482.4h0.55M94.2 482.1h0.55M76.9 490.4h0.55M84.3 488.0h0.55M77.9 488.0h0.55M69.6 490.6h0.55M96.5 492.1h0.55M87.7 493.6h0.55M92.9 492.7h0.55M92.2 489.6h0.55M80.1 480.7h0.55M94.8 489.1h0.55M108.9 482.9h0.55M96.9 486.4h0.55M88.0 486.6h0.55M91.7 489.4h0.55M97.2 490.0h0.55M93.1 493.8h0.55M93.5 489.1h0.55M101.0 489.1h0.55M92.3 488.4h0.55M81.1 479.5h0.55M95.3 485.7h0.55M95.8 495.5h0.55M74.3 492.4h0.55M87.1 491.0h0.55M75.6 489.6h0.55M89.7 494.3h0.55M110.5 490.6h0.55M84.3 496.9h0.55M87.0 489.3h0.55M89.2 491.1h0.55M95.5 487.6h0.55M87.0 495.8h0.55M104.9 491.0h0.55M91.0 488.8h0.55M98.9 487.8h0.55M89.4 488.0h0.55M81.6 489.7h0.55M88.2 487.6h0.55M87.5 489.8h0.55M83.3 487.4h0.55M86.7 491.9h0.55M99.7 490.2h0.55M85.3 489.5h0.55M108.2 492.6h0.55M78.2 489.4h0.55M82.6 488.3h0.55M70.6 489.6h0.55M74.0 487.6h0.55M104.0 492.9h0.55M79.1 486.1h0.55M78.7 483.3h0.55M77.9 488.7h0.55M77.2 492.1h0.55M87.7 487.8h0.55M106.5 491.9h0.55M88.9 495.7h0.55M102.0 487.2h0.55M91.6 488.1h0.55M73.2 495.9h0.55M103.9 485.3h0.55M93.4 484.1h0.55M99.5 489.4h0.55M85.2 493.8h0.55M88.3 488.7h0.55M97.8 488.6h0.55M97.4 489.6h0.55M96.9 491.7h0.55M96.5 486.2h0.55M108.0 489.0h0.55M106.7 487.6h0.55M85.3 488.7h0.55M100.4 488.1h0.55M92.6 484.3h0.55M83.2 490.3h0.55M87.1 483.3h0.55M93.5 486.3h0.55M108.7 488.9h0.55M112.1 491.8h0.55M93.1 488.0h0.55M87.0 491.1h0.55M67.6 492.9h0.55M75.8 488.7h0.55M59.3 491.1h0.55M96.1 490.5h0.55M91.6 488.3h0.55M89.8 493.6h0.55M83.7 491.3h0.55M95.9 488.8h0.55M90.7 490.3h0.55M82.9 497.8h0.55M83.6 495.3h0.55M99.6 482.7h0.55M90.9 493.1h0.55M96.9 486.5h0.55M91.0 485.5h0.55M77.1 488.8h0.55M90.2 495.0h0.55M92.0 493.2h0.55M75.4 485.6h0.55M83.0 495.5h0.55M73.9 484.2h0.55M87.4 493.6h0.55M70.8 488.7h0.55M73.7 494.5h0.55M95.6 490.5h0.55M87.7 488.8h0.55M89.6 487.4h0.55M78.7 485.8h0.55M88.3 486.8h0.55M97.5 482.4h0.55M94.2 491.4h0.55M101.1 488.7h0.55M72.1 486.4h0.55M100.2 488.5h0.55M83.7 487.6h0.55M87.4 488.8h0.55M71.5 487.5h0.55M98.9 494.5h0.55M86.8 487.8h0.55M102.6 488.9h0.55M75.5 489.1h0.55M95.6 494.8h0.55M82.9 491.4h0.55M84.6 493.4h0.55M90.9 490.4h0.55M77.6 488.4h0.55M84.6 477.3h0.55M97.3 489.5h0.55M85.9 488.3h0.55M88.4 490.4h0.55M74.1 490.0h0.55M89.3 489.6h0.55M72.2 489.1h0.55M74.4 490.7h0.55M102.2 492.5h0.55M84.5 487.7h0.55M82.0 490.7h0.55M81.0 487.7h0.55M61.3 486.6h0.55M79.7 487.7h0.55M101.1 484.9h0.55M73.9 491.6h0.55M77.6 489.0h0.55M89.9 489.6h0.55M79.8 492.6h0.55M104.1 486.1h0.55M85.2 492.7h0.55M85.8 486.1h0.55M83.5 492.4h0.55M77.4 490.4h0.55M92.1 487.3h0.55M94.1 491.8h0.55M98.7 492.7h0.55M72.1 492.6h0.55M94.3 492.8h0.55M79.0 492.6h0.55M92.0 485.6h0.55M101.7 486.9h0.55M77.2 490.9h0.55M81.6 490.8h0.55M85.5 490.5h0.55M96.8 489.4h0.55M97.4 492.4h0.55M79.1 492.4h0.55M94.7 490.0h0.55M100.0 495.2h0.55M96.2 484.5h0.55M92.9 489.1h0.55M85.2 490.7h0.55M84.6 495.1h0.55M91.1 489.6h0.55M96.5 492.3h0.55M100.8 491.7h0.55M87.8 490.0h0.55M65.1 484.6h0.55M99.2 488.4h0.55M107.5 495.7h0.55M74.8 490.6h0.55M119.0 486.9h0.55M92.4 488.8h0.55M85.6 488.6h0.55M88.0 492.1h0.55M79.6 491.3h0.55M80.6 491.3h0.55M91.6 486.9h0.55M89.7 487.1h0.55M79.2 493.5h0.55M68.8 491.5h0.55M95.7 487.5h0.55M99.8 492.6h0.55M74.4 491.3h0.55M93.2 487.1h0.55M94.3 492.1h0.55M80.5 482.8h0.55M92.5 487.0h0.55M69.8 488.3h0.55M62.8 488.4h0.55M104.2 479.9h0.55M93.1 486.4h0.55M83.8 486.5h0.55M95.0 489.5h0.55M79.8 485.1h0.55M83.6 493.5h0.55M75.2 491.0h0.55M91.8 482.8h0.55M100.0 489.4h0.55M112.1 495.5h0.55M85.5 489.0h0.55M77.4 484.9h0.55M96.7 488.7h0.55M83.9 489.0h0.55M95.5 492.8h0.55M88.2 488.9h0.55M89.3 496.6h0.55M65.9 485.6h0.55M93.3 490.1h0.55M101.4 494.1h0.55M109.5 486.8h0.55M94.8 488.8h0.55M98.7 490.2h0.55M97.8 487.0h0.55M90.0 487.8h0.55M85.4 488.0h0.55M77.2 493.4h0.55M91.4 493.3h0.55M77.5 482.9h0.55M81.3 489.1h0.55M96.8 493.2h0.55M101.4 494.9h0.55M96.1 490.0h0.55M80.0 491.9h0.55M82.9 486.8h0.55M94.6 490.3h0.55M97.5 487.1h0.55M100.9 490.8h0.55M86.5 487.0h0.55M76.7 484.9h0.55M103.4 484.7h0.55M95.1 488.7h0.55M82.1 488.0h0.55M87.2 492.7h0.55M94.4 489.6h0.55M73.5 483.5h0.55M108.4 486.1h0.55M71.3 493.4h0.55M72.1 492.1h0.55M98.3 490.4h0.55M98.7 484.8h0.55M75.1 488.9h0.55M88.2 489.3h0.55M93.3 487.0h0.55M65.2 491.0h0.55M85.8 492.4h0.55M110.7 489.9h0.55M94.5 486.5h0.55M98.1 490.7h0.55M90.9 492.7h0.55M76.0 491.5h0.55M93.2 495.0h0.55M68.7 489.3h0.55M111.9 488.2h0.55M83.5 495.7h0.55M115.3 490.0h0.55M80.5 487.5h0.55M84.0 486.7h0.55M79.5 490.2h0.55M88.6 491.2h0.55M88.5 485.4h0.55M96.2 490.4h0.55M81.9 488.6h0.55M91.7 489.8h0.55M86.8 492.2h0.55M99.7 488.5h0.55M88.0 485.8h0.55M86.4 491.2h0.55M97.5 490.1h0.55M87.3 487.1h0.55M90.5 485.8h0.55M89.6 489.6h0.55M78.4 490.7h0.55M85.9 491.6h0.55M83.0 491.2h0.55M105.1 490.2h0.55M96.7 487.4h0.55M84.4 483.1h0.55M86.6 485.7h0.55M89.4 482.5h0.55M78.9 489.8h0.55M92.4 483.9h0.55M83.7 498.3h0.55M96.7 490.1h0.55M58.5 486.4h0.55M93.8 490.4h0.55M93.1 492.8h0.55M89.2 492.5h0.55M68.9 498.1h0.55M85.0 487.3h0.55M104.3 491.6h0.55M98.6 487.4h0.55M91.2 492.0h0.55M75.9 488.8h0.55M85.5 488.5h0.55M80.6 485.2h0.55M92.8 490.4h0.55M100.6 489.3h0.55M80.9 484.6h0.55M89.0 488.5h0.55M109.8 497.4h0.55M105.1 486.4h0.55M73.1 488.7h0.55M78.5 494.4h0.55M89.4 488.1h0.55M88.0 493.8h0.55M77.9 491.2h0.55M73.9 488.8h0.55M81.0 490.6h0.55M89.8 493.6h0.55M95.5 487.5h0.55M73.8 486.7h0.55M83.5 488.7h0.55M79.9 493.2h0.55M98.1 488.6h0.55M82.7 488.7h0.55M87.6 489.4h0.55M70.7 488.0h0.55M67.9 489.6h0.55M95.3 485.9h0.55M89.8 487.4h0.55M80.6 496.2h0.55M97.7 491.2h0.55M83.4 490.9h0.55M86.0 491.1h0.55M78.4 489.3h0.55M83.8 484.7h0.55M106.3 492.3h0.55M79.5 484.5h0.55M80.2 486.6h0.55M81.5 484.3h0.55M79.1 489.7h0.55M92.5 482.7h0.55M88.0 486.1h0.55M76.8 488.4h0.55M80.6 491.9h0.55M95.6 488.5h0.55M81.1 495.7h0.55M108.2 490.8h0.55M86.4 493.0h0.55M103.7 487.7h0.55M107.5 489.0h0.55M99.8 487.7h0.55M88.8 487.9h0.55M88.3 493.0h0.55M78.3 488.5h0.55M93.9 487.9h0.55M110.1 484.5h0.55M115.5 487.2h0.55M98.6 495.1h0.55M93.8 484.6h0.55M84.4 489.7h0.55M94.2 492.9h0.55M100.2 494.6h0.55M77.7 492.9h0.55M69.1 490.0h0.55M76.4 483.3h0.55M98.0 489.4h0.55M98.8 484.0h0.55M74.8 489.2h0.55M80.8 489.8h0.55M81.2 488.3h0.55M75.6 494.0h0.55M84.5 485.4h0.55M95.4 491.2h0.55M90.4 490.3h0.55M83.7 489.1h0.55M63.9 484.1h0.55M74.6 490.5h0.55M101.3 488.9h0.55M85.1 493.4h0.55M84.0 491.8h0.55M92.7 484.9h0.55M91.5 490.2h0.55M75.5 485.9h0.55M74.1 494.3h0.55M111.1 492.0h0.55M105.2 484.8h0.55M103.4 496.4h0.55M105.7 486.2h0.55M99.9 489.1h0.55M99.8 487.3h0.55M88.2 487.5h0.55M93.2 489.2h0.55M100.2 492.4h0.55M92.6 489.4h0.55M84.7 489.5h0.55M96.2 490.0h0.55M91.2 489.4h0.55M87.2 487.2h0.55M67.5 491.5h0.55M94.2 486.1h0.55M109.0 485.4h0.55M99.0 490.4h0.55M91.5 493.5h0.55M98.1 489.6h0.55M76.4 485.3h0.55M90.1 495.0h0.55M97.7 489.4h0.55M91.7 491.9h0.55M106.9 486.9h0.55M96.0 490.5h0.55M79.7 486.0h0.55M102.0 490.7h0.55M85.7 489.9h0.55M98.8 489.8h0.55M105.7 488.6h0.55M79.4 489.1h0.55M77.8 488.3h0.55M101.5 495.5h0.55M95.0 490.2h0.55M78.1 486.0h0.55M92.1 490.1h0.55M81.7 488.0h0.55M105.2 493.0h0.55M88.6 490.3h0.55M102.1 490.8h0.55M90.7 484.0h0.55M69.5 482.8h0.55M63.3 489.5h0.55M91.7 486.5h0.55M92.9 491.1h0.55M87.2 484.4h0.55M103.9 494.3h0.55M81.7 496.3h0.55M88.6 486.8h0.55M83.6 483.0h0.55M84.2 483.9h0.55M100.5 490.6h0.55M72.8 491.5h0.55M69.2 490.1h0.55M93.3 489.8h0.55M75.7 489.1h0.55M86.0 489.7h0.55M104.4 495.4h0.55M105.4 487.3h0.55M79.8 489.6h0.55M92.8 482.3h0.55M81.3 495.8h0.55M74.4 486.9h0.55M80.3 491.2h0.55M87.3 488.4h0.55M71.3 491.6h0.55M88.1 487.2h0.55M88.3 492.3h0.55M71.8 484.1h0.55M76.8 486.4h0.55M100.3 488.3h0.55M99.2 479.4h0.55M86.8 494.4h0.55M105.3 487.8h0.55M78.9 490.8h0.55M74.6 488.2h0.55M69.6 489.8h0.55M88.1 495.2h0.55M91.9 487.2h0.55M87.0 485.0h0.55M88.4 488.7h0.55M92.6 492.8h0.55M66.0 490.6h0.55M96.1 485.3h0.55M108.9 487.0h0.55M115.1 492.3h0.55M98.7 490.4h0.55M99.1 485.9h0.55M79.1 482.6h0.55M94.0 487.0h0.55M96.3 491.6h0.55M73.2 492.0h0.55M90.9 490.2h0.55M93.1 489.4h0.55M88.1 493.2h0.55M77.0 485.3h0.55M79.6 493.1h0.55M84.4 496.2h0.55M77.6 487.9h0.55M90.8 490.8h0.55M99.7 489.4h0.55M87.9 492.5h0.55M100.8 482.3h0.55M95.9 490.9h0.55M88.8 488.6h0.55M94.4 490.1h0.55M91.8 486.5h0.55M94.4 488.0h0.55M93.4 488.2h0.55M94.0 492.2h0.55M94.2 492.0h0.55M86.0 491.4h0.55M94.4 488.1h0.55M92.2 481.6h0.55M93.4 488.8h0.55M81.6 491.5h0.55M89.8 490.8h0.55M91.8 491.4h0.55M93.4 489.1h0.55M95.5 492.5h0.55M81.6 490.1h0.55M90.0 486.7h0.55M99.5 492.9h0.55M87.8 486.6h0.55M97.1 488.1h0.55M91.3 484.1h0.55M92.3 493.4h0.55M90.7 489.6h0.55M101.7 492.6h0.55M100.1 491.9h0.55M99.0 485.0h0.55M88.9 485.0h0.55M104.1 490.5h0.55M92.3 487.7h0.55M87.9 481.6h0.55M104.2 489.7h0.55M93.3 485.8h0.55M92.7 491.1h0.55M92.6 491.8h0.55M88.8 490.9h0.55M97.4 491.7h0.55M94.9 489.7h0.55M88.0 491.6h0.55M91.0 487.1h0.55M96.8 485.1h0.55M90.2 492.3h0.55M97.7 488.9h0.55M93.3 491.6h0.55M92.6 487.7h0.55M95.1 490.5h0.55M93.5 493.3h0.55M94.5 488.6h0.55M93.8 495.8h0.55M89.4 489.2h0.55M89.0 491.0h0.55M86.6 491.3h0.55M96.8 487.7h0.55M88.7 485.5h0.55M93.2 486.6h0.55M89.8 488.7h0.55M89.5 492.5h0.55M100.9 483.6h0.55M88.9 490.7h0.55M87.7 488.4h0.55M94.0 494.2h0.55M98.8 489.1h0.55M93.6 488.9h0.55M92.1 486.5h0.55M84.1 488.9h0.55M97.9 492.3h0.55M83.6 489.4h0.55M89.8 490.8h0.55M87.5 492.7h0.55M91.9 491.7h0.55M97.4 484.2h0.55M91.9 494.5h0.55M93.1 493.1h0.55M95.1 488.5h0.55M94.4 493.1h0.55M99.4 494.3h0.55M87.4 492.5h0.55M86.1 489.6h0.55M91.9 491.9h0.55M94.6 493.7h0.55M89.9 492.5h0.55M94.9 490.0h0.55M87.0 491.7h0.55M94.6 492.3h0.55M92.8 489.2h0.55M94.9 491.4h0.55M96.4 495.7h0.55M89.9 496.0h0.55M78.2 492.9h0.55M88.9 496.0h0.55M88.6 493.2h0.55M88.0 486.6h0.55M97.0 492.6h0.55M89.5 497.2h0.55M91.4 494.7h0.55M87.9 487.1h0.55M93.4 487.0h0.55M95.3 483.6h0.55M93.9 488.3h0.55M88.2 490.6h0.55M91.9 488.6h0.55M97.0 490.9h0.55M94.9 494.0h0.55M92.6 492.5h0.55M90.9 491.8h0.55M95.6 488.4h0.55M85.4 486.2h0.55M88.3 491.7h0.55M92.3 489.1h0.55M95.4 492.2h0.55M99.9 488.2h0.55M95.7 492.1h0.55M88.3 490.4h0.55M88.4 489.3h0.55M95.1 484.9h0.55M88.6 487.6h0.55M93.4 487.8h0.55M94.8 487.4h0.55M90.4 491.8h0.55M94.6 490.4h0.55M92.8 493.0h0.55M99.8 488.9h0.55M89.4 486.9h0.55M101.6 487.3h0.55M86.4 490.8h0.55M98.2 486.3h0.55M92.4 485.7h0.55M89.5 494.8h0.55M93.8 489.2h0.55M93.3 490.8h0.55M92.5 486.5h0.55M87.1 496.0h0.55M89.2 493.6h0.55M89.4 493.9h0.55M96.5 489.4h0.55M103.0 487.2h0.55M91.8 487.4h0.55M89.1 488.9h0.55M88.2 489.0h0.55M100.8 484.8h0.55M86.8 487.2h0.55M90.7 493.0h0.55M96.6 491.4h0.55M94.0 497.1h0.55M87.4 486.6h0.55M92.9 490.6h0.55M91.8 487.5h0.55M86.5 489.2h0.55M89.5 488.6h0.55M87.6 494.0h0.55M95.2 495.5h0.55M90.4 490.2h0.55M91.8 490.1h0.55M91.7 489.5h0.55M83.2 489.2h0.55M96.4 484.2h0.55M91.3 491.7h0.55M99.3 489.7h0.55M95.3 495.2h0.55M99.4 488.7h0.55M90.0 493.0h0.55M94.1 488.4h0.55M91.8 490.9h0.55M92.0 489.2h0.55M91.8 485.6h0.55M101.6 493.6h0.55M100.5 489.6h0.55M93.6 491.7h0.55M97.1 484.6h0.55M94.8 487.0h0.55M92.6 488.0h0.55M101.5 491.6h0.55M92.9 494.1h0.55M92.6 487.8h0.55M92.1 488.9h0.55M93.2 492.5h0.55M92.4 489.8h0.55M98.0 490.9h0.55M97.7 490.4h0.55M86.5 486.7h0.55M84.8 493.4h0.55M95.1 488.6h0.55M88.1 491.1h0.55M92.3 491.0h0.55M88.8 486.7h0.55M100.8 487.2h0.55M92.9 494.0h0.55M83.9 492.1h0.55M93.3 489.6h0.55M94.3 486.5h0.55M82.0 495.6h0.55M91.6 492.6h0.55M98.5 490.9h0.55M95.3 492.1h0.55M100.8 491.5h0.55M99.2 489.1h0.55M90.9 490.3h0.55M95.0 491.6h0.55M102.6 492.5h0.55M93.3 495.9h0.55M94.6 491.1h0.55M95.4 489.0h0.55M87.6 490.4h0.55M91.5 487.4h0.55M93.6 489.4h0.55M90.1 484.7h0.55M92.2 495.2h0.55M97.4 493.2h0.55M92.9 493.1h0.55M89.7 488.7h0.55M95.6 485.8h0.55M93.3 490.9h0.55M101.4 487.9h0.55M95.1 488.1h0.55M90.3 482.0h0.55M88.4 493.4h0.55M95.6 490.5h0.55M105.2 491.6h0.55M86.9 489.4h0.55M92.7 494.8h0.55M88.6 491.3h0.55M97.9 487.6h0.55M93.5 484.0h0.55M93.5 483.5h0.55M91.1 495.1h0.55M95.0 490.2h0.55M93.8 496.4h0.55M95.8 493.1h0.55M90.9 488.7h0.55M87.9 489.5h0.55M89.6 492.9h0.55M96.2 489.7h0.55M90.3 481.4h0.55M90.1 490.9h0.55M96.3 480.9h0.55M81.2 490.5h0.55M87.9 489.4h0.55M90.7 491.8h0.55M83.8 488.3h0.55M97.7 490.6h0.55M88.9 491.4h0.55M94.4 487.4h0.55M96.4 492.0h0.55M92.4 492.8h0.55M87.2 492.3h0.55M92.1 487.2h0.55M90.1 493.5h0.55M90.3 489.0h0.55M89.8 487.7h0.55M97.8 496.6h0.55M99.6 491.5h0.55M96.8 489.0h0.55M90.6 486.5h0.55M100.1 489.0h0.55M89.5 488.1h0.55M94.0 488.4h0.55M93.1 490.5h0.55M99.6 486.3h0.55M94.5 488.0h0.55M90.9 494.8h0.55M96.1 488.9h0.55M95.5 490.0h0.55M98.5 488.6h0.55M95.5 489.4h0.55M93.1 489.6h0.55M90.0 490.3h0.55M97.9 488.2h0.55M91.1 491.1h0.55M89.3 492.6h0.55M96.5 483.2h0.55M89.8 486.8h0.55M97.1 492.8h0.55M87.1 488.0h0.55M92.6 488.9h0.55M96.6 492.9h0.55M96.0 493.3h0.55M97.7 489.8h0.55M90.9 487.8h0.55M97.1 492.7h0.55M98.1 489.1h0.55M91.1 490.8h0.55M99.2 491.1h0.55M94.2 487.6h0.55M95.2 491.6h0.55M88.4 495.2h0.55M88.5 492.8h0.55M92.1 490.5h0.55M89.2 488.4h0.55M96.5 489.5h0.55M91.4 492.7h0.55M96.6 490.5h0.55M94.2 495.1h0.55M92.2 491.2h0.55M95.2 485.9h0.55M83.6 490.4h0.55M97.3 490.6h0.55M90.4 488.1h0.55M97.1 489.2h0.55M85.1 492.1h0.55M94.2 491.2h0.55M98.2 494.0h0.55M95.8 489.5h0.55M82.7 490.9h0.55M92.3 493.9h0.55M99.4 491.4h0.55M99.8 489.8h0.55M92.9 487.5h0.55M91.5 490.7h0.55M98.3 487.9h0.55M97.0 497.0h0.55M86.4 489.3h0.55M93.2 493.0h0.55M102.9 493.7h0.55M92.9 487.5h0.55M92.8 489.9h0.55M94.3 487.4h0.55M100.6 487.9h0.55M96.4 490.7h0.55M87.7 490.2h0.55M93.2 489.5h0.55M97.0 488.6h0.55M105.6 493.4h0.55M88.5 482.7h0.55M99.2 490.8h0.55M93.5 487.1h0.55M85.9 484.5h0.55M105.7 494.8h0.55M90.3 495.6h0.55M83.9 492.1h0.55M96.5 487.5h0.55M90.8 486.9h0.55M93.2 493.9h0.55M98.0 491.3h0.55M98.6 484.7h0.55M103.0 489.9h0.55M86.5 488.9h0.55M89.8 490.3h0.55M94.6 483.1h0.55M99.3 495.2h0.55M87.9 494.4h0.55M99.3 493.0h0.55M101.1 485.9h0.55M96.6 487.0h0.55M104.8 487.1h0.55M65.3 493.9h0.55M80.0 490.1h0.55M76.1 492.1h0.55M88.8 487.5h0.55M70.6 488.0h0.55M74.4 490.1h0.55M64.8 491.1h0.55M64.9 488.9h0.55M73.0 489.2h0.55M86.8 495.7h0.55M83.6 495.5h0.55M72.7 494.9h0.55M74.6 490.8h0.55M77.2 485.3h0.55M70.1 489.4h0.55M77.9 489.6h0.55M68.2 486.0h0.55M75.1 485.9h0.55M65.6 489.6h0.55M76.4 487.1h0.55M60.8 491.0h0.55M81.5 488.6h0.55M72.0 481.9h0.55M82.2 486.2h0.55M80.8 487.9h0.55M73.9 489.3h0.55M60.6 499.6h0.55M62.5 490.4h0.55M68.5 489.2h0.55M86.0 483.5h0.55M73.9 491.7h0.55M76.0 491.4h0.55M69.0 484.3h0.55M64.5 488.6h0.55M80.9 490.3h0.55M87.8 490.4h0.55M76.5 490.7h0.55M61.1 492.0h0.55M66.1 488.7h0.55M93.7 485.7h0.55M75.9 491.0h0.55M76.0 490.0h0.55M70.5 497.0h0.55M59.0 486.4h0.55M86.9 491.9h0.55M68.9 486.9h0.55M73.0 499.2h0.55M78.9 486.4h0.55M76.9 487.8h0.55M87.0 491.0h0.55M85.1 490.6h0.55M91.3 491.4h0.55M77.2 486.4h0.55M71.6 491.4h0.55M71.0 498.7h0.55M74.9 487.3h0.55M82.9 488.1h0.55M78.3 489.7h0.55M69.2 494.9h0.55M75.7 493.8h0.55M72.3 485.0h0.55M65.1 488.2h0.55M73.5 490.2h0.55M79.1 485.7h0.55M76.8 485.7h0.55M69.5 499.0h0.55M85.2 488.7h0.55M89.3 495.0h0.55M82.1 495.1h0.55M73.0 489.6h0.55M68.1 492.0h0.55M65.0 488.2h0.55M78.7 488.2h0.55M77.8 496.4h0.55M67.1 494.9h0.55M69.5 486.7h0.55M76.8 493.6h0.55M69.3 487.4h0.55M71.5 487.5h0.55M76.5 487.5h0.55M73.0 491.2h0.55M71.7 494.0h0.55M69.6 487.3h0.55M91.3 495.3h0.55M75.6 492.9h0.55M77.7 488.2h0.55M80.4 491.1h0.55M85.3 483.5h0.55M81.5 490.6h0.55M69.5 488.5h0.55M71.8 485.4h0.55M70.4 492.7h0.55M62.9 488.7h0.55M78.1 489.8h0.55M75.4 486.1h0.55M79.6 486.8h0.55M82.3 490.7h0.55M71.9 495.2h0.55M71.8 493.6h0.55M75.8 490.0h0.55M83.0 491.5h0.55M74.9 489.6h0.55M76.7 490.3h0.55M72.4 486.4h0.55M73.1 494.3h0.55M78.6 494.0h0.55M88.9 489.6h0.55M68.3 492.9h0.55M70.2 489.1h0.55M86.5 491.9h0.55M83.8 485.3h0.55M75.3 493.9h0.55M64.8 490.7h0.55M78.2 481.9h0.55M87.8 487.5h0.55M73.9 495.9h0.55M60.7 491.6h0.55M71.4 490.2h0.55M68.5 494.8h0.55M66.1 491.3h0.55M79.4 489.7h0.55M72.8 489.1h0.55M83.2 491.6h0.55M74.4 486.2h0.55M76.3 491.9h0.55M74.8 495.0h0.55M59.7 498.7h0.55M73.6 486.0h0.55M61.1 493.0h0.55M79.6 489.3h0.55M74.6 490.6h0.55M71.6 494.1h0.55M80.0 489.6h0.55M61.9 494.8h0.55M71.2 486.4h0.55M85.4 491.8h0.55M58.9 484.2h0.55M71.9 485.6h0.55M73.8 499.2h0.55M98.9 489.9h0.55M81.5 493.1h0.55M74.1 484.9h0.55M83.7 489.4h0.55M78.7 492.5h0.55M68.6 495.9h0.55M75.7 490.8h0.55M71.6 492.5h0.55M83.2 488.1h0.55M79.8 488.5h0.55M65.2 488.9h0.55M80.0 492.0h0.55M83.7 487.7h0.55M72.7 490.3h0.55M80.1 489.6h0.55M67.5 484.6h0.55M84.5 493.8h0.55M69.8 495.2h0.55M74.6 491.6h0.55M85.2 488.4h0.55M68.9 484.0h0.55M77.6 491.6h0.55M82.0 492.2h0.55M76.0 494.1h0.55M66.9 491.4h0.55M79.2 489.6h0.55M89.0 491.6h0.55M85.9 493.2h0.55M73.7 496.8h0.55M84.0 490.1h0.55M74.2 486.4h0.55M73.9 489.2h0.55M76.8 488.6h0.55M79.7 489.8h0.55M62.4 488.3h0.55M67.9 485.6h0.55M73.1 493.3h0.55M66.2 483.0h0.55M73.8 500.6h0.55M70.4 491.0h0.55M71.8 493.1h0.55M86.7 489.5h0.55M84.7 486.3h0.55M76.8 485.6h0.55M76.7 487.9h0.55M77.1 486.1h0.55M77.0 490.5h0.55M70.6 487.3h0.55M65.6 488.7h0.55M78.4 489.6h0.55M76.4 494.5h0.55M72.6 491.1h0.55M81.8 491.9h0.55M78.3 490.4h0.55M90.7 489.8h0.55M72.1 492.2h0.55M88.3 495.1h0.55M75.5 493.0h0.55M79.2 490.4h0.55M80.4 492.3h0.55M76.3 496.1h0.55M72.2 495.0h0.55M92.1 497.5h0.55M77.4 489.4h0.55M62.4 489.9h0.55M94.8 484.6h0.55M62.8 493.0h0.55M80.2 483.7h0.55M74.7 491.3h0.55M63.0 493.5h0.55M64.6 494.1h0.55M76.8 487.6h0.55M62.3 488.9h0.55M74.4 489.6h0.55M70.4 489.3h0.55M82.2 486.9h0.55M73.5 491.7h0.55M75.0 493.1h0.55M87.7 488.8h0.55M76.9 479.8h0.55M72.4 492.4h0.55M66.2 494.7h0.55M60.1 494.8h0.55M71.0 486.5h0.55M71.3 489.1h0.55M67.0 485.2h0.55M71.0 493.4h0.55M78.4 494.8h0.55M70.3 488.8h0.55M72.5 490.6h0.55M78.8 496.2h0.55M80.8 490.6h0.55M86.0 487.3h0.55M64.6 492.4h0.55M76.5 490.5h0.55M82.6 488.9h0.55M74.2 491.4h0.55M80.3 493.5h0.55M76.1 491.0h0.55M62.5 489.9h0.55M95.4 488.9h0.55M62.4 495.7h0.55M70.6 489.5h0.55M73.8 492.6h0.55M81.3 489.6h0.55M84.0 486.9h0.55M80.5 487.9h0.55M80.7 487.7h0.55M111.5 488.3h0.55M103.5 485.5h0.55M106.2 492.3h0.55M106.6 488.3h0.55M103.9 498.5h0.55M107.5 488.9h0.55M106.9 486.3h0.55M104.3 492.0h0.55M103.6 494.5h0.55M108.0 489.4h0.55M101.8 502.8h0.55M114.6 491.1h0.55M110.3 487.6h0.55M102.7 490.9h0.55M104.3 491.6h0.55M102.5 490.4h0.55M99.8 492.9h0.55M110.9 489.3h0.55M106.0 492.1h0.55M105.7 489.1h0.55M106.8 500.9h0.55M104.8 490.0h0.55M108.8 488.1h0.55M104.6 487.6h0.55M105.9 487.8h0.55M105.5 490.7h0.55M104.8 489.2h0.55M107.3 495.0h0.55M107.9 488.7h0.55M102.3 489.8h0.55M112.0 489.3h0.55M110.5 492.0h0.55M102.5 487.3h0.55M111.1 487.2h0.55M104.6 486.0h0.55M106.2 494.4h0.55M108.1 489.2h0.55M106.1 490.3h0.55M104.9 491.0h0.55M109.0 489.8h0.55M106.4 485.8h0.55M109.2 485.4h0.55M109.8 492.5h0.55M110.1 494.1h0.55M104.7 492.9h0.55M104.3 493.7h0.55M107.9 499.3h0.55M103.3 492.4h0.55M110.5 494.3h0.55M105.3 483.7h0.55M105.1 488.1h0.55M113.5 495.5h0.55M110.1 485.7h0.55M111.1 488.9h0.55M105.7 480.2h0.55M104.7 494.9h0.55M105.5 494.8h0.55M108.7 494.5h0.55M104.7 488.3h0.55M110.5 489.3h0.55M105.0 490.0h0.55M102.3 503.3h0.55M108.6 489.1h0.55M107.0 485.8h0.55M102.5 488.3h0.55M103.6 491.8h0.55M110.7 487.0h0.55M108.8 485.5h0.55M110.0 494.7h0.55M106.3 491.9h0.55M107.4 484.4h0.55M105.5 491.8h0.55M109.6 486.0h0.55M108.3 485.7h0.55M101.9 488.0h0.55M108.8 496.4h0.55M102.7 492.1h0.55M107.8 489.4h0.55M111.9 487.0h0.55M109.1 481.8h0.55M102.2 482.4h0.55M108.7 484.8h0.55M104.9 487.0h0.55M102.5 486.3h0.55M103.9 486.3h0.55M105.7 488.6h0.55M104.9 480.2h0.55M105.4 494.7h0.55M104.7 489.5h0.55M106.6 487.0h0.55M106.3 484.3h0.55M107.8 483.1h0.55M108.7 483.4h0.55M101.9 493.7h0.55M105.5 492.4h0.55M105.1 494.3h0.55M105.9 488.5h0.55M100.9 494.7h0.55M107.0 492.7h0.55M106.0 487.7h0.55M109.2 493.3h0.55M104.8 496.4h0.55M105.0 482.0h0.55M105.4 488.8h0.55M113.5 494.5h0.55M101.3 491.1h0.55M104.8 493.7h0.55M109.2 489.8h0.55M106.5 491.1h0.55M109.0 490.7h0.55M90.1 531.8h0.55M68.4 514.7h0.55M82.9 524.3h0.55M87.7 524.5h0.55M77.8 518.0h0.55M90.2 519.0h0.55M84.0 521.0h0.55M96.2 506.7h0.55M95.9 521.0h0.55M81.2 523.3h0.55M86.6 526.6h0.55M81.5 525.2h0.55M80.9 521.3h0.55M90.5 518.9h0.55M90.2 515.8h0.55M92.7 516.3h0.55M82.1 518.7h0.55M86.0 514.3h0.55M91.1 518.6h0.55M90.0 510.4h0.55M78.5 517.8h0.55M80.4 518.6h0.55M89.7 526.0h0.55M95.2 524.1h0.55M82.1 522.7h0.55M83.2 522.6h0.55M80.0 527.4h0.55M88.8 517.7h0.55M78.2 521.1h0.55M83.2 520.9h0.55M82.1 516.1h0.55M90.1 528.2h0.55M78.8 518.2h0.55M88.7 518.5h0.55M83.7 532.4h0.55M81.3 521.5h0.55M83.5 518.8h0.55M72.7 524.7h0.55M85.1 513.6h0.55M96.4 517.7h0.55M82.7 514.3h0.55M92.8 519.6h0.55M84.5 511.4h0.55M81.0 521.5h0.55M86.3 507.3h0.55M81.1 520.8h0.55M102.5 514.9h0.55M73.1 524.0h0.55M83.5 511.5h0.55M89.8 518.0h0.55M80.6 511.5h0.55M85.7 519.9h0.55M75.7 525.3h0.55M78.8 527.8h0.55M88.4 518.3h0.55M88.4 515.8h0.55M86.0 529.3h0.55M83.0 524.3h0.55M81.0 519.3h0.55M92.2 512.2h0.55M88.4 506.5h0.55M79.5 516.9h0.55M91.7 523.7h0.55M80.9 518.6h0.55M87.5 510.0h0.55M88.9 527.5h0.55M93.9 515.8h0.55M83.9 513.8h0.55M83.4 517.9h0.55M90.5 519.9h0.55M80.8 524.3h0.55M91.7 515.7h0.55M84.9 518.8h0.55M76.5 520.2h0.55M90.4 531.1h0.55M87.6 517.7h0.55M85.5 523.1h0.55M91.2 514.3h0.55M87.6 523.3h0.55M74.4 527.6h0.55M85.1 524.6h0.55M86.1 517.9h0.55M86.0 521.1h0.55M91.6 517.8h0.55M79.7 515.2h0.55M80.6 524.0h0.55M80.7 528.6h0.55M87.2 518.9h0.55M94.3 517.2h0.55M84.7 524.1h0.55M90.9 513.5h0.55M101.2 522.9h0.55M78.9 518.4h0.55M92.0 520.8h0.55M91.6 533.7h0.55M92.1 531.5h0.55M90.6 515.5h0.55M95.6 515.3h0.55M92.3 523.5h0.55M81.5 515.3h0.55M85.5 522.0h0.55M94.6 520.0h0.55M98.0 524.9h0.55M82.8 515.9h0.55M87.2 516.5h0.55M86.1 524.3h0.55M88.3 525.6h0.55M82.6 514.5h0.55M78.3 509.0h0.55M84.1 520.2h0.55M85.6 519.8h0.55M99.0 513.2h0.55M85.2 516.9h0.55M81.3 527.9h0.55M86.6 527.3h0.55M80.0 531.1h0.55M100.4 514.6h0.55M86.8 519.0h0.55M90.2 512.0h0.55M89.6 524.2h0.55M83.2 506.3h0.55M82.8 517.5h0.55M91.4 516.1h0.55M80.0 523.6h0.55M89.1 524.3h0.55M87.1 526.2h0.55M89.9 509.2h0.55M88.1 524.5h0.55M87.1 528.6h0.55M84.1 524.1h0.55M79.5 519.9h0.55M83.6 513.9h0.55M79.0 521.2h0.55M89.5 516.1h0.55M79.5 514.6h0.55M91.5 512.7h0.55M93.7 509.9h0.55M88.6 523.9h0.55M94.2 517.3h0.55M82.3 511.4h0.55M92.4 519.1h0.55M84.2 517.4h0.55M88.4 520.1h0.55M94.0 507.0h0.55M92.0 516.7h0.55M86.5 518.0h0.55M86.4 524.5h0.55M88.3 511.3h0.55M86.5 519.3h0.55M89.2 520.2h0.55M86.5 526.1h0.55M80.4 533.0h0.55M83.6 513.7h0.55M91.7 526.4h0.55M94.5 528.7h0.55M89.8 520.3h0.55M89.2 519.9h0.55M83.7 529.6h0.55M97.9 520.0h0.55M85.6 517.0h0.55M76.9 515.9h0.55M83.9 519.9h0.55M81.0 508.6h0.55M90.9 530.3h0.55M74.2 519.2h0.55M92.1 513.0h0.55M78.4 520.2h0.55M85.6 516.2h0.55M96.9 529.0h0.55M91.0 519.6h0.55M85.1 525.4h0.55M85.6 529.0h0.55M94.6 516.5h0.55M91.7 529.5h0.55M91.0 514.4h0.55M85.5 518.1h0.55M87.9 520.3h0.55M85.1 525.3h0.55M95.3 516.8h0.55M78.4 522.5h0.55M87.3 522.8h0.55M83.2 522.0h0.55M81.8 526.8h0.55M97.4 514.7h0.55M71.7 517.4h0.55M84.2 521.5h0.55M87.5 523.3h0.55M103.7 517.0h0.55M85.1 523.0h0.55M76.3 525.1h0.55M83.7 511.8h0.55M82.3 523.4h0.55M92.5 527.9h0.55M90.1 516.1h0.55M90.8 520.0h0.55M101.5 508.1h0.55M97.2 525.1h0.55M89.9 519.9h0.55M84.1 514.7h0.55M78.2 532.8h0.55M91.3 505.3h0.55M85.0 497.5h0.55M78.0 503.6h0.55M93.8 500.3h0.55M84.1 502.6h0.55M81.4 501.0h0.55M85.1 503.5h0.55M60.5 506.9h0.55M105.3 500.7h0.55M93.8 500.4h0.55M75.4 508.6h0.55M83.4 507.9h0.55M84.4 506.4h0.55M79.4 507.6h0.55M100.9 505.4h0.55M75.1 502.3h0.55M70.9 505.2h0.55M87.1 501.3h0.55M91.5 501.6h0.55M101.4 505.9h0.55M98.9 501.2h0.55M70.5 497.9h0.55M88.5 500.0h0.55M96.2 503.8h0.55M89.9 499.6h0.55M75.0 504.0h0.55M89.6 499.6h0.55M85.3 500.9h0.55M90.4 502.7h0.55M78.3 504.7h0.55M94.2 502.7h0.55M95.0 500.4h0.55M84.6 500.1h0.55M83.9 500.7h0.55M81.9 505.3h0.55M70.9 498.2h0.55M79.6 505.0h0.55M84.1 500.7h0.55M90.7 502.5h0.55M89.9 500.8h0.55M86.3 506.9h0.55M74.2 502.5h0.55M88.3 505.0h0.55M85.4 503.0h0.55M64.3 503.4h0.55M67.3 503.6h0.55M102.2 504.7h0.55M72.1 502.5h0.55M91.1 505.3h0.55M73.7 507.0h0.55M89.3 505.0h0.55M77.5 503.4h0.55M73.6 503.9h0.55M74.1 506.9h0.55M81.8 504.0h0.55M84.9 504.3h0.55M65.8 507.2h0.55M82.4 501.7h0.55M70.7 501.3h0.55M74.6 503.4h0.55M71.9 503.7h0.55M82.9 501.3h0.55M105.4 503.0h0.55M84.9 503.7h0.55M79.5 505.3h0.55M96.3 503.1h0.55M71.9 505.0h0.55M57.7 503.8h0.55M79.1 504.3h0.55M64.7 502.0h0.55M69.9 501.7h0.55M87.5 502.7h0.55M74.5 506.8h0.55M81.1 497.3h0.55M69.6 504.5h0.55M85.7 503.9h0.55M83.7 500.6h0.55M79.8 499.7h0.55M71.7 500.5h0.55M71.6 502.2h0.55M78.2 500.8h0.55M92.3 501.8h0.55M97.2 506.1h0.55M67.3 505.8h0.55M65.3 507.4h0.55M84.0 500.2h0.55M56.6 501.9h0.55M65.6 506.3h0.55M66.7 502.4h0.55M85.5 503.1h0.55M83.0 502.3h0.55M87.9 500.3h0.55M86.3 499.5h0.55M82.0 499.6h0.55M77.8 504.7h0.55M93.4 497.7h0.55M71.7 500.1h0.55M93.1 500.4h0.55M87.6 501.5h0.55M64.3 503.3h0.55M67.6 505.1h0.55M88.9 506.9h0.55M68.9 507.6h0.55M90.4 497.7h0.55M103.9 508.0h0.55M68.6 503.9h0.55M65.3 502.6h0.55M81.9 504.8h0.55M70.9 502.9h0.55M69.8 504.1h0.55M87.1 503.2h0.55M92.4 505.2h0.55M83.9 506.4h0.55M66.4 502.9h0.55M60.6 502.9h0.55M74.8 505.4h0.55M75.1 501.1h0.55M78.8 502.6h0.55M85.5 500.4h0.55M63.6 498.2h0.55M92.4 499.2h0.55M74.8 499.7h0.55M89.5 501.3h0.55M93.2 500.9h0.55M83.1 505.2h0.55M90.4 499.4h0.55M75.9 502.7h0.55M60.0 505.1h0.55M84.1 504.5h0.55M64.7 503.5h0.55M84.7 506.0h0.55M74.2 505.0h0.55M101.3 501.7h0.55M75.4 502.0h0.55M63.7 501.9h0.55M97.6 500.2h0.55M77.8 506.5h0.55M86.1 503.7h0.55M76.3 502.6h0.55M80.1 505.0h0.55M80.8 505.8h0.55M59.7 505.4h0.55M74.2 503.0h0.55M75.4 504.9h0.55M78.7 504.9h0.55M71.2 503.6h0.55M93.3 506.3h0.55M76.1 503.4h0.55M76.0 502.6h0.55M80.2 506.6h0.55M86.3 507.3h0.55M96.7 499.3h0.55M83.4 501.7h0.55M62.5 499.8h0.55M74.6 508.0h0.55M81.0 502.5h0.55M79.7 500.8h0.55M81.9 502.7h0.55M62.4 501.4h0.55M116.4 504.9h0.55M79.0 505.0h0.55M69.5 503.3h0.55M89.6 498.3h0.55M72.1 501.8h0.55M77.0 501.5h0.55M83.0 506.0h0.55M83.8 506.0h0.55M91.4 501.3h0.55M83.0 501.9h0.55M87.2 502.0h0.55M78.1 508.0h0.55M78.2 498.4h0.55M81.4 503.9h0.55M74.6 503.2h0.55M91.1 501.5h0.55M78.1 500.9h0.55M83.7 502.7h0.55M70.2 502.6h0.55M99.8 498.0h0.55M99.0 533.7h0.55M126.4 478.0h0.55M120.5 471.4h0.55M73.5 488.1h0.55M119.2 471.7h0.55M130.1 484.6h0.55M126.3 506.1h0.55M121.3 531.5h0.55M64.7 503.7h0.55M88.5 511.0h0.55M105.4 478.2h0.55M121.3 495.4h0.55M118.5 518.1h0.55M86.8 505.5h0.55M82.5 539.7h0.55M108.6 500.8h0.55M76.4 538.5h0.55M87.4 485.3h0.55M120.1 520.2h0.55M76.8 527.0h0.55M119.8 541.7h0.55M59.9 482.4h0.55M62.1 515.7h0.55M83.1 539.0h0.55M107.0 506.8h0.55M72.4 542.9h0.55M128.4 537.2h0.55M100.8 491.7h0.55M61.5 505.9h0.55M73.3 493.8h0.55" stroke="#000" stroke-width="0.55" stroke-opacity="0.55" fill="none"/><path d="M95.6 567.6h0.55M85.7 565.8h0.55M87.5 563.7h0.55M99.7 562.0h0.55M88.3 568.6h0.55M92.6 566.8h0.55M83.8 566.0h0.55M90.0 562.6h0.55M88.9 564.8h0.55M97.1 574.3h0.55M92.8 572.6h0.55M92.8 559.7h0.55M92.5 571.7h0.55M100.3 562.3h0.55M105.2 562.9h0.55M88.0 563.9h0.55M100.6 567.9h0.55M97.5 556.5h0.55M91.9 565.7h0.55M96.3 564.1h0.55M99.2 563.2h0.55M84.1 559.0h0.55M99.6 569.5h0.55M87.7 571.0h0.55M91.3 565.7h0.55M83.8 563.8h0.55M92.9 567.1h0.55M89.0 570.5h0.55M100.6 562.7h0.55M94.6 559.6h0.55M94.7 562.0h0.55M91.4 567.0h0.55M90.9 570.8h0.55M87.8 564.2h0.55M94.2 566.1h0.55M93.8 565.3h0.55M87.6 569.1h0.55M92.7 570.1h0.55M100.0 564.7h0.55M88.0 564.3h0.55M88.5 557.6h0.55M101.8 568.0h0.55M105.8 563.8h0.55M95.7 567.4h0.55M91.9 570.5h0.55M92.3 565.9h0.55M93.3 556.6h0.55M88.2 563.1h0.55M101.9 568.8h0.55M96.9 569.0h0.55M91.2 573.4h0.55M91.1 560.1h0.55M96.0 571.4h0.55M92.9 567.8h0.55M97.9 572.9h0.55M95.7 573.6h0.55M94.0 575.4h0.55M84.4 570.4h0.55M94.0 566.8h0.55M85.0 570.9h0.55M91.2 562.0h0.55M88.7 565.3h0.55M93.0 562.3h0.55M87.0 568.1h0.55M92.0 574.8h0.55M89.9 569.5h0.55M102.4 565.4h0.55M98.1 567.6h0.55M92.7 573.2h0.55M86.6 563.7h0.55M82.2 565.8h0.55M98.1 565.2h0.55M97.1 563.0h0.55M99.0 565.8h0.55M89.6 573.4h0.55M92.3 568.8h0.55M93.1 569.3h0.55M93.1 561.1h0.55M94.0 568.3h0.55M94.6 565.3h0.55M102.8 563.1h0.55M93.1 567.2h0.55M86.1 561.1h0.55M96.2 569.2h0.55M93.2 559.3h0.55M90.7 567.3h0.55M95.9 571.4h0.55M95.0 570.4h0.55M101.9 556.2h0.55M98.1 564.4h0.55M95.1 567.2h0.55M86.5 562.4h0.55M94.9 565.5h0.55M96.6 564.6h0.55M104.7 565.2h0.55M104.3 563.0h0.55M95.6 571.1h0.55M84.8 562.1h0.55M94.7 571.2h0.55M100.2 568.6h0.55M98.4 561.2h0.55M89.9 572.5h0.55M89.1 565.2h0.55M82.3 565.4h0.55M83.2 567.8h0.55M100.8 567.6h0.55M93.3 564.5h0.55M95.5 561.4h0.55M89.7 575.5h0.55M84.8 563.8h0.55M84.3 571.5h0.55M90.9 560.7h0.55M85.1 571.0h0.55M96.1 569.6h0.55M91.9 570.1h0.55M99.8 569.1h0.55M83.0 557.7h0.55M83.8 567.3h0.55M83.6 561.5h0.55M92.4 562.4h0.55M84.8 570.3h0.55M95.0 569.5h0.55M97.5 572.3h0.55M91.9 565.3h0.55M82.0 565.0h0.55M88.7 570.6h0.55M96.0 572.4h0.55M98.4 571.2h0.55M95.1 566.7h0.55M89.9 566.0h0.55M86.6 567.7h0.55M91.6 557.3h0.55M76.5 562.9h0.55M89.3 564.7h0.55M99.5 563.3h0.55M84.7 567.7h0.55M97.8 573.1h0.55M86.2 564.9h0.55M89.5 572.5h0.55M96.0 566.1h0.55M96.1 564.4h0.55M90.8 565.8h0.55M89.1 564.9h0.55M94.0 567.0h0.55M100.5 569.7h0.55M91.5 556.5h0.55M83.4 563.8h0.55M89.7 560.3h0.55M89.8 566.4h0.55M88.3 565.3h0.55M91.4 562.9h0.55M86.9 565.4h0.55M93.4 561.4h0.55M80.2 561.8h0.55M94.8 559.0h0.55M97.2 563.4h0.55M92.6 562.6h0.55M95.2 566.1h0.55M93.9 557.5h0.55M96.0 558.7h0.55M89.9 568.1h0.55M90.7 568.0h0.55M92.8 566.2h0.55M87.2 570.2h0.55M98.2 563.6h0.55M86.7 566.7h0.55M87.5 566.4h0.55M96.5 568.7h0.55M100.2 567.8h0.55M85.9 562.2h0.55M94.8 574.0h0.55M89.8 561.9h0.55M99.7 565.3h0.55M95.7 570.4h0.55M86.2 564.3h0.55M88.6 568.1h0.55M95.5 563.7h0.55M94.9 558.2h0.55M93.8 567.3h0.55M91.8 559.7h0.55M91.2 561.3h0.55M100.0 564.6h0.55M90.6 565.4h0.55M94.8 566.2h0.55M94.8 561.9h0.55M98.0 563.7h0.55M96.1 566.8h0.55M97.8 565.5h0.55M83.5 561.0h0.55M90.5 571.7h0.55M89.4 566.1h0.55M98.8 563.4h0.55M93.5 567.0h0.55M88.4 566.8h0.55M97.7 570.3h0.55M89.9 578.1h0.55M93.7 564.7h0.55M87.7 561.7h0.55M96.4 553.6h0.55M90.9 560.0h0.55M90.8 565.7h0.55M84.4 561.7h0.55M98.9 563.5h0.55M91.7 564.5h0.55M96.4 571.0h0.55M96.9 568.2h0.55M94.9 560.8h0.55M99.1 563.5h0.55M86.8 564.2h0.55M87.3 567.6h0.55M95.8 571.2h0.55M91.2 563.3h0.55M90.2 560.9h0.55M87.6 574.3h0.55M87.4 563.9h0.55M95.3 566.9h0.55M96.1 562.2h0.55M85.8 571.4h0.55M88.0 565.4h0.55M93.0 558.0h0.55M90.7 563.1h0.55M94.7 564.5h0.55M79.1 569.2h0.55M77.4 564.1h0.55M87.9 563.2h0.55M91.7 569.8h0.55M86.9 563.2h0.55M95.9 568.0h0.55M95.8 567.2h0.55M90.4 563.8h0.55M89.1 569.7h0.55M100.2 574.2h0.55M85.9 564.8h0.55M91.8 565.1h0.55M85.4 575.1h0.55M100.3 565.1h0.55M89.2 565.8h0.55M85.0 564.4h0.55M96.1 572.8h0.55M96.8 571.3h0.55M85.8 552.1h0.55M99.6 566.6h0.55M91.3 572.9h0.55M86.3 561.8h0.55M87.6 572.7h0.55M97.1 558.3h0.55M101.2 565.9h0.55M94.2 562.6h0.55M102.4 567.7h0.55M99.3 561.6h0.55M95.8 566.2h0.55M90.5 562.4h0.55M87.8 560.9h0.55M88.0 565.7h0.55M95.1 559.2h0.55M85.9 563.2h0.55M82.5 564.6h0.55M90.3 565.0h0.55M94.1 569.9h0.55M96.3 567.0h0.55M95.1 562.4h0.55M86.4 568.6h0.55M95.0 575.2h0.55M90.5 561.6h0.55M93.4 563.9h0.55M86.7 571.7h0.55M102.8 567.4h0.55M88.0 566.9h0.55M91.5 559.9h0.55M96.5 567.3h0.55M99.0 563.5h0.55M91.7 565.3h0.55M81.9 576.6h0.55M79.8 560.9h0.55M89.8 559.1h0.55M94.2 563.9h0.55M92.2 566.9h0.55M92.2 566.3h0.55M91.0 567.7h0.55M96.5 564.8h0.55M89.3 564.2h0.55M93.6 564.3h0.55M89.7 559.4h0.55M102.9 560.6h0.55M101.5 569.3h0.55M97.8 567.0h0.55M94.7 567.2h0.55M95.3 569.6h0.55M100.7 561.7h0.55M94.7 572.9h0.55M100.0 561.5h0.55M93.8 567.2h0.55M93.4 556.2h0.55M97.0 559.0h0.55M104.6 568.8h0.55M91.4 568.8h0.55M92.8 563.7h0.55M91.5 567.5h0.55M87.4 569.1h0.55M98.5 570.7h0.55M98.9 571.7h0.55M96.1 571.7h0.55M92.4 567.8h0.55M100.3 574.5h0.55M90.1 559.8h0.55M104.5 571.1h0.55M102.7 570.0h0.55M93.5 563.3h0.55M86.5 572.4h0.55M97.8 567.5h0.55M85.6 563.8h0.55M88.5 564.8h0.55M75.3 567.1h0.55M101.2 563.7h0.55M92.3 567.3h0.55M86.3 568.0h0.55M87.4 564.2h0.55M93.6 565.8h0.55M92.7 562.1h0.55M96.4 561.3h0.55M97.1 564.0h0.55M85.2 565.7h0.55M86.0 563.8h0.55M91.2 569.5h0.55M96.8 568.2h0.55M90.5 559.4h0.55M90.8 564.7h0.55M91.4 563.8h0.55M89.1 569.6h0.55M84.3 566.1h0.55M99.5 562.7h0.55M86.4 565.1h0.55M90.1 567.2h0.55M100.1 565.5h0.55M95.4 563.5h0.55M89.3 567.4h0.55M88.2 571.4h0.55M89.7 565.4h0.55M86.0 564.2h0.55M86.2 563.9h0.55M81.7 566.0h0.55M102.4 557.8h0.55M102.3 565.6h0.55M97.3 561.6h0.55M104.0 561.3h0.55M91.7 572.9h0.55M84.6 555.8h0.55M91.7 562.7h0.55M86.4 562.0h0.55M83.5 572.3h0.55M85.9 560.4h0.55M74.2 564.8h0.55M84.9 562.9h0.55M89.5 567.1h0.55M68.1 566.6h0.55M69.9 578.2h0.55M76.4 564.7h0.55M76.0 574.3h0.55M66.6 558.7h0.55M86.8 570.1h0.55M71.1 566.7h0.55M85.0 553.6h0.55M86.4 566.2h0.55M81.1 566.8h0.55M102.7 564.0h0.55M84.9 554.1h0.55M75.4 571.0h0.55M61.3 557.0h0.55M75.9 572.1h0.55M85.7 563.6h0.55M78.2 560.0h0.55M90.7 564.2h0.55M86.5 565.7h0.55M72.1 575.1h0.55M67.2 573.5h0.55M71.8 562.6h0.55M67.5 572.6h0.55M74.3 565.3h0.55M61.5 572.9h0.55M84.4 568.6h0.55M82.0 550.8h0.55M70.2 567.8h0.55M76.0 564.2h0.55M77.1 563.4h0.55M69.1 560.8h0.55M76.2 563.4h0.55M70.5 573.9h0.55M74.6 566.8h0.55M61.2 564.4h0.55M83.8 569.8h0.55M75.5 566.1h0.55M75.6 569.0h0.55M72.1 554.6h0.55M92.7 572.7h0.55M73.6 574.1h0.55M63.2 573.4h0.55M76.7 571.4h0.55M71.9 567.8h0.55M80.3 572.2h0.55M79.6 569.2h0.55M69.7 575.6h0.55M76.9 565.9h0.55M72.1 561.0h0.55M68.3 559.4h0.55M76.8 566.6h0.55M77.0 560.7h0.55M71.2 563.8h0.55M83.9 559.5h0.55M61.3 573.4h0.55M78.2 559.2h0.55M87.1 574.5h0.55M85.3 556.7h0.55M76.1 562.7h0.55M72.6 559.1h0.55M90.6 563.5h0.55M77.5 571.0h0.55M80.5 569.1h0.55M71.5 568.1h0.55M73.0 555.6h0.55M84.0 563.9h0.55M70.3 564.9h0.55M62.5 560.9h0.55M58.7 569.3h0.55M85.6 567.4h0.55M64.7 573.5h0.55M72.1 559.0h0.55M58.0 567.9h0.55M88.0 565.1h0.55M69.2 565.6h0.55M67.3 564.2h0.55M77.2 563.4h0.55M83.3 562.1h0.55M81.3 568.7h0.55M71.5 565.5h0.55M72.0 575.4h0.55M67.7 572.9h0.55M84.0 565.3h0.55M89.5 555.1h0.55M77.2 567.6h0.55M75.1 571.2h0.55M71.3 566.0h0.55M85.3 566.4h0.55M65.6 569.8h0.55M74.2 564.1h0.55M79.9 563.1h0.55M66.1 565.7h0.55M73.2 567.2h0.55M64.1 575.6h0.55M81.0 567.7h0.55M77.0 554.5h0.55M83.3 561.9h0.55M79.5 561.0h0.55M83.8 564.3h0.55M73.0 574.6h0.55M83.8 560.1h0.55M68.7 567.9h0.55M72.8 571.0h0.55M68.8 557.6h0.55M66.7 566.0h0.55M79.9 570.7h0.55M86.2 568.1h0.55M73.1 570.6h0.55M74.0 564.6h0.55M70.7 571.6h0.55M88.3 573.5h0.55M60.5 572.4h0.55M64.9 565.3h0.55M80.2 560.3h0.55M63.9 563.2h0.55M90.1 572.3h0.55M83.7 581.4h0.55M90.9 581.9h0.55M85.0 585.3h0.55M87.3 583.4h0.55M78.2 582.2h0.55M91.0 585.1h0.55M71.8 582.6h0.55M95.7 580.2h0.55M99.2 587.3h0.55M96.1 583.4h0.55M99.4 582.3h0.55M98.6 582.8h0.55M85.2 577.8h0.55M98.2 582.8h0.55M85.3 581.1h0.55M100.2 575.8h0.55M83.7 583.1h0.55M95.7 577.5h0.55M83.0 581.5h0.55M99.8 581.0h0.55M73.7 584.1h0.55M89.8 579.6h0.55M81.8 584.6h0.55M91.8 582.2h0.55M92.4 582.3h0.55M95.8 586.1h0.55M82.5 580.8h0.55M86.8 586.0h0.55M88.0 576.2h0.55M89.8 578.8h0.55M84.8 579.6h0.55M80.8 575.2h0.55M103.6 580.6h0.55M83.4 582.9h0.55M99.3 575.7h0.55M86.8 581.8h0.55M84.1 582.3h0.55M81.3 579.0h0.55M89.1 582.3h0.55M90.2 578.9h0.55M87.4 574.6h0.55M104.9 579.8h0.55M87.9 581.8h0.55M94.0 582.0h0.55M85.2 576.0h0.55M88.7 578.6h0.55M86.1 581.0h0.55M91.6 584.9h0.55M88.9 575.8h0.55M94.0 583.8h0.55M78.4 582.8h0.55M91.3 579.3h0.55M91.1 582.1h0.55M94.1 584.4h0.55M89.8 581.0h0.55M106.9 577.8h0.55M88.0 579.9h0.55M95.3 584.3h0.55M80.7 584.7h0.55M81.6 588.8h0.55M85.2 584.3h0.55M88.1 583.1h0.55M84.7 581.4h0.55M90.1 581.3h0.55M95.5 579.7h0.55M87.7 577.0h0.55M89.0 579.5h0.55M96.1 583.0h0.55M84.9 582.3h0.55M99.2 580.3h0.55M81.7 588.4h0.55M93.8 583.1h0.55M107.5 578.6h0.55M92.1 575.3h0.55M93.4 582.2h0.55M84.5 578.4h0.55M88.7 580.3h0.55M101.1 580.2h0.55M88.8 580.5h0.55M78.7 579.5h0.55M80.5 581.4h0.55M74.6 577.6h0.55M91.7 574.7h0.55M79.0 584.0h0.55M80.6 580.9h0.55M92.1 577.8h0.55M78.1 585.6h0.55M86.0 582.5h0.55M84.6 582.1h0.55M80.7 576.8h0.55M82.6 579.1h0.55M85.5 580.0h0.55M93.0 579.4h0.55M96.5 579.0h0.55M94.6 584.9h0.55M102.1 575.0h0.55M102.0 575.7h0.55M99.9 580.9h0.55M92.4 578.1h0.55M96.5 583.0h0.55M90.2 598.4h0.55M84.8 605.2h0.55M83.9 601.2h0.55M88.9 603.5h0.55M84.9 605.5h0.55M86.7 599.3h0.55M87.0 602.7h0.55M91.1 601.3h0.55M92.4 600.3h0.55M93.0 605.8h0.55M82.4 603.7h0.55M93.4 595.4h0.55M84.5 601.7h0.55M85.1 597.2h0.55M95.5 598.8h0.55M87.8 597.0h0.55M92.7 601.8h0.55M90.7 601.8h0.55M80.2 604.6h0.55M86.8 599.6h0.55M80.7 599.0h0.55M93.4 599.1h0.55M96.2 601.2h0.55M91.6 601.4h0.55M89.3 599.8h0.55M86.1 595.6h0.55M92.9 597.9h0.55M77.9 606.9h0.55M83.5 599.3h0.55M84.8 605.9h0.55M86.7 609.4h0.55M93.7 595.8h0.55M88.4 597.9h0.55M88.3 602.5h0.55M88.2 601.2h0.55M86.8 603.8h0.55M90.7 598.0h0.55M81.9 602.0h0.55M92.4 600.4h0.55M89.9 600.7h0.55M88.9 602.6h0.55M82.8 600.2h0.55M95.5 603.3h0.55M90.0 595.6h0.55M97.3 597.7h0.55M89.5 594.9h0.55M91.7 596.5h0.55M83.4 603.2h0.55M86.9 597.4h0.55M89.6 602.5h0.55M88.2 604.1h0.55M88.3 603.0h0.55M85.3 600.1h0.55M81.8 604.1h0.55M83.0 599.4h0.55M93.2 598.6h0.55M92.6 601.3h0.55M87.2 605.0h0.55M84.1 598.8h0.55M82.8 600.7h0.55M91.7 599.9h0.55M89.1 603.8h0.55M74.6 606.8h0.55M80.7 602.8h0.55M85.9 600.1h0.55M91.4 603.9h0.55M86.2 602.9h0.55M93.6 604.3h0.55M88.3 598.9h0.55M88.8 602.7h0.55M85.7 606.2h0.55M92.9 598.0h0.55M82.5 609.7h0.55M91.1 599.6h0.55M94.9 596.1h0.55M92.3 599.2h0.55M94.8 601.5h0.55M88.1 600.2h0.55M83.3 601.7h0.55M94.2 599.0h0.55M77.5 604.8h0.55M85.3 601.3h0.55M89.6 602.0h0.55M99.9 593.2h0.55M90.7 599.2h0.55M83.2 610.0h0.55M85.3 603.1h0.55M86.1 606.2h0.55M92.4 598.0h0.55M87.6 602.0h0.55M97.8 599.0h0.55M96.5 600.4h0.55M81.8 596.2h0.55M85.8 602.3h0.55M92.0 602.5h0.55M78.7 605.6h0.55M92.1 595.2h0.55M92.9 596.2h0.55M82.8 603.6h0.55M89.0 603.3h0.55M88.0 601.1h0.55M91.6 597.8h0.55M86.8 597.8h0.55M80.0 604.0h0.55M91.6 602.7h0.55M94.2 602.1h0.55M89.4 606.2h0.55M90.4 598.9h0.55M91.1 596.1h0.55M85.9 598.5h0.55M85.9 599.7h0.55M80.6 595.7h0.55M86.1 601.7h0.55M87.5 599.2h0.55M79.1 602.7h0.55M85.7 600.9h0.55M89.9 600.6h0.55M83.7 599.0h0.55M89.1 596.3h0.55M85.3 599.2h0.55M92.3 601.5h0.55M88.5 602.0h0.55M89.1 601.8h0.55M86.6 598.0h0.55M86.7 600.3h0.55M89.5 601.3h0.55M89.8 597.1h0.55M84.0 607.9h0.55M90.8 603.5h0.55M85.6 599.8h0.55M91.9 598.8h0.55M89.9 599.3h0.55M87.7 597.6h0.55M82.8 599.2h0.55M94.2 601.7h0.55M85.7 606.1h0.55M86.8 599.4h0.55M82.4 602.5h0.55M87.9 598.4h0.55M83.9 595.1h0.55M83.7 596.3h0.55M82.4 598.1h0.55M87.0 608.8h0.55M88.4 597.3h0.55M78.1 602.9h0.55M94.7 602.5h0.55M100.7 592.2h0.55M93.9 596.8h0.55M98.8 599.8h0.55M83.0 602.4h0.55M88.7 595.9h0.55M85.1 599.8h0.55M86.0 604.7h0.55M85.9 595.2h0.55M93.9 603.1h0.55M88.0 605.3h0.55M99.0 596.9h0.55M87.4 596.2h0.55M92.1 602.5h0.55M84.9 600.3h0.55M87.6 604.7h0.55M93.6 599.9h0.55M82.3 600.8h0.55M81.6 602.8h0.55M83.5 605.3h0.55M86.5 600.6h0.55M91.4 600.3h0.55M88.3 605.1h0.55M88.8 601.8h0.55M80.1 604.6h0.55M87.3 606.1h0.55M88.0 602.2h0.55M84.2 601.9h0.55M92.2 595.1h0.55M90.1 603.7h0.55M84.7 607.0h0.55M83.0 600.7h0.55M94.7 597.1h0.55M88.7 598.5h0.55M82.8 600.3h0.55M85.9 604.0h0.55M96.2 596.9h0.55M82.7 605.3h0.55M86.4 598.1h0.55M91.6 600.0h0.55M82.3 604.4h0.55M88.7 601.4h0.55M82.6 597.4h0.55M93.0 599.4h0.55M83.1 605.9h0.55M91.9 599.7h0.55M91.3 598.6h0.55M87.0 600.2h0.55M89.7 596.8h0.55M95.7 597.8h0.55M87.7 602.9h0.55M91.4 597.6h0.55M82.3 604.1h0.55M83.2 600.8h0.55M90.5 596.6h0.55M82.2 599.4h0.55M95.9 596.0h0.55M81.9 603.1h0.55M87.0 601.6h0.55M88.1 600.4h0.55M96.5 603.1h0.55M89.9 604.0h0.55M96.2 599.8h0.55M92.7 595.4h0.55M87.7 604.2h0.55M82.6 606.8h0.55M90.1 602.6h0.55M90.5 598.4h0.55M86.8 601.0h0.55M82.2 597.3h0.55M82.0 601.2h0.55M81.9 606.5h0.55M93.7 598.9h0.55M84.0 599.9h0.55M91.4 598.9h0.55M85.3 604.6h0.55M90.9 602.5h0.55M81.7 605.9h0.55M90.9 597.4h0.55M87.4 603.6h0.55M85.6 600.6h0.55M93.8 602.9h0.55M90.5 605.8h0.55M93.4 598.2h0.55M92.9 604.9h0.55M81.5 601.6h0.55M98.5 600.9h0.55M86.4 598.1h0.55M95.7 599.6h0.55M89.2 601.0h0.55M85.8 600.6h0.55M90.0 602.3h0.55M88.3 600.0h0.55M83.1 596.6h0.55M82.4 604.2h0.55M91.6 599.2h0.55M82.5 604.5h0.55M95.8 595.3h0.55M88.8 606.1h0.55M84.1 601.7h0.55M85.2 602.0h0.55M89.8 601.5h0.55M99.4 600.2h0.55M85.0 600.7h0.55M91.1 596.3h0.55M86.8 601.8h0.55M88.7 605.9h0.55M98.1 595.4h0.55M92.6 602.3h0.55M88.4 598.0h0.55M87.4 602.4h0.55M80.4 604.3h0.55M89.7 598.9h0.55M92.4 601.0h0.55M83.8 601.7h0.55M89.9 604.5h0.55M88.0 602.5h0.55M92.7 597.6h0.55M97.2 593.8h0.55M87.3 605.0h0.55M88.2 597.3h0.55M88.6 604.3h0.55M89.6 603.2h0.55M87.2 597.6h0.55M92.2 598.8h0.55M77.4 606.3h0.55M89.4 601.4h0.55M86.6 600.2h0.55M88.3 600.1h0.55M85.8 606.5h0.55M81.2 602.3h0.55M84.6 599.9h0.55M93.4 599.4h0.55M85.0 601.8h0.55M84.7 604.6h0.55M84.2 601.8h0.55M96.3 603.7h0.55M91.0 602.2h0.55M85.3 600.9h0.55M79.7 605.8h0.55M87.7 599.9h0.55M91.5 596.0h0.55M84.8 600.8h0.55M90.7 601.6h0.55M90.3 602.2h0.55M90.6 598.6h0.55M82.9 600.7h0.55M85.5 603.4h0.55M86.4 596.5h0.55M93.4 595.9h0.55M95.0 601.2h0.55M91.1 596.2h0.55M90.4 599.9h0.55M96.7 599.9h0.55M83.9 600.6h0.55M82.7 598.1h0.55M90.5 599.7h0.55M88.7 604.2h0.55M88.7 597.7h0.55M87.1 601.8h0.55M85.5 600.8h0.55M86.6 599.7h0.55M84.7 600.1h0.55M92.1 603.1h0.55M91.7 599.8h0.55M85.0 601.1h0.55M83.1 600.9h0.55M81.7 598.5h0.55M94.6 599.0h0.55M82.6 607.7h0.55M92.1 599.5h0.55M88.4 594.4h0.55M84.2 601.2h0.55M81.6 604.0h0.55M90.0 598.3h0.55M89.3 601.9h0.55M92.9 607.8h0.55M86.0 598.3h0.55M88.7 604.2h0.55M85.6 600.8h0.55M90.5 597.8h0.55M93.3 597.7h0.55M86.2 599.9h0.55M80.5 604.7h0.55M90.1 600.2h0.55M79.4 598.8h0.55M89.3 608.6h0.55M82.3 600.2h0.55M87.2 600.6h0.55M73.9 603.7h0.55M89.0 599.7h0.55M91.9 589.8h0.55M89.6 602.0h0.55M90.6 601.6h0.55M85.0 604.1h0.55M97.6 602.3h0.55M84.6 604.6h0.55M88.0 601.0h0.55M91.0 601.2h0.55M83.0 601.0h0.55M83.6 601.1h0.55M85.0 601.6h0.55M85.6 607.6h0.55M86.5 600.0h0.55M90.6 602.0h0.55M91.3 602.8h0.55M87.4 603.9h0.55M89.8 597.5h0.55M92.0 600.9h0.55M92.4 601.6h0.55M97.3 595.9h0.55M87.1 595.8h0.55M89.6 596.0h0.55M88.1 600.2h0.55M83.6 599.9h0.55M95.4 596.9h0.55M87.5 601.5h0.55M88.3 604.6h0.55M89.5 599.9h0.55M91.5 598.0h0.55M83.3 603.7h0.55M101.7 600.0h0.55M97.3 596.7h0.55M83.4 603.0h0.55M86.1 604.3h0.55M85.4 598.1h0.55M85.6 599.7h0.55M99.4 596.3h0.55M85.4 602.2h0.55M89.5 605.7h0.55M87.5 603.9h0.55M87.9 606.0h0.55M90.8 603.6h0.55M78.8 603.0h0.55M81.7 599.1h0.55M87.1 603.5h0.55M90.4 594.9h0.55M87.4 600.2h0.55M87.3 602.2h0.55M85.3 606.6h0.55M84.5 597.6h0.55M85.0 603.2h0.55M88.7 605.6h0.55M86.3 600.6h0.55M84.2 597.5h0.55M83.3 602.8h0.55M80.4 605.7h0.55M86.3 602.2h0.55M93.5 599.0h0.55M87.3 604.3h0.55M86.4 603.7h0.55M84.1 600.8h0.55M86.2 601.0h0.55M92.6 595.0h0.55M85.2 606.4h0.55M80.2 601.2h0.55M82.0 607.8h0.55M92.0 601.2h0.55M79.7 604.2h0.55M81.6 601.4h0.55M90.3 603.0h0.55M88.8 601.2h0.55M86.5 598.6h0.55M80.5 603.2h0.55M89.0 599.4h0.55M86.7 598.8h0.55M83.3 601.7h0.55M83.2 600.1h0.55M91.9 597.0h0.55M85.5 598.0h0.55M83.5 601.6h0.55M83.2 601.6h0.55M83.0 599.7h0.55M93.7 601.0h0.55M91.5 603.1h0.55M91.7 601.4h0.55M90.3 595.1h0.55M80.8 602.9h0.55M83.3 603.2h0.55M96.5 599.4h0.55M83.8 606.4h0.55M80.3 604.9h0.55M88.4 601.1h0.55M94.2 601.2h0.55M84.7 603.2h0.55M92.2 601.6h0.55M91.7 603.6h0.55M90.4 598.7h0.55M88.5 597.8h0.55M92.0 598.9h0.55M101.7 602.5h0.55M86.4 602.5h0.55M92.4 600.2h0.55M88.0 601.3h0.55M95.0 598.3h0.55M96.9 597.5h0.55M91.7 598.0h0.55M90.3 602.8h0.55M82.0 603.1h0.55M94.5 603.3h0.55M94.3 597.3h0.55M88.3 598.7h0.55M81.8 604.3h0.55M82.4 602.0h0.55M83.6 602.1h0.55M88.9 601.6h0.55M86.6 603.2h0.55M87.6 596.6h0.55M87.1 593.2h0.55M88.6 598.4h0.55M81.5 595.0h0.55M77.9 603.4h0.55M96.1 599.6h0.55M86.0 603.0h0.55M76.6 602.3h0.55M86.7 601.9h0.55M91.6 600.7h0.55M81.1 600.8h0.55M86.7 604.5h0.55M83.4 597.7h0.55M86.3 600.4h0.55M81.9 602.7h0.55M77.3 600.9h0.55M84.8 599.4h0.55M80.8 608.2h0.55M93.2 601.5h0.55M86.7 596.5h0.55M93.2 599.6h0.55M85.1 600.8h0.55M86.8 602.3h0.55M85.5 598.3h0.55M87.8 602.7h0.55M96.7 602.7h0.55M81.0 603.8h0.55M77.1 602.2h0.55M92.0 597.8h0.55M93.2 604.8h0.55M87.7 600.9h0.55M87.7 605.9h0.55M86.8 600.3h0.55M87.8 604.9h0.55M90.3 604.5h0.55M86.3 601.0h0.55M87.4 607.2h0.55M90.4 604.4h0.55M85.4 602.4h0.55M88.5 603.3h0.55M85.3 603.0h0.55M84.0 599.8h0.55M90.2 597.2h0.55M89.5 599.9h0.55M90.3 601.9h0.55M92.4 598.8h0.55M85.3 607.0h0.55M88.8 604.4h0.55M80.4 600.5h0.55M85.9 598.6h0.55M90.2 601.5h0.55M94.6 600.4h0.55M88.4 600.1h0.55M84.6 599.7h0.55M96.2 598.3h0.55M91.3 599.3h0.55M92.5 596.7h0.55M91.8 595.9h0.55M91.2 597.6h0.55M90.7 609.6h0.55M89.6 595.7h0.55M84.1 598.6h0.55M92.0 598.6h0.55M87.9 601.2h0.55M86.7 601.0h0.55M83.4 605.0h0.55M90.5 599.5h0.55M95.2 600.5h0.55M90.8 605.7h0.55M92.7 603.9h0.55M91.0 594.9h0.55M92.5 600.5h0.55M82.4 600.2h0.55M82.9 601.1h0.55M90.3 599.3h0.55M80.3 604.1h0.55M85.2 597.4h0.55M87.5 601.9h0.55M79.4 601.2h0.55M90.6 597.3h0.55M91.8 601.7h0.55M93.1 603.1h0.55M87.1 598.5h0.55M90.0 596.2h0.55M96.1 601.6h0.55M83.0 599.7h0.55M91.7 604.5h0.55M91.8 600.3h0.55M85.5 601.2h0.55M88.7 599.7h0.55M86.1 596.9h0.55M88.0 601.4h0.55M94.9 599.9h0.55M90.2 592.3h0.55M97.5 598.0h0.55M85.0 600.6h0.55M95.0 598.1h0.55M83.7 602.2h0.55M97.7 597.4h0.55M88.0 598.2h0.55M88.1 602.7h0.55M85.5 594.6h0.55M88.2 600.0h0.55M76.6 597.3h0.55M85.9 594.9h0.55M84.1 597.8h0.55M109.2 594.7h0.55M88.7 592.2h0.55M94.2 589.6h0.55M95.1 594.9h0.55M86.1 599.7h0.55M82.9 596.6h0.55M83.1 601.0h0.55M85.8 604.1h0.55M92.5 604.6h0.55M81.1 600.1h0.55M80.0 613.4h0.55M91.5 583.7h0.55M92.3 600.0h0.55M82.8 605.9h0.55M89.6 604.4h0.55M81.5 599.8h0.55M88.6 605.6h0.55M89.7 594.6h0.55M96.0 604.3h0.55M84.9 606.0h0.55M89.4 598.4h0.55M78.7 602.2h0.55M79.5 603.4h0.55M88.6 602.4h0.55M85.9 611.1h0.55M93.4 607.0h0.55M89.9 593.2h0.55M103.4 597.0h0.55M74.7 598.5h0.55M88.5 597.5h0.55M97.2 595.3h0.55M84.0 598.3h0.55M93.9 597.3h0.55M79.9 594.7h0.55M89.1 602.3h0.55M105.8 592.7h0.55M73.0 598.9h0.55M78.0 602.5h0.55M82.8 600.9h0.55M90.2 587.8h0.55M68.6 600.7h0.55M92.3 606.1h0.55M85.6 601.7h0.55M98.4 590.5h0.55M91.2 586.8h0.55M86.8 605.1h0.55M90.4 594.2h0.55M86.4 605.6h0.55M96.7 602.4h0.55M81.1 602.8h0.55M95.5 599.2h0.55M86.9 610.8h0.55M94.8 605.8h0.55M90.6 601.4h0.55M88.0 599.9h0.55M76.0 601.1h0.55M81.1 601.2h0.55M85.5 596.2h0.55M80.9 590.6h0.55M91.2 604.1h0.55M77.7 594.5h0.55M93.2 594.3h0.55M74.0 603.7h0.55M86.5 598.7h0.55M82.9 596.3h0.55M86.5 603.1h0.55M78.2 598.8h0.55M85.9 612.3h0.55M83.6 605.8h0.55M106.0 598.9h0.55M77.7 612.1h0.55M85.8 605.7h0.55M65.9 605.9h0.55M92.3 604.2h0.55M80.1 590.0h0.55M86.4 602.4h0.55M94.0 598.9h0.55M81.0 591.7h0.55M89.0 612.4h0.55M72.9 599.8h0.55M95.7 596.1h0.55M81.9 594.1h0.55M95.2 604.4h0.55M88.0 605.9h0.55M89.8 605.0h0.55M89.2 595.7h0.55M88.5 587.3h0.55M86.3 591.9h0.55M90.4 599.2h0.55M86.9 602.5h0.55M89.5 598.4h0.55M79.2 602.8h0.55M80.8 587.7h0.55M96.9 601.9h0.55M90.0 591.7h0.55M77.7 596.8h0.55M80.4 602.5h0.55M86.1 587.6h0.55M73.9 594.9h0.55M97.0 599.9h0.55M96.4 598.4h0.55M86.6 598.4h0.55M92.3 593.1h0.55M82.9 595.8h0.55M83.6 603.1h0.55M84.1 602.7h0.55M84.4 603.5h0.55M82.6 604.4h0.55M82.7 596.2h0.55M98.4 594.6h0.55M78.5 598.2h0.55M96.1 592.0h0.55M86.9 605.3h0.55M86.3 592.9h0.55M89.2 603.1h0.55M89.9 604.7h0.55M92.5 602.6h0.55M74.0 600.0h0.55M94.4 600.3h0.55M68.0 612.3h0.55M90.5 606.3h0.55M83.8 591.3h0.55M96.6 603.6h0.55M94.5 587.3h0.55M82.1 603.2h0.55M76.6 598.3h0.55M91.0 595.7h0.55M94.6 594.7h0.55M90.3 603.6h0.55M86.7 597.5h0.55M86.6 607.0h0.55M81.0 604.5h0.55M88.4 596.2h0.55M95.8 596.0h0.55M91.3 608.1h0.55M87.5 604.3h0.55M73.9 594.6h0.55M90.7 596.6h0.55M83.5 594.5h0.55M83.7 607.1h0.55M85.5 604.9h0.55M97.1 602.1h0.55M86.4 588.3h0.55M87.3 602.4h0.55M87.4 589.3h0.55M94.2 595.4h0.55M106.2 596.9h0.55M80.1 602.1h0.55M79.8 602.4h0.55M96.1 599.4h0.55M81.1 596.9h0.55M93.9 590.3h0.55M78.7 602.0h0.55M67.1 605.5h0.55M83.9 603.4h0.55M90.6 603.3h0.55M92.5 596.8h0.55M89.3 585.0h0.55M83.8 594.2h0.55M97.0 598.6h0.55M89.1 601.2h0.55M76.2 606.3h0.55M81.2 595.2h0.55M83.7 606.8h0.55M95.6 599.8h0.55M84.5 599.8h0.55M92.5 612.4h0.55M90.5 596.1h0.55M86.0 599.3h0.55M100.6 597.3h0.55M85.4 611.6h0.55M87.6 591.7h0.55M80.2 596.7h0.55M86.1 597.8h0.55M84.7 598.2h0.55M80.2 597.4h0.55M73.4 611.4h0.55M88.8 593.0h0.55M87.1 596.9h0.55M95.9 604.3h0.55M78.0 597.5h0.55M83.4 601.7h0.55M80.4 599.0h0.55M73.3 607.1h0.55M72.8 603.9h0.55M78.0 603.7h0.55M75.7 604.3h0.55M91.4 591.0h0.55M92.7 600.9h0.55M84.9 601.7h0.55M84.2 611.6h0.55M96.1 601.8h0.55M70.4 604.2h0.55M91.8 600.2h0.55M84.2 597.9h0.55M91.5 607.9h0.55M79.0 598.8h0.55M95.5 588.8h0.55M83.9 596.5h0.55M94.3 600.9h0.55M87.9 597.1h0.55M89.2 608.0h0.55M86.7 604.4h0.55M90.3 608.1h0.55M92.3 590.3h0.55M95.4 608.6h0.55M74.2 599.3h0.55M91.4 601.3h0.55M88.8 604.7h0.55M86.1 590.0h0.55M86.1 608.3h0.55M92.4 585.5h0.55M85.3 589.1h0.55M81.3 595.5h0.55M81.3 600.6h0.55M87.8 603.8h0.55M85.8 594.2h0.55M77.4 595.5h0.55M76.3 601.4h0.55M91.4 600.3h0.55M85.5 603.9h0.55M94.4 590.8h0.55M85.7 603.0h0.55M90.8 606.3h0.55M90.5 604.2h0.55M80.8 605.3h0.55M90.1 603.1h0.55M85.6 604.6h0.55M93.8 599.6h0.55M75.9 603.7h0.55M85.5 599.3h0.55M76.1 592.4h0.55M77.8 607.8h0.55M89.1 600.7h0.55M80.5 605.5h0.55M85.6 608.3h0.55M87.7 604.4h0.55M78.7 607.6h0.55M92.9 602.0h0.55M72.9 605.0h0.55M85.1 603.7h0.55M80.2 600.9h0.55M91.9 609.9h0.55M80.9 599.2h0.55M82.0 603.0h0.55M72.9 596.9h0.55M88.7 605.4h0.55M93.3 592.3h0.55M83.9 601.8h0.55M89.7 600.7h0.55M93.9 591.5h0.55M74.1 602.4h0.55M84.0 601.3h0.55M82.2 604.5h0.55M87.2 607.3h0.55M80.6 592.6h0.55M94.7 605.2h0.55M79.5 602.4h0.55M95.5 591.5h0.55M76.4 612.8h0.55M75.0 595.9h0.55M94.3 592.9h0.55M96.0 596.4h0.55M95.2 599.1h0.55M87.0 596.6h0.55M83.8 604.5h0.55M85.2 598.7h0.55M82.5 590.3h0.55M97.9 590.5h0.55M90.4 609.4h0.55M81.9 596.4h0.55M87.0 592.3h0.55M87.0 599.5h0.55M87.9 601.4h0.55M81.9 606.8h0.55M96.5 600.7h0.55M94.4 598.8h0.55M90.5 608.8h0.55M87.4 599.3h0.55M90.8 603.6h0.55M84.3 599.8h0.55M86.7 613.3h0.55M80.1 612.8h0.55M90.2 598.0h0.55M81.7 592.2h0.55M72.3 598.4h0.55M81.3 595.3h0.55M88.1 604.7h0.55M81.4 597.5h0.55M93.4 602.8h0.55M87.6 600.6h0.55M74.7 590.6h0.55M100.1 591.4h0.55M97.8 598.9h0.55M98.9 586.5h0.55M92.6 599.3h0.55M94.5 586.6h0.55M87.1 588.1h0.55M90.0 578.5h0.55M96.8 587.0h0.55M95.8 587.5h0.55M106.9 596.8h0.55M91.3 594.4h0.55M95.1 595.0h0.55M98.9 591.8h0.55M89.9 593.9h0.55M96.1 584.5h0.55M103.4 593.6h0.55M93.7 593.1h0.55M92.3 587.7h0.55M90.0 583.7h0.55M95.5 587.4h0.55M95.1 586.3h0.55M94.2 588.7h0.55M96.2 588.0h0.55M84.7 590.2h0.55M95.5 591.4h0.55M95.7 587.1h0.55M95.5 586.7h0.55M97.7 585.8h0.55M89.4 591.8h0.55M97.8 586.6h0.55M95.6 592.1h0.55M92.4 584.5h0.55M96.2 590.9h0.55M91.8 590.0h0.55M93.1 588.9h0.55M90.7 584.4h0.55M89.2 586.1h0.55M98.1 592.4h0.55M92.0 594.4h0.55M96.0 586.4h0.55M93.8 587.8h0.55M88.7 588.5h0.55M89.4 596.2h0.55M98.2 582.3h0.55M99.2 584.7h0.55M96.4 591.7h0.55M89.5 588.2h0.55M95.4 584.2h0.55M90.3 589.5h0.55M91.6 584.4h0.55M96.7 589.7h0.55M93.6 594.4h0.55M97.8 597.0h0.55M91.6 597.2h0.55M99.2 592.8h0.55M98.6 581.4h0.55M98.6 592.0h0.55M99.5 590.8h0.55M93.0 588.0h0.55M97.8 593.5h0.55M99.7 583.5h0.55M99.0 595.7h0.55M99.9 586.5h0.55M98.6 592.5h0.55M93.3 589.8h0.55M92.6 586.6h0.55M92.0 594.4h0.55M96.3 587.0h0.55M87.1 588.7h0.55M93.6 586.8h0.55M97.6 597.8h0.55M90.7 585.2h0.55M95.9 587.8h0.55M96.7 586.2h0.55M96.3 583.2h0.55M84.7 595.8h0.55M96.0 589.9h0.55M95.4 592.2h0.55M96.1 589.7h0.55M95.4 590.5h0.55M81.1 581.9h0.55M61.7 562.1h0.55M128.4 560.3h0.55M58.2 581.0h0.55M118.4 569.3h0.55M120.7 600.6h0.55M117.4 582.3h0.55M120.2 590.7h0.55M88.1 573.3h0.55M121.5 605.6h0.55M83.0 585.9h0.55M127.4 611.0h0.55M59.3 582.7h0.55M121.5 610.9h0.55M84.3 608.6h0.55M99.4 568.6h0.55M58.2 569.4h0.55M56.4 621.4h0.55M63.2 577.7h0.55M72.8 594.3h0.55M78.5 615.4h0.55M104.4 587.7h0.55M87.9 552.4h0.55M102.6 578.0h0.55M76.3 587.0h0.55M63.4 618.2h0.55M113.7 617.7h0.55M100.5 567.9h0.55M122.1 555.8h0.55M125.5 584.5h0.55" stroke="#000" stroke-width="0.55" stroke-opacity="0.6" fill="none"/><rect x="55.5" y="469.6" width="75.80" height="74.60" fill="none" stroke="#231f20" stroke-width="1.1"/><rect x="55.5" y="547.4" width="75.80" height="74.80" fill="none" stroke="#231f20" stroke-width="1.1"/><rect x="59.5" y="480.8" width="42.50" height="18.00" fill="none" stroke="#231f20" stroke-width="1.0"/><rect x="103.3" y="480" width="18.50" height="20.50" fill="none" stroke="#231f20" stroke-width="1.0"/><rect x="71.8" y="509.5" width="28.70" height="29.30" fill="none" stroke="#231f20" stroke-width="1.0"/><text x="66.3" y="478.2" font-size="6.8">B 56.5</text><text x="105.5" y="478.2" font-size="6.8">C 11.8</text><text x="103.8" y="528.2" font-size="6.8">A</text><text x="103.8" y="536.4" font-size="6.8">13.6</text><rect x="59.5" y="558" width="41.80" height="18.30" fill="none" stroke="#231f20" stroke-width="1.0"/><rect x="103.3" y="557.5" width="18.00" height="20.00" fill="none" stroke="#231f20" stroke-width="1.0"/><rect x="71.8" y="586.3" width="28.70" height="30.00" fill="none" stroke="#231f20" stroke-width="1.0"/><text x="69" y="555.6" font-size="6.8">B 30.3</text><text x="108.3" y="555.6" font-size="6.8">C 2.95</text><text x="103.3" y="605.8" font-size="6.8">A</text><text x="103.3" y="613.9" font-size="6.8">54.5</text><line x1="158" y1="466" x2="158" y2="628.5" stroke="#7a7a7a" stroke-width="1.5"/><polygon points="155.8,468 158,462.5 160.2,468" fill="#231f20"/><line x1="157.25" y1="627.9" x2="244" y2="627.9" stroke="#7a7a7a" stroke-width="1.5"/><polygon points="242,625.6999999999999 247.5,627.9 242,630.1" fill="#231f20"/><text x="177.8" y="464.8" font-size="8.4">B220<tspan font-size="6.5" dy="-3">+</tspan><tspan dy="3"> CD43</tspan><tspan font-size="6.5" dy="-3">-</tspan></text><text transform="translate(152.0 552.9) rotate(-90)" x="0" y="0" font-size="10.5" font-weight="bold" textLength="9" lengthAdjust="spacingAndGlyphs">IgD</text><text x="194.0" y="639.1" font-size="10.3" font-weight="bold" textLength="11.0" lengthAdjust="spacingAndGlyphs">IgM</text><path d="M195.3 523.3h0.55M213.0 524.1h0.55M192.1 519.6h0.55M192.6 525.5h0.55M190.1 524.4h0.55M190.2 526.4h0.55M201.8 521.2h0.55M186.8 524.6h0.55M199.3 522.5h0.55M196.2 523.8h0.55M204.1 517.6h0.55M202.6 522.7h0.55M168.9 529.4h0.55M179.5 525.2h0.55M176.4 526.7h0.55M189.9 527.9h0.55M200.1 516.1h0.55M200.9 527.9h0.55M182.4 525.5h0.55M192.2 523.5h0.55M186.5 521.7h0.55M183.2 521.6h0.55M178.4 524.2h0.55M198.1 522.5h0.55M198.2 523.0h0.55M205.8 521.2h0.55M189.7 525.5h0.55M194.0 527.9h0.55M204.9 522.1h0.55M194.4 523.8h0.55M192.9 528.6h0.55M190.0 521.1h0.55M168.5 526.3h0.55M191.9 527.0h0.55M195.4 523.0h0.55M182.3 521.0h0.55M194.5 526.9h0.55M174.5 525.4h0.55M191.5 527.7h0.55M202.9 520.7h0.55M196.6 516.8h0.55M215.5 520.5h0.55M182.5 527.1h0.55M178.3 516.1h0.55M191.9 528.5h0.55M197.4 519.2h0.55M187.2 524.5h0.55M184.6 524.7h0.55M179.6 527.5h0.55M187.9 523.2h0.55M183.8 522.6h0.55M182.2 528.8h0.55M181.5 520.7h0.55M186.4 525.8h0.55M182.1 519.7h0.55M195.4 523.5h0.55M177.8 523.3h0.55M182.4 525.4h0.55M173.3 526.8h0.55M204.2 522.0h0.55M188.3 528.6h0.55M184.3 523.8h0.55M201.3 523.3h0.55M191.6 528.6h0.55M181.6 520.3h0.55M210.4 521.0h0.55M187.5 521.2h0.55M195.1 527.8h0.55M183.1 519.1h0.55M187.1 525.0h0.55M192.1 526.0h0.55M185.7 533.0h0.55M187.9 522.0h0.55M194.7 526.2h0.55M173.3 527.8h0.55M185.5 525.6h0.55M194.1 524.1h0.55M201.0 525.8h0.55M186.0 525.2h0.55M197.6 522.7h0.55M195.2 524.8h0.55M192.7 525.2h0.55M182.3 529.2h0.55M199.0 522.3h0.55M200.1 527.6h0.55M198.0 528.1h0.55M194.8 527.3h0.55M194.8 523.1h0.55M189.0 524.7h0.55M191.5 526.4h0.55M179.8 528.1h0.55M193.7 517.7h0.55M188.2 514.9h0.55M184.3 526.9h0.55M200.9 525.3h0.55M196.2 528.0h0.55M196.5 520.9h0.55M195.9 524.6h0.55M199.9 531.0h0.55M193.8 529.8h0.55M192.4 523.0h0.55M196.0 521.2h0.55M186.5 528.6h0.55M188.8 521.4h0.55M187.9 521.8h0.55M213.7 522.6h0.55M205.2 520.8h0.55M189.4 523.0h0.55M192.8 529.2h0.55M182.1 530.1h0.55M188.2 525.2h0.55M174.3 523.6h0.55M187.1 525.0h0.55M187.6 526.5h0.55M189.2 527.1h0.55M197.6 525.3h0.55M199.5 527.0h0.55M181.4 524.4h0.55M194.5 523.8h0.55M184.8 519.7h0.55M199.2 526.6h0.55M191.6 519.8h0.55M209.5 521.0h0.55M205.5 523.3h0.55M191.4 530.3h0.55M201.3 525.3h0.55M200.4 519.8h0.55M191.8 521.2h0.55M174.2 525.5h0.55M197.5 531.2h0.55M197.1 522.3h0.55M191.9 521.4h0.55M185.4 528.6h0.55M201.4 521.5h0.55M193.2 519.2h0.55M201.8 521.9h0.55M198.3 524.4h0.55M183.3 525.4h0.55M187.6 521.3h0.55M195.8 524.9h0.55M185.4 524.3h0.55M185.6 523.7h0.55M200.7 524.2h0.55M193.6 518.1h0.55M183.3 526.0h0.55M184.0 523.1h0.55M177.7 526.8h0.55M181.8 522.7h0.55M193.6 528.0h0.55M190.7 524.1h0.55M177.9 529.1h0.55M189.0 530.5h0.55M203.3 522.7h0.55M195.7 528.5h0.55M176.6 523.8h0.55M189.4 527.3h0.55M186.0 525.4h0.55M182.3 531.3h0.55M189.0 520.6h0.55M191.3 523.9h0.55M193.8 526.1h0.55M184.3 527.7h0.55M186.3 525.4h0.55M199.0 522.2h0.55M197.8 524.5h0.55M191.3 523.9h0.55M185.7 523.6h0.55M181.5 528.4h0.55M198.8 527.7h0.55M193.0 521.5h0.55M192.6 519.8h0.55M187.8 528.3h0.55M203.4 524.3h0.55M185.5 526.7h0.55M184.9 526.1h0.55M194.6 526.7h0.55M187.7 527.0h0.55M187.6 523.5h0.55M190.9 526.1h0.55M180.8 518.8h0.55M200.8 517.9h0.55M194.7 521.6h0.55M188.5 523.3h0.55M178.8 523.2h0.55M196.2 520.9h0.55M193.0 524.4h0.55M194.2 520.8h0.55M202.1 523.7h0.55M194.8 520.5h0.55M192.8 525.0h0.55M173.3 531.0h0.55M197.9 522.0h0.55M206.5 516.2h0.55M206.5 525.6h0.55M191.3 519.2h0.55M196.0 521.9h0.55M196.5 528.3h0.55M206.8 521.1h0.55M188.5 525.8h0.55M209.1 523.0h0.55M201.1 521.2h0.55M204.3 525.3h0.55M192.5 518.2h0.55M183.3 528.7h0.55M200.1 526.3h0.55M205.4 518.6h0.55M188.8 519.7h0.55M184.4 529.3h0.55M190.0 525.8h0.55M176.8 527.1h0.55M179.6 529.8h0.55M199.9 530.4h0.55M180.2 525.6h0.55M183.2 525.9h0.55M187.9 521.2h0.55M193.5 522.8h0.55M181.0 526.6h0.55M186.6 524.2h0.55M178.6 517.3h0.55M198.2 526.6h0.55M193.8 526.0h0.55M176.7 528.1h0.55M202.6 522.4h0.55M200.1 524.9h0.55M181.1 524.3h0.55M185.6 524.0h0.55M173.7 526.2h0.55M188.3 526.3h0.55M181.2 527.3h0.55M190.3 524.4h0.55M185.9 526.6h0.55M193.1 522.1h0.55M192.2 525.6h0.55M193.5 520.4h0.55M192.7 522.4h0.55M184.7 523.1h0.55M194.0 530.0h0.55M185.9 521.7h0.55M179.6 524.1h0.55M197.1 525.8h0.55M202.0 523.0h0.55M185.4 527.2h0.55M194.3 522.3h0.55M191.1 528.2h0.55M205.5 525.6h0.55M187.8 529.0h0.55M199.9 527.2h0.55M197.5 524.6h0.55M192.6 516.1h0.55M190.6 525.5h0.55M182.4 523.0h0.55M200.1 525.7h0.55M193.3 527.4h0.55M177.7 524.7h0.55M191.2 521.9h0.55M207.2 522.7h0.55M184.0 528.3h0.55M190.6 530.3h0.55M194.4 523.9h0.55M194.4 522.5h0.55M192.1 521.9h0.55M193.6 524.9h0.55M188.6 521.1h0.55M185.3 522.1h0.55M186.0 524.9h0.55M206.0 519.5h0.55M181.6 523.0h0.55M195.4 522.4h0.55M189.1 526.3h0.55M192.9 529.6h0.55M194.6 522.4h0.55M191.5 524.8h0.55M178.0 533.1h0.55M192.7 523.6h0.55M184.4 524.5h0.55M182.2 521.6h0.55M181.9 518.0h0.55M185.5 526.9h0.55M168.3 523.3h0.55M184.1 527.0h0.55M198.0 524.5h0.55M196.8 519.9h0.55M202.8 522.5h0.55M198.3 516.8h0.55M186.9 519.0h0.55M184.0 525.7h0.55M196.6 518.5h0.55M197.4 519.2h0.55M193.1 522.8h0.55M168.0 519.4h0.55M195.2 525.7h0.55M181.5 529.5h0.55M198.7 526.2h0.55M214.9 521.3h0.55M182.8 527.3h0.55M202.0 520.5h0.55M208.5 520.1h0.55M202.1 524.1h0.55M196.8 525.7h0.55M190.9 523.1h0.55M175.0 529.5h0.55M202.0 527.8h0.55M183.8 529.3h0.55M185.5 518.7h0.55M192.6 516.0h0.55M202.1 520.9h0.55M178.9 525.4h0.55M188.4 526.9h0.55M198.3 527.2h0.55M187.8 521.3h0.55M195.0 523.0h0.55M185.2 529.5h0.55M192.7 523.3h0.55M175.2 536.3h0.55M174.3 526.4h0.55M193.4 526.3h0.55M187.1 521.9h0.55M178.9 533.8h0.55M197.2 521.0h0.55M194.1 519.7h0.55M182.5 520.1h0.55M184.3 526.1h0.55M183.0 519.9h0.55M188.8 525.3h0.55M182.4 526.2h0.55M195.5 527.6h0.55M178.2 529.9h0.55M196.8 525.4h0.55M198.0 523.0h0.55M183.0 520.1h0.55M165.9 530.6h0.55M196.6 521.8h0.55M190.7 523.7h0.55M200.7 522.9h0.55M203.5 521.0h0.55M174.2 525.5h0.55M194.0 529.2h0.55M187.4 526.6h0.55M195.4 527.5h0.55M193.2 527.0h0.55M184.9 530.6h0.55M181.2 525.0h0.55M199.3 522.4h0.55M196.6 528.9h0.55M193.3 516.2h0.55M186.9 527.3h0.55M198.4 525.9h0.55M201.9 524.0h0.55M191.6 525.2h0.55M186.1 522.4h0.55M182.7 523.2h0.55M189.4 529.2h0.55M198.3 523.8h0.55M176.2 529.8h0.55M195.9 521.6h0.55M185.0 522.5h0.55M189.0 519.7h0.55M183.9 519.4h0.55M189.1 526.8h0.55M195.5 518.4h0.55M200.8 516.8h0.55M173.5 519.2h0.55M201.7 524.3h0.55M189.9 527.8h0.55M178.4 526.9h0.55M190.5 522.3h0.55M192.0 527.3h0.55M184.8 526.9h0.55M204.8 520.3h0.55M196.0 521.9h0.55M199.8 525.7h0.55M181.1 531.3h0.55M194.7 523.5h0.55M189.2 524.3h0.55M197.8 526.3h0.55M208.0 521.0h0.55M207.3 524.9h0.55M202.2 519.2h0.55M189.8 520.7h0.55M187.7 523.2h0.55M172.0 521.7h0.55M197.6 525.6h0.55M189.1 525.9h0.55M192.9 527.3h0.55M187.3 529.1h0.55M202.3 524.0h0.55M192.2 525.5h0.55M198.7 526.3h0.55M202.3 526.2h0.55M184.5 518.6h0.55M185.8 518.0h0.55M184.4 519.3h0.55M190.6 523.3h0.55M204.1 516.6h0.55M185.4 523.1h0.55M180.2 525.0h0.55M165.2 527.2h0.55M174.2 526.9h0.55M189.4 526.2h0.55M203.6 516.1h0.55M212.7 525.8h0.55M206.1 511.7h0.55M205.7 514.1h0.55M215.8 520.1h0.55M217.6 523.5h0.55M212.0 519.7h0.55M209.0 519.5h0.55M215.1 528.4h0.55M213.1 525.8h0.55M202.9 530.0h0.55M206.7 520.2h0.55M218.1 521.7h0.55M206.0 515.5h0.55M212.2 521.5h0.55M211.8 516.3h0.55M209.4 508.6h0.55M200.5 526.7h0.55M205.3 514.2h0.55M215.6 528.3h0.55M208.1 508.3h0.55M209.8 520.0h0.55M210.6 523.8h0.55M211.5 515.4h0.55M213.2 518.0h0.55M212.9 512.7h0.55M199.8 515.0h0.55M209.3 521.2h0.55M209.5 519.1h0.55M204.8 520.0h0.55M213.9 516.6h0.55M212.2 510.2h0.55M211.0 527.2h0.55M207.8 524.4h0.55M204.9 520.2h0.55M201.1 520.1h0.55M204.9 520.0h0.55M199.6 518.8h0.55M215.0 514.1h0.55M207.2 517.0h0.55M203.7 514.3h0.55M201.1 518.0h0.55M204.3 515.5h0.55M208.7 520.4h0.55M213.8 516.6h0.55M210.3 523.3h0.55M202.5 510.8h0.55M212.2 516.3h0.55M218.1 512.5h0.55M209.8 515.3h0.55M202.6 516.4h0.55M208.4 516.4h0.55M200.7 528.5h0.55M217.0 519.8h0.55M215.6 522.3h0.55M210.0 516.4h0.55M209.5 526.2h0.55M212.3 520.0h0.55M213.9 513.5h0.55M203.2 517.3h0.55M206.4 519.4h0.55M207.4 527.9h0.55M205.4 511.6h0.55M207.1 524.2h0.55M206.4 528.3h0.55M208.9 524.8h0.55M212.8 512.0h0.55M206.2 519.3h0.55M215.3 514.9h0.55M206.2 520.2h0.55M205.1 521.9h0.55M204.4 516.4h0.55M208.9 522.1h0.55M213.6 517.7h0.55M207.9 529.0h0.55M204.5 520.5h0.55M211.2 520.4h0.55M206.6 519.3h0.55M199.9 517.7h0.55M210.7 522.9h0.55M209.5 517.5h0.55M216.9 517.4h0.55M209.9 515.8h0.55M201.9 511.7h0.55M204.1 516.4h0.55M212.3 523.0h0.55M208.8 518.2h0.55M206.9 517.6h0.55M204.6 516.5h0.55M206.4 516.6h0.55M202.7 509.7h0.55M209.5 517.0h0.55M201.8 515.3h0.55M208.5 523.3h0.55M207.7 521.8h0.55M199.9 516.1h0.55M204.9 516.5h0.55M209.0 509.5h0.55M205.5 520.2h0.55M215.6 522.8h0.55M202.7 517.1h0.55M210.0 515.6h0.55M207.6 509.3h0.55M209.8 514.5h0.55M209.4 516.4h0.55M214.4 518.0h0.55M212.1 510.7h0.55M205.4 511.8h0.55M210.5 521.0h0.55M206.0 525.7h0.55M211.4 515.7h0.55M204.9 520.7h0.55M209.5 518.4h0.55M209.5 510.8h0.55M203.5 518.1h0.55M206.7 520.1h0.55M208.5 516.8h0.55M209.0 515.0h0.55M213.2 516.7h0.55M205.5 513.6h0.55M210.1 518.6h0.55M198.5 511.3h0.55M211.2 518.3h0.55M209.1 517.9h0.55M211.1 524.3h0.55M210.8 511.4h0.55M209.8 521.2h0.55M211.3 511.4h0.55M205.0 518.8h0.55M207.7 527.0h0.55M210.0 516.1h0.55M205.9 518.1h0.55M206.0 522.8h0.55M210.1 515.6h0.55M209.4 510.2h0.55M207.6 517.4h0.55M208.8 514.8h0.55M207.7 515.6h0.55M216.3 520.9h0.55M208.0 508.5h0.55M207.9 515.3h0.55M209.6 518.0h0.55M208.4 514.2h0.55M209.8 523.9h0.55M211.0 516.3h0.55M212.8 522.1h0.55M210.8 518.2h0.55M208.4 515.9h0.55M206.5 517.7h0.55M195.5 511.9h0.55M211.9 518.1h0.55M210.1 519.9h0.55M209.2 515.6h0.55M207.1 516.4h0.55M208.7 527.8h0.55M205.7 516.1h0.55M198.7 512.4h0.55M213.3 521.6h0.55M212.0 514.6h0.55M211.3 509.5h0.55M206.2 519.2h0.55M213.4 521.7h0.55M208.6 519.3h0.55M196.1 514.8h0.55M211.3 516.0h0.55M206.1 514.4h0.55M198.7 514.6h0.55M210.3 516.3h0.55M214.4 518.7h0.55M205.3 515.0h0.55M207.4 523.8h0.55M207.3 516.7h0.55M210.9 516.0h0.55M208.1 520.9h0.55M203.5 506.1h0.55M212.9 521.3h0.55M210.7 518.6h0.55M210.4 524.5h0.55M204.8 520.0h0.55M204.9 518.9h0.55M199.4 518.9h0.55M211.1 515.4h0.55M202.8 502.0h0.55M205.9 519.4h0.55M208.3 519.9h0.55M212.4 514.5h0.55M209.8 518.0h0.55M206.7 517.3h0.55M204.9 514.3h0.55M209.3 512.1h0.55M209.7 515.4h0.55M215.3 521.4h0.55M211.2 511.3h0.55M206.7 506.5h0.55M197.4 509.0h0.55M205.6 519.3h0.55M196.8 512.1h0.55M203.4 523.0h0.55M213.6 518.2h0.55M213.0 523.4h0.55M206.6 518.7h0.55M220.4 527.4h0.55M211.1 520.0h0.55M205.4 527.1h0.55M208.9 523.1h0.55M204.3 505.4h0.55M207.0 513.7h0.55M204.5 515.7h0.55M214.1 524.3h0.55M204.3 523.2h0.55M208.8 523.4h0.55M206.3 522.3h0.55M210.9 518.4h0.55M204.5 510.9h0.55M209.2 511.3h0.55M209.3 519.5h0.55M220.1 529.5h0.55M209.6 514.4h0.55M213.2 516.2h0.55M211.2 509.2h0.55M205.3 516.6h0.55M204.8 515.5h0.55M214.6 526.0h0.55M204.3 513.7h0.55M211.9 517.0h0.55M207.7 516.2h0.55M216.8 531.2h0.55M204.7 521.2h0.55M209.6 523.3h0.55M217.7 523.4h0.55M209.0 522.7h0.55M205.8 517.4h0.55M207.3 519.2h0.55M206.7 515.4h0.55M206.8 518.8h0.55M214.2 519.7h0.55M213.2 510.8h0.55M213.2 517.0h0.55M209.5 529.5h0.55M212.6 518.2h0.55M214.4 521.5h0.55M206.5 525.9h0.55M207.0 512.5h0.55M200.0 510.3h0.55M208.7 516.4h0.55M211.7 521.5h0.55M202.5 516.5h0.55M211.2 518.5h0.55M209.7 519.4h0.55M204.0 521.7h0.55M210.4 516.2h0.55M206.0 512.1h0.55M217.7 515.9h0.55M207.1 518.3h0.55M200.9 515.2h0.55M197.4 514.9h0.55M210.3 521.1h0.55M204.0 523.0h0.55M196.2 513.1h0.55M216.7 522.6h0.55M204.3 511.9h0.55M205.5 521.0h0.55M209.1 513.1h0.55M213.2 519.2h0.55M209.5 519.2h0.55M209.2 520.6h0.55M214.2 525.0h0.55M209.6 520.6h0.55M206.0 515.2h0.55M204.6 518.4h0.55M217.1 517.2h0.55M208.8 519.6h0.55M201.3 518.2h0.55M212.0 519.5h0.55M206.0 514.4h0.55M210.1 511.1h0.55M210.0 517.6h0.55M206.5 530.6h0.55M210.4 519.3h0.55M207.5 516.8h0.55M210.1 525.1h0.55M211.8 511.4h0.55M213.1 521.5h0.55M211.2 521.5h0.55M207.0 517.2h0.55M207.9 520.6h0.55M202.9 511.5h0.55M208.9 519.7h0.55M211.4 520.4h0.55M211.8 522.1h0.55M209.7 516.1h0.55M209.8 523.0h0.55M210.0 511.4h0.55M208.0 515.0h0.55M207.7 515.6h0.55M218.1 520.5h0.55M199.8 515.7h0.55M199.9 502.2h0.55M214.1 524.4h0.55M210.1 515.0h0.55M207.6 512.6h0.55M216.5 521.3h0.55M209.0 522.4h0.55M204.5 518.8h0.55M218.1 523.5h0.55M208.0 518.0h0.55M207.1 520.7h0.55M211.6 519.3h0.55M209.9 519.9h0.55M200.0 507.6h0.55M198.7 515.7h0.55M213.8 529.0h0.55M206.8 518.0h0.55M210.8 510.8h0.55M204.1 509.0h0.55M210.5 512.7h0.55M211.2 521.6h0.55M206.1 509.8h0.55M213.4 520.9h0.55M209.4 515.4h0.55M206.7 514.2h0.55M208.7 520.2h0.55M204.5 514.3h0.55M201.8 516.9h0.55M211.0 523.0h0.55M205.0 517.0h0.55M208.6 520.7h0.55M206.9 514.4h0.55M205.8 520.7h0.55M209.0 510.5h0.55M211.2 514.2h0.55M209.9 520.9h0.55M212.6 513.4h0.55M205.0 516.1h0.55M205.2 514.8h0.55M205.7 513.7h0.55M206.0 511.4h0.55M209.9 519.1h0.55M210.4 512.6h0.55M214.0 527.2h0.55M207.8 513.2h0.55M208.0 516.8h0.55M205.9 523.9h0.55M207.1 523.6h0.55M203.1 513.5h0.55M210.7 525.9h0.55M206.7 522.2h0.55M211.1 520.1h0.55M212.3 522.7h0.55M202.3 522.3h0.55M214.2 510.5h0.55M211.2 509.4h0.55M214.7 513.1h0.55M209.2 497.6h0.55M211.7 511.9h0.55M199.9 497.4h0.55M213.8 510.5h0.55M213.2 525.3h0.55M211.8 497.7h0.55M206.7 506.2h0.55M200.3 492.2h0.55M207.6 499.8h0.55M210.2 507.9h0.55M219.6 509.2h0.55M216.8 506.1h0.55M206.1 499.0h0.55M201.0 502.0h0.55M212.4 525.1h0.55M219.0 514.5h0.55M218.4 511.6h0.55M214.9 481.2h0.55M207.6 510.6h0.55M210.9 519.0h0.55M200.1 500.1h0.55M198.4 527.3h0.55M218.0 507.5h0.55M207.4 514.5h0.55M206.9 504.4h0.55M209.9 509.9h0.55M202.1 493.5h0.55M204.5 519.9h0.55M220.8 494.1h0.55M203.0 498.3h0.55M213.2 496.2h0.55M208.9 498.9h0.55M205.5 482.0h0.55M210.2 507.4h0.55M213.4 522.9h0.55M200.1 475.8h0.55M207.9 497.3h0.55M213.1 507.2h0.55M197.8 489.0h0.55M205.4 515.8h0.55M203.7 481.2h0.55M203.6 502.2h0.55M214.1 493.5h0.55M210.7 494.5h0.55M208.2 509.2h0.55M204.6 533.0h0.55M206.7 535.3h0.55M211.2 503.6h0.55M214.0 518.7h0.55M207.9 503.0h0.55M218.2 519.2h0.55M215.6 500.5h0.55M211.5 512.9h0.55M202.9 495.0h0.55M196.4 512.3h0.55M211.7 501.2h0.55M216.9 488.0h0.55M205.7 525.4h0.55M209.2 505.6h0.55M207.2 501.0h0.55M218.5 511.7h0.55M210.5 507.8h0.55M206.6 508.6h0.55M207.9 513.9h0.55M212.6 495.9h0.55M206.3 486.6h0.55M209.0 502.6h0.55M204.3 490.3h0.55M212.9 505.2h0.55M208.9 505.7h0.55M209.5 497.7h0.55M211.4 476.2h0.55M210.5 517.6h0.55M216.0 495.9h0.55M216.2 499.1h0.55M206.0 504.2h0.55M206.5 504.8h0.55M212.3 505.0h0.55M207.6 504.3h0.55M211.9 506.6h0.55M212.7 506.9h0.55M211.8 513.3h0.55M210.5 514.8h0.55M212.7 519.3h0.55M209.6 516.2h0.55M206.9 491.7h0.55M211.8 507.3h0.55M217.2 506.2h0.55M200.5 493.4h0.55M206.6 505.2h0.55M213.2 507.2h0.55M205.2 536.8h0.55M209.1 495.4h0.55M205.4 491.2h0.55M210.5 520.9h0.55M215.4 506.4h0.55M209.5 488.4h0.55M211.3 506.4h0.55M207.3 496.4h0.55M213.5 505.7h0.55M212.6 499.0h0.55M210.8 483.9h0.55M206.1 515.6h0.55M209.8 503.8h0.55M216.0 509.8h0.55M209.0 509.1h0.55M211.2 504.8h0.55M211.7 515.3h0.55M208.0 501.2h0.55M205.3 498.8h0.55M206.9 501.9h0.55M204.7 515.6h0.55M204.4 508.1h0.55M212.0 515.4h0.55M213.4 520.4h0.55M209.6 496.0h0.55M207.1 500.4h0.55M207.9 496.2h0.55M211.1 507.9h0.55M210.7 533.6h0.55M209.6 508.0h0.55M208.4 504.4h0.55M209.1 507.7h0.55M212.5 514.7h0.55M209.5 497.6h0.55M208.9 510.4h0.55M209.4 504.6h0.55M211.2 513.5h0.55M209.5 501.3h0.55M206.2 520.4h0.55M209.2 514.0h0.55M209.5 507.6h0.55M206.7 491.1h0.55M212.9 528.1h0.55M209.8 504.0h0.55M205.5 507.8h0.55M212.5 508.0h0.55M208.0 491.5h0.55M200.4 478.7h0.55M216.4 515.5h0.55M205.0 527.0h0.55M208.4 506.2h0.55M212.2 518.2h0.55M212.9 507.8h0.55M214.4 502.0h0.55M215.0 503.2h0.55M211.2 508.9h0.55M202.1 495.5h0.55M211.4 490.5h0.55M215.2 484.2h0.55M203.5 504.0h0.55M204.4 511.0h0.55M208.8 507.5h0.55M215.0 519.4h0.55M208.4 517.0h0.55M210.4 520.1h0.55M212.2 508.2h0.55M203.9 510.3h0.55M202.9 514.2h0.55M210.0 512.0h0.55M204.9 508.1h0.55M209.9 517.5h0.55M207.1 516.1h0.55M209.9 499.5h0.55M204.4 518.1h0.55M207.3 501.1h0.55M207.7 504.3h0.55M214.0 518.1h0.55M214.0 507.1h0.55M207.7 518.0h0.55M212.9 499.3h0.55M200.1 529.9h0.55M213.3 500.3h0.55M213.6 498.4h0.55M204.2 509.7h0.55M211.5 502.1h0.55M212.3 497.5h0.55M208.8 510.4h0.55M208.6 511.2h0.55M205.4 509.6h0.55M209.6 521.9h0.55M220.8 518.6h0.55M210.9 523.6h0.55M209.9 508.7h0.55M206.3 510.5h0.55M210.5 488.0h0.55M217.3 507.1h0.55M204.6 526.4h0.55M213.1 497.1h0.55M211.3 519.4h0.55M201.3 508.2h0.55M208.1 531.3h0.55M212.0 512.9h0.55M213.5 497.4h0.55M210.7 522.4h0.55M213.2 508.4h0.55M214.7 517.1h0.55M205.1 498.0h0.55M196.9 502.0h0.55M208.3 493.2h0.55M205.6 500.3h0.55M212.2 516.2h0.55M209.7 515.7h0.55M205.7 502.9h0.55M201.6 510.1h0.55M212.3 497.7h0.55M210.2 516.0h0.55M212.0 494.8h0.55M209.0 499.4h0.55M218.1 496.4h0.55M206.9 522.9h0.55M209.1 494.8h0.55M216.3 513.3h0.55M204.1 506.8h0.55M211.5 510.1h0.55M207.8 490.4h0.55M205.2 504.2h0.55M215.1 509.1h0.55M206.4 517.9h0.55M212.9 500.7h0.55M208.2 503.6h0.55M199.2 530.8h0.55M205.6 500.4h0.55M218.1 506.0h0.55M208.6 505.6h0.55M208.7 508.8h0.55M222.3 510.3h0.55M208.6 499.8h0.55M200.0 506.8h0.55M210.1 513.4h0.55M207.6 486.5h0.55M205.9 509.0h0.55M207.8 518.6h0.55M212.9 491.1h0.55M210.6 505.5h0.55M202.5 490.5h0.55M208.7 496.4h0.55M216.5 505.2h0.55M211.5 523.1h0.55M218.9 505.5h0.55M214.8 507.3h0.55M209.2 501.9h0.55M206.5 504.3h0.55M206.3 511.1h0.55M211.9 505.7h0.55M202.2 529.7h0.55M213.2 507.6h0.55M213.9 503.1h0.55M212.6 512.4h0.55M208.7 502.7h0.55M205.2 504.9h0.55M205.1 509.2h0.55M202.9 497.6h0.55M208.0 518.7h0.55M213.2 497.5h0.55M211.3 502.5h0.55M211.6 505.0h0.55M199.9 509.6h0.55M215.6 522.1h0.55M213.3 491.5h0.55M210.4 504.6h0.55M215.5 520.2h0.55M220.1 516.7h0.55M207.8 518.6h0.55M213.2 493.4h0.55M207.3 489.2h0.55M206.5 503.4h0.55M212.3 521.1h0.55M214.1 504.4h0.55M215.4 502.4h0.55M210.6 528.4h0.55M215.3 505.0h0.55M202.9 486.8h0.55M201.7 496.7h0.55M211.4 506.9h0.55M209.8 506.7h0.55M215.6 516.3h0.55M210.1 520.0h0.55M217.0 506.8h0.55M216.5 510.9h0.55M209.5 502.0h0.55M209.5 500.3h0.55M208.1 511.6h0.55M204.1 527.9h0.55M205.4 516.3h0.55M206.5 510.3h0.55M210.4 507.7h0.55M203.7 498.9h0.55M209.7 499.5h0.55M218.0 515.0h0.55M211.1 488.8h0.55M209.8 502.0h0.55M213.9 510.1h0.55M210.1 511.2h0.55M212.2 523.2h0.55M215.3 506.6h0.55M204.9 495.3h0.55M209.9 522.2h0.55M212.7 488.1h0.55M207.0 519.7h0.55M208.9 493.3h0.55M207.3 510.8h0.55M211.9 497.2h0.55M202.8 512.9h0.55M207.7 495.3h0.55M210.6 500.3h0.55M218.9 511.7h0.55M214.5 510.4h0.55M205.7 490.8h0.55M203.7 518.2h0.55M213.3 520.6h0.55M209.4 508.3h0.55M204.1 495.0h0.55M207.6 501.4h0.55M205.8 519.9h0.55M201.3 500.7h0.55M210.0 508.5h0.55M219.5 517.7h0.55M206.2 512.6h0.55M211.4 509.0h0.55M204.8 506.5h0.55M204.4 510.7h0.55M208.4 506.0h0.55M211.2 479.7h0.55M209.4 529.0h0.55M213.9 500.1h0.55M209.2 493.1h0.55M207.4 509.4h0.55M205.9 506.2h0.55M212.7 500.6h0.55M206.7 497.8h0.55M211.9 499.4h0.55M205.7 503.1h0.55M200.6 510.7h0.55M210.1 486.9h0.55M208.7 526.3h0.55M203.6 510.7h0.55M210.9 508.0h0.55M206.7 512.9h0.55M206.5 527.1h0.55M205.7 522.9h0.55M216.6 514.6h0.55M210.6 529.4h0.55M212.9 489.4h0.55M204.4 499.7h0.55M205.3 500.9h0.55M199.2 490.6h0.55M198.8 493.2h0.55M192.7 492.6h0.55M201.8 497.0h0.55M195.9 489.0h0.55M189.6 488.5h0.55M195.0 490.9h0.55M187.3 488.4h0.55M193.8 487.7h0.55M191.5 491.3h0.55M189.4 491.7h0.55M188.8 490.8h0.55M188.6 494.4h0.55M199.1 495.0h0.55M190.2 485.0h0.55M187.4 489.1h0.55M201.0 492.6h0.55M198.8 485.3h0.55M201.1 492.7h0.55M191.8 480.3h0.55M190.4 489.5h0.55M203.9 490.8h0.55M194.6 496.0h0.55M203.8 491.4h0.55M198.5 494.7h0.55M190.8 491.5h0.55M192.5 486.3h0.55M197.8 494.2h0.55M205.6 492.9h0.55M201.5 489.3h0.55M186.4 487.6h0.55M197.3 487.7h0.55M205.9 494.6h0.55M193.9 496.6h0.55M198.7 496.3h0.55M194.0 493.0h0.55M193.7 490.1h0.55M201.6 497.3h0.55M195.7 491.1h0.55M190.0 489.2h0.55M197.9 485.2h0.55M192.5 485.8h0.55M196.2 493.4h0.55M197.0 489.0h0.55M189.3 483.9h0.55M195.1 495.8h0.55M193.5 489.8h0.55M192.5 485.7h0.55M201.1 492.7h0.55M186.6 485.3h0.55M202.7 486.7h0.55M194.8 486.1h0.55M196.9 487.0h0.55M191.6 485.8h0.55M205.9 500.0h0.55M196.3 492.6h0.55M198.3 490.1h0.55M194.5 488.7h0.55M199.6 485.3h0.55M190.3 492.7h0.55M187.0 496.2h0.55M193.5 490.8h0.55M202.7 489.9h0.55M195.8 487.8h0.55M198.0 492.7h0.55M190.0 492.6h0.55M200.6 491.8h0.55M190.7 493.6h0.55M202.9 488.2h0.55M184.5 487.3h0.55M195.2 495.0h0.55M201.9 492.7h0.55M191.4 493.0h0.55M195.0 486.1h0.55M184.8 493.9h0.55M185.7 494.8h0.55M208.0 490.2h0.55M190.2 487.6h0.55M191.1 491.5h0.55M200.8 487.1h0.55M193.1 487.5h0.55M201.7 493.8h0.55M190.2 488.9h0.55M196.0 483.2h0.55M191.9 490.6h0.55M187.0 490.9h0.55M195.3 487.9h0.55M201.0 486.4h0.55M197.5 489.1h0.55M201.4 487.0h0.55M198.5 492.4h0.55M201.6 496.2h0.55M186.3 489.7h0.55M188.8 493.8h0.55M202.9 488.9h0.55M196.4 495.1h0.55M196.2 489.5h0.55M185.6 487.3h0.55M200.8 484.4h0.55M196.7 490.9h0.55M190.0 514.6h0.55M184.3 518.1h0.55M186.7 515.9h0.55M185.6 511.6h0.55M187.5 519.8h0.55M182.0 506.4h0.55M201.3 514.7h0.55M189.8 508.5h0.55M180.2 508.5h0.55M192.8 517.0h0.55M197.3 518.4h0.55M193.0 505.9h0.55M187.4 518.9h0.55M190.9 518.2h0.55M177.8 507.2h0.55M183.9 511.6h0.55M184.0 502.4h0.55M189.5 496.8h0.55M185.5 512.5h0.55M181.2 509.7h0.55M183.2 508.0h0.55M191.9 512.8h0.55M193.4 505.7h0.55M201.9 512.0h0.55M185.0 517.8h0.55M187.0 521.5h0.55M196.7 509.5h0.55M186.4 505.2h0.55M184.0 508.5h0.55M200.6 511.2h0.55M189.5 512.6h0.55M187.7 502.8h0.55M178.6 518.4h0.55M188.0 519.5h0.55M205.0 511.8h0.55M196.2 508.0h0.55M189.2 510.6h0.55M190.2 519.0h0.55M189.5 515.4h0.55M191.2 513.9h0.55M204.6 501.1h0.55M199.4 506.5h0.55M191.8 508.2h0.55M186.5 502.2h0.55M169.3 522.8h0.55M197.1 508.8h0.55M175.6 514.2h0.55M202.7 512.8h0.55M176.7 507.1h0.55M192.3 509.8h0.55M199.0 504.4h0.55M185.2 495.4h0.55M199.2 514.0h0.55M186.8 499.5h0.55M197.1 501.7h0.55M180.0 498.6h0.55M178.8 504.5h0.55M181.5 516.6h0.55M195.8 510.5h0.55M185.5 509.8h0.55M227.3 516.0h0.55M200.3 506.4h0.55M199.4 485.2h0.55M219.1 496.3h0.55M205.6 495.7h0.55M197.8 526.7h0.55M170.6 480.7h0.55M199.8 474.5h0.55M230.9 532.8h0.55M239.1 518.7h0.55M230.0 511.4h0.55M172.5 480.5h0.55M232.3 478.9h0.55M202.5 519.2h0.55M217.8 480.9h0.55" stroke="#000" stroke-width="0.55" stroke-opacity="0.6" fill="none"/><path d="M181.0 524.8h0.6M199.3 525.8h0.6M182.4 524.0h0.6M186.6 526.8h0.6M205.3 529.5h0.6M183.1 525.1h0.6M195.1 521.8h0.6M167.1 525.5h0.6M183.6 524.2h0.6M190.1 526.5h0.6M193.9 524.9h0.6M189.3 526.2h0.6M182.6 525.2h0.6M179.2 524.7h0.6M190.5 525.4h0.6M189.7 526.8h0.6M205.8 521.0h0.6M201.8 527.5h0.6M182.8 524.1h0.6M185.4 521.8h0.6M190.1 528.2h0.6M184.1 529.8h0.6M191.2 527.5h0.6M187.3 526.0h0.6M186.4 526.9h0.6M179.6 525.8h0.6M185.6 525.2h0.6M186.1 523.8h0.6M181.7 527.0h0.6M185.9 525.4h0.6M192.0 523.2h0.6M194.9 523.4h0.6M182.2 526.4h0.6M196.8 523.0h0.6M179.6 529.1h0.6M182.7 529.8h0.6M192.2 526.1h0.6M192.0 529.7h0.6M185.1 526.4h0.6M185.4 524.1h0.6M187.9 520.8h0.6M190.4 523.3h0.6M182.8 528.3h0.6M185.9 523.4h0.6M194.6 526.6h0.6M189.3 524.8h0.6M194.4 525.6h0.6M186.4 527.1h0.6M193.5 525.1h0.6M196.5 525.5h0.6M187.5 524.7h0.6M181.8 523.1h0.6M177.8 526.7h0.6M183.9 526.2h0.6M191.9 524.2h0.6M181.5 525.7h0.6M185.5 524.9h0.6M182.2 527.0h0.6M195.8 529.1h0.6M181.0 527.4h0.6M185.4 525.5h0.6M182.3 530.9h0.6M187.9 523.3h0.6M187.7 525.6h0.6M181.3 523.3h0.6M190.2 524.7h0.6M181.4 528.0h0.6M186.3 527.7h0.6M186.8 525.7h0.6M201.8 523.0h0.6M194.7 526.1h0.6M187.0 523.3h0.6M187.3 525.2h0.6M185.2 524.4h0.6M192.3 527.7h0.6M189.4 527.4h0.6M193.2 524.7h0.6M189.7 523.4h0.6M183.1 522.9h0.6M186.1 521.2h0.6M183.4 525.7h0.6M180.9 529.7h0.6M192.0 525.2h0.6M195.8 524.1h0.6M187.4 525.5h0.6M182.9 526.6h0.6M181.6 524.3h0.6M186.8 523.3h0.6M188.7 519.9h0.6M188.5 525.4h0.6M190.7 524.4h0.6M198.4 523.6h0.6M191.6 525.6h0.6M185.0 524.6h0.6M188.8 526.0h0.6M193.5 527.1h0.6M175.2 526.6h0.6M190.9 525.6h0.6M180.7 528.2h0.6M196.3 525.6h0.6M192.4 524.3h0.6M186.3 526.5h0.6M189.6 523.6h0.6M189.0 523.2h0.6M177.0 522.7h0.6M184.2 525.7h0.6M187.8 523.3h0.6M190.9 524.5h0.6M191.2 524.7h0.6M187.2 524.5h0.6M185.3 526.9h0.6M191.3 526.6h0.6M187.6 524.2h0.6M185.2 527.6h0.6M189.8 521.6h0.6M183.3 527.5h0.6M194.8 524.7h0.6M184.9 520.7h0.6M183.3 526.9h0.6M183.1 528.5h0.6M194.6 526.9h0.6M173.8 521.4h0.6M190.4 526.6h0.6M192.4 521.5h0.6M186.2 525.7h0.6M192.6 525.6h0.6M182.5 527.5h0.6M185.4 522.9h0.6M189.8 520.7h0.6M194.8 525.3h0.6M184.8 525.3h0.6M188.1 521.4h0.6M196.0 522.6h0.6M191.8 523.9h0.6M174.8 527.8h0.6M194.5 523.6h0.6M191.6 523.9h0.6M191.3 521.0h0.6M181.1 526.9h0.6M184.3 525.6h0.6M185.4 524.6h0.6M200.6 524.9h0.6M188.0 522.6h0.6M202.3 526.9h0.6M194.6 524.5h0.6M192.8 528.3h0.6M197.7 526.9h0.6M204.1 526.3h0.6M191.2 520.6h0.6M188.0 525.0h0.6M198.4 525.4h0.6M188.6 526.1h0.6M197.0 523.3h0.6M194.4 525.2h0.6M191.6 523.0h0.6M179.7 524.5h0.6M181.6 527.1h0.6M192.7 521.3h0.6M187.2 526.6h0.6M181.1 526.3h0.6M185.6 524.0h0.6M193.1 531.4h0.6M181.1 522.8h0.6M186.5 526.2h0.6M199.5 524.1h0.6M184.9 528.7h0.6M178.2 524.9h0.6M190.3 524.2h0.6M187.0 527.0h0.6M194.8 524.6h0.6M191.9 523.5h0.6M191.6 528.7h0.6M177.5 528.6h0.6M198.7 525.4h0.6M173.3 526.7h0.6M192.8 526.2h0.6M189.8 524.3h0.6M186.7 526.2h0.6M189.3 525.1h0.6M194.7 524.8h0.6M183.8 525.6h0.6M189.2 522.3h0.6M181.1 523.2h0.6M184.0 524.7h0.6M183.3 527.5h0.6M190.0 519.1h0.6M201.0 522.7h0.6M194.0 525.5h0.6M175.9 527.1h0.6M189.2 527.9h0.6M189.5 526.9h0.6M185.7 521.4h0.6M182.3 529.0h0.6M190.4 526.7h0.6M184.9 524.8h0.6M190.6 527.1h0.6M192.2 524.0h0.6M183.0 527.3h0.6M178.4 524.5h0.6M196.6 527.1h0.6M197.7 524.0h0.6M189.7 528.6h0.6M187.9 522.8h0.6M188.4 527.9h0.6M199.3 522.1h0.6M181.8 525.8h0.6M194.5 524.6h0.6M187.6 523.0h0.6M191.9 528.0h0.6M186.3 527.6h0.6M188.3 524.1h0.6M186.2 523.5h0.6M185.8 524.7h0.6M190.0 524.6h0.6M194.2 527.7h0.6M197.6 525.3h0.6M196.1 526.7h0.6M189.5 525.6h0.6M185.2 526.1h0.6M187.0 526.0h0.6M185.9 524.4h0.6M190.0 524.7h0.6M192.6 524.0h0.6M179.8 522.7h0.6M177.6 524.7h0.6M184.3 525.4h0.6M189.3 526.3h0.6M177.5 525.5h0.6M188.3 524.2h0.6M175.6 528.1h0.6M181.2 525.6h0.6M199.9 525.7h0.6M199.2 523.5h0.6M182.1 524.4h0.6M192.2 520.8h0.6M183.7 526.3h0.6M191.2 525.8h0.6M198.1 523.0h0.6M187.0 527.0h0.6M188.2 522.8h0.6M191.3 527.3h0.6M191.9 525.6h0.6M185.4 524.3h0.6M187.8 521.7h0.6M191.7 525.2h0.6M184.3 528.0h0.6M191.2 526.1h0.6M188.9 523.6h0.6M193.0 524.9h0.6M188.1 523.8h0.6M171.2 525.9h0.6M184.0 524.9h0.6M170.7 521.6h0.6M190.4 525.5h0.6M180.8 525.4h0.6M194.5 528.1h0.6M184.1 524.9h0.6M189.7 524.7h0.6M187.1 521.9h0.6M187.3 524.1h0.6M185.2 526.0h0.6M194.8 527.6h0.6M183.5 523.6h0.6M194.7 523.6h0.6M186.2 527.8h0.6M193.7 523.4h0.6M185.0 525.3h0.6M188.6 525.0h0.6M190.4 528.6h0.6M182.2 524.8h0.6M180.7 529.3h0.6M185.4 525.9h0.6M191.3 525.3h0.6M187.0 527.8h0.6M193.9 521.7h0.6M191.4 525.8h0.6M200.6 524.3h0.6M193.2 522.8h0.6M187.5 527.5h0.6M196.7 525.3h0.6M189.4 526.4h0.6M188.2 524.0h0.6M182.8 526.3h0.6M194.4 521.0h0.6M192.7 525.4h0.6M183.5 524.3h0.6M190.5 521.5h0.6M191.2 525.3h0.6M191.9 524.8h0.6M194.3 523.1h0.6M186.5 522.2h0.6M188.4 527.5h0.6M191.8 524.0h0.6M193.4 522.4h0.6M191.9 522.5h0.6M189.8 524.0h0.6M195.4 524.9h0.6M182.4 526.9h0.6M190.2 525.0h0.6M194.9 524.4h0.6M184.5 526.8h0.6M180.1 522.5h0.6M179.0 526.3h0.6M179.0 525.5h0.6M181.0 525.4h0.6M195.1 525.4h0.6M191.7 524.9h0.6M185.4 526.7h0.6M184.7 527.2h0.6M198.2 526.9h0.6M193.7 525.0h0.6M191.0 522.7h0.6M183.1 523.3h0.6M192.1 527.8h0.6M202.3 521.2h0.6M182.7 524.5h0.6M183.8 525.3h0.6M191.6 526.3h0.6M192.9 523.8h0.6M187.1 523.0h0.6M197.3 521.5h0.6M183.0 529.1h0.6M181.3 524.1h0.6M191.7 523.0h0.6M188.7 527.1h0.6M189.0 525.0h0.6M208.5 524.8h0.6M195.9 524.3h0.6M186.3 525.4h0.6M184.1 528.3h0.6M202.4 521.4h0.6M178.4 526.5h0.6M192.9 524.4h0.6M188.5 527.2h0.6M190.5 525.0h0.6M196.8 527.7h0.6M185.6 524.3h0.6M196.7 524.7h0.6M183.2 529.9h0.6M176.5 524.9h0.6M190.9 523.1h0.6M185.4 523.8h0.6M184.8 526.0h0.6M185.6 523.4h0.6M181.1 525.1h0.6M195.8 524.8h0.6M187.2 525.4h0.6M182.5 527.8h0.6M174.1 525.6h0.6M180.5 520.4h0.6M176.6 525.7h0.6M180.3 525.1h0.6M184.9 526.6h0.6M191.9 523.9h0.6M206.2 525.6h0.6M189.1 524.7h0.6M180.6 526.3h0.6M186.6 521.5h0.6M187.2 524.7h0.6M182.0 524.5h0.6M195.8 524.4h0.6M176.6 524.0h0.6M180.2 525.2h0.6M200.8 525.9h0.6M173.5 526.8h0.6M194.8 524.5h0.6M193.9 530.7h0.6M184.5 520.7h0.6M183.1 526.4h0.6M194.5 523.7h0.6M188.8 528.7h0.6M191.4 523.6h0.6M182.1 524.2h0.6M194.7 524.7h0.6M183.0 525.8h0.6M190.6 528.0h0.6M179.4 522.4h0.6M195.3 523.1h0.6M189.5 525.5h0.6M188.7 525.4h0.6M185.3 522.8h0.6M201.8 525.2h0.6M180.4 526.0h0.6M190.8 526.2h0.6M190.1 522.6h0.6M190.6 526.7h0.6M186.2 526.7h0.6M191.3 526.2h0.6M179.2 525.0h0.6M191.3 527.6h0.6M187.4 523.0h0.6M190.8 527.8h0.6M186.0 529.1h0.6M184.1 526.0h0.6M181.5 524.3h0.6M181.4 525.4h0.6M189.6 526.0h0.6M190.8 522.9h0.6M193.7 526.1h0.6M186.2 525.5h0.6M183.5 523.7h0.6M190.7 528.4h0.6M194.0 527.6h0.6M189.7 526.3h0.6M186.5 524.9h0.6M187.4 527.2h0.6M192.2 523.2h0.6M182.6 524.7h0.6M189.0 524.9h0.6M190.5 521.6h0.6M188.5 524.4h0.6M196.3 523.8h0.6M186.7 528.8h0.6M191.5 527.8h0.6M190.8 526.1h0.6M189.6 526.7h0.6M187.1 524.6h0.6M197.6 526.8h0.6M197.2 523.7h0.6M177.1 526.3h0.6M187.5 525.6h0.6M186.4 524.7h0.6M185.8 525.1h0.6M190.0 526.2h0.6M184.1 526.2h0.6M182.3 529.3h0.6M177.4 526.0h0.6M194.8 527.3h0.6M187.3 526.9h0.6M190.2 526.9h0.6M194.7 525.4h0.6M196.3 529.0h0.6M189.3 521.2h0.6M180.1 527.6h0.6M179.3 523.5h0.6M185.6 528.1h0.6M188.9 526.1h0.6M189.1 524.7h0.6M179.3 524.2h0.6M187.6 526.5h0.6M187.6 527.1h0.6M200.0 527.1h0.6M195.0 524.7h0.6M189.9 526.2h0.6M188.8 524.5h0.6M183.7 529.6h0.6M191.4 523.9h0.6M191.2 522.9h0.6M195.2 524.1h0.6M183.4 524.6h0.6M192.8 525.0h0.6M192.9 530.5h0.6M178.4 525.8h0.6M198.1 523.8h0.6M193.3 523.4h0.6M201.0 523.8h0.6M191.4 523.9h0.6M195.7 525.7h0.6M192.9 520.7h0.6M194.2 526.6h0.6M180.5 523.4h0.6M189.0 526.4h0.6M182.3 524.7h0.6M186.1 524.6h0.6M199.0 526.6h0.6M188.4 526.1h0.6M189.1 523.6h0.6M191.0 525.8h0.6M195.8 528.0h0.6M173.9 521.5h0.6M182.3 524.7h0.6M184.3 525.8h0.6M189.2 527.0h0.6M187.5 528.2h0.6M185.8 522.6h0.6M188.9 525.3h0.6M191.3 522.8h0.6M176.0 525.7h0.6M188.0 522.2h0.6M184.5 525.3h0.6M181.4 528.9h0.6M191.7 523.8h0.6M180.9 527.7h0.6M186.0 526.8h0.6M189.8 525.2h0.6M187.7 521.2h0.6M183.4 527.1h0.6M193.4 524.1h0.6M186.1 526.8h0.6M187.7 524.5h0.6M185.3 525.7h0.6M193.9 524.5h0.6M190.2 526.5h0.6M195.7 523.4h0.6M190.2 525.3h0.6M173.5 525.6h0.6M181.5 527.1h0.6M180.2 529.0h0.6M184.3 523.6h0.6M190.1 528.2h0.6M174.9 528.4h0.6M173.4 527.3h0.6M192.9 525.3h0.6M186.1 527.2h0.6M182.6 523.9h0.6M180.7 524.6h0.6M186.2 526.7h0.6M183.6 526.5h0.6M191.1 525.0h0.6M182.1 524.7h0.6M194.8 520.1h0.6M187.7 523.6h0.6M187.8 523.3h0.6M190.5 524.5h0.6M182.1 523.9h0.6M195.1 525.2h0.6M182.8 523.8h0.6M184.8 525.5h0.6M184.7 521.8h0.6M187.3 524.9h0.6M186.6 524.1h0.6M188.5 521.0h0.6M188.2 528.0h0.6M186.8 525.5h0.6M186.0 528.2h0.6M192.0 522.3h0.6M194.7 523.7h0.6M187.5 526.9h0.6M192.4 523.1h0.6M182.6 527.6h0.6M192.7 526.6h0.6M189.1 524.3h0.6M188.7 523.6h0.6M198.3 522.1h0.6M192.7 525.7h0.6M185.7 527.1h0.6M192.9 525.0h0.6M196.8 523.0h0.6M181.7 525.3h0.6M176.6 527.1h0.6M190.9 523.8h0.6M200.9 527.3h0.6M182.3 532.6h0.6M175.4 526.5h0.6M194.3 521.5h0.6M190.4 525.1h0.6M197.2 526.3h0.6M182.0 523.6h0.6M189.5 522.4h0.6M181.7 523.8h0.6M194.9 521.1h0.6M194.2 521.6h0.6M181.6 526.8h0.6M195.6 523.2h0.6M188.6 525.5h0.6M194.8 527.6h0.6M184.3 529.4h0.6M205.1 521.4h0.6M183.7 525.9h0.6M189.7 522.9h0.6M184.9 524.4h0.6M179.8 527.8h0.6M182.2 521.9h0.6M186.2 528.8h0.6M176.7 528.2h0.6M180.9 524.1h0.6M179.1 529.4h0.6M185.4 526.4h0.6M189.0 525.6h0.6M190.0 526.2h0.6M189.0 522.2h0.6M191.9 525.9h0.6M186.9 528.2h0.6M182.2 528.1h0.6M188.4 527.4h0.6M192.4 523.8h0.6M182.5 526.0h0.6M193.1 527.0h0.6M179.0 527.2h0.6M179.9 527.5h0.6M182.2 523.9h0.6M199.6 524.1h0.6M208.2 523.3h0.6M195.0 525.2h0.6M192.5 525.1h0.6M193.6 524.5h0.6M178.7 523.6h0.6M199.1 527.6h0.6M183.3 525.4h0.6M190.6 525.8h0.6M190.5 527.1h0.6M189.9 523.9h0.6M184.6 523.8h0.6M184.5 523.1h0.6M191.5 525.5h0.6M192.6 527.0h0.6M188.7 525.7h0.6M200.4 525.9h0.6M187.4 521.3h0.6M186.6 526.0h0.6M192.5 522.9h0.6M196.9 524.9h0.6M187.9 524.8h0.6M175.5 525.8h0.6M187.0 522.1h0.6M186.3 527.2h0.6M193.9 529.2h0.6M191.7 525.4h0.6M190.4 524.4h0.6M206.1 526.2h0.6M201.9 527.1h0.6M195.0 523.9h0.6M172.4 524.0h0.6M189.4 522.7h0.6M189.4 526.0h0.6M178.2 520.5h0.6M188.7 526.4h0.6M182.5 523.9h0.6M187.8 529.0h0.6M186.0 529.6h0.6M195.6 523.5h0.6M187.8 523.2h0.6M184.0 523.2h0.6M185.9 522.3h0.6M193.5 525.5h0.6M184.3 523.5h0.6M197.6 526.0h0.6M194.4 525.8h0.6M180.1 526.9h0.6M197.7 527.3h0.6M181.1 524.4h0.6M190.9 528.0h0.6M186.1 526.2h0.6M181.3 526.6h0.6M170.6 528.8h0.6M187.1 525.6h0.6M190.0 527.6h0.6M195.5 526.8h0.6M191.5 521.5h0.6M181.9 526.4h0.6M186.2 524.8h0.6M188.0 524.0h0.6M179.7 528.4h0.6M188.2 525.3h0.6M186.2 527.2h0.6M186.5 524.5h0.6M189.4 525.8h0.6M188.8 524.5h0.6M180.2 526.5h0.6M182.1 523.8h0.6M182.6 525.6h0.6M189.4 523.9h0.6M191.8 524.3h0.6M187.1 525.2h0.6M175.4 526.9h0.6M186.3 525.3h0.6M192.7 523.5h0.6M185.5 522.4h0.6M177.8 528.9h0.6M197.1 527.4h0.6M181.0 527.9h0.6M183.7 528.8h0.6M192.8 524.3h0.6M184.0 525.7h0.6M196.8 526.6h0.6M181.4 525.2h0.6M185.5 527.4h0.6M200.9 523.7h0.6M193.2 524.9h0.6M195.4 522.5h0.6M186.6 529.1h0.6M195.6 528.3h0.6M181.9 527.6h0.6M179.5 524.9h0.6M180.6 522.7h0.6M192.7 525.8h0.6M182.8 522.9h0.6M199.6 525.7h0.6M186.0 526.9h0.6M188.1 522.8h0.6M180.8 527.2h0.6M186.9 529.8h0.6M186.4 528.5h0.6M188.3 519.6h0.6M194.7 519.6h0.6M189.3 527.7h0.6M198.4 526.4h0.6M189.5 527.1h0.6M185.3 523.5h0.6M184.1 525.5h0.6M182.3 529.5h0.6M189.1 528.6h0.6M188.3 526.6h0.6M186.5 524.1h0.6M186.8 524.6h0.6M184.1 523.5h0.6M193.8 526.9h0.6M184.4 526.7h0.6M184.2 527.7h0.6M184.8 527.4h0.6M192.5 526.2h0.6M192.1 522.8h0.6M189.1 526.7h0.6M187.7 529.0h0.6M183.4 526.5h0.6M186.8 522.8h0.6M187.3 525.5h0.6M176.7 524.3h0.6M188.3 524.0h0.6M186.5 522.0h0.6M185.8 525.5h0.6M186.7 530.7h0.6M188.2 526.4h0.6M187.8 527.6h0.6M173.8 529.4h0.6M185.4 523.0h0.6M184.8 522.3h0.6M193.1 524.0h0.6M194.6 525.1h0.6M189.8 523.9h0.6M185.2 524.1h0.6M179.7 527.0h0.6M190.4 526.2h0.6M191.9 524.0h0.6M181.1 522.5h0.6M184.9 529.4h0.6M201.8 529.6h0.6M199.5 520.4h0.6M200.8 522.5h0.6M191.3 521.4h0.6M189.1 527.0h0.6M192.6 525.4h0.6M184.0 529.0h0.6M188.4 526.8h0.6M184.5 525.6h0.6M189.9 526.0h0.6M183.3 522.9h0.6M190.1 526.0h0.6M185.9 526.1h0.6M177.5 527.9h0.6M195.8 528.2h0.6M192.1 523.5h0.6M180.9 525.0h0.6M198.5 526.2h0.6M185.0 526.6h0.6M196.8 526.6h0.6M191.8 527.0h0.6M195.6 523.1h0.6M200.2 523.3h0.6M181.1 526.1h0.6M191.5 528.0h0.6M186.6 527.0h0.6M185.7 525.2h0.6M187.0 526.3h0.6M180.7 526.9h0.6M182.1 523.3h0.6M199.8 525.5h0.6M186.9 526.3h0.6M194.2 525.4h0.6M194.6 525.2h0.6M188.3 525.0h0.6M185.9 524.4h0.6M188.1 526.8h0.6M178.4 526.6h0.6M182.8 526.7h0.6M177.5 530.0h0.6M192.0 526.6h0.6M186.1 528.6h0.6M203.3 523.4h0.6M199.0 527.7h0.6M186.2 526.8h0.6M185.3 526.0h0.6M185.2 524.6h0.6M200.8 525.5h0.6M188.2 524.2h0.6M191.8 527.8h0.6M192.5 523.0h0.6M183.8 528.5h0.6M196.0 523.0h0.6M194.6 525.8h0.6M184.5 528.3h0.6M188.2 524.8h0.6M191.8 527.5h0.6M191.6 523.5h0.6M189.4 525.2h0.6M185.3 524.2h0.6M177.0 529.7h0.6M195.1 525.3h0.6M194.3 524.5h0.6M195.7 524.4h0.6M186.2 525.7h0.6M196.3 520.9h0.6M199.8 527.3h0.6M189.1 525.4h0.6M178.7 523.7h0.6M185.2 524.1h0.6M186.6 521.6h0.6M190.5 525.1h0.6M187.1 522.4h0.6M189.6 527.0h0.6M188.6 527.0h0.6M183.8 526.0h0.6M190.3 525.4h0.6M193.9 526.4h0.6M186.0 527.8h0.6M173.8 527.6h0.6M184.4 525.9h0.6M182.7 528.3h0.6M189.6 522.7h0.6M196.7 527.0h0.6M185.0 526.5h0.6M198.6 523.7h0.6M197.7 522.6h0.6M191.5 523.8h0.6M177.8 523.2h0.6M191.8 523.6h0.6M187.6 526.8h0.6M192.9 521.7h0.6M190.7 526.0h0.6M194.9 527.0h0.6M194.4 523.7h0.6M191.0 529.1h0.6M183.0 526.2h0.6M194.3 522.8h0.6M192.6 528.4h0.6M179.7 526.0h0.6M192.3 521.5h0.6M190.9 526.2h0.6M184.5 526.3h0.6M192.5 526.2h0.6M189.1 527.0h0.6M186.4 526.9h0.6M185.8 524.4h0.6M180.4 523.5h0.6M183.7 524.6h0.6M190.3 525.8h0.6M191.2 523.1h0.6M193.7 522.8h0.6M187.8 526.0h0.6M188.4 522.1h0.6M187.2 527.3h0.6M195.1 523.2h0.6M182.2 525.2h0.6M181.1 524.9h0.6M197.0 524.8h0.6M188.3 525.9h0.6M193.3 524.2h0.6M175.1 524.7h0.6M177.9 523.5h0.6M186.5 526.1h0.6M182.5 525.5h0.6M192.1 525.4h0.6M197.1 519.9h0.6M197.8 528.1h0.6M182.8 529.3h0.6M184.7 522.5h0.6M194.2 525.7h0.6M193.1 523.2h0.6M194.7 523.5h0.6M200.0 525.6h0.6M192.6 527.7h0.6M177.5 525.6h0.6M181.5 527.8h0.6M186.6 525.0h0.6M180.0 527.0h0.6M189.1 524.3h0.6M188.0 527.2h0.6M183.6 524.3h0.6M188.9 525.6h0.6M190.5 525.0h0.6M194.0 523.4h0.6M186.2 525.9h0.6M190.1 529.6h0.6M189.1 526.7h0.6M186.2 524.4h0.6M183.8 527.7h0.6M187.9 526.3h0.6M170.1 524.3h0.6M189.3 526.4h0.6M187.8 523.7h0.6M190.9 524.7h0.6M189.6 525.4h0.6M178.0 526.2h0.6M190.3 526.6h0.6M183.8 523.4h0.6M191.6 523.0h0.6M185.9 527.1h0.6M189.4 527.7h0.6M191.4 524.6h0.6M188.3 525.7h0.6M177.5 523.6h0.6M184.4 525.7h0.6M180.4 523.0h0.6M195.2 528.4h0.6M180.1 527.8h0.6M188.7 527.4h0.6M187.7 523.2h0.6M188.7 524.8h0.6M194.3 523.9h0.6M192.2 526.2h0.6M181.9 527.8h0.6M181.0 523.5h0.6M184.4 527.1h0.6M185.2 523.6h0.6M205.9 524.9h0.6M193.1 526.9h0.6M197.1 526.0h0.6M190.5 522.6h0.6M190.7 524.9h0.6M182.8 527.1h0.6M180.3 527.2h0.6M190.7 524.3h0.6M186.9 524.7h0.6M198.0 520.8h0.6M183.2 525.8h0.6M175.6 524.8h0.6M181.5 525.9h0.6M184.9 525.6h0.6M181.1 526.6h0.6M190.8 525.0h0.6M189.4 525.4h0.6M186.5 524.5h0.6M191.5 525.2h0.6M199.0 525.7h0.6M185.3 519.3h0.6M194.7 525.0h0.6M201.9 525.6h0.6M181.9 526.5h0.6M182.1 525.4h0.6M182.7 526.9h0.6M188.7 525.5h0.6M198.2 522.2h0.6M181.8 527.6h0.6M192.9 522.1h0.6M200.4 527.1h0.6M186.0 529.2h0.6M180.3 529.7h0.6M182.8 524.4h0.6M190.2 527.4h0.6M196.9 526.1h0.6M190.7 527.8h0.6M191.4 523.7h0.6M181.8 519.2h0.6M181.4 526.2h0.6M191.8 526.5h0.6M191.1 526.4h0.6M187.5 526.8h0.6M193.9 523.7h0.6M176.6 526.4h0.6M189.1 523.4h0.6M191.3 525.6h0.6M195.5 524.9h0.6M189.5 521.3h0.6M188.1 527.7h0.6M190.7 524.7h0.6M186.4 524.2h0.6M198.9 524.9h0.6M190.8 523.9h0.6M179.4 525.9h0.6M192.6 523.7h0.6M178.2 527.3h0.6M199.1 526.0h0.6M191.1 524.0h0.6M181.1 527.0h0.6M193.3 525.0h0.6M184.1 525.2h0.6M185.4 524.0h0.6M180.1 528.5h0.6M192.0 522.3h0.6M191.0 526.9h0.6M186.7 525.2h0.6M186.8 522.4h0.6M188.3 525.1h0.6M192.0 526.7h0.6M192.1 523.8h0.6M183.7 526.7h0.6M187.6 525.8h0.6M185.6 526.1h0.6M194.2 526.7h0.6M175.5 526.6h0.6M189.8 527.6h0.6M184.0 524.0h0.6M188.6 524.1h0.6M181.5 523.0h0.6M180.1 524.3h0.6M186.1 524.5h0.6M185.7 527.7h0.6M184.0 523.0h0.6M189.6 525.5h0.6M176.2 524.8h0.6M190.4 523.7h0.6M188.4 526.6h0.6M194.3 527.8h0.6M180.2 527.2h0.6M184.3 530.3h0.6M194.5 523.9h0.6M174.5 523.4h0.6M186.0 525.0h0.6M193.7 523.2h0.6M189.4 525.8h0.6M185.0 526.6h0.6M187.6 525.4h0.6M184.1 524.2h0.6M196.4 526.6h0.6M201.0 525.9h0.6M179.9 523.2h0.6M201.8 523.0h0.6M186.0 523.4h0.6M181.6 526.9h0.6M194.2 526.6h0.6M197.0 524.0h0.6M186.7 528.0h0.6M183.2 528.5h0.6M197.3 531.3h0.6M193.6 525.6h0.6M178.3 526.7h0.6M180.4 523.2h0.6M195.0 524.1h0.6M191.6 525.4h0.6M190.0 522.9h0.6M186.5 522.5h0.6M192.4 525.7h0.6M193.6 525.0h0.6M184.1 528.4h0.6M180.6 527.4h0.6M184.8 522.9h0.6M193.3 523.3h0.6M191.4 524.9h0.6M194.0 524.1h0.6M181.0 524.7h0.6M200.2 524.2h0.6M189.0 524.5h0.6M174.7 527.7h0.6M177.4 524.5h0.6M183.3 526.0h0.6M188.5 523.6h0.6M186.6 521.4h0.6M182.3 531.1h0.6M178.6 521.5h0.6M186.8 523.8h0.6M191.9 524.6h0.6M180.8 527.0h0.6M193.4 526.1h0.6M187.3 529.4h0.6M197.3 524.6h0.6M194.1 524.9h0.6M200.7 522.8h0.6M188.8 524.0h0.6M193.7 524.7h0.6M191.6 523.2h0.6M189.7 525.2h0.6M186.0 521.9h0.6M190.8 527.5h0.6M197.2 525.1h0.6M191.4 527.3h0.6M180.6 526.1h0.6M191.2 521.9h0.6M191.4 523.4h0.6M188.1 528.3h0.6M176.4 526.3h0.6M187.4 525.0h0.6M186.3 524.9h0.6M177.2 524.2h0.6M187.4 524.0h0.6M182.5 529.1h0.6M184.1 525.8h0.6M187.9 526.4h0.6M191.1 528.4h0.6M177.3 527.7h0.6M183.0 524.7h0.6M176.6 523.0h0.6M192.7 529.3h0.6M190.5 523.6h0.6M198.3 526.9h0.6M180.7 526.0h0.6M198.0 524.7h0.6M192.9 526.9h0.6M178.9 526.6h0.6M185.4 528.5h0.6M177.3 523.4h0.6M185.0 523.2h0.6M192.7 527.4h0.6M194.7 524.7h0.6M180.2 526.6h0.6M197.9 524.7h0.6M189.1 523.5h0.6M175.2 526.0h0.6M187.5 527.4h0.6M186.6 522.8h0.6M187.7 526.2h0.6M186.8 527.5h0.6M182.4 526.7h0.6M188.7 525.5h0.6M175.6 522.7h0.6M180.8 526.6h0.6M191.9 525.2h0.6M183.8 522.9h0.6M186.6 526.6h0.6M193.1 525.5h0.6M179.0 526.2h0.6M192.7 522.1h0.6M198.5 526.9h0.6M188.8 525.2h0.6M188.8 524.0h0.6M176.9 527.3h0.6M178.4 523.5h0.6M183.9 526.9h0.6M194.4 523.5h0.6M192.6 527.2h0.6M186.1 524.1h0.6M183.2 524.4h0.6M186.8 525.4h0.6M192.8 527.1h0.6M187.0 521.0h0.6M188.8 528.3h0.6M201.3 526.7h0.6M186.0 523.1h0.6M187.6 523.2h0.6M196.9 525.8h0.6M185.7 522.0h0.6M190.8 525.4h0.6M197.3 527.2h0.6M192.1 526.0h0.6M183.5 523.8h0.6M185.5 525.8h0.6M185.1 524.7h0.6M181.7 527.1h0.6M178.3 527.9h0.6M195.8 524.0h0.6M185.0 527.5h0.6M191.8 525.3h0.6M185.7 525.3h0.6M181.4 523.8h0.6M184.4 524.1h0.6M184.9 523.8h0.6M189.4 527.2h0.6M193.4 525.4h0.6M183.7 525.4h0.6M189.2 525.4h0.6M193.0 526.7h0.6M183.3 529.0h0.6M185.9 527.7h0.6M190.6 526.3h0.6M193.2 525.7h0.6M189.6 527.2h0.6M199.9 524.6h0.6M189.4 526.7h0.6M191.9 524.5h0.6M179.9 524.6h0.6M190.0 527.6h0.6M200.3 525.7h0.6M185.5 526.1h0.6M198.2 522.2h0.6M192.5 523.6h0.6M183.5 524.8h0.6M179.0 525.8h0.6M183.8 524.3h0.6M191.2 526.1h0.6M182.2 524.4h0.6M179.8 525.3h0.6M178.0 523.5h0.6M189.7 526.6h0.6M187.9 524.3h0.6M183.7 527.5h0.6M190.0 526.8h0.6M190.1 523.8h0.6M179.7 524.7h0.6M190.6 526.8h0.6M193.4 523.4h0.6M189.1 525.6h0.6M181.9 525.3h0.6M191.4 522.8h0.6M189.5 524.5h0.6M180.8 522.6h0.6M198.1 521.4h0.6M189.1 526.2h0.6M177.7 522.7h0.6M186.6 524.3h0.6M177.9 526.5h0.6M178.4 525.8h0.6M181.2 526.4h0.6M191.6 527.1h0.6M189.3 521.0h0.6M188.2 523.0h0.6M184.6 528.5h0.6M185.9 526.6h0.6M195.0 523.6h0.6M191.4 529.1h0.6M190.2 525.9h0.6M198.7 524.0h0.6M186.9 525.2h0.6M189.5 526.2h0.6M184.6 523.2h0.6M195.8 526.1h0.6M182.7 523.0h0.6M183.5 522.9h0.6M188.8 527.8h0.6M197.6 525.0h0.6M188.9 523.1h0.6M183.0 523.8h0.6M191.7 523.1h0.6M185.1 526.6h0.6M179.4 525.3h0.6M192.9 528.1h0.6M191.6 526.5h0.6M178.0 527.4h0.6M198.8 522.9h0.6M192.7 526.8h0.6M192.6 526.7h0.6M186.5 525.7h0.6M187.9 523.9h0.6M179.5 526.0h0.6M178.6 524.0h0.6M198.3 527.6h0.6M195.0 525.3h0.6M190.2 524.9h0.6M189.9 523.1h0.6M195.3 525.4h0.6M192.5 528.5h0.6M187.6 528.1h0.6M191.0 526.7h0.6M191.6 523.3h0.6M189.5 524.8h0.6M172.0 523.4h0.6M192.1 526.5h0.6M189.0 525.5h0.6M183.3 525.2h0.6M192.3 522.4h0.6M188.5 526.3h0.6M186.9 527.6h0.6M190.6 525.7h0.6M193.0 521.3h0.6M184.5 524.5h0.6M184.1 524.2h0.6M197.5 523.1h0.6M189.9 523.8h0.6M189.9 526.3h0.6M188.3 526.2h0.6M189.0 523.9h0.6M194.0 520.7h0.6M184.6 527.6h0.6M194.2 523.1h0.6M193.5 525.7h0.6M187.6 524.8h0.6M188.4 521.9h0.6M189.0 524.8h0.6M185.2 524.0h0.6M191.5 525.5h0.6M171.7 524.8h0.6M175.6 524.0h0.6M187.8 523.4h0.6M179.8 525.9h0.6M187.0 527.3h0.6M180.1 524.3h0.6M186.6 524.4h0.6M180.8 521.4h0.6M174.7 525.4h0.6M200.9 525.3h0.6M193.3 525.1h0.6M187.4 527.4h0.6M199.4 525.6h0.6M180.9 523.0h0.6M183.6 527.1h0.6M191.2 521.4h0.6M187.1 524.4h0.6M178.5 525.2h0.6M183.8 526.1h0.6M186.8 522.9h0.6M192.5 525.3h0.6M188.6 525.0h0.6M183.3 525.6h0.6M183.7 525.6h0.6M185.7 524.3h0.6M197.4 526.5h0.6M182.8 526.8h0.6M193.1 527.2h0.6M187.5 525.6h0.6M192.1 524.1h0.6M192.0 525.8h0.6M192.3 525.0h0.6M191.3 522.6h0.6M187.8 525.5h0.6M187.4 519.5h0.6M181.7 525.5h0.6M194.1 528.8h0.6M188.0 526.7h0.6M187.1 520.8h0.6M180.6 523.4h0.6M181.4 525.3h0.6M193.1 520.2h0.6M190.9 523.2h0.6M187.8 523.1h0.6M183.6 524.4h0.6M191.0 529.0h0.6M183.2 524.2h0.6M185.7 522.2h0.6M192.7 524.7h0.6M192.6 523.1h0.6M184.1 524.3h0.6M193.0 523.9h0.6M203.7 522.4h0.6M198.6 519.5h0.6M198.5 526.1h0.6M200.8 519.6h0.6M200.4 520.9h0.6M199.6 522.6h0.6M195.8 520.8h0.6M203.0 521.5h0.6M201.9 520.4h0.6M206.3 523.8h0.6M202.3 523.0h0.6M202.7 519.8h0.6M203.0 524.9h0.6M199.5 528.0h0.6M198.5 527.1h0.6M200.9 520.3h0.6M196.7 522.6h0.6M198.9 521.6h0.6M204.0 520.4h0.6M203.2 520.0h0.6M198.4 522.9h0.6M197.8 522.6h0.6M199.0 520.5h0.6M195.3 520.1h0.6M200.9 523.4h0.6M206.4 514.8h0.6M205.1 519.4h0.6M201.4 520.9h0.6M201.8 527.2h0.6M204.2 521.0h0.6M202.1 524.0h0.6M205.1 515.6h0.6M202.8 518.2h0.6M199.9 521.4h0.6M205.8 517.4h0.6M204.7 518.0h0.6M200.7 520.1h0.6M200.1 528.0h0.6M198.0 519.7h0.6M199.4 528.1h0.6M202.0 522.3h0.6M198.3 523.9h0.6M198.2 524.9h0.6M202.2 520.0h0.6M201.0 520.2h0.6M197.8 524.5h0.6M202.5 523.1h0.6M202.0 524.0h0.6M196.8 524.7h0.6M201.4 518.7h0.6M196.6 525.3h0.6M202.6 520.8h0.6M205.6 522.7h0.6M199.8 521.6h0.6M207.3 523.6h0.6M198.4 517.8h0.6M202.6 520.9h0.6M199.5 520.0h0.6M198.5 524.7h0.6M200.2 520.7h0.6M205.4 518.3h0.6M200.4 519.3h0.6M201.1 523.8h0.6M201.9 520.4h0.6M202.9 525.0h0.6M195.4 520.9h0.6M205.1 526.0h0.6M203.8 524.7h0.6M201.0 525.0h0.6M202.1 521.5h0.6M199.6 522.7h0.6M202.7 524.5h0.6M202.9 524.2h0.6M202.4 520.4h0.6M199.6 524.0h0.6M198.4 523.4h0.6M200.6 520.9h0.6M204.9 518.7h0.6M198.1 523.4h0.6M201.8 524.6h0.6M203.9 521.2h0.6M203.8 523.2h0.6M204.7 519.0h0.6M202.1 520.5h0.6M204.6 524.6h0.6M201.5 521.3h0.6M203.6 517.2h0.6M201.8 518.4h0.6M199.0 521.6h0.6M202.1 520.9h0.6M202.2 518.1h0.6M203.1 521.3h0.6M200.4 520.1h0.6M197.1 525.0h0.6M200.9 525.8h0.6M204.6 522.3h0.6M200.7 522.8h0.6M204.3 518.1h0.6M201.0 521.8h0.6M196.5 523.5h0.6M200.1 521.7h0.6M204.2 519.3h0.6M202.6 525.3h0.6M197.1 522.8h0.6M203.4 520.5h0.6M205.2 525.7h0.6M198.7 523.1h0.6M201.4 519.1h0.6M198.6 516.9h0.6M201.6 520.5h0.6M195.1 520.9h0.6M198.2 522.7h0.6M198.1 521.7h0.6M200.8 524.1h0.6M193.3 524.3h0.6M201.3 521.6h0.6M202.5 520.9h0.6M200.6 521.4h0.6M205.9 519.9h0.6M204.8 519.6h0.6M196.9 521.1h0.6M201.6 522.1h0.6M200.6 521.0h0.6M201.7 523.3h0.6M203.6 520.1h0.6M198.5 521.9h0.6M205.1 521.6h0.6M200.2 524.8h0.6M200.4 520.7h0.6M198.2 526.6h0.6M198.3 522.3h0.6M199.8 520.5h0.6M203.9 520.6h0.6M200.7 523.5h0.6M202.9 526.0h0.6M205.0 523.0h0.6M203.1 523.1h0.6M205.8 524.7h0.6M195.4 521.2h0.6M197.7 524.3h0.6M198.5 523.4h0.6M199.9 519.2h0.6M202.2 521.3h0.6M204.4 517.7h0.6M201.4 522.9h0.6M203.7 524.0h0.6M203.0 522.5h0.6M196.6 522.6h0.6M197.7 523.6h0.6M204.9 523.8h0.6M196.2 524.0h0.6M199.1 525.6h0.6M203.3 526.2h0.6M200.6 520.7h0.6M200.7 522.0h0.6M201.8 521.0h0.6M205.2 521.3h0.6M205.8 522.2h0.6M198.6 522.5h0.6M201.3 520.3h0.6M202.8 525.5h0.6M199.6 521.9h0.6M195.7 524.1h0.6M204.1 525.7h0.6M200.4 525.5h0.6M199.8 524.2h0.6M199.9 524.7h0.6M193.7 523.4h0.6M207.0 518.1h0.6M205.1 520.3h0.6M204.2 520.5h0.6M197.4 522.9h0.6M203.7 522.6h0.6M202.9 520.9h0.6M199.9 519.6h0.6M197.2 521.6h0.6M198.9 524.3h0.6M203.4 519.9h0.6M198.3 523.0h0.6M193.9 523.7h0.6M195.9 520.9h0.6M202.7 523.7h0.6M206.4 519.8h0.6M202.5 518.0h0.6M202.3 520.0h0.6M201.6 520.3h0.6M200.5 515.9h0.6M199.5 528.2h0.6M199.4 522.3h0.6M203.9 521.2h0.6M199.2 520.9h0.6M202.2 523.3h0.6M200.1 522.5h0.6M199.8 520.9h0.6M201.2 522.2h0.6M202.8 520.8h0.6M199.6 525.5h0.6M205.4 516.1h0.6M198.7 524.5h0.6M198.3 520.1h0.6" stroke="#000" stroke-width="0.6" stroke-opacity="0.8" fill="none"/><path d="M193.5 602.1h0.55M190.0 598.4h0.55M198.4 600.4h0.55M193.0 604.5h0.55M211.1 595.5h0.55M183.5 598.0h0.55M193.6 604.9h0.55M201.8 600.0h0.55M178.2 598.5h0.55M209.8 601.1h0.55M197.5 599.4h0.55M193.8 604.2h0.55M196.5 602.9h0.55M187.8 601.1h0.55M185.7 602.4h0.55M196.0 609.7h0.55M208.8 594.0h0.55M201.6 597.5h0.55M192.3 599.6h0.55M175.8 601.3h0.55M202.3 598.8h0.55M197.0 598.0h0.55M186.8 602.3h0.55M184.5 598.1h0.55M189.1 600.9h0.55M197.9 594.3h0.55M193.9 596.3h0.55M188.5 602.4h0.55M191.5 609.6h0.55M182.9 595.2h0.55M189.3 601.5h0.55M192.0 598.7h0.55M185.3 592.2h0.55M204.7 600.4h0.55M192.9 603.2h0.55M196.6 597.9h0.55M187.9 601.6h0.55M208.0 600.9h0.55M202.9 601.5h0.55M192.7 602.1h0.55M185.4 598.1h0.55M188.8 600.7h0.55M195.9 599.7h0.55M197.9 599.6h0.55M191.7 598.3h0.55M185.4 601.7h0.55M202.8 600.1h0.55M189.1 596.1h0.55M191.5 599.2h0.55M191.8 599.8h0.55M191.0 601.1h0.55M211.8 597.5h0.55M190.0 603.0h0.55M184.4 602.7h0.55M184.0 604.4h0.55M197.3 597.2h0.55M184.2 603.9h0.55M207.1 594.5h0.55M184.9 602.0h0.55M207.7 599.3h0.55M186.5 603.4h0.55M194.2 599.4h0.55M197.8 597.7h0.55M193.1 608.5h0.55M173.5 602.7h0.55M205.6 597.9h0.55M196.0 598.9h0.55M207.0 597.7h0.55M199.1 599.4h0.55M206.1 598.2h0.55M203.1 595.8h0.55M198.8 597.5h0.55M198.0 597.5h0.55M198.4 597.0h0.55M198.3 598.2h0.55M179.6 605.3h0.55M198.0 594.9h0.55M185.0 601.4h0.55M191.8 604.2h0.55M208.7 595.7h0.55M193.2 604.8h0.55M194.6 600.2h0.55M194.2 599.9h0.55M192.5 598.4h0.55M199.4 597.9h0.55M189.6 604.6h0.55M192.8 599.3h0.55M184.5 603.4h0.55M188.1 600.6h0.55M197.5 601.1h0.55M195.8 603.6h0.55M201.1 600.0h0.55M193.3 596.8h0.55M196.2 596.2h0.55M196.6 598.7h0.55M172.5 600.0h0.55M188.6 599.4h0.55M190.9 599.4h0.55M201.0 603.6h0.55M184.2 595.8h0.55M194.9 598.7h0.55M206.5 598.6h0.55M190.0 600.8h0.55M191.2 606.3h0.55M198.1 603.5h0.55M175.3 593.4h0.55M196.4 604.1h0.55M190.9 598.5h0.55M183.1 604.7h0.55M206.9 600.7h0.55M195.4 600.5h0.55M203.4 600.4h0.55M192.1 597.3h0.55M197.2 604.3h0.55M181.0 597.2h0.55M189.7 599.8h0.55M198.0 600.3h0.55M182.2 603.8h0.55M201.4 599.1h0.55M190.9 604.3h0.55M194.4 600.5h0.55M192.3 602.5h0.55M209.3 602.3h0.55M191.3 600.6h0.55M202.5 599.6h0.55M177.9 600.7h0.55M206.8 599.5h0.55M193.5 600.0h0.55M206.0 599.6h0.55M186.5 587.0h0.55M192.9 602.8h0.55M199.8 592.1h0.55M194.1 607.2h0.55M192.1 607.9h0.55M191.0 599.9h0.55M200.6 603.7h0.55M204.0 596.5h0.55M197.2 600.6h0.55M192.6 595.4h0.55M203.9 604.2h0.55M193.1 600.3h0.55M196.6 600.6h0.55M200.2 602.8h0.55M187.0 601.2h0.55M186.4 600.8h0.55M197.6 602.8h0.55M194.1 597.4h0.55M181.0 601.6h0.55M190.9 605.6h0.55M203.6 597.6h0.55M185.9 600.4h0.55M197.2 599.1h0.55M195.9 598.8h0.55M190.5 601.0h0.55M180.2 603.4h0.55M180.5 602.7h0.55M179.8 601.9h0.55M184.1 602.3h0.55M180.5 599.7h0.55M197.5 600.9h0.55M202.0 603.8h0.55M195.3 601.7h0.55M185.8 603.5h0.55M198.7 595.0h0.55M206.4 595.2h0.55M199.2 596.7h0.55M189.3 596.4h0.55M206.5 598.8h0.55M179.1 599.5h0.55M194.6 599.9h0.55M185.5 604.3h0.55M197.7 602.6h0.55M193.6 602.9h0.55M178.3 595.4h0.55M204.2 594.0h0.55M203.6 599.0h0.55M193.7 605.9h0.55M182.7 602.9h0.55M195.1 602.1h0.55M190.1 599.2h0.55M188.0 599.4h0.55M194.4 599.5h0.55M198.1 597.3h0.55M193.2 599.8h0.55M204.4 603.9h0.55M181.2 607.5h0.55M184.5 601.3h0.55M200.8 595.7h0.55M207.3 596.9h0.55M207.5 598.3h0.55M191.5 598.7h0.55M198.1 599.2h0.55M189.3 599.7h0.55M180.1 599.3h0.55M198.5 597.7h0.55M195.6 600.5h0.55M189.5 599.7h0.55M180.6 596.0h0.55M191.9 600.5h0.55M203.9 593.7h0.55M193.8 603.8h0.55M190.9 600.2h0.55M196.3 598.0h0.55M197.5 601.5h0.55M186.0 603.0h0.55M199.8 600.9h0.55M185.2 595.4h0.55M191.4 598.6h0.55M192.6 596.0h0.55M202.3 598.2h0.55M198.2 597.7h0.55M201.3 600.2h0.55M185.4 598.1h0.55M192.0 598.8h0.55M192.8 603.7h0.55M192.2 599.8h0.55M202.9 602.1h0.55M180.5 595.8h0.55M189.6 600.0h0.55M205.0 603.8h0.55M191.2 607.1h0.55M200.1 597.4h0.55M205.9 598.2h0.55M207.1 596.8h0.55M185.6 602.9h0.55M186.8 601.4h0.55M188.3 600.4h0.55M204.3 599.8h0.55M194.3 597.2h0.55M203.4 602.3h0.55M206.6 595.2h0.55M191.8 602.2h0.55M191.7 595.3h0.55M185.8 600.8h0.55M206.2 601.5h0.55M194.1 593.9h0.55M214.8 596.1h0.55M199.3 599.9h0.55M192.7 597.5h0.55M191.1 601.1h0.55M202.9 601.0h0.55M192.6 599.5h0.55M191.2 597.7h0.55M200.4 598.5h0.55M202.3 603.5h0.55M192.7 602.4h0.55M181.1 606.6h0.55M177.5 599.7h0.55M181.2 600.6h0.55M195.9 600.3h0.55M205.5 589.7h0.55M207.3 601.8h0.55M187.9 578.6h0.55M194.8 592.2h0.55M205.8 593.0h0.55M219.7 590.2h0.55M193.9 593.3h0.55M219.1 605.4h0.55M204.5 591.2h0.55M207.6 594.7h0.55M203.9 586.3h0.55M217.1 601.9h0.55M205.2 585.5h0.55M200.2 581.1h0.55M195.4 587.9h0.55M199.4 592.2h0.55M201.0 582.8h0.55M202.0 570.5h0.55M207.8 588.1h0.55M215.7 586.5h0.55M184.8 559.7h0.55M198.6 583.4h0.55M172.0 550.0h0.55M185.5 564.2h0.55M191.5 552.3h0.55M166.6 606.8h0.55M234.2 612.3h0.55M238.6 558.5h0.55M216.6 553.7h0.55M223.6 555.8h0.55" stroke="#000" stroke-width="0.55" stroke-opacity="0.6" fill="none"/><path d="M188.3 601.0h0.6M188.6 601.7h0.6M194.2 598.1h0.6M196.1 601.5h0.6M188.0 598.2h0.6M191.9 600.1h0.6M199.8 603.1h0.6M190.2 599.0h0.6M199.7 599.7h0.6M202.0 598.4h0.6M191.0 598.3h0.6M193.5 601.4h0.6M197.9 600.4h0.6M190.9 601.9h0.6M198.1 601.3h0.6M196.1 600.4h0.6M193.9 600.4h0.6M205.4 600.3h0.6M191.8 601.1h0.6M190.9 600.1h0.6M195.2 601.2h0.6M205.5 596.6h0.6M197.3 599.1h0.6M196.8 598.2h0.6M193.3 602.1h0.6M192.3 602.8h0.6M192.1 603.8h0.6M185.7 601.1h0.6M198.4 598.3h0.6M196.4 601.4h0.6M191.6 601.3h0.6M197.7 598.8h0.6M195.4 600.6h0.6M210.4 597.7h0.6M191.4 599.4h0.6M187.0 603.3h0.6M189.9 597.9h0.6M190.1 601.5h0.6M192.3 596.0h0.6M202.4 598.1h0.6M201.9 601.5h0.6M200.6 600.6h0.6M193.4 606.3h0.6M194.6 603.3h0.6M196.2 597.6h0.6M192.9 603.2h0.6M197.5 601.9h0.6M191.1 601.0h0.6M193.2 600.9h0.6M197.5 600.0h0.6M191.7 599.4h0.6M208.4 598.9h0.6M198.0 600.8h0.6M198.9 600.3h0.6M195.3 599.5h0.6M194.6 601.0h0.6M204.1 601.0h0.6M188.9 602.1h0.6M203.3 600.4h0.6M194.8 603.6h0.6M196.6 599.5h0.6M188.1 597.2h0.6M196.2 599.6h0.6M206.2 596.1h0.6M193.1 601.3h0.6M185.7 604.0h0.6M201.7 600.6h0.6M192.2 601.0h0.6M201.0 602.9h0.6M184.9 602.8h0.6M198.1 597.3h0.6M200.5 601.0h0.6M203.7 600.9h0.6M195.2 600.9h0.6M191.0 606.0h0.6M190.1 600.9h0.6M192.2 601.1h0.6M194.0 600.7h0.6M199.6 600.0h0.6M201.8 601.3h0.6M195.7 597.7h0.6M190.9 602.5h0.6M192.9 597.5h0.6M201.3 600.1h0.6M182.1 603.3h0.6M192.7 601.9h0.6M199.2 601.7h0.6M197.5 599.9h0.6M198.0 597.2h0.6M197.8 597.8h0.6M196.8 603.1h0.6M192.3 599.6h0.6M191.6 599.7h0.6M188.3 603.2h0.6M196.0 600.0h0.6M193.3 598.5h0.6M200.2 599.0h0.6M198.9 599.5h0.6M189.4 600.9h0.6M191.6 604.6h0.6M196.9 602.9h0.6M198.0 597.3h0.6M193.0 600.4h0.6M202.4 601.5h0.6M189.0 599.5h0.6M195.0 600.1h0.6M200.8 599.8h0.6M200.6 595.6h0.6M186.0 600.8h0.6M198.0 599.3h0.6M198.7 604.0h0.6M191.9 602.6h0.6M190.0 605.7h0.6M206.3 599.7h0.6M193.1 600.8h0.6M188.0 603.0h0.6M203.4 599.2h0.6M195.3 602.5h0.6M205.4 599.6h0.6M193.5 602.0h0.6M191.1 596.7h0.6M190.3 601.2h0.6M198.6 601.6h0.6M194.9 603.8h0.6M187.8 599.4h0.6M189.8 601.3h0.6M194.1 600.2h0.6M188.2 600.0h0.6M191.1 597.9h0.6M191.8 598.3h0.6M200.8 599.1h0.6M200.5 601.5h0.6M200.5 602.5h0.6M189.6 601.6h0.6M190.7 601.6h0.6M181.5 604.0h0.6M197.3 600.7h0.6M195.8 600.0h0.6M197.0 598.8h0.6M189.4 601.3h0.6M189.7 600.7h0.6M194.3 599.5h0.6M187.7 605.1h0.6M194.8 602.2h0.6M201.2 596.5h0.6M189.3 597.8h0.6M179.3 605.5h0.6M184.6 602.2h0.6M200.9 597.3h0.6M199.0 601.3h0.6M199.2 597.8h0.6M185.0 599.8h0.6M197.9 602.6h0.6M179.7 599.9h0.6M206.8 596.6h0.6M192.8 600.7h0.6M196.4 597.4h0.6M189.1 600.4h0.6M197.5 599.9h0.6M186.1 602.5h0.6M179.7 602.7h0.6M189.7 596.9h0.6M197.4 599.8h0.6M197.4 598.2h0.6M196.5 598.0h0.6M196.8 600.2h0.6M191.4 598.8h0.6M194.7 598.7h0.6M189.6 605.1h0.6M192.9 601.6h0.6M195.5 601.3h0.6M194.5 597.8h0.6M187.9 606.5h0.6M190.4 601.3h0.6M191.9 604.5h0.6M196.6 601.6h0.6M192.0 596.4h0.6M196.0 601.4h0.6M191.8 600.8h0.6M200.7 599.8h0.6M193.0 601.9h0.6M183.9 602.7h0.6M187.9 602.8h0.6M178.8 604.7h0.6M178.8 601.5h0.6M200.6 600.4h0.6M195.0 603.2h0.6M189.5 603.3h0.6M197.9 599.8h0.6M188.7 600.5h0.6M194.0 603.3h0.6M193.9 601.2h0.6M187.0 603.0h0.6M201.6 599.5h0.6M193.5 601.5h0.6M181.4 605.6h0.6M192.4 599.6h0.6M188.9 602.1h0.6M186.4 602.9h0.6M187.7 600.2h0.6M194.5 600.7h0.6M198.2 600.7h0.6M195.4 599.6h0.6M197.3 599.9h0.6M202.9 600.9h0.6M191.5 602.4h0.6M186.8 602.7h0.6M195.7 603.2h0.6M195.7 600.7h0.6M205.2 597.3h0.6M194.0 602.0h0.6M191.1 603.3h0.6M196.5 599.0h0.6M192.2 599.3h0.6M195.9 600.4h0.6M204.0 595.3h0.6M191.2 599.6h0.6M189.4 600.5h0.6M199.7 600.8h0.6M195.4 601.1h0.6M197.2 598.2h0.6M195.3 598.6h0.6M194.5 598.3h0.6M192.3 602.5h0.6M190.8 598.5h0.6M186.5 598.3h0.6M192.8 601.0h0.6M189.5 600.0h0.6M197.1 602.4h0.6M187.3 599.7h0.6M195.1 598.7h0.6M208.6 600.1h0.6M197.5 600.0h0.6M192.0 598.2h0.6M188.7 600.2h0.6M202.0 599.7h0.6M192.8 599.6h0.6M194.9 603.9h0.6M190.1 601.3h0.6M196.6 603.9h0.6M195.5 596.1h0.6M187.0 600.8h0.6M205.3 595.4h0.6M200.5 594.6h0.6M197.9 598.5h0.6M185.0 602.1h0.6M197.1 599.6h0.6M193.3 602.8h0.6M186.0 598.0h0.6M202.0 598.9h0.6M183.2 601.6h0.6M187.8 600.6h0.6M196.9 599.4h0.6M186.1 601.0h0.6M193.7 601.3h0.6M188.9 601.6h0.6M189.7 605.0h0.6M189.4 600.6h0.6M194.8 601.0h0.6M194.9 598.0h0.6M198.8 598.4h0.6M205.8 604.4h0.6M189.0 600.3h0.6M198.5 602.3h0.6M201.2 597.0h0.6M188.2 601.5h0.6M189.7 601.6h0.6M193.6 599.3h0.6M191.3 601.6h0.6M192.4 600.0h0.6M187.3 602.0h0.6M190.1 598.8h0.6M203.2 600.3h0.6M197.1 598.2h0.6M192.4 603.7h0.6M195.3 599.7h0.6M191.7 602.2h0.6M192.8 597.0h0.6M189.3 599.8h0.6M182.1 601.4h0.6M192.6 600.7h0.6M193.8 605.9h0.6M195.7 602.4h0.6M193.7 599.9h0.6M189.8 602.1h0.6M194.5 598.4h0.6M192.9 608.0h0.6M194.8 601.8h0.6M198.4 607.1h0.6M201.4 597.9h0.6M204.4 600.0h0.6M193.1 601.7h0.6M194.5 603.8h0.6M186.7 604.5h0.6M208.2 595.9h0.6M193.6 602.5h0.6M209.6 600.9h0.6M192.6 604.2h0.6M199.9 597.8h0.6M199.3 598.2h0.6M197.4 596.2h0.6M186.9 603.1h0.6M197.5 595.5h0.6M186.5 597.2h0.6M199.5 596.8h0.6M198.1 600.7h0.6M189.3 602.1h0.6M200.8 602.0h0.6M187.6 603.4h0.6M180.4 600.9h0.6M197.8 598.1h0.6M197.6 601.2h0.6M192.6 599.9h0.6M187.5 601.6h0.6M196.8 598.6h0.6M201.1 598.7h0.6M198.7 599.4h0.6M192.1 601.9h0.6M197.2 603.9h0.6M200.6 600.7h0.6M194.0 601.1h0.6M197.4 598.2h0.6M189.8 597.7h0.6M192.7 597.6h0.6M204.2 598.7h0.6M197.9 603.8h0.6M203.8 598.9h0.6M193.5 600.9h0.6M196.0 596.7h0.6M190.3 602.8h0.6M192.0 601.5h0.6M187.8 603.8h0.6M189.9 599.9h0.6M188.1 599.8h0.6M191.5 598.9h0.6M195.2 601.9h0.6M196.1 602.1h0.6M197.3 603.4h0.6M195.9 605.7h0.6M190.0 601.2h0.6M200.0 598.4h0.6M182.6 600.1h0.6M202.8 599.4h0.6M186.9 601.1h0.6M198.7 599.1h0.6M195.6 602.6h0.6M183.6 602.2h0.6M198.1 597.2h0.6M203.5 598.5h0.6M202.9 600.3h0.6M195.0 598.8h0.6M185.4 598.5h0.6M189.1 601.7h0.6M192.6 600.7h0.6M200.5 600.5h0.6M186.6 597.6h0.6M193.4 600.3h0.6M195.8 601.0h0.6M195.0 599.4h0.6M187.1 599.8h0.6M196.1 599.1h0.6M198.3 598.5h0.6M186.0 600.2h0.6M179.6 599.9h0.6M207.2 596.4h0.6M201.6 601.6h0.6M191.2 598.7h0.6M195.1 599.5h0.6M179.7 603.5h0.6M192.9 601.8h0.6M192.9 600.7h0.6M199.0 599.7h0.6M192.5 597.9h0.6M193.2 597.9h0.6M203.4 598.4h0.6M191.7 602.9h0.6M196.7 596.8h0.6M199.0 598.9h0.6M195.0 601.2h0.6M195.6 602.4h0.6M197.9 600.7h0.6M190.8 601.9h0.6M190.8 598.7h0.6M189.1 600.3h0.6M194.8 598.1h0.6M192.0 599.9h0.6M198.2 601.1h0.6M198.5 600.3h0.6M193.3 601.7h0.6M193.4 598.0h0.6M193.5 601.3h0.6M184.5 606.3h0.6M189.6 603.4h0.6M208.1 596.6h0.6M200.4 600.5h0.6M191.3 602.2h0.6M191.0 601.8h0.6M194.4 599.1h0.6M190.1 601.2h0.6M188.0 600.7h0.6M195.3 598.6h0.6M190.1 599.5h0.6M206.8 596.2h0.6M197.9 599.7h0.6M196.5 602.7h0.6M192.7 602.8h0.6M186.7 604.1h0.6M188.7 600.5h0.6M191.5 600.8h0.6M189.5 600.1h0.6M190.1 600.2h0.6M190.3 603.8h0.6M187.0 601.0h0.6M185.9 598.4h0.6M192.5 597.8h0.6M193.4 598.1h0.6M193.9 599.0h0.6M187.8 606.4h0.6M189.6 603.6h0.6M191.3 600.9h0.6M194.7 597.9h0.6M198.6 601.4h0.6M196.3 600.9h0.6M199.7 604.3h0.6M186.3 601.9h0.6M183.7 603.7h0.6M187.7 601.5h0.6M196.9 603.1h0.6M190.0 603.1h0.6M188.3 602.0h0.6M196.5 600.9h0.6M203.5 598.9h0.6M187.5 601.4h0.6M183.3 601.9h0.6M199.7 600.7h0.6M195.0 601.7h0.6M197.5 601.1h0.6M193.2 601.3h0.6M188.2 600.1h0.6M195.1 602.7h0.6M187.3 603.4h0.6M200.0 599.9h0.6M195.9 599.6h0.6M201.4 594.7h0.6M188.7 603.3h0.6M201.6 598.3h0.6M193.2 599.5h0.6M190.9 600.4h0.6M201.3 598.3h0.6M191.0 599.2h0.6M190.1 603.5h0.6M190.7 602.4h0.6M194.6 601.6h0.6M196.9 595.0h0.6M198.3 602.8h0.6M187.8 599.5h0.6M194.8 598.9h0.6M200.3 598.6h0.6M189.6 601.5h0.6M194.4 595.9h0.6M181.5 600.5h0.6M194.2 602.2h0.6M193.3 602.4h0.6M206.4 596.2h0.6M197.2 597.0h0.6M203.0 600.6h0.6M201.4 601.4h0.6M188.9 600.7h0.6M201.4 597.8h0.6M197.7 598.4h0.6M198.3 599.8h0.6M195.6 600.1h0.6M194.7 602.9h0.6M183.0 602.7h0.6M194.4 600.1h0.6M189.0 602.9h0.6M193.4 600.3h0.6M191.3 603.2h0.6M196.6 600.9h0.6M203.7 597.2h0.6M190.8 597.8h0.6M202.4 599.4h0.6M204.7 597.7h0.6M182.8 603.4h0.6M185.0 605.5h0.6M198.1 599.3h0.6M192.4 603.1h0.6M186.5 603.6h0.6M191.7 598.7h0.6M188.0 600.5h0.6M189.1 604.3h0.6M202.7 603.1h0.6M195.5 602.5h0.6M189.5 605.3h0.6M188.1 605.1h0.6M189.0 599.8h0.6M195.2 601.7h0.6M188.8 601.9h0.6M197.4 597.2h0.6M194.6 606.8h0.6M194.4 599.4h0.6M190.9 602.7h0.6M192.4 596.6h0.6M197.4 598.5h0.6M190.2 599.9h0.6M194.8 598.0h0.6M197.8 604.5h0.6M189.5 602.3h0.6M198.0 597.2h0.6M188.3 601.6h0.6M190.8 601.8h0.6M192.2 595.6h0.6M189.6 605.1h0.6M193.4 600.3h0.6M192.6 600.3h0.6M203.8 597.9h0.6M194.4 602.7h0.6M199.1 598.9h0.6M193.9 601.6h0.6M183.5 604.0h0.6M189.8 598.9h0.6M184.4 598.8h0.6M186.8 603.8h0.6M192.9 598.6h0.6M190.7 600.2h0.6M185.2 596.1h0.6M192.3 595.4h0.6M193.3 600.0h0.6M188.8 599.2h0.6M198.4 595.1h0.6M196.4 600.4h0.6M194.9 598.3h0.6M195.3 601.5h0.6M191.4 596.9h0.6M196.3 598.2h0.6M209.4 598.8h0.6M191.7 598.8h0.6M191.1 601.6h0.6M196.7 600.7h0.6M194.8 598.9h0.6M187.6 598.5h0.6M183.5 603.1h0.6M196.4 601.0h0.6M198.9 598.7h0.6M183.1 603.7h0.6M194.7 600.1h0.6M189.2 603.4h0.6M196.2 602.6h0.6M194.0 600.4h0.6M189.4 599.9h0.6M202.4 598.6h0.6M188.9 600.9h0.6M189.5 604.0h0.6M195.8 600.2h0.6M194.9 601.8h0.6M191.2 601.5h0.6M186.5 602.9h0.6M192.0 599.4h0.6M194.0 603.4h0.6M190.0 601.6h0.6M194.0 598.6h0.6M198.2 601.9h0.6M193.7 600.8h0.6M186.7 601.1h0.6M197.0 603.0h0.6M189.7 598.1h0.6M193.5 599.0h0.6M196.4 599.6h0.6M202.4 597.4h0.6M183.7 602.2h0.6M196.7 602.1h0.6M201.1 598.7h0.6M186.7 602.0h0.6M191.8 600.6h0.6M192.1 602.5h0.6M194.7 600.7h0.6M191.6 597.1h0.6M189.5 605.3h0.6M189.3 602.0h0.6M195.9 601.0h0.6M183.6 605.8h0.6M198.1 603.0h0.6M197.2 598.7h0.6M194.7 601.8h0.6M195.3 602.5h0.6M192.6 604.2h0.6M201.2 599.5h0.6M190.6 604.5h0.6M204.9 598.0h0.6M204.6 599.5h0.6M196.8 600.8h0.6M188.4 603.6h0.6M194.9 601.8h0.6M176.5 603.1h0.6M190.3 600.4h0.6M188.7 600.0h0.6M189.7 598.4h0.6M193.5 606.1h0.6M199.5 598.4h0.6M188.1 599.6h0.6M205.6 595.0h0.6M192.9 603.2h0.6M193.0 601.0h0.6M187.6 601.9h0.6M186.8 605.2h0.6M195.7 603.0h0.6M189.6 601.3h0.6M194.0 603.0h0.6M199.6 596.3h0.6M187.9 606.0h0.6M192.4 603.2h0.6M201.9 596.4h0.6M196.4 599.5h0.6M192.5 600.0h0.6M193.9 600.3h0.6M190.6 603.6h0.6M189.3 604.5h0.6M194.4 599.6h0.6M203.2 595.3h0.6M189.4 602.6h0.6M193.3 600.1h0.6M199.5 594.9h0.6M196.8 599.6h0.6M208.3 600.6h0.6M197.6 600.9h0.6M187.1 605.2h0.6M195.8 602.3h0.6M188.7 601.8h0.6M191.6 599.2h0.6M192.0 599.6h0.6M194.9 600.7h0.6M188.4 601.2h0.6M195.0 599.5h0.6M178.4 602.8h0.6M190.5 598.1h0.6M192.9 598.3h0.6M197.1 601.6h0.6M184.3 602.9h0.6M190.4 601.7h0.6M196.2 600.4h0.6M188.4 602.1h0.6M195.6 599.3h0.6M190.9 600.5h0.6M188.0 598.8h0.6M189.2 599.8h0.6M195.0 604.9h0.6M187.7 600.8h0.6M196.2 602.1h0.6M188.5 601.6h0.6M189.4 600.6h0.6M209.3 600.0h0.6M196.6 601.4h0.6M194.5 599.9h0.6M198.9 601.3h0.6M189.6 604.2h0.6M190.0 602.3h0.6M196.6 600.2h0.6M190.3 596.1h0.6M200.0 599.1h0.6M189.7 604.5h0.6M183.9 601.0h0.6M193.1 599.7h0.6M198.0 599.1h0.6M193.4 602.5h0.6M201.9 598.8h0.6M199.8 602.5h0.6M184.1 601.5h0.6M197.9 601.2h0.6M188.0 599.7h0.6M196.2 600.8h0.6M200.2 602.6h0.6M193.5 600.8h0.6M200.7 601.9h0.6M200.9 597.7h0.6M197.0 599.7h0.6M201.4 597.5h0.6M190.5 601.2h0.6M193.5 602.8h0.6M191.7 603.2h0.6M193.3 598.8h0.6M183.9 598.9h0.6M200.9 596.8h0.6M180.8 603.3h0.6M187.2 598.6h0.6M200.0 600.1h0.6M196.4 600.4h0.6M190.5 601.5h0.6M193.4 601.2h0.6M195.1 601.0h0.6M188.1 599.8h0.6M192.6 602.8h0.6M194.8 600.2h0.6M184.0 604.9h0.6M181.9 606.9h0.6M195.3 598.9h0.6M195.7 602.1h0.6M212.6 597.1h0.6M187.1 602.1h0.6M191.8 600.5h0.6M203.3 600.8h0.6M195.5 601.3h0.6M194.4 604.7h0.6M191.3 602.1h0.6M193.9 598.9h0.6M191.9 603.3h0.6M192.8 596.3h0.6M198.8 603.8h0.6M196.9 600.5h0.6M204.0 597.5h0.6M198.8 601.4h0.6M190.5 602.5h0.6M187.9 600.8h0.6M184.2 602.0h0.6M189.5 606.0h0.6M196.7 600.9h0.6M194.4 600.8h0.6M192.0 600.9h0.6M193.9 602.1h0.6M200.7 597.8h0.6M195.9 597.3h0.6M191.6 600.1h0.6M197.9 597.0h0.6M198.8 600.6h0.6M201.1 601.2h0.6M190.4 601.9h0.6M202.7 597.3h0.6M187.8 601.0h0.6M197.6 598.4h0.6M190.9 597.3h0.6M188.2 602.2h0.6M199.7 600.8h0.6M208.2 595.2h0.6M192.7 604.0h0.6M199.8 596.5h0.6M194.2 600.8h0.6M197.7 598.2h0.6M184.9 600.4h0.6M202.6 598.0h0.6M186.9 603.4h0.6M193.5 597.9h0.6M195.5 606.4h0.6M190.9 603.4h0.6M202.4 598.1h0.6M197.6 603.5h0.6M195.4 600.2h0.6M195.4 594.3h0.6M186.8 597.9h0.6M196.4 596.7h0.6M197.0 599.0h0.6M197.3 603.0h0.6M200.4 598.7h0.6M190.7 600.3h0.6M197.5 604.0h0.6M189.3 599.7h0.6M192.1 599.0h0.6M190.8 598.1h0.6M189.6 602.2h0.6M192.0 600.9h0.6M192.3 599.0h0.6M193.8 601.9h0.6M191.1 599.1h0.6M190.3 598.7h0.6M197.6 598.0h0.6M197.2 599.6h0.6M190.6 603.5h0.6M191.1 599.5h0.6M190.2 603.4h0.6M197.7 597.3h0.6M195.6 604.3h0.6M195.5 599.9h0.6M189.6 598.9h0.6M199.9 599.1h0.6M189.2 600.8h0.6M196.9 596.4h0.6M184.7 599.7h0.6M186.4 600.5h0.6M188.3 605.3h0.6M199.0 600.8h0.6M190.4 603.9h0.6M196.2 602.7h0.6M193.0 598.6h0.6M188.9 604.2h0.6M194.0 600.3h0.6M190.4 604.8h0.6M201.2 601.4h0.6M182.4 600.9h0.6M190.8 601.3h0.6M192.5 603.5h0.6M202.6 597.8h0.6M201.5 598.4h0.6M183.2 600.4h0.6M196.3 598.8h0.6M191.6 600.3h0.6M198.0 598.1h0.6M194.4 597.8h0.6M207.7 600.3h0.6M193.0 599.4h0.6M195.2 601.8h0.6M198.7 599.6h0.6M197.4 602.4h0.6M206.9 595.0h0.6M185.8 599.6h0.6M197.9 597.1h0.6M206.8 597.8h0.6M190.4 601.9h0.6M200.6 598.1h0.6M184.9 601.9h0.6M199.5 601.3h0.6M194.9 596.3h0.6M199.1 601.4h0.6M194.9 600.1h0.6M190.2 599.6h0.6M202.3 598.8h0.6M197.5 599.8h0.6M197.8 598.1h0.6M202.0 599.5h0.6M182.8 600.0h0.6M187.9 603.1h0.6M197.2 597.7h0.6M190.9 600.3h0.6M195.4 599.2h0.6M182.8 599.2h0.6M192.4 604.8h0.6M194.0 605.1h0.6M194.0 600.9h0.6M189.4 599.9h0.6M194.0 601.7h0.6M197.8 600.8h0.6M187.5 599.3h0.6M194.8 601.2h0.6M198.3 601.8h0.6M186.9 600.7h0.6M192.3 599.5h0.6M194.8 601.4h0.6M194.8 600.8h0.6M196.8 602.5h0.6M188.5 600.3h0.6M191.9 606.6h0.6M197.0 602.9h0.6M179.0 603.1h0.6M188.5 597.0h0.6M186.5 603.4h0.6M189.2 601.9h0.6M188.9 604.0h0.6M189.7 600.8h0.6M194.7 600.5h0.6M194.6 598.7h0.6M200.7 599.1h0.6M198.7 598.9h0.6M200.3 596.5h0.6M196.0 599.7h0.6M181.8 602.8h0.6M188.2 602.8h0.6M192.0 600.4h0.6M190.4 602.4h0.6M201.8 600.5h0.6M194.3 597.2h0.6M198.3 601.2h0.6M188.6 601.4h0.6M187.4 603.6h0.6M201.9 596.7h0.6M191.5 599.2h0.6M197.4 600.6h0.6M195.1 598.9h0.6M202.4 603.3h0.6M201.3 598.2h0.6M187.7 601.6h0.6M198.6 597.2h0.6M187.7 603.4h0.6M204.1 595.7h0.6M191.0 604.6h0.6M197.2 602.0h0.6M202.0 595.4h0.6M201.0 600.3h0.6M193.0 602.3h0.6M204.3 602.1h0.6M197.2 605.6h0.6M191.7 597.1h0.6M193.7 598.8h0.6M185.4 602.7h0.6M186.6 600.3h0.6M198.2 600.0h0.6M193.1 598.7h0.6M191.4 603.6h0.6M195.6 599.2h0.6M196.9 601.1h0.6M194.8 601.3h0.6M187.6 601.1h0.6M195.3 599.6h0.6M185.6 601.9h0.6M193.4 600.0h0.6M189.1 602.4h0.6M200.8 601.2h0.6M192.2 603.5h0.6M191.0 601.0h0.6M200.0 601.5h0.6M186.6 600.1h0.6M194.5 601.4h0.6M194.9 601.2h0.6M195.8 598.8h0.6M186.5 598.3h0.6M190.1 599.6h0.6M193.5 599.2h0.6M192.9 599.4h0.6M191.9 597.9h0.6M199.9 599.1h0.6M190.2 599.4h0.6M183.0 601.8h0.6M188.9 597.6h0.6M199.2 597.3h0.6M199.9 595.9h0.6M196.1 598.2h0.6M184.9 602.1h0.6M191.6 596.5h0.6M186.3 605.3h0.6M199.8 597.1h0.6M198.9 602.6h0.6M201.1 596.9h0.6M203.0 599.3h0.6M188.9 599.4h0.6M187.7 602.0h0.6M199.0 600.7h0.6M187.4 604.5h0.6M191.6 603.8h0.6M194.1 601.2h0.6M183.9 602.2h0.6M198.0 597.1h0.6M196.1 596.1h0.6M198.8 597.1h0.6M194.4 597.5h0.6M194.6 600.4h0.6M190.0 603.5h0.6M185.1 601.7h0.6M202.0 600.6h0.6M191.5 600.1h0.6M190.1 605.5h0.6M191.7 600.1h0.6M192.4 598.9h0.6M182.3 600.2h0.6M200.0 601.6h0.6M194.5 597.8h0.6M189.1 604.0h0.6M203.3 600.1h0.6M189.1 605.5h0.6M191.5 602.7h0.6M193.6 602.2h0.6M184.5 604.0h0.6M197.3 599.8h0.6M182.4 600.1h0.6M196.9 598.6h0.6M186.2 600.2h0.6M196.2 600.0h0.6M191.0 602.5h0.6M199.8 597.0h0.6M202.3 601.4h0.6M195.3 600.7h0.6M193.3 597.5h0.6M202.6 596.4h0.6M182.9 601.9h0.6M190.7 599.0h0.6M179.4 603.6h0.6M202.5 597.8h0.6M192.5 603.0h0.6M196.1 601.5h0.6M192.4 601.3h0.6M196.4 600.9h0.6M187.7 601.7h0.6M196.9 605.9h0.6M190.3 602.7h0.6M202.5 601.2h0.6M203.3 601.3h0.6M191.9 599.9h0.6M197.8 600.2h0.6M195.4 596.6h0.6M187.4 598.6h0.6M194.7 599.4h0.6M184.7 599.1h0.6M188.6 602.6h0.6M209.5 594.5h0.6M197.4 597.6h0.6M193.0 601.9h0.6M187.9 600.1h0.6M191.0 600.6h0.6M191.1 600.9h0.6M194.0 599.8h0.6M191.2 601.3h0.6M198.5 595.2h0.6M188.7 603.2h0.6M194.9 602.9h0.6M194.2 600.2h0.6M196.8 602.7h0.6M183.8 602.1h0.6M197.8 602.1h0.6M189.2 602.8h0.6M202.0 599.6h0.6M192.7 600.2h0.6M191.3 600.7h0.6M191.7 601.0h0.6M196.1 603.8h0.6M194.3 601.8h0.6M188.3 599.7h0.6M194.5 598.6h0.6M194.3 598.0h0.6M189.0 601.5h0.6M200.9 600.2h0.6M198.8 596.6h0.6M191.6 601.1h0.6M198.2 601.3h0.6M191.4 601.4h0.6M188.3 602.3h0.6M187.1 602.7h0.6M190.8 595.2h0.6M196.5 604.1h0.6M196.9 599.7h0.6M195.5 596.4h0.6M191.3 605.1h0.6M184.5 601.9h0.6M198.5 598.5h0.6M190.9 600.3h0.6M189.6 602.0h0.6M200.2 596.9h0.6M189.5 603.2h0.6M194.3 603.6h0.6M194.0 599.9h0.6M194.3 601.7h0.6M206.5 598.4h0.6M192.7 599.0h0.6M199.0 602.2h0.6M196.3 599.5h0.6M188.2 599.1h0.6M179.9 601.7h0.6M196.8 597.0h0.6M196.9 598.0h0.6M196.0 597.8h0.6M207.5 600.4h0.6M190.0 602.7h0.6M191.1 602.4h0.6M198.9 605.7h0.6M196.7 597.4h0.6M182.5 601.9h0.6M193.2 598.6h0.6M195.5 601.3h0.6M191.6 598.4h0.6M189.4 599.8h0.6M202.9 600.7h0.6M192.0 600.4h0.6M198.5 601.3h0.6M195.1 598.8h0.6M190.9 601.7h0.6M201.1 601.8h0.6M202.8 597.1h0.6M191.9 600.7h0.6M189.8 602.6h0.6M207.5 600.7h0.6M196.7 600.0h0.6M197.7 597.5h0.6M190.6 602.2h0.6M192.3 599.5h0.6M185.4 603.0h0.6M190.7 601.4h0.6M192.7 603.3h0.6M188.6 604.0h0.6M193.3 601.0h0.6M200.2 599.0h0.6M196.6 598.3h0.6M193.9 600.7h0.6M197.1 596.4h0.6M195.3 600.3h0.6M191.8 599.1h0.6M200.3 595.4h0.6M193.8 599.3h0.6M190.1 598.3h0.6M186.6 601.6h0.6M195.2 600.6h0.6M190.4 602.9h0.6M203.9 597.4h0.6M191.8 602.2h0.6M192.4 599.0h0.6M191.6 600.6h0.6M194.4 603.0h0.6M194.7 601.3h0.6M186.3 604.1h0.6M200.4 597.0h0.6M205.3 600.5h0.6M194.7 599.2h0.6M194.0 598.0h0.6M190.5 599.3h0.6M189.1 602.0h0.6M194.5 601.6h0.6M195.3 600.2h0.6M188.0 605.2h0.6M191.5 604.0h0.6M202.6 599.1h0.6M193.8 599.6h0.6M191.8 605.0h0.6M191.5 603.4h0.6M186.8 604.8h0.6M193.2 599.5h0.6M187.9 603.6h0.6M196.9 603.4h0.6M197.8 597.3h0.6M193.6 597.9h0.6M194.6 600.4h0.6M196.9 600.2h0.6M199.7 594.7h0.6M189.7 603.4h0.6M189.0 600.7h0.6M191.2 600.4h0.6M186.9 599.5h0.6M192.0 600.0h0.6M190.0 601.5h0.6M203.3 598.1h0.6M199.3 600.5h0.6M188.6 599.1h0.6M191.1 599.1h0.6M196.6 600.4h0.6M187.4 602.9h0.6M190.1 600.4h0.6M194.8 601.7h0.6M192.9 601.1h0.6M192.2 604.4h0.6M186.9 605.0h0.6M191.3 599.5h0.6M200.1 599.7h0.6M198.3 595.7h0.6M196.2 604.8h0.6M193.7 601.0h0.6M194.1 600.9h0.6M201.0 599.8h0.6M189.5 602.1h0.6M192.1 601.1h0.6M189.3 599.2h0.6M204.2 597.6h0.6M194.0 601.9h0.6M197.7 600.3h0.6M194.2 602.1h0.6M196.4 601.5h0.6M189.5 600.9h0.6M194.3 599.6h0.6M197.3 598.7h0.6M199.8 601.0h0.6M191.5 600.9h0.6M193.1 600.9h0.6M186.0 604.0h0.6M195.8 601.7h0.6M202.4 598.0h0.6M198.0 600.5h0.6M196.4 598.5h0.6M197.1 597.0h0.6M200.5 597.3h0.6M191.9 601.5h0.6M190.4 604.8h0.6M188.2 598.0h0.6M197.7 603.0h0.6M193.1 601.5h0.6M192.1 598.1h0.6M191.5 600.7h0.6M199.3 600.3h0.6M184.6 602.0h0.6M200.7 599.0h0.6M197.7 594.8h0.6M196.6 600.8h0.6M199.0 599.4h0.6M194.5 599.5h0.6M195.9 599.5h0.6M195.4 600.0h0.6M191.0 600.1h0.6M198.6 600.6h0.6M198.4 604.1h0.6M196.1 604.2h0.6M192.7 601.4h0.6M189.3 602.3h0.6M194.5 599.7h0.6M198.5 597.7h0.6M188.5 596.6h0.6M185.2 604.2h0.6M196.3 603.6h0.6M184.4 604.7h0.6M206.1 594.0h0.6M190.1 598.8h0.6M191.7 600.1h0.6M191.9 600.2h0.6M193.4 597.1h0.6M194.0 598.6h0.6M188.3 600.2h0.6M192.0 602.0h0.6M194.7 598.6h0.6M193.4 600.2h0.6M189.7 599.3h0.6M200.8 600.5h0.6M193.4 602.9h0.6M186.3 598.1h0.6M193.0 600.9h0.6M194.3 602.3h0.6M183.8 602.0h0.6M195.3 601.5h0.6M190.3 600.8h0.6M190.2 603.9h0.6M197.7 602.2h0.6M199.0 602.0h0.6M198.8 597.6h0.6M201.6 598.2h0.6M194.6 599.9h0.6M196.3 599.3h0.6M197.0 598.9h0.6M193.5 599.2h0.6M193.3 598.2h0.6M202.0 600.3h0.6M198.9 599.5h0.6M199.4 596.1h0.6M201.5 597.0h0.6M187.4 600.1h0.6M193.2 599.6h0.6M193.6 597.8h0.6M188.9 601.7h0.6M197.4 601.2h0.6M202.6 597.1h0.6M193.4 603.6h0.6M198.0 603.2h0.6M187.9 599.6h0.6M192.3 602.9h0.6M200.4 602.1h0.6M203.4 601.3h0.6M189.0 604.7h0.6M190.1 601.6h0.6M203.7 602.1h0.6M191.3 602.6h0.6M196.7 595.2h0.6M191.5 599.0h0.6M194.8 601.3h0.6M201.6 599.8h0.6M198.3 598.3h0.6M189.8 598.1h0.6M197.5 599.1h0.6M189.0 601.1h0.6M190.5 598.7h0.6M202.5 598.3h0.6M186.3 602.9h0.6M196.6 598.5h0.6M187.5 602.9h0.6M201.5 594.7h0.6M184.1 602.5h0.6M194.6 600.9h0.6M194.9 599.8h0.6M194.1 596.1h0.6M196.1 598.9h0.6M189.1 603.3h0.6M196.5 599.5h0.6M194.9 604.2h0.6M188.5 600.0h0.6M186.3 599.8h0.6M188.4 601.6h0.6M200.7 598.1h0.6M195.9 602.1h0.6M186.7 598.1h0.6M197.6 601.8h0.6M192.0 601.8h0.6M191.3 602.4h0.6M187.3 600.8h0.6M206.8 598.8h0.6M197.3 596.2h0.6M193.9 598.7h0.6M194.1 596.0h0.6M191.7 600.6h0.6M193.2 598.9h0.6M199.3 601.2h0.6M191.0 600.3h0.6M201.3 599.9h0.6M197.6 601.3h0.6M198.4 599.8h0.6M192.4 599.4h0.6M191.1 598.0h0.6M187.4 600.7h0.6M196.8 599.3h0.6M196.2 598.4h0.6M193.3 599.1h0.6M196.3 600.2h0.6M195.4 598.3h0.6M191.1 604.9h0.6M198.1 601.3h0.6M198.3 598.9h0.6M200.2 597.9h0.6M198.6 599.2h0.6M197.2 604.1h0.6M199.5 600.5h0.6M189.5 597.5h0.6M204.0 600.1h0.6M200.7 598.3h0.6M208.2 595.3h0.6M196.3 602.2h0.6M183.4 601.1h0.6M186.7 601.7h0.6M195.6 599.6h0.6M195.1 597.0h0.6M194.4 597.9h0.6M193.6 606.0h0.6M202.0 602.2h0.6M200.3 598.4h0.6M189.1 602.4h0.6M188.5 604.2h0.6M195.7 598.9h0.6M191.2 602.0h0.6M184.4 597.8h0.6M189.1 602.4h0.6M195.6 598.4h0.6M198.3 597.9h0.6M185.7 602.0h0.6M195.8 600.1h0.6M191.6 602.4h0.6M194.3 599.9h0.6M198.4 599.4h0.6M194.8 598.9h0.6M196.4 602.5h0.6M190.1 601.7h0.6M187.9 601.8h0.6M188.1 601.5h0.6M186.7 602.9h0.6M195.5 597.7h0.6M193.6 600.8h0.6M200.0 598.8h0.6M197.6 600.3h0.6M201.1 599.0h0.6M184.4 604.3h0.6M195.0 603.4h0.6M196.6 601.6h0.6M192.4 599.8h0.6M192.5 605.6h0.6M198.5 597.7h0.6M184.9 600.8h0.6M194.7 599.3h0.6M198.4 600.5h0.6M199.2 597.2h0.6M195.8 601.2h0.6M186.5 601.8h0.6M189.8 604.1h0.6M192.0 602.5h0.6M194.7 596.9h0.6M189.6 598.9h0.6M190.9 599.3h0.6M200.5 598.9h0.6M201.1 599.2h0.6M195.2 599.7h0.6M186.4 603.6h0.6M195.8 601.7h0.6M192.0 600.1h0.6M201.2 597.5h0.6M183.7 602.5h0.6M191.9 604.4h0.6M198.5 601.8h0.6M207.5 595.6h0.6M205.9 598.0h0.6M193.9 598.9h0.6M198.9 605.5h0.6M192.2 601.8h0.6M198.7 597.8h0.6M193.0 599.9h0.6M195.0 599.6h0.6M203.7 599.3h0.6M193.3 601.7h0.6M191.2 604.7h0.6M196.4 600.4h0.6M186.7 601.1h0.6M187.8 600.6h0.6M196.2 597.7h0.6M195.8 604.4h0.6M184.3 602.5h0.6M191.9 603.2h0.6M199.8 598.4h0.6M194.5 596.4h0.6M198.2 598.3h0.6M195.9 599.6h0.6M206.7 598.8h0.6M197.2 600.7h0.6M191.0 600.6h0.6M184.0 598.8h0.6M194.6 600.4h0.6M186.5 601.6h0.6M191.5 601.2h0.6M183.1 601.8h0.6M199.0 598.3h0.6M192.6 603.6h0.6M206.6 595.2h0.6M186.5 600.9h0.6M198.2 598.6h0.6M198.7 597.2h0.6M193.6 598.8h0.6M184.0 597.1h0.6M191.2 599.4h0.6M184.8 600.1h0.6M192.3 604.1h0.6M191.1 599.6h0.6M195.4 600.5h0.6M186.4 602.1h0.6M190.5 598.7h0.6M194.5 602.9h0.6M195.7 599.0h0.6M196.9 602.2h0.6M191.7 601.6h0.6M197.6 595.9h0.6M188.4 600.5h0.6" stroke="#000" stroke-width="0.6" stroke-opacity="0.8" fill="none"/><rect x="164.3" y="469.5" width="77.00" height="74.40" fill="none" stroke="#231f20" stroke-width="1.1"/><rect x="164.3" y="546.5" width="77.20" height="74.90" fill="none" stroke="#231f20" stroke-width="1.1"/><polygon points="178.2,497.5 194.6,481.4 211.9,483.2 197.7,498.7" fill="none" stroke="#231f20" stroke-width="1.0"/><polygon points="215.0,484.0 224.9,531.6 201.5,531.6 201.5,515.2 198.0,509.0 198.0,498.7" fill="none" stroke="#231f20" stroke-width="1.0"/><rect x="175.9" y="516.4" width="25.30" height="15.60" fill="none" stroke="#231f20" stroke-width="1.0"/><text x="173" y="481.8" font-size="6.8">F</text><text x="173" y="489.8" font-size="6.8">1.82</text><text x="222" y="489.4" font-size="6.8">E</text><text x="222" y="498.3" font-size="6.8">36.0</text><text x="167.8" y="531.7" font-size="6.8">D</text><text x="167.3" y="539.8" font-size="6.8">56.0</text><polygon points="184.8,573.4 201.3,558.0 219.3,560.5 203.0,577.0" fill="none" stroke="#231f20" stroke-width="1.0"/><polygon points="219.3,560.5 229.9,608.1 206.0,608.1 206.0,592.9 203.0,590.8 203.0,577.0" fill="none" stroke="#231f20" stroke-width="1.0"/><rect x="181.3" y="592.9" width="24.70" height="15.90" fill="none" stroke="#231f20" stroke-width="1.0"/><text x="176.4" y="561.3" font-size="6.8">F</text><text x="176.4" y="568.7" font-size="6.8">0.02</text><text x="226.7" y="570.8" font-size="6.8">E</text><text x="226.7" y="578.1" font-size="6.8">0.08</text><text x="170.7" y="609.5" font-size="6.8">D</text><text x="170.7" y="616.7" font-size="6.8">98.3</text><line x1="288.7" y1="480.8" x2="288.7" y2="622.4" stroke="#231f20" stroke-width="1.2"/><line x1="288.09999999999997" y1="621.8" x2="497.70000000000005" y2="621.8" stroke="#231f20" stroke-width="1.2"/><line x1="497.1" y1="480.8" x2="497.1" y2="622.4" stroke="#231f20" stroke-width="1.2"/><line x1="285.5" y1="621.8" x2="288.7" y2="621.8" stroke="#231f20" stroke-width="1.0"/><text x="282.9" y="624.6999999999999" font-size="8.2" text-anchor="end">0</text><line x1="285.5" y1="575.6333333333333" x2="288.7" y2="575.6333333333333" stroke="#231f20" stroke-width="1.0"/><text x="282.9" y="578.5333333333333" font-size="8.2" text-anchor="end">2</text><line x1="285.5" y1="529.4666666666667" x2="288.7" y2="529.4666666666667" stroke="#231f20" stroke-width="1.0"/><text x="282.9" y="532.3666666666667" font-size="8.2" text-anchor="end">4</text><line x1="285.5" y1="483.3" x2="288.7" y2="483.3" stroke="#231f20" stroke-width="1.0"/><text x="282.9" y="486.2" font-size="8.2" text-anchor="end">6</text><line x1="497.1" y1="621.8" x2="500.3" y2="621.8" stroke="#231f20" stroke-width="1.0"/><text x="502.3" y="624.6999999999999" font-size="8.2">0</text><line x1="497.1" y1="594.02" x2="500.3" y2="594.02" stroke="#231f20" stroke-width="1.0"/><text x="502.3" y="596.92" font-size="8.2">10</text><line x1="497.1" y1="566.24" x2="500.3" y2="566.24" stroke="#231f20" stroke-width="1.0"/><text x="502.3" y="569.14" font-size="8.2">20</text><line x1="497.1" y1="538.4599999999999" x2="500.3" y2="538.4599999999999" stroke="#231f20" stroke-width="1.0"/><text x="502.3" y="541.3599999999999" font-size="8.2">30</text><line x1="497.1" y1="510.67999999999995" x2="500.3" y2="510.67999999999995" stroke="#231f20" stroke-width="1.0"/><text x="502.3" y="513.5799999999999" font-size="8.2">40</text><line x1="497.1" y1="482.9" x2="500.3" y2="482.9" stroke="#231f20" stroke-width="1.0"/><text x="502.3" y="485.79999999999995" font-size="8.2">50</text><text transform="translate(273.2 579.7) rotate(-90)" x="0" y="0" font-size="9.9" font-weight="bold" textLength="57" lengthAdjust="spacingAndGlyphs">% of total BM cells</text><line x1="392.7" y1="484.8" x2="392.7" y2="621.8" stroke="#231f20" stroke-width="1.2" stroke-dasharray="2.4 2.1"/><circle cx="461.50" cy="490.40" r="2.7" fill="none" stroke="#c22a4a" stroke-width="1.1"/><text x="467.4" y="492.6" font-size="7.5">LMC</text><circle cx="461.70" cy="501.80" r="2.3" fill="#5a2670"/><text x="467.6" y="503.9" font-size="7.5">DPWY</text><line x1="297.5" y1="628.1" x2="318.8" y2="628.1" stroke="#231f20" stroke-width="1.0"/><text x="308.15" y="638" font-size="8.2" text-anchor="middle">A</text><line x1="330" y1="628.1" x2="351.3" y2="628.1" stroke="#231f20" stroke-width="1.0"/><text x="340.65" y="638" font-size="8.2" text-anchor="middle">B</text><line x1="362.5" y1="628.1" x2="383.8" y2="628.1" stroke="#231f20" stroke-width="1.0"/><text x="373.15" y="638" font-size="8.2" text-anchor="middle">C</text><line x1="401.5" y1="628.1" x2="423" y2="628.1" stroke="#231f20" stroke-width="1.0"/><text x="412.25" y="638" font-size="8.2" text-anchor="middle">D</text><line x1="434.4" y1="628.1" x2="455.9" y2="628.1" stroke="#231f20" stroke-width="1.0"/><text x="445.15" y="638" font-size="8.2" text-anchor="middle">E</text><line x1="466.7" y1="628.1" x2="488.2" y2="628.1" stroke="#231f20" stroke-width="1.0"/><text x="477.45" y="638" font-size="8.2" text-anchor="middle">F</text><circle cx="300.00" cy="605.00" r="2.8" fill="none" stroke="#c22a4a" stroke-width="1.0"/><circle cx="297.00" cy="618.60" r="2.8" fill="none" stroke="#c22a4a" stroke-width="1.0"/><circle cx="303.00" cy="618.60" r="2.8" fill="none" stroke="#c22a4a" stroke-width="1.0"/><circle cx="300.00" cy="617.50" r="2.8" fill="none" stroke="#c22a4a" stroke-width="1.0"/><line x1="294.5" y1="615.5" x2="305.5" y2="615.5" stroke="#231f20" stroke-width="1.1"/><line x1="300" y1="612" x2="300" y2="618.8" stroke="#231f20" stroke-width="1.1"/><line x1="296.7" y1="612" x2="303.3" y2="612" stroke="#231f20" stroke-width="1.1"/><line x1="296.7" y1="618.8" x2="303.3" y2="618.8" stroke="#231f20" stroke-width="1.1"/><line x1="311.3" y1="590.5" x2="322.3" y2="590.5" stroke="#231f20" stroke-width="1.1"/><line x1="316.8" y1="584.5" x2="316.8" y2="595.5" stroke="#231f20" stroke-width="1.1"/><line x1="313.5" y1="584.5" x2="320.1" y2="584.5" stroke="#231f20" stroke-width="1.1"/><line x1="313.5" y1="595.5" x2="320.1" y2="595.5" stroke="#231f20" stroke-width="1.1"/><circle cx="316.80" cy="569.50" r="2.5" fill="#5a2670"/><circle cx="313.80" cy="580.00" r="2.5" fill="#5a2670"/><circle cx="320.00" cy="585.50" r="2.5" fill="#5a2670"/><circle cx="313.80" cy="594.30" r="2.5" fill="#5a2670"/><circle cx="320.00" cy="600.00" r="2.5" fill="#5a2670"/><circle cx="316.80" cy="606.30" r="2.5" fill="#5a2670"/><polyline points="299.5,592.5 299.5,552.5 317.5,552.5 317.5,559.5" fill="none" stroke="#231f20" stroke-width="1.1"/><text x="308.5" y="551.9" font-size="7.6" text-anchor="middle" font-weight="bold">*</text><circle cx="332.50" cy="487.10" r="2.8" fill="none" stroke="#c22a4a" stroke-width="1.0"/><circle cx="332.50" cy="493.50" r="2.8" fill="none" stroke="#c22a4a" stroke-width="1.0"/><circle cx="330.00" cy="540.00" r="2.8" fill="none" stroke="#c22a4a" stroke-width="1.0"/><circle cx="335.50" cy="540.00" r="2.8" fill="none" stroke="#c22a4a" stroke-width="1.0"/><line x1="327.0" y1="515" x2="338.0" y2="515" stroke="#231f20" stroke-width="1.1"/><line x1="332.5" y1="500.2" x2="332.5" y2="529.3" stroke="#231f20" stroke-width="1.1"/><line x1="329.2" y1="500.2" x2="335.8" y2="500.2" stroke="#231f20" stroke-width="1.1"/><line x1="329.2" y1="529.3" x2="335.8" y2="529.3" stroke="#231f20" stroke-width="1.1"/><line x1="343.8" y1="600.8" x2="354.8" y2="600.8" stroke="#231f20" stroke-width="1.1"/><line x1="349.3" y1="592" x2="349.3" y2="609.3" stroke="#231f20" stroke-width="1.1"/><line x1="346.0" y1="592" x2="352.6" y2="592" stroke="#231f20" stroke-width="1.1"/><line x1="346.0" y1="609.3" x2="352.6" y2="609.3" stroke="#231f20" stroke-width="1.1"/><circle cx="349.30" cy="579.50" r="2.5" fill="#5a2670"/><circle cx="346.30" cy="592.50" r="2.5" fill="#5a2670"/><circle cx="352.50" cy="594.50" r="2.5" fill="#5a2670"/><circle cx="349.30" cy="605.00" r="2.5" fill="#5a2670"/><circle cx="346.30" cy="615.00" r="2.5" fill="#5a2670"/><circle cx="352.50" cy="614.50" r="2.5" fill="#5a2670"/><polyline points="332.5,478.2 332.5,474.4 351.1,474.4 351.1,570" fill="none" stroke="#231f20" stroke-width="1.1"/><text x="341.8" y="473.79999999999995" font-size="7.6" text-anchor="middle" font-weight="bold">***</text><circle cx="365.50" cy="599.50" r="2.8" fill="none" stroke="#c22a4a" stroke-width="1.0"/><circle cx="362.50" cy="613.00" r="2.8" fill="none" stroke="#c22a4a" stroke-width="1.0"/><circle cx="368.80" cy="608.80" r="2.8" fill="none" stroke="#c22a4a" stroke-width="1.0"/><circle cx="365.50" cy="611.00" r="2.8" fill="none" stroke="#c22a4a" stroke-width="1.0"/><line x1="360.5" y1="607" x2="370.5" y2="607" stroke="#231f20" stroke-width="1.1"/><line x1="365.5" y1="605" x2="365.5" y2="609" stroke="#231f20" stroke-width="1.1"/><line x1="362.5" y1="605" x2="368.5" y2="605" stroke="#231f20" stroke-width="1.1"/><line x1="362.5" y1="609" x2="368.5" y2="609" stroke="#231f20" stroke-width="1.1"/><circle cx="379.00" cy="620.80" r="2.6" fill="#5a2670"/><circle cx="381.50" cy="621.80" r="2.6" fill="#5a2670"/><circle cx="384.00" cy="620.80" r="2.6" fill="#5a2670"/><circle cx="386.50" cy="621.60" r="2.6" fill="#5a2670"/><circle cx="382.50" cy="620.20" r="2.6" fill="#5a2670"/><polyline points="365,590.5 365,586.3 381.8,586.3 381.8,619.5" fill="none" stroke="#231f20" stroke-width="1.1"/><text x="373.4" y="585.6999999999999" font-size="7.6" text-anchor="middle" font-weight="bold">***</text><circle cx="403.70" cy="494.80" r="2.8" fill="none" stroke="#c22a4a" stroke-width="1.0"/><circle cx="403.70" cy="506.30" r="2.8" fill="none" stroke="#c22a4a" stroke-width="1.0"/><circle cx="401.00" cy="534.10" r="2.8" fill="none" stroke="#c22a4a" stroke-width="1.0"/><circle cx="406.40" cy="531.90" r="2.8" fill="none" stroke="#c22a4a" stroke-width="1.0"/><line x1="398.2" y1="517.1" x2="409.2" y2="517.1" stroke="#231f20" stroke-width="1.1"/><line x1="403.7" y1="507.2" x2="403.7" y2="526.5" stroke="#231f20" stroke-width="1.1"/><line x1="400.4" y1="507.2" x2="407.0" y2="507.2" stroke="#231f20" stroke-width="1.1"/><line x1="400.4" y1="526.5" x2="407.0" y2="526.5" stroke="#231f20" stroke-width="1.1"/><circle cx="418.50" cy="617.00" r="2.5" fill="#5a2670"/><circle cx="420.50" cy="618.50" r="2.5" fill="#5a2670"/><circle cx="422.00" cy="620.00" r="2.5" fill="#5a2670"/><circle cx="419.50" cy="620.50" r="2.5" fill="#5a2670"/><polyline points="402,484 402,479.4 419.8,479.4 419.8,600.4" fill="none" stroke="#231f20" stroke-width="1.1"/><text x="410.9" y="478.79999999999995" font-size="7.6" text-anchor="middle" font-weight="bold">***</text><circle cx="436.50" cy="564.20" r="2.8" fill="none" stroke="#c22a4a" stroke-width="1.0"/><circle cx="433.80" cy="607.10" r="2.8" fill="none" stroke="#c22a4a" stroke-width="1.0"/><circle cx="439.80" cy="607.10" r="2.8" fill="none" stroke="#c22a4a" stroke-width="1.0"/><circle cx="436.80" cy="606.00" r="2.8" fill="none" stroke="#c22a4a" stroke-width="1.0"/><line x1="431.3" y1="595.8" x2="442.3" y2="595.8" stroke="#231f20" stroke-width="1.1"/><line x1="436.8" y1="585.6" x2="436.8" y2="606.3" stroke="#231f20" stroke-width="1.1"/><line x1="433.5" y1="585.6" x2="440.1" y2="585.6" stroke="#231f20" stroke-width="1.1"/><line x1="433.5" y1="606.3" x2="440.1" y2="606.3" stroke="#231f20" stroke-width="1.1"/><circle cx="449.80" cy="621.30" r="2.6" fill="#5a2670"/><circle cx="452.50" cy="621.80" r="2.6" fill="#5a2670"/><circle cx="455.20" cy="621.30" r="2.6" fill="#5a2670"/><polyline points="437,553.5 437,549.4 453.2,549.4 453.2,607.9" fill="none" stroke="#231f20" stroke-width="1.1"/><text x="445.1" y="548.8" font-size="7.6" text-anchor="middle" font-weight="bold">*</text><circle cx="466.30" cy="621.70" r="2.7" fill="none" stroke="#c22a4a" stroke-width="1.1"/><circle cx="469.50" cy="621.70" r="2.7" fill="none" stroke="#c22a4a" stroke-width="1.1"/><circle cx="472.70" cy="621.70" r="2.7" fill="none" stroke="#c22a4a" stroke-width="1.1"/><circle cx="482.80" cy="621.50" r="2.6" fill="#5a2670"/><circle cx="485.80" cy="621.80" r="2.6" fill="#5a2670"/><circle cx="488.80" cy="621.50" r="2.6" fill="#5a2670"/></svg>
</body></html>
